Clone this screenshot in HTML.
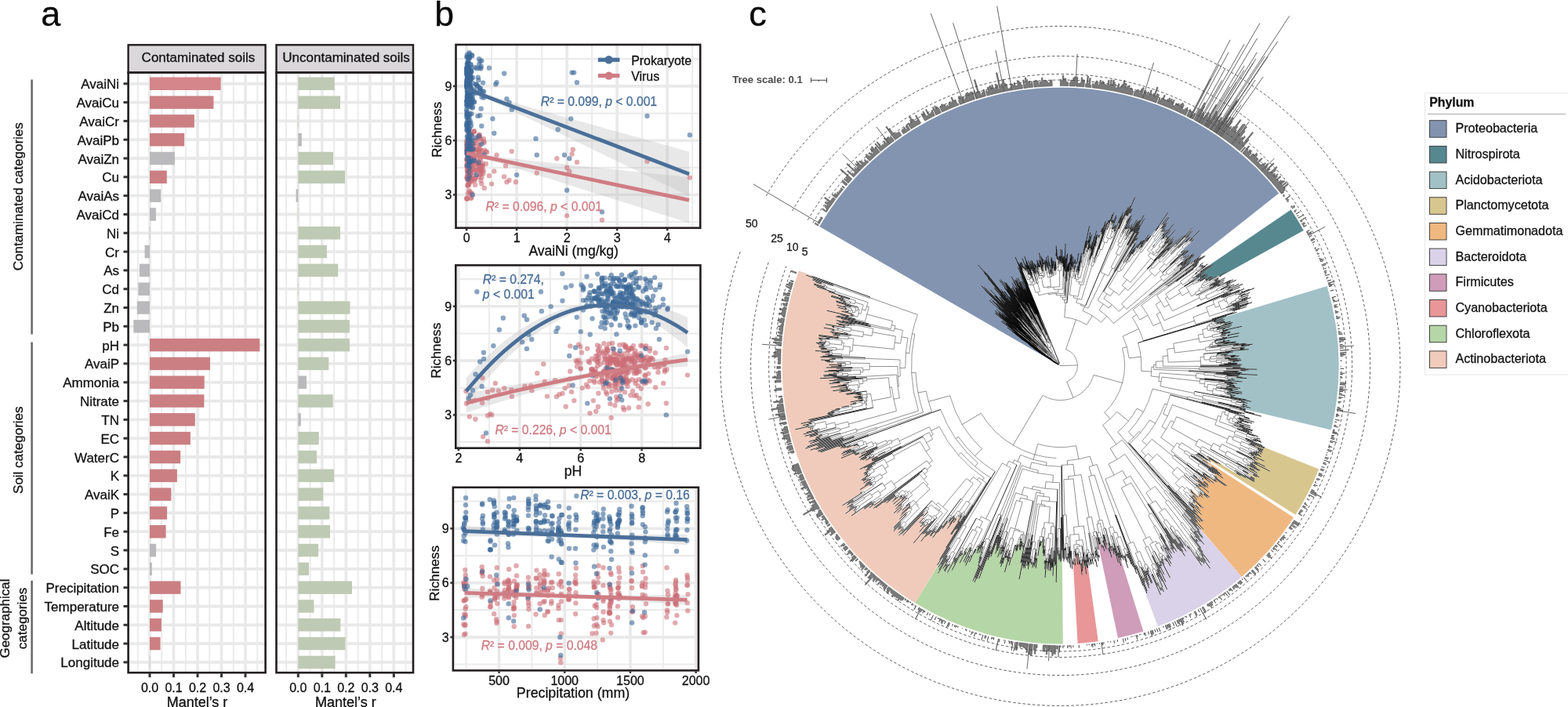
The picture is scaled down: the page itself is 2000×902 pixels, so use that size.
<!DOCTYPE html>
<html><head><meta charset="utf-8"><title>Figure</title>
<style>html,body{margin:0;padding:0;background:#fff;width:2000px;height:902px;overflow:hidden}
svg{display:block;font-family:"Liberation Sans",Arial,sans-serif} text{stroke-width:0.3px}</style></head>
<body><svg width="2000" height="902" viewBox="0 0 2000 902">
<rect width="2000" height="902" fill="#fff"/>
<rect x="163.6" y="92.6" width="175.00000000000003" height="765.6" fill="#fff"/>
<line x1="175.8" y1="92.6" x2="175.8" y2="858.2" stroke="#ebebeb" stroke-width="2.0"/>
<line x1="206.2" y1="92.6" x2="206.2" y2="858.2" stroke="#ebebeb" stroke-width="2.0"/>
<line x1="236.8" y1="92.6" x2="236.8" y2="858.2" stroke="#ebebeb" stroke-width="2.0"/>
<line x1="267.2" y1="92.6" x2="267.2" y2="858.2" stroke="#ebebeb" stroke-width="2.0"/>
<line x1="297.8" y1="92.6" x2="297.8" y2="858.2" stroke="#ebebeb" stroke-width="2.0"/>
<line x1="328.2" y1="92.6" x2="328.2" y2="858.2" stroke="#ebebeb" stroke-width="2.0"/>
<line x1="191.0" y1="92.6" x2="191.0" y2="858.2" stroke="#e9e9e9" stroke-width="3.6"/>
<line x1="221.5" y1="92.6" x2="221.5" y2="858.2" stroke="#e9e9e9" stroke-width="3.6"/>
<line x1="252.0" y1="92.6" x2="252.0" y2="858.2" stroke="#e9e9e9" stroke-width="3.6"/>
<line x1="282.5" y1="92.6" x2="282.5" y2="858.2" stroke="#e9e9e9" stroke-width="3.6"/>
<line x1="313.0" y1="92.6" x2="313.0" y2="858.2" stroke="#e9e9e9" stroke-width="3.6"/>
<line x1="163.6" y1="106.8" x2="338.6" y2="106.8" stroke="#e9e9e9" stroke-width="3.8"/>
<line x1="163.6" y1="130.6" x2="338.6" y2="130.6" stroke="#e9e9e9" stroke-width="3.8"/>
<line x1="163.6" y1="154.4" x2="338.6" y2="154.4" stroke="#e9e9e9" stroke-width="3.8"/>
<line x1="163.6" y1="178.2" x2="338.6" y2="178.2" stroke="#e9e9e9" stroke-width="3.8"/>
<line x1="163.6" y1="202.0" x2="338.6" y2="202.0" stroke="#e9e9e9" stroke-width="3.8"/>
<line x1="163.6" y1="225.8" x2="338.6" y2="225.8" stroke="#e9e9e9" stroke-width="3.8"/>
<line x1="163.6" y1="249.7" x2="338.6" y2="249.7" stroke="#e9e9e9" stroke-width="3.8"/>
<line x1="163.6" y1="273.5" x2="338.6" y2="273.5" stroke="#e9e9e9" stroke-width="3.8"/>
<line x1="163.6" y1="297.3" x2="338.6" y2="297.3" stroke="#e9e9e9" stroke-width="3.8"/>
<line x1="163.6" y1="321.1" x2="338.6" y2="321.1" stroke="#e9e9e9" stroke-width="3.8"/>
<line x1="163.6" y1="344.9" x2="338.6" y2="344.9" stroke="#e9e9e9" stroke-width="3.8"/>
<line x1="163.6" y1="368.7" x2="338.6" y2="368.7" stroke="#e9e9e9" stroke-width="3.8"/>
<line x1="163.6" y1="392.5" x2="338.6" y2="392.5" stroke="#e9e9e9" stroke-width="3.8"/>
<line x1="163.6" y1="416.3" x2="338.6" y2="416.3" stroke="#e9e9e9" stroke-width="3.8"/>
<line x1="163.6" y1="440.1" x2="338.6" y2="440.1" stroke="#e9e9e9" stroke-width="3.8"/>
<line x1="163.6" y1="463.9" x2="338.6" y2="463.9" stroke="#e9e9e9" stroke-width="3.8"/>
<line x1="163.6" y1="487.8" x2="338.6" y2="487.8" stroke="#e9e9e9" stroke-width="3.8"/>
<line x1="163.6" y1="511.6" x2="338.6" y2="511.6" stroke="#e9e9e9" stroke-width="3.8"/>
<line x1="163.6" y1="535.4" x2="338.6" y2="535.4" stroke="#e9e9e9" stroke-width="3.8"/>
<line x1="163.6" y1="559.2" x2="338.6" y2="559.2" stroke="#e9e9e9" stroke-width="3.8"/>
<line x1="163.6" y1="583.0" x2="338.6" y2="583.0" stroke="#e9e9e9" stroke-width="3.8"/>
<line x1="163.6" y1="606.8" x2="338.6" y2="606.8" stroke="#e9e9e9" stroke-width="3.8"/>
<line x1="163.6" y1="630.6" x2="338.6" y2="630.6" stroke="#e9e9e9" stroke-width="3.8"/>
<line x1="163.6" y1="654.4" x2="338.6" y2="654.4" stroke="#e9e9e9" stroke-width="3.8"/>
<line x1="163.6" y1="678.2" x2="338.6" y2="678.2" stroke="#e9e9e9" stroke-width="3.8"/>
<line x1="163.6" y1="702.0" x2="338.6" y2="702.0" stroke="#e9e9e9" stroke-width="3.8"/>
<line x1="163.6" y1="725.9" x2="338.6" y2="725.9" stroke="#e9e9e9" stroke-width="3.8"/>
<line x1="163.6" y1="749.7" x2="338.6" y2="749.7" stroke="#e9e9e9" stroke-width="3.8"/>
<line x1="163.6" y1="773.5" x2="338.6" y2="773.5" stroke="#e9e9e9" stroke-width="3.8"/>
<line x1="163.6" y1="797.3" x2="338.6" y2="797.3" stroke="#e9e9e9" stroke-width="3.8"/>
<line x1="163.6" y1="821.1" x2="338.6" y2="821.1" stroke="#e9e9e9" stroke-width="3.8"/>
<line x1="163.6" y1="844.9" x2="338.6" y2="844.9" stroke="#e9e9e9" stroke-width="3.8"/>
<rect x="191.0" y="98.5" width="90.6" height="16.5" fill="#d4868a"/>
<rect x="191.0" y="122.4" width="81.4" height="16.5" fill="#cb7f83"/>
<rect x="191.0" y="146.2" width="56.9" height="16.5" fill="#cb7f83"/>
<rect x="191.0" y="170.0" width="44.1" height="16.5" fill="#cb7f83"/>
<rect x="191.0" y="193.8" width="31.9" height="16.5" fill="#bab9bb"/>
<rect x="191.0" y="217.6" width="21.8" height="16.5" fill="#cb7f83"/>
<rect x="191.0" y="241.4" width="14.2" height="16.5" fill="#bab9bb"/>
<rect x="191.0" y="265.2" width="7.9" height="16.5" fill="#bab9bb"/>
<rect x="190.5" y="289.0" width="1.0" height="16.5" fill="#bab9bb" opacity="0.6"/>
<rect x="184.6" y="312.8" width="6.4" height="16.5" fill="#bab9bb"/>
<rect x="177.9" y="336.6" width="13.1" height="16.5" fill="#bab9bb"/>
<rect x="176.4" y="360.5" width="14.6" height="16.5" fill="#bab9bb"/>
<rect x="174.8" y="384.3" width="16.2" height="16.5" fill="#bab9bb"/>
<rect x="170.3" y="408.1" width="20.7" height="16.5" fill="#bab9bb"/>
<rect x="191.0" y="431.9" width="140.3" height="16.5" fill="#cb7f83"/>
<rect x="191.0" y="455.7" width="77.0" height="16.5" fill="#cb7f83"/>
<rect x="191.0" y="479.5" width="69.7" height="16.5" fill="#cb7f83"/>
<rect x="191.0" y="503.3" width="69.4" height="16.5" fill="#cb7f83"/>
<rect x="191.0" y="527.1" width="57.8" height="16.5" fill="#cb7f83"/>
<rect x="191.0" y="550.9" width="51.9" height="16.5" fill="#cb7f83"/>
<rect x="191.0" y="574.8" width="39.2" height="16.5" fill="#cb7f83"/>
<rect x="191.0" y="598.6" width="34.9" height="16.5" fill="#cb7f83"/>
<rect x="191.0" y="622.4" width="27.4" height="16.5" fill="#cb7f83"/>
<rect x="191.0" y="646.2" width="22.1" height="16.5" fill="#cb7f83"/>
<rect x="191.0" y="670.0" width="20.6" height="16.5" fill="#cb7f83"/>
<rect x="191.0" y="693.8" width="8.1" height="16.5" fill="#bab9bb"/>
<rect x="191.0" y="717.6" width="2.8" height="16.5" fill="#bab9bb"/>
<rect x="191.0" y="741.4" width="39.5" height="16.5" fill="#cb7f83"/>
<rect x="191.0" y="765.2" width="16.7" height="16.5" fill="#cb7f83"/>
<rect x="191.0" y="789.0" width="14.9" height="16.5" fill="#cb7f83"/>
<rect x="191.0" y="812.8" width="13.5" height="16.5" fill="#cb7f83"/>
<rect x="190.5" y="836.7" width="1.0" height="16.5" fill="#bab9bb" opacity="0.6"/>
<rect x="163.6" y="57.3" width="175.00000000000003" height="35.3" fill="#dad8db" stroke="#231f20" stroke-width="2.4"/>
<text x="252.9" y="79.4" text-anchor="middle" font-size="17" fill="#111" stroke="#111">Contaminated soils</text>
<rect x="163.6" y="92.6" width="175.00000000000003" height="765.6" fill="none" stroke="#231f20" stroke-width="2.6"/>
<line x1="191.0" y1="859.2" x2="191.0" y2="864.2" stroke="#333" stroke-width="3"/>
<text x="191.0" y="882.5" text-anchor="middle" font-size="16" fill="#111" stroke="#111">0.0</text>
<line x1="221.5" y1="859.2" x2="221.5" y2="864.2" stroke="#333" stroke-width="3"/>
<text x="221.5" y="882.5" text-anchor="middle" font-size="16" fill="#111" stroke="#111">0.1</text>
<line x1="252.0" y1="859.2" x2="252.0" y2="864.2" stroke="#333" stroke-width="3"/>
<text x="252.0" y="882.5" text-anchor="middle" font-size="16" fill="#111" stroke="#111">0.2</text>
<line x1="282.5" y1="859.2" x2="282.5" y2="864.2" stroke="#333" stroke-width="3"/>
<text x="282.5" y="882.5" text-anchor="middle" font-size="16" fill="#111" stroke="#111">0.3</text>
<line x1="313.0" y1="859.2" x2="313.0" y2="864.2" stroke="#333" stroke-width="3"/>
<text x="313.0" y="882.5" text-anchor="middle" font-size="16" fill="#111" stroke="#111">0.4</text>
<text x="251.5" y="901.6" text-anchor="middle" font-size="18" fill="#111" stroke="#111">Mantel’s r</text>
<rect x="352.5" y="92.6" width="174.5" height="765.6" fill="#fff"/>
<line x1="365.1" y1="92.6" x2="365.1" y2="858.2" stroke="#ebebeb" stroke-width="2.0"/>
<line x1="395.6" y1="92.6" x2="395.6" y2="858.2" stroke="#ebebeb" stroke-width="2.0"/>
<line x1="426.1" y1="92.6" x2="426.1" y2="858.2" stroke="#ebebeb" stroke-width="2.0"/>
<line x1="456.6" y1="92.6" x2="456.6" y2="858.2" stroke="#ebebeb" stroke-width="2.0"/>
<line x1="487.1" y1="92.6" x2="487.1" y2="858.2" stroke="#ebebeb" stroke-width="2.0"/>
<line x1="517.5" y1="92.6" x2="517.5" y2="858.2" stroke="#ebebeb" stroke-width="2.0"/>
<line x1="380.3" y1="92.6" x2="380.3" y2="858.2" stroke="#e9e9e9" stroke-width="3.6"/>
<line x1="410.8" y1="92.6" x2="410.8" y2="858.2" stroke="#e9e9e9" stroke-width="3.6"/>
<line x1="441.3" y1="92.6" x2="441.3" y2="858.2" stroke="#e9e9e9" stroke-width="3.6"/>
<line x1="471.8" y1="92.6" x2="471.8" y2="858.2" stroke="#e9e9e9" stroke-width="3.6"/>
<line x1="502.3" y1="92.6" x2="502.3" y2="858.2" stroke="#e9e9e9" stroke-width="3.6"/>
<line x1="352.5" y1="106.8" x2="527.0" y2="106.8" stroke="#e9e9e9" stroke-width="3.8"/>
<line x1="352.5" y1="130.6" x2="527.0" y2="130.6" stroke="#e9e9e9" stroke-width="3.8"/>
<line x1="352.5" y1="154.4" x2="527.0" y2="154.4" stroke="#e9e9e9" stroke-width="3.8"/>
<line x1="352.5" y1="178.2" x2="527.0" y2="178.2" stroke="#e9e9e9" stroke-width="3.8"/>
<line x1="352.5" y1="202.0" x2="527.0" y2="202.0" stroke="#e9e9e9" stroke-width="3.8"/>
<line x1="352.5" y1="225.8" x2="527.0" y2="225.8" stroke="#e9e9e9" stroke-width="3.8"/>
<line x1="352.5" y1="249.7" x2="527.0" y2="249.7" stroke="#e9e9e9" stroke-width="3.8"/>
<line x1="352.5" y1="273.5" x2="527.0" y2="273.5" stroke="#e9e9e9" stroke-width="3.8"/>
<line x1="352.5" y1="297.3" x2="527.0" y2="297.3" stroke="#e9e9e9" stroke-width="3.8"/>
<line x1="352.5" y1="321.1" x2="527.0" y2="321.1" stroke="#e9e9e9" stroke-width="3.8"/>
<line x1="352.5" y1="344.9" x2="527.0" y2="344.9" stroke="#e9e9e9" stroke-width="3.8"/>
<line x1="352.5" y1="368.7" x2="527.0" y2="368.7" stroke="#e9e9e9" stroke-width="3.8"/>
<line x1="352.5" y1="392.5" x2="527.0" y2="392.5" stroke="#e9e9e9" stroke-width="3.8"/>
<line x1="352.5" y1="416.3" x2="527.0" y2="416.3" stroke="#e9e9e9" stroke-width="3.8"/>
<line x1="352.5" y1="440.1" x2="527.0" y2="440.1" stroke="#e9e9e9" stroke-width="3.8"/>
<line x1="352.5" y1="463.9" x2="527.0" y2="463.9" stroke="#e9e9e9" stroke-width="3.8"/>
<line x1="352.5" y1="487.8" x2="527.0" y2="487.8" stroke="#e9e9e9" stroke-width="3.8"/>
<line x1="352.5" y1="511.6" x2="527.0" y2="511.6" stroke="#e9e9e9" stroke-width="3.8"/>
<line x1="352.5" y1="535.4" x2="527.0" y2="535.4" stroke="#e9e9e9" stroke-width="3.8"/>
<line x1="352.5" y1="559.2" x2="527.0" y2="559.2" stroke="#e9e9e9" stroke-width="3.8"/>
<line x1="352.5" y1="583.0" x2="527.0" y2="583.0" stroke="#e9e9e9" stroke-width="3.8"/>
<line x1="352.5" y1="606.8" x2="527.0" y2="606.8" stroke="#e9e9e9" stroke-width="3.8"/>
<line x1="352.5" y1="630.6" x2="527.0" y2="630.6" stroke="#e9e9e9" stroke-width="3.8"/>
<line x1="352.5" y1="654.4" x2="527.0" y2="654.4" stroke="#e9e9e9" stroke-width="3.8"/>
<line x1="352.5" y1="678.2" x2="527.0" y2="678.2" stroke="#e9e9e9" stroke-width="3.8"/>
<line x1="352.5" y1="702.0" x2="527.0" y2="702.0" stroke="#e9e9e9" stroke-width="3.8"/>
<line x1="352.5" y1="725.9" x2="527.0" y2="725.9" stroke="#e9e9e9" stroke-width="3.8"/>
<line x1="352.5" y1="749.7" x2="527.0" y2="749.7" stroke="#e9e9e9" stroke-width="3.8"/>
<line x1="352.5" y1="773.5" x2="527.0" y2="773.5" stroke="#e9e9e9" stroke-width="3.8"/>
<line x1="352.5" y1="797.3" x2="527.0" y2="797.3" stroke="#e9e9e9" stroke-width="3.8"/>
<line x1="352.5" y1="821.1" x2="527.0" y2="821.1" stroke="#e9e9e9" stroke-width="3.8"/>
<line x1="352.5" y1="844.9" x2="527.0" y2="844.9" stroke="#e9e9e9" stroke-width="3.8"/>
<rect x="380.3" y="98.5" width="46.5" height="16.5" fill="#bfcab5"/>
<rect x="380.3" y="122.4" width="53.7" height="16.5" fill="#bfcab5"/>
<rect x="379.8" y="146.2" width="1.0" height="16.5" fill="#bfcab5" opacity="0.6"/>
<rect x="380.3" y="170.0" width="4.5" height="16.5" fill="#bab9bb"/>
<rect x="380.3" y="193.8" width="44.7" height="16.5" fill="#bfcab5"/>
<rect x="380.3" y="217.6" width="59.7" height="16.5" fill="#bfcab5"/>
<rect x="377.6" y="241.4" width="2.7" height="16.5" fill="#bab9bb"/>
<rect x="379.8" y="265.2" width="1.0" height="16.5" fill="#bfcab5" opacity="0.6"/>
<rect x="380.3" y="289.0" width="53.7" height="16.5" fill="#bfcab5"/>
<rect x="380.3" y="312.8" width="36.6" height="16.5" fill="#bfcab5"/>
<rect x="380.3" y="336.6" width="50.9" height="16.5" fill="#bfcab5"/>
<rect x="379.8" y="360.5" width="1.0" height="16.5" fill="#bfcab5" opacity="0.6"/>
<rect x="380.3" y="384.3" width="66.2" height="16.5" fill="#bfcab5"/>
<rect x="380.3" y="408.1" width="65.6" height="16.5" fill="#bfcab5"/>
<rect x="380.3" y="431.9" width="65.6" height="16.5" fill="#bfcab5"/>
<rect x="380.3" y="455.7" width="39.0" height="16.5" fill="#bfcab5"/>
<rect x="380.3" y="479.5" width="10.7" height="16.5" fill="#bab9bb"/>
<rect x="380.3" y="503.3" width="44.4" height="16.5" fill="#bfcab5"/>
<rect x="380.3" y="527.1" width="3.5" height="16.5" fill="#bab9bb"/>
<rect x="380.3" y="550.9" width="26.4" height="16.5" fill="#bfcab5"/>
<rect x="380.3" y="574.8" width="23.7" height="16.5" fill="#bfcab5"/>
<rect x="380.3" y="598.6" width="45.8" height="16.5" fill="#bfcab5"/>
<rect x="380.3" y="622.4" width="31.9" height="16.5" fill="#bfcab5"/>
<rect x="380.3" y="646.2" width="40.1" height="16.5" fill="#bfcab5"/>
<rect x="380.3" y="670.0" width="40.8" height="16.5" fill="#bfcab5"/>
<rect x="380.3" y="693.8" width="25.8" height="16.5" fill="#bfcab5"/>
<rect x="380.3" y="717.6" width="13.7" height="16.5" fill="#bfcab5"/>
<rect x="380.3" y="741.4" width="68.7" height="16.5" fill="#bfcab5"/>
<rect x="380.3" y="765.2" width="20.1" height="16.5" fill="#bfcab5"/>
<rect x="380.3" y="789.0" width="54.0" height="16.5" fill="#bfcab5"/>
<rect x="380.3" y="812.8" width="60.1" height="16.5" fill="#bfcab5"/>
<rect x="380.3" y="836.7" width="47.3" height="16.5" fill="#bfcab5"/>
<rect x="352.5" y="57.3" width="174.5" height="35.3" fill="#dad8db" stroke="#231f20" stroke-width="2.4"/>
<text x="441.6" y="79.4" text-anchor="middle" font-size="17" fill="#111" stroke="#111">Uncontaminated soils</text>
<rect x="352.5" y="92.6" width="174.5" height="765.6" fill="none" stroke="#231f20" stroke-width="2.6"/>
<line x1="380.3" y1="859.2" x2="380.3" y2="864.2" stroke="#333" stroke-width="3"/>
<text x="380.3" y="882.5" text-anchor="middle" font-size="16" fill="#111" stroke="#111">0.0</text>
<line x1="410.8" y1="859.2" x2="410.8" y2="864.2" stroke="#333" stroke-width="3"/>
<text x="410.8" y="882.5" text-anchor="middle" font-size="16" fill="#111" stroke="#111">0.1</text>
<line x1="441.3" y1="859.2" x2="441.3" y2="864.2" stroke="#333" stroke-width="3"/>
<text x="441.3" y="882.5" text-anchor="middle" font-size="16" fill="#111" stroke="#111">0.2</text>
<line x1="471.8" y1="859.2" x2="471.8" y2="864.2" stroke="#333" stroke-width="3"/>
<text x="471.8" y="882.5" text-anchor="middle" font-size="16" fill="#111" stroke="#111">0.3</text>
<line x1="502.3" y1="859.2" x2="502.3" y2="864.2" stroke="#333" stroke-width="3"/>
<text x="502.3" y="882.5" text-anchor="middle" font-size="16" fill="#111" stroke="#111">0.4</text>
<text x="440.8" y="901.6" text-anchor="middle" font-size="18" fill="#111" stroke="#111">Mantel’s r</text>
<line x1="157.5" y1="106.8" x2="163" y2="106.8" stroke="#333" stroke-width="3"/>
<text x="152" y="113.3" text-anchor="end" font-size="17" fill="#111" stroke="#111">AvaiNi</text>
<line x1="157.5" y1="130.6" x2="163" y2="130.6" stroke="#333" stroke-width="3"/>
<text x="152" y="137.1" text-anchor="end" font-size="17" fill="#111" stroke="#111">AvaiCu</text>
<line x1="157.5" y1="154.4" x2="163" y2="154.4" stroke="#333" stroke-width="3"/>
<text x="152" y="160.9" text-anchor="end" font-size="17" fill="#111" stroke="#111">AvaiCr</text>
<line x1="157.5" y1="178.2" x2="163" y2="178.2" stroke="#333" stroke-width="3"/>
<text x="152" y="184.7" text-anchor="end" font-size="17" fill="#111" stroke="#111">AvaiPb</text>
<line x1="157.5" y1="202.0" x2="163" y2="202.0" stroke="#333" stroke-width="3"/>
<text x="152" y="208.5" text-anchor="end" font-size="17" fill="#111" stroke="#111">AvaiZn</text>
<line x1="157.5" y1="225.8" x2="163" y2="225.8" stroke="#333" stroke-width="3"/>
<text x="152" y="232.3" text-anchor="end" font-size="17" fill="#111" stroke="#111">Cu</text>
<line x1="157.5" y1="249.7" x2="163" y2="249.7" stroke="#333" stroke-width="3"/>
<text x="152" y="256.2" text-anchor="end" font-size="17" fill="#111" stroke="#111">AvaiAs</text>
<line x1="157.5" y1="273.5" x2="163" y2="273.5" stroke="#333" stroke-width="3"/>
<text x="152" y="280.0" text-anchor="end" font-size="17" fill="#111" stroke="#111">AvaiCd</text>
<line x1="157.5" y1="297.3" x2="163" y2="297.3" stroke="#333" stroke-width="3"/>
<text x="152" y="303.8" text-anchor="end" font-size="17" fill="#111" stroke="#111">Ni</text>
<line x1="157.5" y1="321.1" x2="163" y2="321.1" stroke="#333" stroke-width="3"/>
<text x="152" y="327.6" text-anchor="end" font-size="17" fill="#111" stroke="#111">Cr</text>
<line x1="157.5" y1="344.9" x2="163" y2="344.9" stroke="#333" stroke-width="3"/>
<text x="152" y="351.4" text-anchor="end" font-size="17" fill="#111" stroke="#111">As</text>
<line x1="157.5" y1="368.7" x2="163" y2="368.7" stroke="#333" stroke-width="3"/>
<text x="152" y="375.2" text-anchor="end" font-size="17" fill="#111" stroke="#111">Cd</text>
<line x1="157.5" y1="392.5" x2="163" y2="392.5" stroke="#333" stroke-width="3"/>
<text x="152" y="399.0" text-anchor="end" font-size="17" fill="#111" stroke="#111">Zn</text>
<line x1="157.5" y1="416.3" x2="163" y2="416.3" stroke="#333" stroke-width="3"/>
<text x="152" y="422.8" text-anchor="end" font-size="17" fill="#111" stroke="#111">Pb</text>
<line x1="157.5" y1="440.1" x2="163" y2="440.1" stroke="#333" stroke-width="3"/>
<text x="152" y="446.6" text-anchor="end" font-size="17" fill="#111" stroke="#111">pH</text>
<line x1="157.5" y1="463.9" x2="163" y2="463.9" stroke="#333" stroke-width="3"/>
<text x="152" y="470.4" text-anchor="end" font-size="17" fill="#111" stroke="#111">AvaiP</text>
<line x1="157.5" y1="487.8" x2="163" y2="487.8" stroke="#333" stroke-width="3"/>
<text x="152" y="494.3" text-anchor="end" font-size="17" fill="#111" stroke="#111">Ammonia</text>
<line x1="157.5" y1="511.6" x2="163" y2="511.6" stroke="#333" stroke-width="3"/>
<text x="152" y="518.1" text-anchor="end" font-size="17" fill="#111" stroke="#111">Nitrate</text>
<line x1="157.5" y1="535.4" x2="163" y2="535.4" stroke="#333" stroke-width="3"/>
<text x="152" y="541.9" text-anchor="end" font-size="17" fill="#111" stroke="#111">TN</text>
<line x1="157.5" y1="559.2" x2="163" y2="559.2" stroke="#333" stroke-width="3"/>
<text x="152" y="565.7" text-anchor="end" font-size="17" fill="#111" stroke="#111">EC</text>
<line x1="157.5" y1="583.0" x2="163" y2="583.0" stroke="#333" stroke-width="3"/>
<text x="152" y="589.5" text-anchor="end" font-size="17" fill="#111" stroke="#111">WaterC</text>
<line x1="157.5" y1="606.8" x2="163" y2="606.8" stroke="#333" stroke-width="3"/>
<text x="152" y="613.3" text-anchor="end" font-size="17" fill="#111" stroke="#111">K</text>
<line x1="157.5" y1="630.6" x2="163" y2="630.6" stroke="#333" stroke-width="3"/>
<text x="152" y="637.1" text-anchor="end" font-size="17" fill="#111" stroke="#111">AvaiK</text>
<line x1="157.5" y1="654.4" x2="163" y2="654.4" stroke="#333" stroke-width="3"/>
<text x="152" y="660.9" text-anchor="end" font-size="17" fill="#111" stroke="#111">P</text>
<line x1="157.5" y1="678.2" x2="163" y2="678.2" stroke="#333" stroke-width="3"/>
<text x="152" y="684.7" text-anchor="end" font-size="17" fill="#111" stroke="#111">Fe</text>
<line x1="157.5" y1="702.0" x2="163" y2="702.0" stroke="#333" stroke-width="3"/>
<text x="152" y="708.5" text-anchor="end" font-size="17" fill="#111" stroke="#111">S</text>
<line x1="157.5" y1="725.9" x2="163" y2="725.9" stroke="#333" stroke-width="3"/>
<text x="152" y="732.4" text-anchor="end" font-size="17" fill="#111" stroke="#111">SOC</text>
<line x1="157.5" y1="749.7" x2="163" y2="749.7" stroke="#333" stroke-width="3"/>
<text x="152" y="756.2" text-anchor="end" font-size="17" fill="#111" stroke="#111">Precipitation</text>
<line x1="157.5" y1="773.5" x2="163" y2="773.5" stroke="#333" stroke-width="3"/>
<text x="152" y="780.0" text-anchor="end" font-size="17" fill="#111" stroke="#111">Temperature</text>
<line x1="157.5" y1="797.3" x2="163" y2="797.3" stroke="#333" stroke-width="3"/>
<text x="152" y="803.8" text-anchor="end" font-size="17" fill="#111" stroke="#111">Altitude</text>
<line x1="157.5" y1="821.1" x2="163" y2="821.1" stroke="#333" stroke-width="3"/>
<text x="152" y="827.6" text-anchor="end" font-size="17" fill="#111" stroke="#111">Latitude</text>
<line x1="157.5" y1="844.9" x2="163" y2="844.9" stroke="#333" stroke-width="3"/>
<text x="152" y="851.4" text-anchor="end" font-size="17" fill="#111" stroke="#111">Longitude</text>
<line x1="40.6" y1="101.5" x2="40.6" y2="426.5" stroke="#666" stroke-width="2.5"/>
<line x1="40.6" y1="436.5" x2="40.6" y2="732.7" stroke="#666" stroke-width="2.5"/>
<line x1="40.6" y1="740.7" x2="40.6" y2="859.3" stroke="#666" stroke-width="2.5"/>
<text transform="translate(28.8,250.7) rotate(-90)" text-anchor="middle" font-size="17" fill="#111" stroke="#111">Contaminated categories</text>
<text transform="translate(28.8,574.2) rotate(-90)" text-anchor="middle" font-size="17" fill="#111" stroke="#111">Soil categories</text>
<text transform="translate(12.0,789) rotate(-90)" text-anchor="middle" font-size="17" fill="#111" stroke="#111">Geographical</text>
<text transform="translate(33.5,789) rotate(-90)" text-anchor="middle" font-size="17" fill="#111" stroke="#111">categories</text>
<text x="52.2" y="32.5" font-size="45" fill="#0a0a0a" stroke="#0a0a0a">a</text>
<rect x="581.5" y="57.0" width="311.70000000000005" height="233.8" fill="#fff"/>
<line x1="627.1" y1="57.0" x2="627.1" y2="290.8" stroke="#ebebeb" stroke-width="2.0"/>
<line x1="691.1" y1="57.0" x2="691.1" y2="290.8" stroke="#ebebeb" stroke-width="2.0"/>
<line x1="755.1" y1="57.0" x2="755.1" y2="290.8" stroke="#ebebeb" stroke-width="2.0"/>
<line x1="819.1" y1="57.0" x2="819.1" y2="290.8" stroke="#ebebeb" stroke-width="2.0"/>
<line x1="883.1" y1="57.0" x2="883.1" y2="290.8" stroke="#ebebeb" stroke-width="2.0"/>
<line x1="581.5" y1="283.1" x2="893.2" y2="283.1" stroke="#ebebeb" stroke-width="2.2"/>
<line x1="581.5" y1="213.9" x2="893.2" y2="213.9" stroke="#ebebeb" stroke-width="2.2"/>
<line x1="581.5" y1="144.6" x2="893.2" y2="144.6" stroke="#ebebeb" stroke-width="2.2"/>
<line x1="581.5" y1="75.2" x2="893.2" y2="75.2" stroke="#ebebeb" stroke-width="2.2"/>
<line x1="595.1" y1="57.0" x2="595.1" y2="290.8" stroke="#e9e9e9" stroke-width="3.6"/>
<line x1="659.1" y1="57.0" x2="659.1" y2="290.8" stroke="#e9e9e9" stroke-width="3.6"/>
<line x1="723.1" y1="57.0" x2="723.1" y2="290.8" stroke="#e9e9e9" stroke-width="3.6"/>
<line x1="787.1" y1="57.0" x2="787.1" y2="290.8" stroke="#e9e9e9" stroke-width="3.6"/>
<line x1="851.1" y1="57.0" x2="851.1" y2="290.8" stroke="#e9e9e9" stroke-width="3.6"/>
<line x1="581.5" y1="248.5" x2="893.2" y2="248.5" stroke="#e9e9e9" stroke-width="3.6"/>
<line x1="581.5" y1="179.2" x2="893.2" y2="179.2" stroke="#e9e9e9" stroke-width="3.6"/>
<line x1="581.5" y1="109.9" x2="893.2" y2="109.9" stroke="#e9e9e9" stroke-width="3.6"/>
<path d="M595.1,110.0 L604.6,114.0 L614.0,117.6 L623.5,120.9 L633.0,124.0 L642.4,126.9 L651.9,129.8 L661.3,132.5 L670.8,135.3 L680.3,138.0 L689.7,140.7 L699.2,143.3 L708.7,146.0 L718.1,148.7 L727.6,151.3 L737.0,154.0 L746.5,156.6 L756.0,159.3 L765.4,161.9 L774.9,164.5 L784.4,167.2 L793.8,169.8 L803.3,172.5 L812.8,175.1 L822.2,177.7 L831.7,180.3 L841.1,183.0 L850.6,185.6 L860.1,188.2 L869.5,190.9 L879.0,193.5 L879.0,250.3 L869.5,245.7 L860.1,241.1 L850.6,236.5 L841.1,231.9 L831.7,227.3 L822.2,222.7 L812.8,218.1 L803.3,213.5 L793.8,208.9 L784.4,204.3 L774.9,199.7 L765.4,195.1 L756.0,190.5 L746.5,185.9 L737.0,181.3 L727.6,176.7 L718.1,172.2 L708.7,167.6 L699.2,163.0 L689.7,158.5 L680.3,153.9 L670.8,149.4 L661.3,144.9 L651.9,140.4 L642.4,136.0 L633.0,131.7 L623.5,127.6 L614.0,123.7 L604.6,120.1 L595.1,116.8Z" fill="#bdbdbd" fill-opacity="0.35"/>
<path d="M595.1,192.0 L604.6,194.3 L614.0,196.4 L623.5,198.1 L633.0,199.5 L642.4,200.8 L651.9,202.0 L661.3,203.1 L670.8,204.2 L680.3,205.2 L689.7,206.3 L699.2,207.3 L708.7,208.3 L718.1,209.3 L727.6,210.4 L737.0,211.4 L746.5,212.4 L756.0,213.4 L765.4,214.3 L774.9,215.3 L784.4,216.3 L793.8,217.3 L803.3,218.3 L812.8,219.3 L822.2,220.3 L831.7,221.3 L841.1,222.3 L850.6,223.2 L860.1,224.2 L869.5,225.2 L879.0,226.2 L879.0,284.6 L869.5,281.6 L860.1,278.6 L850.6,275.6 L841.1,272.5 L831.7,269.5 L822.2,266.5 L812.8,263.5 L803.3,260.5 L793.8,257.5 L784.4,254.5 L774.9,251.5 L765.4,248.5 L756.0,245.4 L746.5,242.4 L737.0,239.4 L727.6,236.4 L718.1,233.5 L708.7,230.5 L699.2,227.5 L689.7,224.5 L680.3,221.6 L670.8,218.6 L661.3,215.7 L651.9,212.8 L642.4,210.0 L633.0,207.3 L623.5,204.7 L614.0,202.4 L604.6,200.5 L595.1,198.8Z" fill="#bdbdbd" fill-opacity="0.35"/>
<g stroke="#cc6d76" stroke-opacity="0.58" stroke-width="6.4" stroke-linecap="round">
<path d="M606.1 235.9h0"/>
<path d="M602.4 229.4h0"/>
<path d="M611.1 216.3h0"/>
<path d="M598.9 182.2h0"/>
<path d="M603.3 205.2h0"/>
<path d="M598.2 200.6h0"/>
<path d="M601.8 246.6h0"/>
<path d="M597.6 198.3h0"/>
<path d="M615.3 197.8h0"/>
<path d="M597.6 216.3h0"/>
<path d="M600.6 211.0h0"/>
<path d="M612.0 172.8h0"/>
<path d="M614.4 192.4h0"/>
<path d="M595.7 226.7h0"/>
<path d="M596.7 212.1h0"/>
<path d="M596.1 201.1h0"/>
<path d="M597.1 235.5h0"/>
<path d="M598.9 221.8h0"/>
<path d="M616.7 217.5h0"/>
<path d="M609.2 193.1h0"/>
<path d="M611.1 171.6h0"/>
<path d="M598.2 243.3h0"/>
<path d="M598.6 222.4h0"/>
<path d="M596.7 211.4h0"/>
<path d="M596.7 236.8h0"/>
<path d="M595.1 182.8h0"/>
<path d="M598.9 219.4h0"/>
<path d="M598.0 210.2h0"/>
<path d="M596.0 224.9h0"/>
<path d="M596.5 205.5h0"/>
<path d="M609.8 173.9h0"/>
<path d="M600.5 188.5h0"/>
<path d="M596.4 229.0h0"/>
<path d="M598.1 226.8h0"/>
<path d="M598.4 209.2h0"/>
<path d="M601.9 182.6h0"/>
<path d="M599.9 206.5h0"/>
<path d="M595.9 183.9h0"/>
<path d="M599.8 194.0h0"/>
<path d="M597.5 191.5h0"/>
<path d="M595.8 253.8h0"/>
<path d="M596.9 167.9h0"/>
<path d="M611.3 194.0h0"/>
<path d="M598.9 222.1h0"/>
<path d="M597.1 229.3h0"/>
<path d="M611.3 211.8h0"/>
<path d="M601.3 194.8h0"/>
<path d="M604.4 215.9h0"/>
<path d="M597.8 204.0h0"/>
<path d="M600.8 204.1h0"/>
<path d="M599.4 231.3h0"/>
<path d="M598.3 235.6h0"/>
<path d="M605.1 183.4h0"/>
<path d="M607.6 190.2h0"/>
<path d="M601.4 200.9h0"/>
<path d="M597.3 217.7h0"/>
<path d="M604.1 192.8h0"/>
<path d="M604.7 167.8h0"/>
<path d="M613.4 222.6h0"/>
<path d="M606.0 227.3h0"/>
<path d="M605.7 228.6h0"/>
<path d="M599.9 222.4h0"/>
<path d="M595.4 193.3h0"/>
<path d="M600.5 196.2h0"/>
<path d="M601.1 203.3h0"/>
<path d="M604.5 206.4h0"/>
<path d="M609.3 216.4h0"/>
<path d="M606.5 178.8h0"/>
<path d="M599.8 227.0h0"/>
<path d="M607.4 224.6h0"/>
<path d="M601.2 207.5h0"/>
<path d="M608.2 207.9h0"/>
<path d="M600.5 169.5h0"/>
<path d="M605.3 200.6h0"/>
<path d="M600.0 196.0h0"/>
<path d="M604.8 219.9h0"/>
<path d="M599.2 205.0h0"/>
<path d="M608.8 209.4h0"/>
<path d="M596.9 188.6h0"/>
<path d="M601.0 231.9h0"/>
<path d="M596.9 247.3h0"/>
<path d="M599.2 199.2h0"/>
<path d="M599.4 224.6h0"/>
<path d="M614.4 226.3h0"/>
<path d="M599.9 230.5h0"/>
<path d="M599.5 216.1h0"/>
<path d="M602.0 202.2h0"/>
<path d="M613.9 215.7h0"/>
<path d="M614.3 219.5h0"/>
<path d="M596.6 220.7h0"/>
<path d="M597.2 235.1h0"/>
<path d="M604.4 210.0h0"/>
<path d="M595.7 194.5h0"/>
<path d="M609.9 184.1h0"/>
<path d="M595.5 226.9h0"/>
<path d="M600.3 201.3h0"/>
<path d="M597.3 215.9h0"/>
<path d="M595.6 204.4h0"/>
<path d="M604.7 167.1h0"/>
<path d="M596.9 212.6h0"/>
<path d="M599.4 219.8h0"/>
<path d="M619.9 193.5h0"/>
<path d="M595.4 213.3h0"/>
<path d="M601.4 227.0h0"/>
<path d="M603.0 212.0h0"/>
<path d="M604.0 201.8h0"/>
<path d="M598.2 173.4h0"/>
<path d="M598.9 223.0h0"/>
<path d="M599.6 184.5h0"/>
<path d="M603.3 215.0h0"/>
<path d="M599.5 227.8h0"/>
<path d="M616.9 180.6h0"/>
<path d="M599.0 211.7h0"/>
<path d="M609.3 209.9h0"/>
<path d="M617.7 239.9h0"/>
<path d="M604.3 184.1h0"/>
<path d="M613.4 230.5h0"/>
<path d="M595.2 203.4h0"/>
<path d="M618.2 191.7h0"/>
<path d="M621.1 194.3h0"/>
<path d="M614.3 211.9h0"/>
<path d="M599.6 246.8h0"/>
<path d="M604.5 191.2h0"/>
<path d="M595.1 252.8h0"/>
<path d="M601.1 224.1h0"/>
<path d="M611.4 189.3h0"/>
<path d="M612.0 202.4h0"/>
<path d="M612.8 177.4h0"/>
<path d="M600.9 207.8h0"/>
<path d="M596.3 192.0h0"/>
<path d="M596.6 223.4h0"/>
<path d="M600.2 190.2h0"/>
<path d="M611.9 184.9h0"/>
<path d="M603.8 186.4h0"/>
<path d="M599.0 215.6h0"/>
<path d="M613.1 203.9h0"/>
<path d="M601.7 202.3h0"/>
<path d="M610.8 226.1h0"/>
<path d="M600.6 253.2h0"/>
<path d="M598.4 201.3h0"/>
<path d="M596.5 201.2h0"/>
<path d="M616.5 221.3h0"/>
<path d="M601.5 193.6h0"/>
<path d="M604.5 168.6h0"/>
<path d="M614.7 216.3h0"/>
<path d="M599.5 190.5h0"/>
<path d="M610.6 218.3h0"/>
<path d="M598.9 200.8h0"/>
<path d="M605.1 230.5h0"/>
<path d="M596.9 236.5h0"/>
<path d="M596.8 205.3h0"/>
<path d="M595.5 253.8h0"/>
<path d="M599.2 178.1h0"/>
<path d="M596.9 190.3h0"/>
<path d="M598.2 203.1h0"/>
<path d="M599.9 180.1h0"/>
<path d="M595.8 218.0h0"/>
<path d="M615.0 211.1h0"/>
<path d="M597.3 212.0h0"/>
<path d="M616.8 177.3h0"/>
<path d="M608.7 199.0h0"/>
<path d="M597.1 212.9h0"/>
<path d="M602.7 193.1h0"/>
<path d="M601.5 171.4h0"/>
<path d="M597.6 198.2h0"/>
<path d="M597.6 220.5h0"/>
<path d="M601.8 203.6h0"/>
<path d="M609.7 205.6h0"/>
<path d="M596.5 181.6h0"/>
<path d="M595.3 190.7h0"/>
<path d="M615.1 208.8h0"/>
<path d="M597.8 207.2h0"/>
<path d="M599.6 198.0h0"/>
<path d="M599.5 204.1h0"/>
<path d="M598.3 206.8h0"/>
<path d="M598.2 212.3h0"/>
<path d="M610.8 194.6h0"/>
<path d="M595.8 196.6h0"/>
<path d="M599.7 219.9h0"/>
<path d="M612.6 177.1h0"/>
<path d="M598.1 211.6h0"/>
<path d="M596.7 225.8h0"/>
<path d="M613.4 222.0h0"/>
<path d="M605.2 204.4h0"/>
<path d="M597.9 216.4h0"/>
<path d="M597.5 221.9h0"/>
<path d="M599.8 184.4h0"/>
<path d="M600.6 207.4h0"/>
<path d="M617.6 182.0h0"/>
<path d="M598.6 175.0h0"/>
<path d="M613.4 212.0h0"/>
<path d="M601.2 203.8h0"/>
<path d="M600.4 205.6h0"/>
<path d="M596.1 195.8h0"/>
<path d="M595.6 209.3h0"/>
<path d="M596.2 217.6h0"/>
<path d="M600.5 220.5h0"/>
<path d="M609.6 213.9h0"/>
<path d="M597.6 201.6h0"/>
<path d="M599.2 204.7h0"/>
<path d="M597.4 198.3h0"/>
<path d="M597.0 213.6h0"/>
<path d="M613.2 217.1h0"/>
<path d="M609.3 190.6h0"/>
<path d="M611.3 174.4h0"/>
<path d="M595.4 185.9h0"/>
<path d="M619.9 209.0h0"/>
<path d="M596.1 210.3h0"/>
<path d="M606.6 217.3h0"/>
<path d="M601.5 190.8h0"/>
<path d="M597.0 206.1h0"/>
<path d="M596.2 204.7h0"/>
<path d="M616.0 211.4h0"/>
<path d="M599.6 244.8h0"/>
<path d="M597.6 217.3h0"/>
<path d="M608.0 178.9h0"/>
<path d="M595.1 179.4h0"/>
<path d="M599.1 209.8h0"/>
<path d="M596.7 213.0h0"/>
<path d="M601.0 211.4h0"/>
<path d="M601.3 199.2h0"/>
<path d="M597.0 196.9h0"/>
<path d="M598.6 195.1h0"/>
<path d="M612.3 190.9h0"/>
<path d="M601.8 217.5h0"/>
<path d="M596.5 227.0h0"/>
<path d="M599.5 219.8h0"/>
<path d="M595.3 189.9h0"/>
<path d="M600.1 186.1h0"/>
<path d="M601.2 171.6h0"/>
<path d="M633.5 197.7h0"/>
<path d="M630.3 218.5h0"/>
<path d="M643.1 225.4h0"/>
<path d="M646.3 232.3h0"/>
<path d="M649.5 230.0h0"/>
<path d="M652.7 193.1h0"/>
<path d="M645.0 211.5h0"/>
<path d="M657.8 232.3h0"/>
<path d="M684.7 220.8h0"/>
<path d="M710.3 202.3h0"/>
<path d="M723.1 213.9h0"/>
<path d="M726.3 218.5h0"/>
<path d="M729.5 196.5h0"/>
<path d="M730.8 190.8h0"/>
<path d="M735.9 206.9h0"/>
<path d="M723.1 275.1h0"/>
<path d="M767.9 280.8h0"/>
<path d="M825.5 205.8h0"/>
<path d="M879.9 226.6h0"/>
<path d="M627.1 234.6h0"/>
<path d="M614.3 234.6h0"/>
<path d="M623.9 224.2h0"/>
<path d="M601.5 252.0h0"/>
</g>
<g stroke="#3a6798" stroke-opacity="0.6" stroke-width="6.4" stroke-linecap="round">
<path d="M595.9 99.2h0"/>
<path d="M598.1 117.6h0"/>
<path d="M598.4 105.9h0"/>
<path d="M600.4 90.5h0"/>
<path d="M600.5 156.5h0"/>
<path d="M601.6 113.4h0"/>
<path d="M600.6 97.5h0"/>
<path d="M597.1 131.0h0"/>
<path d="M597.1 105.9h0"/>
<path d="M596.8 81.2h0"/>
<path d="M596.5 150.1h0"/>
<path d="M601.5 120.4h0"/>
<path d="M596.7 113.8h0"/>
<path d="M597.2 88.2h0"/>
<path d="M601.5 145.2h0"/>
<path d="M598.6 207.8h0"/>
<path d="M598.5 122.0h0"/>
<path d="M612.3 147.2h0"/>
<path d="M598.7 87.4h0"/>
<path d="M595.9 101.2h0"/>
<path d="M596.8 178.1h0"/>
<path d="M598.2 178.5h0"/>
<path d="M597.8 158.2h0"/>
<path d="M602.2 71.3h0"/>
<path d="M595.4 93.8h0"/>
<path d="M595.1 109.9h0"/>
<path d="M602.3 137.7h0"/>
<path d="M598.7 214.1h0"/>
<path d="M596.3 163.1h0"/>
<path d="M596.3 105.2h0"/>
<path d="M597.1 105.1h0"/>
<path d="M595.2 112.0h0"/>
<path d="M607.4 107.8h0"/>
<path d="M595.1 88.7h0"/>
<path d="M601.0 177.4h0"/>
<path d="M596.4 106.1h0"/>
<path d="M596.0 202.8h0"/>
<path d="M596.9 114.7h0"/>
<path d="M617.2 124.6h0"/>
<path d="M596.4 100.8h0"/>
<path d="M595.6 211.1h0"/>
<path d="M617.0 116.9h0"/>
<path d="M595.7 81.9h0"/>
<path d="M597.7 108.6h0"/>
<path d="M617.4 197.5h0"/>
<path d="M596.6 98.7h0"/>
<path d="M612.5 78.1h0"/>
<path d="M598.4 149.6h0"/>
<path d="M599.8 136.0h0"/>
<path d="M597.6 167.9h0"/>
<path d="M595.7 193.0h0"/>
<path d="M597.0 74.1h0"/>
<path d="M598.4 157.2h0"/>
<path d="M595.7 109.3h0"/>
<path d="M608.0 87.4h0"/>
<path d="M612.3 112.5h0"/>
<path d="M597.8 113.8h0"/>
<path d="M598.4 206.3h0"/>
<path d="M597.9 166.1h0"/>
<path d="M599.0 112.5h0"/>
<path d="M597.0 106.3h0"/>
<path d="M596.8 86.8h0"/>
<path d="M596.9 84.9h0"/>
<path d="M598.3 92.1h0"/>
<path d="M595.6 142.2h0"/>
<path d="M598.1 126.6h0"/>
<path d="M600.0 115.2h0"/>
<path d="M602.7 183.2h0"/>
<path d="M597.4 197.1h0"/>
<path d="M596.0 123.9h0"/>
<path d="M597.2 103.9h0"/>
<path d="M596.5 165.2h0"/>
<path d="M614.6 124.1h0"/>
<path d="M598.2 197.6h0"/>
<path d="M596.0 125.3h0"/>
<path d="M596.2 98.0h0"/>
<path d="M599.1 108.3h0"/>
<path d="M597.3 81.2h0"/>
<path d="M602.7 116.4h0"/>
<path d="M600.5 101.3h0"/>
<path d="M606.3 86.0h0"/>
<path d="M598.7 128.3h0"/>
<path d="M599.7 98.5h0"/>
<path d="M600.9 203.1h0"/>
<path d="M600.9 91.6h0"/>
<path d="M602.0 131.2h0"/>
<path d="M597.4 115.4h0"/>
<path d="M597.1 106.9h0"/>
<path d="M595.3 133.2h0"/>
<path d="M595.5 108.2h0"/>
<path d="M595.5 144.2h0"/>
<path d="M604.8 117.0h0"/>
<path d="M596.7 134.1h0"/>
<path d="M611.6 114.8h0"/>
<path d="M597.5 99.0h0"/>
<path d="M599.8 94.3h0"/>
<path d="M613.3 87.5h0"/>
<path d="M595.2 91.1h0"/>
<path d="M616.1 105.6h0"/>
<path d="M595.4 87.3h0"/>
<path d="M595.1 103.1h0"/>
<path d="M598.7 90.5h0"/>
<path d="M596.8 118.4h0"/>
<path d="M597.3 112.1h0"/>
<path d="M599.8 206.5h0"/>
<path d="M599.8 116.9h0"/>
<path d="M613.0 116.9h0"/>
<path d="M600.9 160.4h0"/>
<path d="M611.1 82.1h0"/>
<path d="M598.1 98.9h0"/>
<path d="M595.4 95.5h0"/>
<path d="M598.6 124.6h0"/>
<path d="M598.5 112.5h0"/>
<path d="M598.9 74.2h0"/>
<path d="M597.2 116.2h0"/>
<path d="M600.2 82.9h0"/>
<path d="M595.7 129.8h0"/>
<path d="M600.1 99.5h0"/>
<path d="M595.9 123.2h0"/>
<path d="M599.0 116.7h0"/>
<path d="M599.8 120.0h0"/>
<path d="M598.8 72.6h0"/>
<path d="M599.7 186.8h0"/>
<path d="M595.3 166.0h0"/>
<path d="M595.8 95.7h0"/>
<path d="M595.8 174.3h0"/>
<path d="M596.3 193.4h0"/>
<path d="M605.1 129.9h0"/>
<path d="M598.8 111.5h0"/>
<path d="M597.0 174.3h0"/>
<path d="M602.7 190.3h0"/>
<path d="M596.7 165.5h0"/>
<path d="M604.3 130.5h0"/>
<path d="M596.2 101.6h0"/>
<path d="M602.1 128.7h0"/>
<path d="M595.2 159.2h0"/>
<path d="M599.0 163.6h0"/>
<path d="M596.6 115.3h0"/>
<path d="M598.6 114.0h0"/>
<path d="M598.5 124.1h0"/>
<path d="M597.3 192.9h0"/>
<path d="M599.8 124.3h0"/>
<path d="M596.3 87.5h0"/>
<path d="M597.2 165.5h0"/>
<path d="M595.2 92.6h0"/>
<path d="M596.7 113.9h0"/>
<path d="M613.6 138.8h0"/>
<path d="M597.1 93.3h0"/>
<path d="M598.5 147.0h0"/>
<path d="M599.7 112.0h0"/>
<path d="M598.3 163.5h0"/>
<path d="M600.4 125.8h0"/>
<path d="M601.7 86.9h0"/>
<path d="M611.0 173.6h0"/>
<path d="M595.5 150.3h0"/>
<path d="M609.6 109.6h0"/>
<path d="M598.6 108.5h0"/>
<path d="M609.8 98.8h0"/>
<path d="M596.9 104.8h0"/>
<path d="M595.9 126.0h0"/>
<path d="M596.6 121.2h0"/>
<path d="M610.8 207.4h0"/>
<path d="M595.5 196.3h0"/>
<path d="M597.7 124.3h0"/>
<path d="M598.1 96.0h0"/>
<path d="M596.1 146.0h0"/>
<path d="M597.4 114.3h0"/>
<path d="M598.9 206.9h0"/>
<path d="M600.6 110.8h0"/>
<path d="M607.3 107.8h0"/>
<path d="M598.4 176.8h0"/>
<path d="M597.6 186.0h0"/>
<path d="M595.9 69.9h0"/>
<path d="M599.1 172.0h0"/>
<path d="M596.3 190.9h0"/>
<path d="M595.9 128.2h0"/>
<path d="M597.1 116.6h0"/>
<path d="M600.4 185.0h0"/>
<path d="M613.8 84.8h0"/>
<path d="M596.2 183.0h0"/>
<path d="M598.5 95.8h0"/>
<path d="M600.2 90.3h0"/>
<path d="M601.8 70.1h0"/>
<path d="M599.4 121.5h0"/>
<path d="M596.1 93.6h0"/>
<path d="M599.5 130.3h0"/>
<path d="M610.4 102.3h0"/>
<path d="M602.0 179.3h0"/>
<path d="M595.5 159.4h0"/>
<path d="M596.4 92.5h0"/>
<path d="M597.0 104.2h0"/>
<path d="M595.9 109.6h0"/>
<path d="M606.8 118.7h0"/>
<path d="M598.2 95.2h0"/>
<path d="M595.4 86.0h0"/>
<path d="M595.2 161.4h0"/>
<path d="M596.5 130.0h0"/>
<path d="M595.3 129.1h0"/>
<path d="M598.9 68.9h0"/>
<path d="M603.0 98.9h0"/>
<path d="M601.4 91.7h0"/>
<path d="M601.4 100.1h0"/>
<path d="M607.7 222.9h0"/>
<path d="M599.7 101.6h0"/>
<path d="M602.7 125.2h0"/>
<path d="M596.6 106.7h0"/>
<path d="M597.5 111.1h0"/>
<path d="M595.6 103.5h0"/>
<path d="M597.6 121.0h0"/>
<path d="M595.4 146.7h0"/>
<path d="M596.5 121.0h0"/>
<path d="M598.2 91.2h0"/>
<path d="M595.9 156.2h0"/>
<path d="M605.3 114.6h0"/>
<path d="M597.2 228.7h0"/>
<path d="M597.8 204.1h0"/>
<path d="M595.6 147.6h0"/>
<path d="M600.5 132.9h0"/>
<path d="M597.9 169.6h0"/>
<path d="M596.1 89.8h0"/>
<path d="M603.0 136.4h0"/>
<path d="M603.6 189.9h0"/>
<path d="M599.4 144.7h0"/>
<path d="M611.6 86.7h0"/>
<path d="M595.7 87.0h0"/>
<path d="M596.8 178.6h0"/>
<path d="M599.1 103.9h0"/>
<path d="M595.9 123.0h0"/>
<path d="M597.0 127.8h0"/>
<path d="M599.3 95.4h0"/>
<path d="M599.5 107.0h0"/>
<path d="M595.6 156.3h0"/>
<path d="M596.6 110.2h0"/>
<path d="M598.0 97.3h0"/>
<path d="M596.0 120.2h0"/>
<path d="M596.2 112.8h0"/>
<path d="M615.9 116.4h0"/>
<path d="M605.4 204.7h0"/>
<path d="M596.8 197.7h0"/>
<path d="M597.8 102.8h0"/>
<path d="M599.9 124.5h0"/>
<path d="M597.0 120.6h0"/>
<path d="M595.5 105.9h0"/>
<path d="M602.8 127.1h0"/>
<path d="M598.1 91.5h0"/>
<path d="M597.9 211.8h0"/>
<path d="M603.1 106.3h0"/>
<path d="M608.6 109.7h0"/>
<path d="M598.5 67.3h0"/>
<path d="M596.9 78.6h0"/>
<path d="M595.5 105.5h0"/>
<path d="M595.1 140.0h0"/>
<path d="M599.2 115.3h0"/>
<path d="M595.7 93.5h0"/>
<path d="M597.0 126.8h0"/>
<path d="M596.2 72.7h0"/>
<path d="M600.7 82.3h0"/>
<path d="M612.7 112.6h0"/>
<path d="M595.6 133.8h0"/>
<path d="M598.8 192.6h0"/>
<path d="M598.4 127.8h0"/>
<path d="M596.4 80.2h0"/>
<path d="M598.1 135.7h0"/>
<path d="M597.5 181.7h0"/>
<path d="M597.6 78.1h0"/>
<path d="M598.7 88.7h0"/>
<path d="M599.5 129.6h0"/>
<path d="M595.8 89.9h0"/>
<path d="M595.8 89.6h0"/>
<path d="M599.3 153.4h0"/>
<path d="M597.3 153.5h0"/>
<path d="M601.6 172.9h0"/>
<path d="M595.3 72.6h0"/>
<path d="M596.9 198.8h0"/>
<path d="M609.3 148.1h0"/>
<path d="M602.8 205.5h0"/>
<path d="M601.1 131.9h0"/>
<path d="M596.3 86.0h0"/>
<path d="M595.6 186.5h0"/>
<path d="M596.1 100.6h0"/>
<path d="M596.7 145.9h0"/>
<path d="M599.0 178.4h0"/>
<path d="M598.0 219.2h0"/>
<path d="M596.8 101.5h0"/>
<path d="M598.5 225.3h0"/>
<path d="M596.9 127.6h0"/>
<path d="M595.2 129.4h0"/>
<path d="M597.5 109.6h0"/>
<path d="M606.7 175.8h0"/>
<path d="M595.7 116.5h0"/>
<path d="M595.5 135.4h0"/>
<path d="M596.4 190.2h0"/>
<path d="M595.2 109.9h0"/>
<path d="M595.1 107.5h0"/>
<path d="M597.1 102.5h0"/>
<path d="M602.7 121.5h0"/>
<path d="M598.7 73.1h0"/>
<path d="M597.8 128.7h0"/>
<path d="M597.3 103.9h0"/>
<path d="M596.4 116.7h0"/>
<path d="M643.1 93.7h0"/>
<path d="M633.5 105.3h0"/>
<path d="M632.2 107.6h0"/>
<path d="M628.4 151.5h0"/>
<path d="M646.3 126.1h0"/>
<path d="M649.5 130.7h0"/>
<path d="M652.7 139.9h0"/>
<path d="M614.3 160.7h0"/>
<path d="M630.3 170.0h0"/>
<path d="M683.4 176.9h0"/>
<path d="M684.7 197.7h0"/>
<path d="M659.1 223.1h0"/>
<path d="M711.6 165.3h0"/>
<path d="M728.2 151.5h0"/>
<path d="M719.9 197.7h0"/>
<path d="M726.3 202.3h0"/>
<path d="M723.1 242.7h0"/>
<path d="M729.5 92.6h0"/>
<path d="M732.1 92.6h0"/>
<path d="M735.9 105.3h0"/>
<path d="M767.9 270.4h0"/>
<path d="M825.5 148.0h0"/>
<path d="M879.9 172.3h0"/>
<path d="M602.8 248.5h0"/>
<path d="M614.3 183.8h0"/>
<path d="M623.9 86.8h0"/>
<path d="M614.3 77.6h0"/>
<path d="M611.1 75.2h0"/>
</g>
<path d="M595.1,113.4 L879.0,221.9" fill="none" stroke="#4a6f99" stroke-width="4.8" stroke-linecap="butt"/>
<path d="M595.1,195.4 L879.0,255.4" fill="none" stroke="#d07c83" stroke-width="4.8" stroke-linecap="butt"/>
<line x1="762.8" y1="76.3" x2="790.4" y2="76.3" stroke="#4a6f99" stroke-width="5.2"/>
<circle cx="776.6" cy="76.3" r="5.2" fill="#4a6f99"/>
<line x1="762.8" y1="96.6" x2="790.4" y2="96.6" stroke="#d07c83" stroke-width="5.2"/>
<circle cx="776.6" cy="96.6" r="5.2" fill="#d07c83"/>
<text x="805.2" y="83.1" font-size="15.9" fill="#111" stroke="#111">Prokaryote</text>
<text x="805.2" y="103.2" font-size="15.9" fill="#111" stroke="#111">Virus</text>
<text x="689.8" y="135.4" font-size="15.7" fill="#4a6f99" stroke="#4a6f99" text-anchor="start"><tspan font-style="italic">R</tspan>² = 0.099, <tspan font-style="italic">p</tspan> &lt; 0.001</text>
<text x="619.6" y="269.0" font-size="15.7" fill="#d07c83" stroke="#d07c83" text-anchor="start"><tspan font-style="italic">R</tspan>² = 0.096, <tspan font-style="italic">p</tspan> &lt; 0.001</text>
<rect x="581.5" y="57.0" width="311.70000000000005" height="233.8" fill="none" stroke="#231f20" stroke-width="2.6"/>
<line x1="595.1" y1="291.8" x2="595.1" y2="294.3" stroke="#333" stroke-width="2.6"/>
<text x="595.1" y="309.3" text-anchor="middle" font-size="16" fill="#111" stroke="#111">0</text>
<line x1="659.1" y1="291.8" x2="659.1" y2="294.3" stroke="#333" stroke-width="2.6"/>
<text x="659.1" y="309.3" text-anchor="middle" font-size="16" fill="#111" stroke="#111">1</text>
<line x1="723.1" y1="291.8" x2="723.1" y2="294.3" stroke="#333" stroke-width="2.6"/>
<text x="723.1" y="309.3" text-anchor="middle" font-size="16" fill="#111" stroke="#111">2</text>
<line x1="787.1" y1="291.8" x2="787.1" y2="294.3" stroke="#333" stroke-width="2.6"/>
<text x="787.1" y="309.3" text-anchor="middle" font-size="16" fill="#111" stroke="#111">3</text>
<line x1="851.1" y1="291.8" x2="851.1" y2="294.3" stroke="#333" stroke-width="2.6"/>
<text x="851.1" y="309.3" text-anchor="middle" font-size="16" fill="#111" stroke="#111">4</text>
<line x1="578.0" y1="109.9" x2="580.5" y2="109.9" stroke="#333" stroke-width="2.6"/>
<text x="576.3" y="115.6" text-anchor="end" font-size="16" fill="#111" stroke="#111">9</text>
<line x1="578.0" y1="179.2" x2="580.5" y2="179.2" stroke="#333" stroke-width="2.6"/>
<text x="576.3" y="184.9" text-anchor="end" font-size="16" fill="#111" stroke="#111">6</text>
<line x1="578.0" y1="248.5" x2="580.5" y2="248.5" stroke="#333" stroke-width="2.6"/>
<text x="576.3" y="254.2" text-anchor="end" font-size="16" fill="#111" stroke="#111">3</text>
<text x="731.6" y="326" text-anchor="middle" font-size="17.5" fill="#111" stroke="#111">AvaiNi (mg/kg)</text>
<text transform="translate(562.9,165.5) rotate(-90)" text-anchor="middle" font-size="17.3" fill="#111" stroke="#111">Richness</text>
<rect x="581.3" y="338.4" width="312.1" height="233.30000000000007" fill="#fff"/>
<line x1="623.9" y1="338.4" x2="623.9" y2="571.7" stroke="#ebebeb" stroke-width="2.0"/>
<line x1="701.8" y1="338.4" x2="701.8" y2="571.7" stroke="#ebebeb" stroke-width="2.0"/>
<line x1="779.6" y1="338.4" x2="779.6" y2="571.7" stroke="#ebebeb" stroke-width="2.0"/>
<line x1="857.5" y1="338.4" x2="857.5" y2="571.7" stroke="#ebebeb" stroke-width="2.0"/>
<line x1="581.3" y1="564.0" x2="893.4" y2="564.0" stroke="#ebebeb" stroke-width="2.2"/>
<line x1="581.3" y1="494.8" x2="893.4" y2="494.8" stroke="#ebebeb" stroke-width="2.2"/>
<line x1="581.3" y1="425.5" x2="893.4" y2="425.5" stroke="#ebebeb" stroke-width="2.2"/>
<line x1="581.3" y1="356.1" x2="893.4" y2="356.1" stroke="#ebebeb" stroke-width="2.2"/>
<line x1="584.9" y1="338.4" x2="584.9" y2="571.7" stroke="#e9e9e9" stroke-width="3.6"/>
<line x1="662.8" y1="338.4" x2="662.8" y2="571.7" stroke="#e9e9e9" stroke-width="3.6"/>
<line x1="740.7" y1="338.4" x2="740.7" y2="571.7" stroke="#e9e9e9" stroke-width="3.6"/>
<line x1="818.6" y1="338.4" x2="818.6" y2="571.7" stroke="#e9e9e9" stroke-width="3.6"/>
<line x1="581.3" y1="529.4" x2="893.4" y2="529.4" stroke="#e9e9e9" stroke-width="3.6"/>
<line x1="581.3" y1="460.1" x2="893.4" y2="460.1" stroke="#e9e9e9" stroke-width="3.6"/>
<line x1="581.3" y1="390.8" x2="893.4" y2="390.8" stroke="#e9e9e9" stroke-width="3.6"/>
<path d="M594.6,481.9 L601.7,474.2 L608.8,466.8 L615.8,459.7 L622.9,452.9 L629.9,446.5 L637.0,440.5 L644.1,434.8 L651.1,429.4 L658.2,424.3 L665.2,419.6 L672.3,415.2 L679.4,411.1 L686.4,407.4 L693.5,404.0 L700.5,400.9 L707.6,398.2 L714.7,395.7 L721.7,393.6 L728.8,391.8 L735.8,390.3 L742.9,389.0 L750.0,388.0 L757.0,387.2 L764.1,386.6 L771.1,386.2 L778.2,385.9 L785.2,386.4 L792.3,386.3 L799.4,386.3 L806.4,386.5 L813.5,387.0 L820.5,387.7 L827.6,388.8 L834.7,390.1 L841.7,391.8 L848.8,393.8 L855.8,396.2 L862.9,398.8 L870.0,401.8 L877.0,405.2 L877.0,443.7 L870.0,437.6 L862.9,431.9 L855.8,426.5 L848.8,421.5 L841.7,416.8 L834.7,412.4 L827.6,408.4 L820.5,404.8 L813.5,401.5 L806.4,398.6 L799.4,396.1 L792.3,394.1 L785.2,392.8 L778.2,392.6 L771.1,392.3 L764.1,392.6 L757.0,393.4 L750.0,394.6 L742.9,396.4 L735.8,398.5 L728.8,401.1 L721.7,404.0 L714.7,407.3 L707.6,411.0 L700.5,415.0 L693.5,419.3 L686.4,424.1 L679.4,429.1 L672.3,434.5 L665.2,440.3 L658.2,446.3 L651.1,452.8 L644.1,459.5 L637.0,466.6 L629.9,474.1 L622.9,481.9 L615.8,490.0 L608.8,498.4 L601.7,507.2 L594.6,516.4Z" fill="#bdbdbd" fill-opacity="0.35"/>
<path d="M594.6,502.2 L601.7,500.8 L608.8,499.5 L615.8,498.1 L622.9,496.8 L629.9,495.5 L637.0,494.2 L644.1,492.9 L651.1,491.7 L658.2,490.5 L665.2,489.3 L672.3,488.1 L679.4,486.9 L686.4,485.8 L693.5,484.7 L700.5,483.5 L707.6,482.5 L714.7,481.4 L721.7,480.3 L728.8,479.2 L735.8,478.1 L742.9,477.1 L750.0,476.0 L757.0,474.8 L764.1,473.6 L771.1,472.4 L778.2,471.1 L785.2,469.7 L792.3,468.3 L799.4,466.8 L806.4,465.3 L813.5,463.8 L820.5,462.3 L827.6,460.7 L834.7,459.2 L841.7,457.7 L848.8,456.2 L855.8,454.7 L862.9,453.2 L870.0,451.8 L877.0,450.4 L877.0,467.5 L870.0,467.9 L862.9,468.4 L855.8,468.8 L848.8,469.3 L841.7,469.8 L834.7,470.4 L827.6,471.0 L820.5,471.6 L813.5,472.3 L806.4,473.1 L799.4,473.9 L792.3,474.7 L785.2,475.7 L778.2,476.8 L771.1,478.0 L764.1,479.3 L757.0,480.8 L750.0,482.3 L742.9,483.9 L735.8,485.5 L728.8,487.3 L721.7,489.0 L714.7,490.8 L707.6,492.7 L700.5,494.6 L693.5,496.5 L686.4,498.5 L679.4,500.5 L672.3,502.5 L665.2,504.6 L658.2,506.6 L651.1,508.7 L644.1,510.9 L637.0,513.0 L629.9,515.2 L622.9,517.4 L615.8,519.7 L608.8,521.9 L601.7,524.2 L594.6,526.5Z" fill="#bdbdbd" fill-opacity="0.35"/>
<g stroke="#cc6d76" stroke-opacity="0.58" stroke-width="6.4" stroke-linecap="round">
<path d="M781.9 480.5h0"/>
<path d="M801.7 447.0h0"/>
<path d="M810.3 489.1h0"/>
<path d="M795.6 464.4h0"/>
<path d="M829.0 444.5h0"/>
<path d="M805.0 444.1h0"/>
<path d="M781.0 438.0h0"/>
<path d="M780.2 459.6h0"/>
<path d="M815.4 484.3h0"/>
<path d="M773.0 500.2h0"/>
<path d="M795.6 468.1h0"/>
<path d="M782.8 457.6h0"/>
<path d="M735.9 467.5h0"/>
<path d="M793.6 472.0h0"/>
<path d="M812.1 475.4h0"/>
<path d="M766.7 478.4h0"/>
<path d="M793.8 456.0h0"/>
<path d="M768.8 448.2h0"/>
<path d="M764.5 451.4h0"/>
<path d="M802.5 458.3h0"/>
<path d="M847.8 472.0h0"/>
<path d="M787.0 458.1h0"/>
<path d="M813.9 492.3h0"/>
<path d="M798.5 481.0h0"/>
<path d="M807.8 441.2h0"/>
<path d="M792.7 469.0h0"/>
<path d="M796.1 522.7h0"/>
<path d="M811.5 456.5h0"/>
<path d="M795.6 474.5h0"/>
<path d="M772.2 470.4h0"/>
<path d="M823.1 469.0h0"/>
<path d="M826.6 515.5h0"/>
<path d="M779.3 461.9h0"/>
<path d="M791.0 498.3h0"/>
<path d="M773.9 443.5h0"/>
<path d="M757.5 485.7h0"/>
<path d="M762.6 477.4h0"/>
<path d="M808.2 455.8h0"/>
<path d="M738.2 439.5h0"/>
<path d="M775.8 478.1h0"/>
<path d="M835.0 468.6h0"/>
<path d="M758.9 479.1h0"/>
<path d="M772.3 486.1h0"/>
<path d="M782.6 450.5h0"/>
<path d="M800.5 493.1h0"/>
<path d="M765.4 464.8h0"/>
<path d="M792.2 452.7h0"/>
<path d="M782.7 458.4h0"/>
<path d="M846.5 465.2h0"/>
<path d="M763.0 460.8h0"/>
<path d="M770.3 474.0h0"/>
<path d="M796.3 460.7h0"/>
<path d="M783.9 451.0h0"/>
<path d="M786.3 491.6h0"/>
<path d="M814.3 473.9h0"/>
<path d="M823.1 479.4h0"/>
<path d="M806.3 461.1h0"/>
<path d="M720.7 495.2h0"/>
<path d="M762.0 440.5h0"/>
<path d="M741.9 449.8h0"/>
<path d="M819.9 457.7h0"/>
<path d="M809.0 476.4h0"/>
<path d="M791.1 462.8h0"/>
<path d="M802.3 453.7h0"/>
<path d="M785.9 480.2h0"/>
<path d="M776.6 459.3h0"/>
<path d="M747.9 490.7h0"/>
<path d="M780.6 477.5h0"/>
<path d="M784.3 517.2h0"/>
<path d="M782.4 471.8h0"/>
<path d="M811.7 504.3h0"/>
<path d="M783.3 458.1h0"/>
<path d="M804.1 444.5h0"/>
<path d="M819.0 486.8h0"/>
<path d="M808.0 473.3h0"/>
<path d="M770.3 438.1h0"/>
<path d="M774.8 483.1h0"/>
<path d="M780.6 483.1h0"/>
<path d="M817.7 459.9h0"/>
<path d="M828.0 459.3h0"/>
<path d="M775.2 447.3h0"/>
<path d="M774.2 475.8h0"/>
<path d="M786.9 466.3h0"/>
<path d="M822.7 478.5h0"/>
<path d="M800.6 467.6h0"/>
<path d="M758.3 487.7h0"/>
<path d="M785.6 459.4h0"/>
<path d="M799.7 458.0h0"/>
<path d="M792.6 475.5h0"/>
<path d="M802.5 486.0h0"/>
<path d="M756.1 473.3h0"/>
<path d="M753.8 476.8h0"/>
<path d="M771.7 477.5h0"/>
<path d="M790.2 482.2h0"/>
<path d="M780.2 499.4h0"/>
<path d="M795.1 483.7h0"/>
<path d="M802.0 520.5h0"/>
<path d="M770.3 462.4h0"/>
<path d="M727.2 473.8h0"/>
<path d="M793.8 465.1h0"/>
<path d="M752.0 462.7h0"/>
<path d="M795.2 485.4h0"/>
<path d="M810.9 468.0h0"/>
<path d="M791.8 475.5h0"/>
<path d="M805.7 465.2h0"/>
<path d="M821.3 458.5h0"/>
<path d="M775.1 471.3h0"/>
<path d="M815.5 474.0h0"/>
<path d="M801.4 457.1h0"/>
<path d="M786.6 511.2h0"/>
<path d="M794.8 463.0h0"/>
<path d="M794.9 481.4h0"/>
<path d="M823.2 469.6h0"/>
<path d="M774.9 480.6h0"/>
<path d="M800.8 487.7h0"/>
<path d="M765.0 442.2h0"/>
<path d="M819.1 441.1h0"/>
<path d="M807.0 499.0h0"/>
<path d="M822.8 443.5h0"/>
<path d="M804.3 504.2h0"/>
<path d="M824.1 441.1h0"/>
<path d="M778.4 464.6h0"/>
<path d="M811.8 468.6h0"/>
<path d="M820.3 465.5h0"/>
<path d="M809.6 465.4h0"/>
<path d="M752.3 486.0h0"/>
<path d="M798.7 442.1h0"/>
<path d="M821.4 456.5h0"/>
<path d="M775.6 466.7h0"/>
<path d="M740.6 470.6h0"/>
<path d="M815.3 508.2h0"/>
<path d="M796.5 451.3h0"/>
<path d="M826.4 484.7h0"/>
<path d="M774.1 502.8h0"/>
<path d="M764.4 456.9h0"/>
<path d="M846.1 488.9h0"/>
<path d="M827.8 458.9h0"/>
<path d="M778.2 515.1h0"/>
<path d="M789.5 462.9h0"/>
<path d="M847.7 464.5h0"/>
<path d="M817.3 441.0h0"/>
<path d="M804.9 460.2h0"/>
<path d="M786.5 474.8h0"/>
<path d="M758.8 475.5h0"/>
<path d="M736.2 462.0h0"/>
<path d="M790.4 463.7h0"/>
<path d="M839.4 469.1h0"/>
<path d="M784.3 481.3h0"/>
<path d="M790.7 475.4h0"/>
<path d="M796.8 459.5h0"/>
<path d="M768.6 450.5h0"/>
<path d="M813.0 453.4h0"/>
<path d="M813.1 454.1h0"/>
<path d="M828.7 447.8h0"/>
<path d="M827.1 476.6h0"/>
<path d="M791.3 481.0h0"/>
<path d="M816.7 451.1h0"/>
<path d="M779.0 455.9h0"/>
<path d="M824.2 488.4h0"/>
<path d="M788.9 454.9h0"/>
<path d="M790.4 459.6h0"/>
<path d="M822.7 460.8h0"/>
<path d="M762.2 453.4h0"/>
<path d="M788.7 464.9h0"/>
<path d="M776.3 493.5h0"/>
<path d="M758.2 473.8h0"/>
<path d="M762.9 518.9h0"/>
<path d="M821.8 489.2h0"/>
<path d="M772.1 456.9h0"/>
<path d="M727.3 441.4h0"/>
<path d="M770.9 454.4h0"/>
<path d="M778.5 461.2h0"/>
<path d="M794.1 467.1h0"/>
<path d="M742.8 495.1h0"/>
<path d="M790.2 440.1h0"/>
<path d="M776.8 456.9h0"/>
<path d="M795.6 457.8h0"/>
<path d="M817.7 495.7h0"/>
<path d="M798.6 470.4h0"/>
<path d="M783.0 483.4h0"/>
<path d="M770.5 486.7h0"/>
<path d="M762.2 466.8h0"/>
<path d="M811.1 485.7h0"/>
<path d="M717.4 501.9h0"/>
<path d="M795.1 439.5h0"/>
<path d="M790.2 486.2h0"/>
<path d="M784.9 486.1h0"/>
<path d="M754.3 471.5h0"/>
<path d="M780.7 482.6h0"/>
<path d="M767.8 484.8h0"/>
<path d="M797.6 440.4h0"/>
<path d="M785.7 498.0h0"/>
<path d="M798.6 489.2h0"/>
<path d="M787.1 465.1h0"/>
<path d="M806.2 445.4h0"/>
<path d="M776.6 490.8h0"/>
<path d="M786.3 461.4h0"/>
<path d="M772.8 449.9h0"/>
<path d="M836.1 494.2h0"/>
<path d="M801.0 447.6h0"/>
<path d="M740.3 463.1h0"/>
<path d="M785.3 494.3h0"/>
<path d="M826.3 462.9h0"/>
<path d="M778.6 458.5h0"/>
<path d="M808.4 452.3h0"/>
<path d="M806.7 459.2h0"/>
<path d="M760.1 475.1h0"/>
<path d="M794.8 520.0h0"/>
<path d="M848.0 474.3h0"/>
<path d="M763.3 501.8h0"/>
<path d="M798.0 466.4h0"/>
<path d="M775.8 475.0h0"/>
<path d="M767.7 481.4h0"/>
<path d="M788.7 479.3h0"/>
<path d="M809.4 469.8h0"/>
<path d="M794.8 459.3h0"/>
<path d="M825.1 455.5h0"/>
<path d="M797.4 470.2h0"/>
<path d="M769.9 473.6h0"/>
<path d="M809.5 462.7h0"/>
<path d="M781.0 492.5h0"/>
<path d="M750.6 460.9h0"/>
<path d="M818.6 459.9h0"/>
<path d="M754.8 471.1h0"/>
<path d="M797.2 484.6h0"/>
<path d="M800.5 470.9h0"/>
<path d="M769.2 490.8h0"/>
<path d="M812.9 460.2h0"/>
<path d="M767.8 486.4h0"/>
<path d="M815.0 455.6h0"/>
<path d="M783.2 472.6h0"/>
<path d="M763.3 446.1h0"/>
<path d="M786.3 460.4h0"/>
<path d="M792.3 486.2h0"/>
<path d="M759.8 470.7h0"/>
<path d="M828.7 486.2h0"/>
<path d="M827.4 462.8h0"/>
<path d="M761.8 461.9h0"/>
<path d="M806.4 484.2h0"/>
<path d="M734.8 460.2h0"/>
<path d="M761.9 458.6h0"/>
<path d="M740.6 469.7h0"/>
<path d="M769.9 495.3h0"/>
<path d="M784.9 463.8h0"/>
<path d="M776.6 489.6h0"/>
<path d="M797.0 500.4h0"/>
<path d="M805.5 457.7h0"/>
<path d="M835.8 450.2h0"/>
<path d="M800.7 462.0h0"/>
<path d="M792.1 492.3h0"/>
<path d="M830.1 457.0h0"/>
<path d="M783.8 488.9h0"/>
<path d="M830.7 456.9h0"/>
<path d="M759.9 454.2h0"/>
<path d="M841.6 467.5h0"/>
<path d="M801.9 475.0h0"/>
<path d="M774.7 446.6h0"/>
<path d="M794.4 469.4h0"/>
<path d="M812.3 472.8h0"/>
<path d="M810.6 451.2h0"/>
<path d="M764.4 487.5h0"/>
<path d="M789.4 451.2h0"/>
<path d="M798.7 443.4h0"/>
<path d="M754.9 457.6h0"/>
<path d="M774.9 465.1h0"/>
<path d="M799.9 485.5h0"/>
<path d="M785.3 489.2h0"/>
<path d="M798.4 483.2h0"/>
<path d="M778.3 462.9h0"/>
<path d="M774.1 445.1h0"/>
<path d="M774.5 450.8h0"/>
<path d="M798.8 486.7h0"/>
<path d="M785.6 483.0h0"/>
<path d="M781.8 472.2h0"/>
<path d="M839.4 475.0h0"/>
<path d="M832.8 458.5h0"/>
<path d="M756.8 511.1h0"/>
<path d="M809.3 504.9h0"/>
<path d="M810.3 447.5h0"/>
<path d="M801.6 471.0h0"/>
<path d="M784.7 462.1h0"/>
<path d="M783.3 477.2h0"/>
<path d="M781.6 444.8h0"/>
<path d="M774.9 459.8h0"/>
<path d="M760.9 480.6h0"/>
<path d="M755.0 470.8h0"/>
<path d="M809.4 461.2h0"/>
<path d="M778.3 455.4h0"/>
<path d="M782.2 460.0h0"/>
<path d="M798.6 456.7h0"/>
<path d="M725.9 491.8h0"/>
<path d="M811.8 469.1h0"/>
<path d="M850.5 471.5h0"/>
<path d="M776.8 438.6h0"/>
<path d="M806.0 457.3h0"/>
<path d="M786.0 453.3h0"/>
<path d="M770.6 475.5h0"/>
<path d="M776.7 471.2h0"/>
<path d="M811.9 476.2h0"/>
<path d="M799.8 476.5h0"/>
<path d="M814.6 519.4h0"/>
<path d="M785.9 463.8h0"/>
<path d="M762.9 447.8h0"/>
<path d="M797.0 442.7h0"/>
<path d="M816.7 454.9h0"/>
<path d="M787.4 487.7h0"/>
<path d="M785.5 475.8h0"/>
<path d="M797.9 475.9h0"/>
<path d="M749.2 444.7h0"/>
<path d="M779.0 471.6h0"/>
<path d="M815.7 467.0h0"/>
<path d="M759.4 459.2h0"/>
<path d="M786.2 506.1h0"/>
<path d="M796.5 487.0h0"/>
<path d="M771.7 457.9h0"/>
<path d="M799.2 472.5h0"/>
<path d="M848.5 459.1h0"/>
<path d="M775.2 462.5h0"/>
<path d="M788.1 508.8h0"/>
<path d="M749.8 493.4h0"/>
<path d="M622.0 508.0h0"/>
<path d="M652.4 497.5h0"/>
<path d="M628.2 497.7h0"/>
<path d="M721.7 518.7h0"/>
<path d="M594.9 514.7h0"/>
<path d="M732.3 511.1h0"/>
<path d="M677.1 492.1h0"/>
<path d="M694.7 486.8h0"/>
<path d="M615.4 482.3h0"/>
<path d="M631.8 489.0h0"/>
<path d="M669.4 492.8h0"/>
<path d="M635.9 498.6h0"/>
<path d="M678.3 498.2h0"/>
<path d="M627.3 529.4h0"/>
<path d="M697.9 505.6h0"/>
<path d="M601.9 511.9h0"/>
<path d="M738.2 459.5h0"/>
<path d="M598.8 531.6h0"/>
<path d="M713.3 503.2h0"/>
<path d="M643.3 495.4h0"/>
<path d="M729.0 499.9h0"/>
<path d="M594.3 499.0h0"/>
<path d="M652.9 505.9h0"/>
<path d="M605.7 510.6h0"/>
<path d="M693.2 464.4h0"/>
<path d="M615.1 514.0h0"/>
<path d="M622.0 499.9h0"/>
<path d="M625.2 528.1h0"/>
<path d="M740.3 442.4h0"/>
<path d="M709.9 505.9h0"/>
<path d="M708.0 485.1h0"/>
<path d="M727.1 483.4h0"/>
<path d="M622.1 530.3h0"/>
<path d="M685.2 476.3h0"/>
<path d="M606.4 534.7h0"/>
<path d="M616.1 557.1h0"/>
<path d="M621.9 562.9h0"/>
<path d="M849.8 514.4h0"/>
<path d="M877.0 478.6h0"/>
<path d="M849.8 443.9h0"/>
<path d="M779.6 532.9h0"/>
<path d="M760.2 524.8h0"/>
<path d="M752.4 527.1h0"/>
</g>
<g stroke="#3a6798" stroke-opacity="0.6" stroke-width="6.4" stroke-linecap="round">
<path d="M763.7 389.0h0"/>
<path d="M775.1 390.5h0"/>
<path d="M833.1 377.8h0"/>
<path d="M799.2 367.8h0"/>
<path d="M771.6 364.6h0"/>
<path d="M800.9 409.6h0"/>
<path d="M806.6 371.3h0"/>
<path d="M802.8 352.3h0"/>
<path d="M780.8 372.1h0"/>
<path d="M810.3 398.2h0"/>
<path d="M821.7 408.4h0"/>
<path d="M758.4 371.9h0"/>
<path d="M763.8 383.7h0"/>
<path d="M749.7 380.3h0"/>
<path d="M762.6 375.2h0"/>
<path d="M752.5 373.3h0"/>
<path d="M784.6 380.4h0"/>
<path d="M789.6 379.1h0"/>
<path d="M757.9 380.9h0"/>
<path d="M767.6 390.0h0"/>
<path d="M802.1 418.2h0"/>
<path d="M772.0 392.8h0"/>
<path d="M764.6 375.5h0"/>
<path d="M787.8 396.7h0"/>
<path d="M766.4 366.6h0"/>
<path d="M774.6 370.7h0"/>
<path d="M802.7 416.6h0"/>
<path d="M763.9 381.5h0"/>
<path d="M800.0 367.2h0"/>
<path d="M811.6 362.4h0"/>
<path d="M781.9 385.4h0"/>
<path d="M811.0 389.4h0"/>
<path d="M818.1 410.9h0"/>
<path d="M807.9 384.8h0"/>
<path d="M741.5 363.5h0"/>
<path d="M799.2 381.2h0"/>
<path d="M764.1 390.2h0"/>
<path d="M829.6 396.8h0"/>
<path d="M769.6 403.7h0"/>
<path d="M788.0 388.8h0"/>
<path d="M768.2 397.1h0"/>
<path d="M817.9 408.2h0"/>
<path d="M840.9 391.6h0"/>
<path d="M763.7 367.0h0"/>
<path d="M805.6 400.8h0"/>
<path d="M810.3 415.6h0"/>
<path d="M768.0 360.7h0"/>
<path d="M784.9 405.6h0"/>
<path d="M804.3 364.6h0"/>
<path d="M790.8 414.9h0"/>
<path d="M782.6 373.8h0"/>
<path d="M810.8 347.3h0"/>
<path d="M784.9 390.5h0"/>
<path d="M790.4 359.3h0"/>
<path d="M767.5 357.4h0"/>
<path d="M721.7 366.8h0"/>
<path d="M774.2 373.1h0"/>
<path d="M808.8 403.4h0"/>
<path d="M789.1 377.1h0"/>
<path d="M806.2 398.7h0"/>
<path d="M766.2 417.1h0"/>
<path d="M786.5 385.7h0"/>
<path d="M753.5 364.4h0"/>
<path d="M777.8 355.0h0"/>
<path d="M812.9 381.2h0"/>
<path d="M809.7 402.1h0"/>
<path d="M783.1 392.2h0"/>
<path d="M759.2 381.2h0"/>
<path d="M787.7 355.0h0"/>
<path d="M774.3 398.5h0"/>
<path d="M779.6 373.8h0"/>
<path d="M801.6 381.0h0"/>
<path d="M779.3 372.4h0"/>
<path d="M800.4 415.6h0"/>
<path d="M784.7 407.0h0"/>
<path d="M761.4 378.9h0"/>
<path d="M792.9 379.5h0"/>
<path d="M769.2 385.3h0"/>
<path d="M768.2 374.5h0"/>
<path d="M808.8 349.1h0"/>
<path d="M823.4 396.4h0"/>
<path d="M779.7 398.9h0"/>
<path d="M799.1 368.5h0"/>
<path d="M735.7 404.8h0"/>
<path d="M758.6 372.0h0"/>
<path d="M791.4 376.0h0"/>
<path d="M836.4 396.8h0"/>
<path d="M769.9 375.2h0"/>
<path d="M771.6 419.1h0"/>
<path d="M752.7 426.7h0"/>
<path d="M793.1 380.7h0"/>
<path d="M816.5 384.1h0"/>
<path d="M773.8 395.3h0"/>
<path d="M839.5 414.2h0"/>
<path d="M795.7 381.1h0"/>
<path d="M806.9 389.0h0"/>
<path d="M804.0 366.5h0"/>
<path d="M787.6 390.0h0"/>
<path d="M786.6 399.4h0"/>
<path d="M786.1 387.1h0"/>
<path d="M796.7 356.9h0"/>
<path d="M824.4 389.8h0"/>
<path d="M806.6 376.1h0"/>
<path d="M810.6 381.2h0"/>
<path d="M798.1 390.2h0"/>
<path d="M771.5 365.4h0"/>
<path d="M824.2 369.3h0"/>
<path d="M802.4 376.6h0"/>
<path d="M779.9 414.5h0"/>
<path d="M808.1 377.9h0"/>
<path d="M777.3 399.4h0"/>
<path d="M823.7 414.9h0"/>
<path d="M835.9 369.7h0"/>
<path d="M851.4 394.8h0"/>
<path d="M790.8 390.9h0"/>
<path d="M795.3 385.4h0"/>
<path d="M772.4 361.7h0"/>
<path d="M771.5 390.9h0"/>
<path d="M805.4 391.5h0"/>
<path d="M780.3 375.0h0"/>
<path d="M782.0 404.6h0"/>
<path d="M788.7 385.6h0"/>
<path d="M834.5 401.8h0"/>
<path d="M815.9 396.1h0"/>
<path d="M782.3 387.6h0"/>
<path d="M798.2 365.6h0"/>
<path d="M835.6 393.3h0"/>
<path d="M825.0 363.2h0"/>
<path d="M811.9 395.6h0"/>
<path d="M814.1 383.5h0"/>
<path d="M800.3 386.5h0"/>
<path d="M808.1 361.0h0"/>
<path d="M820.0 385.4h0"/>
<path d="M816.5 354.7h0"/>
<path d="M767.7 354.4h0"/>
<path d="M757.5 371.5h0"/>
<path d="M806.4 354.2h0"/>
<path d="M798.4 390.4h0"/>
<path d="M771.2 404.7h0"/>
<path d="M810.7 385.9h0"/>
<path d="M773.2 371.7h0"/>
<path d="M772.0 389.6h0"/>
<path d="M779.7 351.0h0"/>
<path d="M828.4 384.5h0"/>
<path d="M751.6 376.4h0"/>
<path d="M793.2 375.1h0"/>
<path d="M805.7 387.5h0"/>
<path d="M814.8 366.1h0"/>
<path d="M796.7 389.1h0"/>
<path d="M779.2 368.8h0"/>
<path d="M763.5 384.5h0"/>
<path d="M772.3 407.3h0"/>
<path d="M806.6 382.0h0"/>
<path d="M792.2 365.4h0"/>
<path d="M753.5 382.8h0"/>
<path d="M798.6 366.2h0"/>
<path d="M763.9 368.3h0"/>
<path d="M796.9 356.5h0"/>
<path d="M820.2 371.4h0"/>
<path d="M845.7 381.6h0"/>
<path d="M780.6 387.9h0"/>
<path d="M767.5 382.1h0"/>
<path d="M743.8 383.1h0"/>
<path d="M802.1 363.2h0"/>
<path d="M782.5 355.9h0"/>
<path d="M774.8 384.0h0"/>
<path d="M743.8 395.6h0"/>
<path d="M771.3 354.6h0"/>
<path d="M804.4 401.5h0"/>
<path d="M804.5 372.9h0"/>
<path d="M785.6 381.1h0"/>
<path d="M783.8 391.3h0"/>
<path d="M747.5 383.2h0"/>
<path d="M823.1 355.7h0"/>
<path d="M784.4 395.0h0"/>
<path d="M786.1 365.4h0"/>
<path d="M800.0 392.1h0"/>
<path d="M800.3 385.3h0"/>
<path d="M804.1 388.9h0"/>
<path d="M755.0 380.5h0"/>
<path d="M810.1 401.5h0"/>
<path d="M788.7 365.7h0"/>
<path d="M782.1 393.3h0"/>
<path d="M841.4 366.6h0"/>
<path d="M816.7 398.6h0"/>
<path d="M831.6 411.4h0"/>
<path d="M778.6 368.2h0"/>
<path d="M824.1 398.3h0"/>
<path d="M775.0 378.0h0"/>
<path d="M743.8 370.1h0"/>
<path d="M805.1 389.6h0"/>
<path d="M804.6 367.6h0"/>
<path d="M798.9 372.2h0"/>
<path d="M828.6 390.1h0"/>
<path d="M795.3 390.9h0"/>
<path d="M816.7 388.9h0"/>
<path d="M803.0 379.1h0"/>
<path d="M793.0 350.8h0"/>
<path d="M789.2 356.2h0"/>
<path d="M811.6 357.9h0"/>
<path d="M787.3 365.0h0"/>
<path d="M809.9 392.5h0"/>
<path d="M797.9 383.9h0"/>
<path d="M790.5 358.3h0"/>
<path d="M773.7 411.6h0"/>
<path d="M748.7 389.6h0"/>
<path d="M775.6 381.3h0"/>
<path d="M805.2 350.1h0"/>
<path d="M798.9 373.3h0"/>
<path d="M773.4 371.2h0"/>
<path d="M824.5 357.7h0"/>
<path d="M743.6 365.7h0"/>
<path d="M830.0 366.8h0"/>
<path d="M754.8 387.0h0"/>
<path d="M805.7 374.2h0"/>
<path d="M771.5 397.4h0"/>
<path d="M814.9 405.3h0"/>
<path d="M826.3 381.2h0"/>
<path d="M798.7 405.3h0"/>
<path d="M776.8 369.3h0"/>
<path d="M755.5 406.5h0"/>
<path d="M761.6 380.8h0"/>
<path d="M803.1 368.5h0"/>
<path d="M782.3 385.2h0"/>
<path d="M785.6 391.8h0"/>
<path d="M728.6 364.5h0"/>
<path d="M797.4 378.7h0"/>
<path d="M776.0 377.1h0"/>
<path d="M791.0 382.9h0"/>
<path d="M818.2 412.1h0"/>
<path d="M797.5 400.5h0"/>
<path d="M783.6 354.9h0"/>
<path d="M765.0 383.3h0"/>
<path d="M776.9 364.7h0"/>
<path d="M767.5 411.4h0"/>
<path d="M803.8 387.8h0"/>
<path d="M783.6 362.4h0"/>
<path d="M769.7 388.2h0"/>
<path d="M794.9 374.2h0"/>
<path d="M778.8 363.2h0"/>
<path d="M845.8 388.8h0"/>
<path d="M836.8 419.0h0"/>
<path d="M825.5 387.7h0"/>
<path d="M794.7 387.6h0"/>
<path d="M775.9 404.2h0"/>
<path d="M781.7 358.6h0"/>
<path d="M819.1 387.7h0"/>
<path d="M778.5 394.0h0"/>
<path d="M762.2 349.6h0"/>
<path d="M807.5 379.5h0"/>
<path d="M779.4 399.7h0"/>
<path d="M823.3 367.7h0"/>
<path d="M768.2 364.0h0"/>
<path d="M764.4 370.2h0"/>
<path d="M768.0 388.9h0"/>
<path d="M803.4 373.9h0"/>
<path d="M815.9 396.4h0"/>
<path d="M829.7 357.7h0"/>
<path d="M791.1 373.3h0"/>
<path d="M772.4 384.3h0"/>
<path d="M759.2 380.0h0"/>
<path d="M796.2 357.7h0"/>
<path d="M814.4 367.1h0"/>
<path d="M782.5 385.5h0"/>
<path d="M783.1 377.6h0"/>
<path d="M744.4 367.9h0"/>
<path d="M753.2 390.7h0"/>
<path d="M791.9 390.7h0"/>
<path d="M831.8 383.3h0"/>
<path d="M829.5 360.7h0"/>
<path d="M779.3 374.4h0"/>
<path d="M822.9 387.5h0"/>
<path d="M793.5 391.5h0"/>
<path d="M792.8 387.8h0"/>
<path d="M793.3 363.8h0"/>
<path d="M825.2 379.2h0"/>
<path d="M796.2 366.4h0"/>
<path d="M784.3 400.3h0"/>
<path d="M818.3 398.1h0"/>
<path d="M813.9 398.7h0"/>
<path d="M835.8 400.1h0"/>
<path d="M812.0 355.0h0"/>
<path d="M768.0 355.2h0"/>
<path d="M771.3 412.9h0"/>
<path d="M808.9 369.1h0"/>
<path d="M786.4 426.4h0"/>
<path d="M790.0 387.0h0"/>
<path d="M782.1 386.7h0"/>
<path d="M747.8 391.6h0"/>
<path d="M835.1 354.1h0"/>
<path d="M689.9 372.2h0"/>
<path d="M600.1 503.9h0"/>
<path d="M629.3 441.2h0"/>
<path d="M702.6 391.1h0"/>
<path d="M636.8 420.7h0"/>
<path d="M603.0 497.9h0"/>
<path d="M674.3 426.8h0"/>
<path d="M709.3 422.9h0"/>
<path d="M597.7 508.5h0"/>
<path d="M668.7 402.8h0"/>
<path d="M612.2 461.5h0"/>
<path d="M678.2 433.0h0"/>
<path d="M690.8 397.0h0"/>
<path d="M616.9 449.7h0"/>
<path d="M641.8 405.8h0"/>
<path d="M717.4 383.8h0"/>
<path d="M614.7 493.0h0"/>
<path d="M606.6 477.5h0"/>
<path d="M666.1 436.4h0"/>
<path d="M672.0 407.8h0"/>
<path d="M617.0 457.9h0"/>
<path d="M671.9 444.9h0"/>
<path d="M773.8 488.2h0"/>
<path d="M822.1 485.4h0"/>
<path d="M734.1 443.5h0"/>
<path d="M823.5 486.7h0"/>
<path d="M777.8 508.6h0"/>
<path d="M793.1 495.6h0"/>
<path d="M726.2 454.0h0"/>
<path d="M793.2 510.4h0"/>
<path d="M755.6 479.3h0"/>
<path d="M840.8 433.0h0"/>
<path d="M785.2 484.7h0"/>
<path d="M791.6 482.2h0"/>
<path d="M790.7 447.5h0"/>
<path d="M782.7 445.2h0"/>
<path d="M819.4 486.6h0"/>
<path d="M772.0 489.4h0"/>
<path d="M791.3 505.4h0"/>
<path d="M749.2 514.6h0"/>
<path d="M794.2 488.2h0"/>
<path d="M818.3 453.6h0"/>
<path d="M794.3 485.6h0"/>
<path d="M730.6 491.5h0"/>
<path d="M780.4 471.2h0"/>
<path d="M774.0 469.1h0"/>
<path d="M823.4 445.0h0"/>
<path d="M608.3 372.3h0"/>
<path d="M620.0 552.5h0"/>
<path d="M849.8 529.4h0"/>
<path d="M877.0 448.6h0"/>
<path d="M842.0 363.1h0"/>
<path d="M851.7 393.1h0"/>
<path d="M717.3 349.2h0"/>
<path d="M748.5 352.7h0"/>
<path d="M740.7 423.1h0"/>
<path d="M711.5 418.5h0"/>
</g>
<path d="M594.6,499.1 L601.7,490.7 L608.8,482.6 L615.8,474.8 L622.9,467.4 L629.9,460.3 L637.0,453.6 L644.1,447.1 L651.1,441.1 L658.2,435.3 L665.2,429.9 L672.3,424.8 L679.4,420.1 L686.4,415.7 L693.5,411.7 L700.5,407.9 L707.6,404.6 L714.7,401.5 L721.7,398.8 L728.8,396.4 L735.8,394.4 L742.9,392.7 L750.0,391.3 L757.0,390.3 L764.1,389.6 L771.1,389.3 L778.2,389.2 L785.2,389.6 L792.3,390.2 L799.4,391.2 L806.4,392.6 L813.5,394.2 L820.5,396.2 L827.6,398.6 L834.7,401.3 L841.7,404.3 L848.8,407.6 L855.8,411.3 L862.9,415.4 L870.0,419.7 L877.0,424.4" fill="none" stroke="#4a6f99" stroke-width="4.8" stroke-linecap="butt"/>
<path d="M594.6,514.4 L601.7,512.5 L608.8,510.7 L615.8,508.9 L622.9,507.1 L629.9,505.3 L637.0,503.6 L644.1,501.9 L651.1,500.2 L658.2,498.5 L665.2,496.9 L672.3,495.3 L679.4,493.7 L686.4,492.1 L693.5,490.6 L700.5,489.1 L707.6,487.6 L714.7,486.1 L721.7,484.7 L728.8,483.2 L735.8,481.8 L742.9,480.5 L750.0,479.1 L757.0,477.8 L764.1,476.5 L771.1,475.2 L778.2,474.0 L785.2,472.7 L792.3,471.5 L799.4,470.3 L806.4,469.2 L813.5,468.1 L820.5,466.9 L827.6,465.9 L834.7,464.8 L841.7,463.8 L848.8,462.8 L855.8,461.8 L862.9,460.8 L870.0,459.9 L877.0,458.9" fill="none" stroke="#d07c83" stroke-width="4.8" stroke-linecap="butt"/>
<text x="615.8" y="362.4" font-size="15.7" fill="#4a6f99" stroke="#4a6f99" text-anchor="start"><tspan font-style="italic">R</tspan>² = 0.274,</text>
<text x="615.8" y="381.2" font-size="15.7" fill="#4a6f99" stroke="#4a6f99" text-anchor="start"><tspan font-style="italic">p</tspan> &lt; 0.001</text>
<text x="631.4" y="554.4" font-size="15.7" fill="#d07c83" stroke="#d07c83" text-anchor="start"><tspan font-style="italic">R</tspan>² = 0.226, <tspan font-style="italic">p</tspan> &lt; 0.001</text>
<rect x="581.3" y="338.4" width="312.1" height="233.30000000000007" fill="none" stroke="#231f20" stroke-width="2.6"/>
<line x1="584.9" y1="572.7" x2="584.9" y2="575.2" stroke="#333" stroke-width="2.6"/>
<text x="584.9" y="590.2" text-anchor="middle" font-size="16" fill="#111" stroke="#111">2</text>
<line x1="662.8" y1="572.7" x2="662.8" y2="575.2" stroke="#333" stroke-width="2.6"/>
<text x="662.8" y="590.2" text-anchor="middle" font-size="16" fill="#111" stroke="#111">4</text>
<line x1="740.7" y1="572.7" x2="740.7" y2="575.2" stroke="#333" stroke-width="2.6"/>
<text x="740.7" y="590.2" text-anchor="middle" font-size="16" fill="#111" stroke="#111">6</text>
<line x1="818.6" y1="572.7" x2="818.6" y2="575.2" stroke="#333" stroke-width="2.6"/>
<text x="818.6" y="590.2" text-anchor="middle" font-size="16" fill="#111" stroke="#111">8</text>
<line x1="577.8" y1="390.8" x2="580.3" y2="390.8" stroke="#333" stroke-width="2.6"/>
<text x="576.1" y="396.5" text-anchor="end" font-size="16" fill="#111" stroke="#111">9</text>
<line x1="577.8" y1="460.1" x2="580.3" y2="460.1" stroke="#333" stroke-width="2.6"/>
<text x="576.1" y="465.8" text-anchor="end" font-size="16" fill="#111" stroke="#111">6</text>
<line x1="577.8" y1="529.4" x2="580.3" y2="529.4" stroke="#333" stroke-width="2.6"/>
<text x="576.1" y="535.1" text-anchor="end" font-size="16" fill="#111" stroke="#111">3</text>
<text x="731" y="606.6" text-anchor="middle" font-size="17.5" fill="#111" stroke="#111">pH</text>
<text transform="translate(562.2,447.2) rotate(-90)" text-anchor="middle" font-size="17.3" fill="#111" stroke="#111">Richness</text>
<rect x="577.9" y="621.8" width="313.0" height="233.60000000000002" fill="#fff"/>
<line x1="594.6" y1="621.8" x2="594.6" y2="855.4" stroke="#ebebeb" stroke-width="2.0"/>
<line x1="678.4" y1="621.8" x2="678.4" y2="855.4" stroke="#ebebeb" stroke-width="2.0"/>
<line x1="762.0" y1="621.8" x2="762.0" y2="855.4" stroke="#ebebeb" stroke-width="2.0"/>
<line x1="845.8" y1="621.8" x2="845.8" y2="855.4" stroke="#ebebeb" stroke-width="2.0"/>
<line x1="577.9" y1="847.5" x2="890.9" y2="847.5" stroke="#ebebeb" stroke-width="2.2"/>
<line x1="577.9" y1="778.2" x2="890.9" y2="778.2" stroke="#ebebeb" stroke-width="2.2"/>
<line x1="577.9" y1="708.9" x2="890.9" y2="708.9" stroke="#ebebeb" stroke-width="2.2"/>
<line x1="577.9" y1="639.6" x2="890.9" y2="639.6" stroke="#ebebeb" stroke-width="2.2"/>
<line x1="636.5" y1="621.8" x2="636.5" y2="855.4" stroke="#e9e9e9" stroke-width="3.6"/>
<line x1="720.2" y1="621.8" x2="720.2" y2="855.4" stroke="#e9e9e9" stroke-width="3.6"/>
<line x1="803.9" y1="621.8" x2="803.9" y2="855.4" stroke="#e9e9e9" stroke-width="3.6"/>
<line x1="887.6" y1="621.8" x2="887.6" y2="855.4" stroke="#e9e9e9" stroke-width="3.6"/>
<line x1="577.9" y1="812.9" x2="890.9" y2="812.9" stroke="#e9e9e9" stroke-width="3.6"/>
<line x1="577.9" y1="743.6" x2="890.9" y2="743.6" stroke="#e9e9e9" stroke-width="3.6"/>
<line x1="577.9" y1="674.3" x2="890.9" y2="674.3" stroke="#e9e9e9" stroke-width="3.6"/>
<path d="M592.6,670.8 L602.1,671.6 L611.5,672.3 L621.0,673.1 L630.5,673.8 L639.9,674.6 L649.4,675.3 L658.8,676.0 L668.3,676.7 L677.8,677.4 L687.2,678.1 L696.7,678.7 L706.2,679.3 L715.6,679.8 L725.1,680.3 L734.5,680.7 L744.0,681.0 L753.5,681.3 L762.9,681.5 L772.4,681.7 L781.9,681.8 L791.3,681.8 L800.8,681.9 L810.3,681.9 L819.7,681.9 L829.2,681.9 L838.6,681.9 L848.1,681.9 L857.6,681.9 L867.0,681.9 L876.5,681.9 L876.5,695.5 L867.0,694.8 L857.6,694.0 L848.1,693.3 L838.6,692.5 L829.2,691.8 L819.7,691.1 L810.3,690.3 L800.8,689.6 L791.3,689.0 L781.9,688.3 L772.4,687.7 L762.9,687.1 L753.5,686.6 L744.0,686.1 L734.5,685.7 L725.1,685.4 L715.6,685.1 L706.2,684.9 L696.7,684.8 L687.2,684.7 L677.8,684.6 L668.3,684.5 L658.8,684.5 L649.4,684.5 L639.9,684.5 L630.5,684.5 L621.0,684.5 L611.5,684.5 L602.1,684.6 L592.6,684.6Z" fill="#bdbdbd" fill-opacity="0.35"/>
<path d="M592.6,750.1 L602.1,750.7 L611.5,751.4 L621.0,752.0 L630.5,752.6 L639.9,753.3 L649.4,753.9 L658.8,754.5 L668.3,755.1 L677.8,755.6 L687.2,756.2 L696.7,756.7 L706.2,757.2 L715.6,757.6 L725.1,758.0 L734.5,758.3 L744.0,758.6 L753.5,758.8 L762.9,759.0 L772.4,759.1 L781.9,759.2 L791.3,759.3 L800.8,759.3 L810.3,759.4 L819.7,759.4 L829.2,759.4 L838.6,759.3 L848.1,759.3 L857.6,759.3 L867.0,759.3 L876.5,759.2 L876.5,771.6 L867.0,770.9 L857.6,770.3 L848.1,769.7 L838.6,769.0 L829.2,768.4 L819.7,767.8 L810.3,767.2 L800.8,766.6 L791.3,766.0 L781.9,765.5 L772.4,765.0 L762.9,764.5 L753.5,764.1 L744.0,763.7 L734.5,763.4 L725.1,763.1 L715.6,762.9 L706.2,762.7 L696.7,762.6 L687.2,762.5 L677.8,762.4 L668.3,762.4 L658.8,762.4 L649.4,762.4 L639.9,762.4 L630.5,762.4 L621.0,762.4 L611.5,762.4 L602.1,762.5 L592.6,762.5Z" fill="#bdbdbd" fill-opacity="0.35"/>
<g stroke="#cc6d76" stroke-opacity="0.58" stroke-width="6.4" stroke-linecap="round">
<path d="M591.6 766.5h0"/>
<path d="M591.8 745.9h0"/>
<path d="M592.7 798.3h0"/>
<path d="M592.0 766.1h0"/>
<path d="M592.2 747.1h0"/>
<path d="M592.1 751.6h0"/>
<path d="M591.4 796.4h0"/>
<path d="M592.5 744.5h0"/>
<path d="M591.4 743.1h0"/>
<path d="M592.1 809.7h0"/>
<path d="M592.2 783.6h0"/>
<path d="M593.7 765.1h0"/>
<path d="M593.7 733.5h0"/>
<path d="M593.5 808.6h0"/>
<path d="M593.7 784.1h0"/>
<path d="M594.3 774.3h0"/>
<path d="M594.4 764.4h0"/>
<path d="M593.6 796.9h0"/>
<path d="M593.5 748.4h0"/>
<path d="M594.4 743.9h0"/>
<path d="M593.8 786.3h0"/>
<path d="M593.6 738.0h0"/>
<path d="M593.3 727.1h0"/>
<path d="M593.5 776.7h0"/>
<path d="M614.8 731.1h0"/>
<path d="M615.5 759.2h0"/>
<path d="M615.3 750.8h0"/>
<path d="M614.8 757.4h0"/>
<path d="M615.2 728.1h0"/>
<path d="M614.7 723.2h0"/>
<path d="M614.8 731.0h0"/>
<path d="M615.7 735.1h0"/>
<path d="M614.7 761.8h0"/>
<path d="M625.0 735.6h0"/>
<path d="M625.8 768.9h0"/>
<path d="M625.1 755.8h0"/>
<path d="M625.2 753.6h0"/>
<path d="M625.9 773.9h0"/>
<path d="M625.6 755.9h0"/>
<path d="M625.1 774.2h0"/>
<path d="M630.2 783.2h0"/>
<path d="M630.9 765.0h0"/>
<path d="M631.2 762.6h0"/>
<path d="M631.2 763.3h0"/>
<path d="M630.0 740.1h0"/>
<path d="M630.6 750.0h0"/>
<path d="M633.8 724.2h0"/>
<path d="M633.5 795.1h0"/>
<path d="M633.8 792.7h0"/>
<path d="M634.4 762.0h0"/>
<path d="M633.8 754.3h0"/>
<path d="M633.8 744.9h0"/>
<path d="M634.3 770.1h0"/>
<path d="M633.6 758.3h0"/>
<path d="M633.7 739.0h0"/>
<path d="M633.0 789.9h0"/>
<path d="M643.5 744.8h0"/>
<path d="M643.1 756.2h0"/>
<path d="M643.9 752.7h0"/>
<path d="M644.4 760.0h0"/>
<path d="M643.9 742.5h0"/>
<path d="M643.2 763.5h0"/>
<path d="M648.6 746.0h0"/>
<path d="M648.3 742.2h0"/>
<path d="M649.8 743.9h0"/>
<path d="M648.9 762.4h0"/>
<path d="M649.0 761.0h0"/>
<path d="M648.9 749.6h0"/>
<path d="M648.4 752.5h0"/>
<path d="M648.8 741.3h0"/>
<path d="M648.4 739.9h0"/>
<path d="M649.6 752.5h0"/>
<path d="M649.0 749.7h0"/>
<path d="M649.2 726.3h0"/>
<path d="M648.6 755.0h0"/>
<path d="M655.6 759.8h0"/>
<path d="M655.9 741.5h0"/>
<path d="M655.0 773.1h0"/>
<path d="M655.0 754.9h0"/>
<path d="M655.0 777.2h0"/>
<path d="M656.0 775.1h0"/>
<path d="M655.7 799.2h0"/>
<path d="M655.8 785.1h0"/>
<path d="M656.0 754.7h0"/>
<path d="M655.7 776.0h0"/>
<path d="M655.6 768.1h0"/>
<path d="M659.1 749.6h0"/>
<path d="M659.7 746.9h0"/>
<path d="M658.6 747.2h0"/>
<path d="M659.1 751.1h0"/>
<path d="M658.7 751.5h0"/>
<path d="M659.5 745.8h0"/>
<path d="M659.0 734.5h0"/>
<path d="M658.7 750.5h0"/>
<path d="M658.3 762.6h0"/>
<path d="M658.7 753.6h0"/>
<path d="M658.1 759.2h0"/>
<path d="M658.5 721.8h0"/>
<path d="M673.8 759.6h0"/>
<path d="M674.4 777.2h0"/>
<path d="M674.5 759.9h0"/>
<path d="M673.9 736.7h0"/>
<path d="M674.4 772.4h0"/>
<path d="M673.7 764.4h0"/>
<path d="M674.1 798.9h0"/>
<path d="M674.1 750.7h0"/>
<path d="M674.1 743.2h0"/>
<path d="M674.3 749.7h0"/>
<path d="M674.1 768.9h0"/>
<path d="M675.0 748.0h0"/>
<path d="M684.4 727.6h0"/>
<path d="M683.8 737.5h0"/>
<path d="M684.2 750.1h0"/>
<path d="M683.5 783.7h0"/>
<path d="M684.2 756.2h0"/>
<path d="M684.5 757.1h0"/>
<path d="M684.1 738.0h0"/>
<path d="M688.6 770.2h0"/>
<path d="M688.5 733.1h0"/>
<path d="M689.1 756.8h0"/>
<path d="M688.6 744.6h0"/>
<path d="M688.8 758.9h0"/>
<path d="M688.9 738.4h0"/>
<path d="M689.1 747.0h0"/>
<path d="M689.3 751.8h0"/>
<path d="M694.1 740.0h0"/>
<path d="M694.3 751.9h0"/>
<path d="M694.4 732.3h0"/>
<path d="M693.3 768.2h0"/>
<path d="M694.4 744.6h0"/>
<path d="M694.4 728.0h0"/>
<path d="M693.7 743.7h0"/>
<path d="M694.6 766.9h0"/>
<path d="M694.8 785.0h0"/>
<path d="M694.0 754.3h0"/>
<path d="M694.2 741.9h0"/>
<path d="M694.0 734.1h0"/>
<path d="M698.8 754.6h0"/>
<path d="M698.4 780.3h0"/>
<path d="M699.1 752.4h0"/>
<path d="M698.9 780.6h0"/>
<path d="M699.0 759.9h0"/>
<path d="M698.4 733.4h0"/>
<path d="M699.9 750.2h0"/>
<path d="M704.7 750.0h0"/>
<path d="M703.2 770.1h0"/>
<path d="M703.5 767.2h0"/>
<path d="M702.9 743.3h0"/>
<path d="M704.6 758.2h0"/>
<path d="M704.3 742.8h0"/>
<path d="M712.4 776.3h0"/>
<path d="M712.4 772.3h0"/>
<path d="M712.7 791.1h0"/>
<path d="M713.0 745.6h0"/>
<path d="M712.7 732.2h0"/>
<path d="M715.6 741.8h0"/>
<path d="M715.7 757.7h0"/>
<path d="M715.7 759.7h0"/>
<path d="M716.1 748.5h0"/>
<path d="M715.9 767.2h0"/>
<path d="M715.5 742.5h0"/>
<path d="M715.7 808.4h0"/>
<path d="M715.7 791.1h0"/>
<path d="M725.9 757.5h0"/>
<path d="M725.0 764.8h0"/>
<path d="M725.8 764.0h0"/>
<path d="M725.8 751.8h0"/>
<path d="M725.7 765.1h0"/>
<path d="M726.4 751.8h0"/>
<path d="M734.8 760.7h0"/>
<path d="M734.1 733.8h0"/>
<path d="M734.1 783.3h0"/>
<path d="M734.5 745.1h0"/>
<path d="M734.5 756.2h0"/>
<path d="M734.4 769.4h0"/>
<path d="M734.3 739.7h0"/>
<path d="M733.0 743.1h0"/>
<path d="M734.8 724.8h0"/>
<path d="M734.2 743.7h0"/>
<path d="M757.5 741.9h0"/>
<path d="M757.5 744.8h0"/>
<path d="M757.6 749.6h0"/>
<path d="M757.6 789.2h0"/>
<path d="M758.5 749.1h0"/>
<path d="M757.9 748.1h0"/>
<path d="M757.8 798.5h0"/>
<path d="M758.5 773.0h0"/>
<path d="M761.1 775.1h0"/>
<path d="M761.3 788.1h0"/>
<path d="M760.6 807.8h0"/>
<path d="M760.7 796.7h0"/>
<path d="M760.5 771.1h0"/>
<path d="M762.5 799.3h0"/>
<path d="M762.8 743.1h0"/>
<path d="M762.4 731.6h0"/>
<path d="M762.9 736.6h0"/>
<path d="M762.1 758.1h0"/>
<path d="M763.4 721.8h0"/>
<path d="M763.3 758.0h0"/>
<path d="M769.5 791.2h0"/>
<path d="M769.6 764.6h0"/>
<path d="M769.5 780.8h0"/>
<path d="M769.5 724.2h0"/>
<path d="M769.4 746.9h0"/>
<path d="M770.2 794.6h0"/>
<path d="M769.4 767.1h0"/>
<path d="M777.8 775.6h0"/>
<path d="M777.7 763.4h0"/>
<path d="M777.9 781.4h0"/>
<path d="M776.7 781.1h0"/>
<path d="M778.0 782.3h0"/>
<path d="M778.0 773.6h0"/>
<path d="M777.4 745.6h0"/>
<path d="M778.5 768.8h0"/>
<path d="M777.8 749.5h0"/>
<path d="M777.2 782.8h0"/>
<path d="M778.3 750.5h0"/>
<path d="M777.6 781.1h0"/>
<path d="M777.9 792.6h0"/>
<path d="M777.6 771.1h0"/>
<path d="M779.5 759.6h0"/>
<path d="M779.1 755.4h0"/>
<path d="M779.4 764.6h0"/>
<path d="M780.0 797.3h0"/>
<path d="M779.1 730.9h0"/>
<path d="M779.5 733.1h0"/>
<path d="M779.8 765.8h0"/>
<path d="M779.4 752.0h0"/>
<path d="M779.2 807.6h0"/>
<path d="M779.5 769.1h0"/>
<path d="M788.0 757.4h0"/>
<path d="M787.9 773.6h0"/>
<path d="M788.4 750.1h0"/>
<path d="M788.2 750.6h0"/>
<path d="M788.0 787.8h0"/>
<path d="M790.2 736.9h0"/>
<path d="M789.0 748.8h0"/>
<path d="M789.4 756.5h0"/>
<path d="M789.2 763.9h0"/>
<path d="M790.1 760.0h0"/>
<path d="M790.3 759.9h0"/>
<path d="M789.1 724.5h0"/>
<path d="M789.7 729.8h0"/>
<path d="M789.3 760.8h0"/>
<path d="M789.0 743.4h0"/>
<path d="M806.0 780.1h0"/>
<path d="M806.9 774.3h0"/>
<path d="M805.8 740.9h0"/>
<path d="M806.5 780.6h0"/>
<path d="M805.4 741.5h0"/>
<path d="M805.4 725.3h0"/>
<path d="M806.0 750.0h0"/>
<path d="M819.6 743.4h0"/>
<path d="M820.5 788.0h0"/>
<path d="M818.9 747.2h0"/>
<path d="M819.1 786.2h0"/>
<path d="M819.5 758.6h0"/>
<path d="M819.7 722.0h0"/>
<path d="M819.2 763.3h0"/>
<path d="M819.0 748.4h0"/>
<path d="M820.1 729.8h0"/>
<path d="M823.4 744.8h0"/>
<path d="M822.9 786.3h0"/>
<path d="M823.5 738.0h0"/>
<path d="M822.7 806.7h0"/>
<path d="M823.1 749.4h0"/>
<path d="M824.0 770.2h0"/>
<path d="M822.8 759.9h0"/>
<path d="M850.3 787.3h0"/>
<path d="M851.7 770.2h0"/>
<path d="M851.5 753.8h0"/>
<path d="M850.9 778.4h0"/>
<path d="M852.0 770.4h0"/>
<path d="M850.5 724.3h0"/>
<path d="M852.0 758.7h0"/>
<path d="M851.3 781.3h0"/>
<path d="M862.2 751.0h0"/>
<path d="M862.3 752.3h0"/>
<path d="M861.7 770.8h0"/>
<path d="M861.5 768.8h0"/>
<path d="M862.1 748.0h0"/>
<path d="M862.1 742.4h0"/>
<path d="M861.1 794.6h0"/>
<path d="M861.5 762.0h0"/>
<path d="M861.3 745.8h0"/>
<path d="M861.6 756.6h0"/>
<path d="M861.6 764.2h0"/>
<path d="M861.1 760.7h0"/>
<path d="M862.0 740.0h0"/>
<path d="M863.1 772.1h0"/>
<path d="M862.8 766.8h0"/>
<path d="M863.0 761.3h0"/>
<path d="M863.1 759.4h0"/>
<path d="M863.6 760.0h0"/>
<path d="M863.3 785.1h0"/>
<path d="M861.9 770.0h0"/>
<path d="M876.8 736.6h0"/>
<path d="M876.4 733.8h0"/>
<path d="M877.2 779.3h0"/>
<path d="M877.0 740.0h0"/>
<path d="M876.9 746.2h0"/>
<path d="M876.8 769.3h0"/>
<path d="M876.4 746.7h0"/>
<path d="M877.5 758.2h0"/>
<path d="M715.2 845.2h0"/>
<path d="M714.8 839.5h0"/>
<path d="M768.7 816.4h0"/>
<path d="M755.4 808.3h0"/>
<path d="M820.6 807.1h0"/>
</g>
<g stroke="#3a6798" stroke-opacity="0.6" stroke-width="6.4" stroke-linecap="round">
<path d="M592.2 669.5h0"/>
<path d="M591.6 683.7h0"/>
<path d="M592.4 676.7h0"/>
<path d="M591.2 689.8h0"/>
<path d="M591.7 675.2h0"/>
<path d="M592.1 667.6h0"/>
<path d="M592.0 748.1h0"/>
<path d="M591.2 788.5h0"/>
<path d="M590.6 673.1h0"/>
<path d="M591.9 675.3h0"/>
<path d="M593.0 660.4h0"/>
<path d="M594.3 653.6h0"/>
<path d="M593.4 680.3h0"/>
<path d="M594.0 644.3h0"/>
<path d="M594.1 635.3h0"/>
<path d="M594.0 661.0h0"/>
<path d="M594.1 660.0h0"/>
<path d="M593.9 752.4h0"/>
<path d="M593.4 691.0h0"/>
<path d="M594.2 663.9h0"/>
<path d="M615.8 666.5h0"/>
<path d="M615.2 661.8h0"/>
<path d="M615.2 642.5h0"/>
<path d="M615.1 729.1h0"/>
<path d="M615.9 668.4h0"/>
<path d="M615.9 658.0h0"/>
<path d="M615.1 643.8h0"/>
<path d="M615.8 675.5h0"/>
<path d="M625.5 690.8h0"/>
<path d="M625.4 766.3h0"/>
<path d="M625.6 701.6h0"/>
<path d="M625.8 700.9h0"/>
<path d="M625.0 701.2h0"/>
<path d="M625.6 689.1h0"/>
<path d="M629.9 638.4h0"/>
<path d="M631.0 695.4h0"/>
<path d="M630.3 659.8h0"/>
<path d="M630.0 674.9h0"/>
<path d="M630.8 646.3h0"/>
<path d="M629.5 670.3h0"/>
<path d="M631.0 666.3h0"/>
<path d="M630.2 641.1h0"/>
<path d="M630.3 655.7h0"/>
<path d="M629.8 642.4h0"/>
<path d="M630.6 659.8h0"/>
<path d="M630.2 656.6h0"/>
<path d="M633.5 653.7h0"/>
<path d="M633.6 672.0h0"/>
<path d="M634.6 745.2h0"/>
<path d="M633.2 733.7h0"/>
<path d="M633.9 672.3h0"/>
<path d="M633.2 674.3h0"/>
<path d="M634.0 669.2h0"/>
<path d="M634.1 665.4h0"/>
<path d="M633.8 681.6h0"/>
<path d="M633.6 666.4h0"/>
<path d="M643.7 678.1h0"/>
<path d="M644.3 657.3h0"/>
<path d="M644.0 661.8h0"/>
<path d="M644.0 678.5h0"/>
<path d="M643.6 653.5h0"/>
<path d="M644.8 660.1h0"/>
<path d="M645.0 654.5h0"/>
<path d="M643.8 675.9h0"/>
<path d="M648.5 682.1h0"/>
<path d="M648.9 671.5h0"/>
<path d="M648.4 665.6h0"/>
<path d="M649.6 636.2h0"/>
<path d="M648.0 693.4h0"/>
<path d="M649.5 681.5h0"/>
<path d="M648.7 679.5h0"/>
<path d="M648.4 698.3h0"/>
<path d="M648.8 788.3h0"/>
<path d="M648.7 770.2h0"/>
<path d="M648.4 669.8h0"/>
<path d="M648.9 646.3h0"/>
<path d="M648.9 665.5h0"/>
<path d="M655.1 792.4h0"/>
<path d="M655.0 681.5h0"/>
<path d="M655.5 659.4h0"/>
<path d="M655.8 669.0h0"/>
<path d="M655.3 664.6h0"/>
<path d="M655.0 657.3h0"/>
<path d="M655.2 671.5h0"/>
<path d="M655.3 680.0h0"/>
<path d="M654.6 668.7h0"/>
<path d="M655.7 651.2h0"/>
<path d="M655.2 663.8h0"/>
<path d="M655.3 635.1h0"/>
<path d="M658.8 662.9h0"/>
<path d="M659.1 659.8h0"/>
<path d="M658.5 753.9h0"/>
<path d="M658.2 664.6h0"/>
<path d="M658.9 664.3h0"/>
<path d="M659.4 676.9h0"/>
<path d="M658.9 664.8h0"/>
<path d="M659.3 664.1h0"/>
<path d="M673.9 745.8h0"/>
<path d="M674.0 642.5h0"/>
<path d="M673.5 762.4h0"/>
<path d="M673.8 650.4h0"/>
<path d="M674.6 642.7h0"/>
<path d="M674.1 636.7h0"/>
<path d="M673.9 646.8h0"/>
<path d="M674.7 674.5h0"/>
<path d="M674.3 677.0h0"/>
<path d="M673.9 657.7h0"/>
<path d="M674.6 752.2h0"/>
<path d="M673.9 673.7h0"/>
<path d="M674.0 639.3h0"/>
<path d="M683.7 645.1h0"/>
<path d="M684.0 652.7h0"/>
<path d="M683.5 637.6h0"/>
<path d="M684.1 648.4h0"/>
<path d="M683.6 657.0h0"/>
<path d="M684.1 649.9h0"/>
<path d="M684.2 672.5h0"/>
<path d="M683.8 679.3h0"/>
<path d="M684.0 665.2h0"/>
<path d="M683.8 675.9h0"/>
<path d="M683.8 667.1h0"/>
<path d="M683.7 665.3h0"/>
<path d="M689.6 666.7h0"/>
<path d="M689.3 645.1h0"/>
<path d="M688.7 645.4h0"/>
<path d="M688.5 654.5h0"/>
<path d="M688.7 777.5h0"/>
<path d="M688.6 677.3h0"/>
<path d="M689.3 680.6h0"/>
<path d="M689.3 643.9h0"/>
<path d="M689.4 666.6h0"/>
<path d="M693.9 644.8h0"/>
<path d="M693.9 749.6h0"/>
<path d="M695.7 643.6h0"/>
<path d="M695.1 657.4h0"/>
<path d="M694.3 677.2h0"/>
<path d="M694.1 647.4h0"/>
<path d="M694.1 663.8h0"/>
<path d="M694.5 664.9h0"/>
<path d="M693.9 666.2h0"/>
<path d="M699.4 677.4h0"/>
<path d="M698.7 689.8h0"/>
<path d="M698.6 664.9h0"/>
<path d="M699.8 683.5h0"/>
<path d="M699.7 690.6h0"/>
<path d="M699.2 647.2h0"/>
<path d="M699.0 640.1h0"/>
<path d="M698.9 647.7h0"/>
<path d="M704.8 674.7h0"/>
<path d="M703.9 680.5h0"/>
<path d="M704.0 687.9h0"/>
<path d="M704.0 680.6h0"/>
<path d="M704.2 658.3h0"/>
<path d="M704.5 658.3h0"/>
<path d="M703.6 710.5h0"/>
<path d="M703.7 679.2h0"/>
<path d="M704.6 667.5h0"/>
<path d="M703.2 668.7h0"/>
<path d="M712.4 673.5h0"/>
<path d="M712.8 690.0h0"/>
<path d="M712.8 676.0h0"/>
<path d="M712.2 676.0h0"/>
<path d="M713.1 645.9h0"/>
<path d="M712.8 713.4h0"/>
<path d="M712.9 684.0h0"/>
<path d="M712.6 676.7h0"/>
<path d="M712.7 672.4h0"/>
<path d="M712.2 680.8h0"/>
<path d="M712.1 678.4h0"/>
<path d="M713.4 661.3h0"/>
<path d="M712.6 666.8h0"/>
<path d="M715.9 680.0h0"/>
<path d="M716.6 717.9h0"/>
<path d="M715.4 677.3h0"/>
<path d="M716.0 680.4h0"/>
<path d="M715.9 656.9h0"/>
<path d="M715.4 681.3h0"/>
<path d="M717.0 657.0h0"/>
<path d="M715.7 717.3h0"/>
<path d="M715.9 692.8h0"/>
<path d="M715.3 688.7h0"/>
<path d="M716.2 694.2h0"/>
<path d="M725.8 675.4h0"/>
<path d="M726.1 659.6h0"/>
<path d="M725.0 669.3h0"/>
<path d="M726.0 699.8h0"/>
<path d="M725.6 744.0h0"/>
<path d="M725.5 671.4h0"/>
<path d="M726.0 666.8h0"/>
<path d="M725.7 648.2h0"/>
<path d="M734.5 656.6h0"/>
<path d="M734.4 675.8h0"/>
<path d="M735.4 659.7h0"/>
<path d="M734.9 663.5h0"/>
<path d="M734.0 699.7h0"/>
<path d="M758.1 664.9h0"/>
<path d="M757.8 666.9h0"/>
<path d="M757.7 654.3h0"/>
<path d="M757.5 695.5h0"/>
<path d="M758.7 675.5h0"/>
<path d="M757.1 679.8h0"/>
<path d="M757.3 701.6h0"/>
<path d="M757.6 670.3h0"/>
<path d="M757.9 722.7h0"/>
<path d="M760.9 695.2h0"/>
<path d="M760.2 660.5h0"/>
<path d="M761.2 664.3h0"/>
<path d="M761.4 684.7h0"/>
<path d="M760.9 657.6h0"/>
<path d="M760.8 731.9h0"/>
<path d="M760.6 671.8h0"/>
<path d="M760.7 697.8h0"/>
<path d="M761.4 667.3h0"/>
<path d="M761.5 684.3h0"/>
<path d="M761.2 756.0h0"/>
<path d="M762.1 664.2h0"/>
<path d="M762.1 655.7h0"/>
<path d="M763.4 663.8h0"/>
<path d="M763.6 661.8h0"/>
<path d="M762.9 763.0h0"/>
<path d="M769.8 697.9h0"/>
<path d="M769.3 671.4h0"/>
<path d="M769.2 678.4h0"/>
<path d="M769.7 649.4h0"/>
<path d="M769.2 661.8h0"/>
<path d="M769.3 655.8h0"/>
<path d="M777.7 661.8h0"/>
<path d="M777.8 745.8h0"/>
<path d="M777.2 659.3h0"/>
<path d="M777.9 690.8h0"/>
<path d="M778.4 762.5h0"/>
<path d="M778.0 663.6h0"/>
<path d="M777.5 677.7h0"/>
<path d="M778.0 665.4h0"/>
<path d="M778.2 675.1h0"/>
<path d="M777.8 685.4h0"/>
<path d="M777.5 724.9h0"/>
<path d="M779.2 703.2h0"/>
<path d="M779.8 692.8h0"/>
<path d="M779.4 669.3h0"/>
<path d="M780.0 713.8h0"/>
<path d="M779.1 691.2h0"/>
<path d="M780.0 682.5h0"/>
<path d="M787.9 672.0h0"/>
<path d="M788.0 669.3h0"/>
<path d="M788.5 656.5h0"/>
<path d="M787.9 667.4h0"/>
<path d="M787.8 666.7h0"/>
<path d="M787.8 680.5h0"/>
<path d="M787.8 673.0h0"/>
<path d="M789.7 663.8h0"/>
<path d="M790.1 654.0h0"/>
<path d="M789.2 667.1h0"/>
<path d="M790.1 663.5h0"/>
<path d="M789.6 664.9h0"/>
<path d="M790.1 649.8h0"/>
<path d="M789.5 657.7h0"/>
<path d="M806.4 686.2h0"/>
<path d="M806.1 794.5h0"/>
<path d="M806.2 682.7h0"/>
<path d="M805.9 656.1h0"/>
<path d="M806.2 662.3h0"/>
<path d="M806.0 731.2h0"/>
<path d="M805.8 702.5h0"/>
<path d="M806.7 704.9h0"/>
<path d="M806.1 667.3h0"/>
<path d="M805.6 645.7h0"/>
<path d="M806.2 658.7h0"/>
<path d="M805.6 693.6h0"/>
<path d="M806.1 667.6h0"/>
<path d="M819.4 648.2h0"/>
<path d="M819.7 651.8h0"/>
<path d="M819.7 658.1h0"/>
<path d="M819.9 654.8h0"/>
<path d="M819.8 647.1h0"/>
<path d="M819.8 669.1h0"/>
<path d="M823.7 687.4h0"/>
<path d="M822.0 781.3h0"/>
<path d="M823.4 678.6h0"/>
<path d="M822.8 708.4h0"/>
<path d="M822.8 672.3h0"/>
<path d="M822.6 720.5h0"/>
<path d="M822.8 686.1h0"/>
<path d="M822.8 691.3h0"/>
<path d="M851.5 681.8h0"/>
<path d="M851.1 653.1h0"/>
<path d="M851.7 684.2h0"/>
<path d="M851.6 650.4h0"/>
<path d="M852.6 664.4h0"/>
<path d="M852.3 666.5h0"/>
<path d="M851.4 675.5h0"/>
<path d="M851.4 670.2h0"/>
<path d="M862.1 675.7h0"/>
<path d="M861.8 660.8h0"/>
<path d="M862.2 683.3h0"/>
<path d="M861.7 653.4h0"/>
<path d="M861.1 686.2h0"/>
<path d="M861.5 682.4h0"/>
<path d="M861.8 678.3h0"/>
<path d="M861.5 653.3h0"/>
<path d="M863.0 703.2h0"/>
<path d="M863.4 685.4h0"/>
<path d="M863.0 665.2h0"/>
<path d="M863.6 675.8h0"/>
<path d="M863.7 660.4h0"/>
<path d="M862.9 650.6h0"/>
<path d="M876.7 654.6h0"/>
<path d="M876.7 655.7h0"/>
<path d="M876.1 646.2h0"/>
<path d="M876.4 676.2h0"/>
<path d="M876.1 689.7h0"/>
<path d="M876.5 651.2h0"/>
<path d="M877.2 662.1h0"/>
<path d="M876.6 661.4h0"/>
<path d="M876.6 665.4h0"/>
<path d="M715.2 836.0h0"/>
<path d="M714.3 812.9h0"/>
<path d="M594.6 739.0h0"/>
<path d="M596.3 748.2h0"/>
<path d="M807.2 779.4h0"/>
<path d="M734.4 718.2h0"/>
<path d="M735.3 632.7h0"/>
<path d="M683.4 632.7h0"/>
<path d="M624.8 637.3h0"/>
<path d="M862.5 642.0h0"/>
</g>
<path d="M592.6,677.7 L876.5,688.7" fill="none" stroke="#4a6f99" stroke-width="4.8" stroke-linecap="butt"/>
<path d="M592.6,756.3 L876.5,765.4" fill="none" stroke="#d07c83" stroke-width="4.8" stroke-linecap="butt"/>
<text x="740.2" y="636.7" font-size="15.7" fill="#4a6f99" stroke="#4a6f99" text-anchor="start"><tspan font-style="italic">R</tspan>² = 0.003, <tspan font-style="italic">p</tspan> = 0.16</text>
<text x="613.7" y="829.3" font-size="15.7" fill="#d07c83" stroke="#d07c83" text-anchor="start"><tspan font-style="italic">R</tspan>² = 0.009, <tspan font-style="italic">p</tspan> = 0.048</text>
<rect x="577.9" y="621.8" width="313.0" height="233.60000000000002" fill="none" stroke="#231f20" stroke-width="2.6"/>
<line x1="636.5" y1="856.4" x2="636.5" y2="858.9" stroke="#333" stroke-width="2.6"/>
<text x="636.5" y="873.9" text-anchor="middle" font-size="16" fill="#111" stroke="#111">500</text>
<line x1="720.2" y1="856.4" x2="720.2" y2="858.9" stroke="#333" stroke-width="2.6"/>
<text x="720.2" y="873.9" text-anchor="middle" font-size="16" fill="#111" stroke="#111">1000</text>
<line x1="803.9" y1="856.4" x2="803.9" y2="858.9" stroke="#333" stroke-width="2.6"/>
<text x="803.9" y="873.9" text-anchor="middle" font-size="16" fill="#111" stroke="#111">1500</text>
<line x1="887.6" y1="856.4" x2="887.6" y2="858.9" stroke="#333" stroke-width="2.6"/>
<text x="887.6" y="873.9" text-anchor="middle" font-size="16" fill="#111" stroke="#111">2000</text>
<line x1="574.4" y1="674.3" x2="576.9" y2="674.3" stroke="#333" stroke-width="2.6"/>
<text x="572.7" y="680.0" text-anchor="end" font-size="16" fill="#111" stroke="#111">9</text>
<line x1="574.4" y1="743.6" x2="576.9" y2="743.6" stroke="#333" stroke-width="2.6"/>
<text x="572.7" y="749.3" text-anchor="end" font-size="16" fill="#111" stroke="#111">6</text>
<line x1="574.4" y1="812.9" x2="576.9" y2="812.9" stroke="#333" stroke-width="2.6"/>
<text x="572.7" y="818.6" text-anchor="end" font-size="16" fill="#111" stroke="#111">3</text>
<text x="731" y="890.3" text-anchor="middle" font-size="17.8" fill="#111" stroke="#111">Precipitation (mm)</text>
<text transform="translate(559.5,731.4) rotate(-90)" text-anchor="middle" font-size="17.3" fill="#111" stroke="#111">Richness</text>
<text x="554.2" y="32.5" font-size="44.6" fill="#0a0a0a" stroke="#0a0a0a">b</text>
<path d="M1045.2,289.1A355.0,355.0 0 0 1 1631.2,246.6L1517.8,336.1L1517.4,335.6L1518.7,334.6L1518.1,333.9L1509.4,340.9L1508.9,340.2L1519.2,331.9L1518.7,331.2L1515.1,334.2L1514.5,333.5L1523.7,326L1523.1,325.3L1523.5,325L1522.9,324.3L1522.7,324.4L1522.2,323.7L1521.5,324.3L1520.9,323.6L1508.9,333.8L1508.3,333.2L1516.8,325.9L1516.2,325.3L1512.1,328.9L1511.5,328.2L1513.6,326.4L1513,325.8L1510.5,327.9L1510,327.3L1508.3,328.8L1507.7,328.2L1516.9,320L1516.3,319.3L1515.4,320.1L1514.8,319.4L1515.2,319.1L1514.6,318.5L1513.1,319.8L1512.5,319.1L1506.3,324.9L1505.7,324.2L1511.8,318.6L1511.2,318L1509.2,319.8L1508.6,319.1L1523.1,305.5L1522.4,304.8L1521.8,305.4L1521.1,304.7L1521.6,304.3L1520.9,303.6L1530.3,294.5L1529.6,293.7L1515.8,307.3L1515.1,306.6L1519.1,302.7L1518.5,302L1517.5,302.9L1516.9,302.3L1507.9,311.2L1507.2,310.6L1517.8,300L1517.1,299.3L1521.4,294.9L1520.7,294.2L1520,294.9L1519.3,294.3L1512.9,300.9L1512.2,300.3L1521.6,290.5L1520.9,289.8L1501,310.7L1500.3,310.1L1509.3,300.6L1508.6,300L1491.9,317.8L1491.3,317.2L1502,305.7L1501.4,305.1L1491.6,315.7L1491,315.2L1495.8,309.8L1495.2,309.2L1496.2,308.2L1495.5,307.6L1497.7,305.2L1497,304.6L1495.3,306.6L1494.6,306L1498,302.2L1497.3,301.6L1491,308.8L1490.3,308.2L1493.5,304.6L1492.8,304.1L1492.7,304.2L1492,303.7L1490.5,305.4L1489.8,304.9L1499.4,293.6L1498.7,293L1491.7,301.3L1491,300.8L1490,302L1489.3,301.4L1488.3,302.7L1487.6,302.1L1493.2,295.4L1492.5,294.8L1485.6,303.3L1484.9,302.7L1492.7,293L1492,292.5L1497.6,285.6L1496.8,285L1485.8,298.9L1485.1,298.4L1488.9,293.5L1488.2,293L1473.2,312.2L1472.5,311.7L1486.5,293.6L1485.8,293.1L1486.6,292.1L1485.9,291.6L1484.2,293.8L1483.5,293.3L1487.3,288.1L1486.6,287.6L1488.5,285L1487.8,284.5L1487,285.6L1486.3,285L1491.8,277.4L1491.1,276.9L1484.5,285.9L1483.8,285.3L1489.5,277.4L1488.7,276.8L1482.5,285.6L1481.7,285L1478.8,289.2L1478,288.7L1490.3,271.2L1489.5,270.7L1468.8,300.3L1468.1,299.9L1466.9,301.6L1466.2,301.2L1465.1,302.9L1464.4,302.4L1457.1,313.2L1456.4,312.8L1465.2,299.8L1464.5,299.3L1459.7,306.6L1459,306.2L1458.5,306.9L1457.9,306.4L1456.8,308.2L1456.1,307.7L1456.4,307.3L1455.7,306.9L1448,318.8L1447.4,318.5L1451.5,312.1L1450.9,311.7L1448.3,315.7L1447.7,315.3L1445.7,318.5L1445.1,318.1L1442.4,322.5L1441.8,322.1L1448.4,311.4L1447.7,311.1L1448.4,310L1447.8,309.6L1451.9,302.8L1451.2,302.4L1449.9,304.5L1449.3,304.1L1449.2,304.2L1448.5,303.9L1453.2,295.9L1452.5,295.5L1451.9,296.5L1451.2,296.1L1454.2,291L1453.5,290.6L1460.2,278.9L1459.4,278.5L1454.6,286.9L1453.9,286.5L1453.3,287.6L1452.5,287.2L1459.4,274.8L1458.7,274.4L1455.3,280.5L1454.5,280.1L1453.8,281.5L1453,281.1L1451.5,283.9L1450.7,283.5L1451.8,281.5L1451,281.1L1446,290.7L1445.3,290.3L1450.3,280.7L1449.5,280.3L1444,291L1443.3,290.6L1443.9,289.3L1443.2,288.9L1444.8,285.7L1444.1,285.3L1440.5,292.5L1439.8,292.2L1441,289.8L1440.2,289.4L1441.3,287.3L1440.6,287L1438.6,290.9L1437.9,290.5L1443.4,279.2L1442.6,278.8L1437.2,290.2L1436.5,289.8L1443.6,274.8L1442.9,274.4L1441.9,276.4L1441.1,276L1439.6,279.3L1438.9,278.9L1444.6,266.5L1443.8,266.1L1443.6,266.4L1442.8,266L1442.4,266.9L1441.6,266.5L1448.1,251.9L1447.3,251.5L1442.3,262.7L1441.5,262.3L1439.9,266L1439.1,265.7L1439.8,264L1439,263.6L1436.9,268.5L1436.1,268.1L1431.9,278.2L1431.1,277.9L1432.4,274.9L1431.6,274.6L1433.1,270.9L1432.3,270.6L1429.9,276.5L1429.1,276.2L1422.4,292.8L1421.7,292.5L1423.6,287.7L1422.9,287.4L1423,287.2L1422.2,286.9L1421.1,289.9L1420.4,289.6L1420.2,290.2L1419.4,289.9L1424.3,277.1L1423.5,276.8L1424.1,275.2L1423.3,274.9L1420.7,282L1420,281.7L1420.5,280.3L1419.7,280.1L1419.6,280.5L1418.8,280.2L1418.4,281.4L1417.6,281.1L1421.1,271.3L1420.3,271L1419.4,273.6L1418.6,273.4L1415.9,281.2L1415.2,280.9L1415.1,281L1414.4,280.7L1414.2,281.3L1413.4,281.1L1412.5,284.1L1411.7,283.8L1408.7,293.1L1408,292.9L1410.4,285.5L1409.6,285.2L1410.7,281.9L1409.9,281.6L1407.2,290.5L1406.5,290.3L1406.2,291.3L1405.4,291.1L1402.8,299.9L1402.1,299.7L1402,300.1L1401.3,299.9L1398.9,308.1L1398.3,307.9L1399.9,302.4L1399.2,302.2L1400,299.3L1399.3,299.1L1399,300.2L1398.4,300L1394,315.9L1393.4,315.7L1399.1,294.7L1398.4,294.5L1396.6,301.1L1395.9,300.9L1393.9,308.7L1393.2,308.6L1391.8,314.2L1391.2,314.1L1390.9,315.1L1390.3,314.9L1391.1,311.6L1390.5,311.4L1390.1,313.1L1389.5,313L1392.7,299.3L1392.1,299.1L1391.6,301.2L1390.9,301.1L1389.8,305.6L1389.2,305.4L1391.3,296.3L1390.6,296.1L1388.2,306.8L1387.5,306.7L1386.6,310.8L1386,310.7L1386.8,307.1L1386.1,306.9L1390,288.4L1389.3,288.3L1385.4,307.3L1384.7,307.2L1379.7,332.1L1379.1,332L1376.8,343.8L1376.3,343.7L1379.5,327L1379,326.9L1379.7,322.8L1379.2,322.7L1377.2,333.2L1376.7,333.1L1374.8,343.6L1374.3,343.5L1373.9,345.9L1373.4,345.8L1374.5,339.1L1374,339L1372.2,349.6L1371.7,349.5L1376.1,323L1375.5,322.9L1373.7,334.1L1373.2,334L1373,335.2L1372.5,335.2L1371.9,338.7L1371.4,338.6L1371.4,338.4L1370.9,338.3L1371.8,331.8L1371.3,331.8L1371.5,330.4L1370.9,330.3L1369.4,341.8L1368.9,341.7L1369.8,334.5L1369.3,334.5L1368.5,340.3L1368,340.2L1369.5,328L1369,327.9L1368.3,333.6L1367.7,333.5L1366.7,342.3L1366.2,342.3L1368,326.4L1367.4,326.4L1367.2,328.6L1366.6,328.6L1367.1,324L1366.5,323.9L1366,328.6L1365.5,328.6L1365.8,325L1365.2,324.9L1364.2,335.9L1363.7,335.9L1363.8,334.7L1363.3,334.7L1363.1,337.1L1362.5,337.1L1362.6,336.5L1362.1,336.4L1361.9,339.3L1361.3,339.3L1361.1,342.2L1360.6,342.2L1361.8,323.3L1361.3,323.3L1361.1,325.2L1360.6,325.1L1359.5,344.7L1359,344.6L1359.7,329.9L1359.2,329.9L1359.2,328.8L1358.7,328.8L1359.5,310.9L1358.8,310.9L1358.2,327L1357.6,327L1357.4,332.1L1356.9,332.1L1357,327.8L1356.5,327.8L1356.5,326.4L1355.9,326.4L1355.9,328.4L1355.3,328.4L1355.2,332.5L1354.7,332.5L1354.9,318.7L1354.3,318.7L1354.1,335L1353.6,335L1353.6,327L1353.1,327L1353.1,317.8L1352.5,317.8L1352.5,326.4L1351.9,326.4L1351.9,326.7L1351.4,326.7L1351.4,327.2L1350.8,327.2L1350.9,333L1350.3,333L1350.2,327.4L1349.7,327.4L1349.7,329.4L1349.1,329.4L1349.1,327.1L1348.5,327.1L1348.2,317.8L1347.6,317.8L1347.5,313.3L1346.9,313.3L1347.2,322.3L1346.6,322.3L1347.4,340.8L1346.9,340.8L1346.5,333.6L1346,333.7L1346.2,336.8L1345.6,336.8L1345.4,333.4L1344.9,333.4L1345.5,344L1345,344.1L1344.8,340.9L1344.3,340.9L1343.8,333L1343.2,333L1343.2,332.7L1342.7,332.7L1343,337.1L1342.5,337.1L1341.9,329.5L1341.3,329.5L1341.2,328L1340.6,328L1340.9,331.2L1340.3,331.2L1341.8,347.8L1341.4,347.8L1341.2,346.5L1340.7,346.6L1339.9,337.9L1339.4,337.9L1340,344.4L1339.5,344.4L1338.4,334.3L1337.9,334.3L1337,326.1L1336.4,326.2L1339,348.3L1338.5,348.3L1337.6,340.7L1337.1,340.8L1336.2,333.5L1335.6,333.6L1334.9,327.6L1334.3,327.7L1336,340.5L1335.5,340.6L1334.2,331L1333.6,331.1L1334.6,337.9L1334,338L1333.2,331.9L1332.6,332L1332.9,333.5L1332.3,333.6L1333.4,340.6L1332.9,340.7L1332,334.9L1331.4,335L1330.7,330.7L1330.2,330.7L1331,335.7L1330.5,335.8L1329.3,329.1L1328.8,329.2L1328.3,326.6L1327.7,326.7L1329.7,337.7L1329.2,337.8L1329.4,339.2L1328.9,339.3L1325.8,322.5L1325.2,322.6L1327.5,334.5L1326.9,334.6L1326.6,332.8L1326,332.9L1325.7,331.3L1325.2,331.4L1326.4,337.5L1325.9,337.6L1326.2,339.4L1325.7,339.5L1325,336L1324.5,336.2L1323.8,333L1323.2,333.1L1322.8,331.3L1322.3,331.5L1324.1,339.3L1323.5,339.4L1322.9,336.6L1322.4,336.7L1325,348.3L1324.6,348.4L1322.5,339.6L1322,339.7L1323.4,345.6L1322.9,345.7L1320.9,337.5L1320.4,337.7L1320.1,336.7L1319.6,336.8L1319.4,336.1L1318.9,336.3L1320.2,341.6L1319.7,341.7L1319.7,341.7L1319.2,341.8L1316.9,333.1L1316.4,333.2L1316,331.8L1315.4,331.9L1316.9,337.3L1316.4,337.4L1318.9,346.4L1318.4,346.6L1314.5,333.1L1314,333.2L1315.7,338.9L1315.1,339.1L1314,335.3L1313.5,335.5L1315.3,341.6L1314.8,341.7L1312,332.4L1311.4,332.6L1315.9,347.1L1315.4,347.2L1312.6,338.3L1312.1,338.4L1312.2,338.8L1311.7,339L1309.9,333.3L1309.3,333.5L1307.2,327L1306.7,327.2L1308.8,333.5L1308.2,333.7L1309.7,338.1L1309.2,338.3L1309.1,338.3L1308.6,338.4L1307.9,336.3L1307.4,336.5L1311.8,349.4L1311.4,349.5L1304.3,329.6L1303.8,329.8L1308,341.8L1307.5,341.9L1307.4,341.5L1306.9,341.7L1306.4,340.5L1305.9,340.6L1305.8,340.4L1305.3,340.6L1303,334.6L1302.5,334.8L1302.6,335L1302.1,335.2L1304,340.4L1303.5,340.6L1301.2,334.5L1300.6,334.7L1301.3,336.5L1300.8,336.7L1301.5,338.4L1300.9,338.6L1300.3,336.9L1299.7,337.1L1298.6,334.2L1298,334.5L1295.3,327.8L1294.7,328L1300.5,341.8L1299.9,342L1301.5,345.7L1301,345.9L1298.7,340.4L1298.1,340.6L1308.2,363.9L1307.8,364.1L1302.8,352.6L1302.3,352.8L1308.9,367.6L1308.5,367.8L1309.4,370L1309.1,370.2L1303.9,358.7L1303.4,358.9L1309.3,371.7L1308.9,371.9L1307.1,368L1306.7,368.2L1302.4,359L1302,359.2L1306.7,369.3L1306.3,369.5L1306.2,369.2L1305.8,369.4L1298.7,354.5L1298.2,354.8L1300.9,360.3L1300.5,360.6L1300.2,360L1299.8,360.2L1303,366.7L1302.6,366.9L1296.6,355L1296.1,355.2L1301.4,365.5L1301,365.7L1300.2,364.3L1299.8,364.5L1295.8,356.8L1295.4,357L1296,358.2L1295.6,358.4L1297.8,362.7L1297.4,362.9L1294.1,356.7L1293.6,357L1299.5,367.8L1299.1,368L1299.3,368.5L1298.9,368.8L1290.2,352.8L1289.7,353L1293,358.9L1292.5,359.1L1300.2,372.9L1299.9,373.1L1296.5,367.2L1296.1,367.5L1295.4,366.2L1295,366.5L1295.8,367.9L1295.4,368.1L1291.4,361.2L1291,361.5L1296.3,370.6L1295.9,370.8L1296.1,371.1L1295.7,371.3L1296.3,372.2L1295.9,372.5L1291.5,365.2L1291.1,365.4L1293.8,369.9L1293.4,370.2L1291.6,367.2L1291.2,367.5L1299.2,380.3L1298.8,380.5L1296.6,376.9L1296.2,377.2L1290.3,367.9L1289.9,368.1L1291.4,370.5L1291,370.7L1289,367.5L1288.6,367.8L1286.2,364L1285.7,364.3L1283.4,360.8L1283,361L1282.2,359.8L1281.8,360.1L1283.1,362.2L1282.7,362.5L1280.7,359.5L1280.3,359.8L1283.1,363.9L1282.7,364.2L1284.3,366.6L1283.9,366.8L1276.6,356.3L1276.2,356.6L1284.8,369L1284.4,369.3L1283.9,368.7L1283.5,369L1275.1,357L1274.6,357.3L1281.5,366.9L1281.1,367.2L1288.5,377.5L1288.1,377.8L1290.2,380.6L1289.8,380.8L1288,378.4L1287.6,378.6L1287.7,378.7L1287.4,379L1288.6,380.7L1288.3,380.9L1281.2,371.5L1280.8,371.8L1280.8,371.8L1280.4,372.1L1290,384.6L1289.7,384.9L1288.4,383.2L1288,383.5L1276.9,369.1L1276.5,369.4L1278.3,371.8L1277.9,372.1L1286.7,383.2L1286.4,383.4L1258.1,347.9L1257.6,348.3L1255,345L1254.5,345.4L1248.1,337.5L1247.6,338L1255.9,348.2L1255.4,348.6L1260.5,354.8L1260.1,355.1L1276.3,374.8L1276,375.1L1268.7,366.4L1268.3,366.7L1276,375.8L1275.6,376.2L1268.2,367.5L1267.8,367.8L1276.9,378.4L1276.6,378.8L1281.9,385L1281.6,385.2L1281.7,385.4L1281.4,385.7L1275,378.4L1274.7,378.7L1275.6,379.7L1275.2,380.1L1278.9,384.2L1278.6,384.5L1276.9,382.6L1276.5,382.9L1280.8,387.6L1280.5,387.9L1263.3,369.2L1262.9,369.6L1269.6,376.8L1269.3,377.1L1269.7,377.6L1269.4,378L1268.2,376.7L1267.8,377L1276.2,385.9L1275.9,386.2L1271.1,381.2L1270.7,381.5L1256.8,367.1L1256.4,367.5L1254.4,365.3L1253.9,365.8L1262.2,374.2L1261.9,374.6L1251.7,364.3L1251.3,364.7L1256.6,370.1L1256.2,370.4L1271.9,386.1L1271.6,386.4L1279.8,394.6L1279.5,394.9L1270.6,386.2L1270.3,386.5L1277.8,393.8L1277.5,394.1L1264.4,381.5L1264.1,381.8L1266.3,383.9L1265.9,384.3L1271.8,389.9L1271.5,390.2L1274.3,392.8L1274,393.1L1281.1,399.7L1280.8,400L1262.3,382.9L1261.9,383.2L1290,409L1289.7,409.3L1283.5,403.6L1283.2,403.8L1277.9,399.1L1277.7,399.4L1282.8,404L1282.6,404.3L1275.1,397.6L1274.8,397.9L1271.3,394.8L1271,395.2L1282.7,405.4L1282.5,405.7L1277.9,401.8L1277.7,402.1L1273.7,398.7L1273.4,399L1274.7,400.1L1274.5,400.4L1269.5,396.2L1269.2,396.5L1274,400.6L1273.8,400.9L1279.8,406L1279.6,406.3L1270.1,398.4L1269.8,398.8L1274.7,402.8L1274.5,403.1L1297.2,421.6L1297,421.8L1269.2,399.4L1268.9,399.7L1284.1,411.9L1283.9,412.2L1286.4,414.1L1286.2,414.4L1283.1,412L1282.9,412.3L1278.6,408.9L1278.4,409.2L1283.1,412.9L1282.9,413.2L1285.7,415.4L1285.5,415.6L1293.3,421.5L1293.1,421.8L1277.2,409.8L1277,410.1L1290.3,420L1290.1,420.3L1302.5,429.5L1302.4,429.7L1294.4,423.8L1294.2,424.1L1294,423.9L1293.8,424.2L1285.1,417.9L1284.9,418.1L1300.6,429.3L1300.4,429.6L1291.1,423L1291,423.2L1296,426.8L1295.8,427L1300.7,430.4L1300.5,430.6L1302.2,431.7L1302,431.9L1315.2,441L1315.1,441.1L1312.2,439.1L1312.1,439.3L1317.8,443.1L1317.7,443.3L1313.3,440.4L1313.2,440.5L1317.7,443.5L1317.6,443.7L1324.2,448L1324.1,448.1L1321.6,446.5L1321.6,446.6L1318.3,444.5L1318.2,444.6L1325.4,449.2L1325.4,449.4L1338.5,457.7L1338.4,457.7L1332.2,453.8L1332.2,453.9L1339.3,458.3L1339.3,458.4L1341.3,459.6L1341.3,459.7L1349.2,464.5L1349.2,464.5L1342.5,460.5L1342.5,460.5L1344.1,461.5L1344.1,461.6L1340.1,459.2L1340,459.2L1341.8,460.3L1341.8,460.3L1345,462.2L1345,462.2Z" fill="#8294b0"/>
<path d="M1646.6,267.6A355.0,355.0 0 0 1 1662.8,294L1558.4,351.8L1558,351L1565,347L1564.6,346.1L1552.4,353L1551.9,352.2L1547.3,354.8L1546.9,354L1540.5,357.7L1540.1,357L1546.4,353.3L1545.9,352.5L1545.3,352.9L1544.8,352.1L1538.3,356L1537.9,355.2L1537.2,355.6L1536.8,354.8L1540.4,352.7L1539.9,351.9L1531.6,357L1531.1,356.3L1540.5,350.5L1540,349.7L1537.8,351.1L1537.3,350.4L1537.9,350L1537.4,349.2L1523.8,357.9L1523.4,357.2L1532.8,351.1L1532.3,350.4L1536.9,347.5L1536.4,346.7L1532.1,349.5L1531.7,348.8L1548.4,337.7L1547.9,336.9L1544.4,339.2L1543.9,338.5L1542,339.7L1541.5,339Z" fill="#578890"/>
<path d="M1692.7,364.9A355.0,355.0 0 0 1 1698,548.4L1588.8,522.5L1589,521.5L1582.6,520L1582.8,519.1L1587.2,520.1L1587.4,519.1L1595.1,520.9L1595.4,519.9L1586,517.8L1586.2,516.9L1590.8,517.8L1591,516.9L1587.4,516.1L1587.6,515.2L1583.6,514.3L1583.8,513.4L1591,514.9L1591.2,513.9L1587.7,513.2L1587.9,512.2L1584.6,511.6L1584.7,510.6L1595.9,512.8L1596.1,511.8L1590.2,510.7L1590.4,509.7L1573.9,506.7L1574,505.8L1571.2,505.3L1571.3,504.4L1575.7,505.2L1575.8,504.3L1570.4,503.3L1570.5,502.5L1565.9,501.7L1566.1,500.8L1579.4,503L1579.6,502L1584.2,502.8L1584.4,501.8L1569.5,499.6L1569.6,498.7L1584.2,500.8L1584.4,499.9L1572.3,498.2L1572.4,497.3L1572.4,497.3L1572.5,496.4L1578.8,497.2L1578.9,496.3L1565.8,494.6L1565.9,493.7L1581.9,495.7L1582,494.8L1575.6,494L1575.7,493.1L1575.4,493.1L1575.5,492.2L1574,492L1574.1,491.1L1570.6,490.7L1570.7,489.8L1573.4,490.1L1573.5,489.2L1578.1,489.7L1578.2,488.8L1571.5,488.1L1571.5,487.2L1562.6,486.4L1562.7,485.5L1584.2,487.5L1584.3,486.5L1569.8,485.3L1569.9,484.4L1574.7,484.8L1574.8,483.9L1572.5,483.7L1572.5,482.8L1566.4,482.3L1566.4,481.5L1590.1,483.1L1590.2,482.2L1584.6,481.8L1584.6,480.8L1579.8,480.5L1579.9,479.6L1579,479.6L1579.1,478.6L1581,478.7L1581.1,477.8L1603.7,478.9L1603.8,477.9L1581.8,476.9L1581.8,476L1584,476.1L1584.1,475.1L1578.3,474.9L1578.3,474L1580.5,474.1L1580.5,473.1L1589.2,473.4L1589.2,472.4L1592.5,472.5L1592.6,471.5L1603.3,471.8L1603.3,470.7L1588.5,470.5L1588.5,469.5L1582.8,469.5L1582.8,468.5L1582,468.5L1582,467.6L1570.6,467.5L1570.6,466.6L1582.5,466.6L1582.5,465.7L1583.9,465.7L1583.9,464.8L1577.6,464.8L1577.6,463.9L1578.4,463.9L1578.4,463L1570,463.1L1570,462.2L1575.2,462.1L1575.1,461.2L1580.4,461.1L1580.4,460.2L1583.4,460.1L1583.4,459.1L1578.1,459.3L1578.1,458.4L1582.3,458.2L1582.3,457.3L1578.3,457.5L1578.2,456.5L1568.4,457L1568.4,456.1L1574.5,455.8L1574.5,454.9L1580.3,454.6L1580.3,453.7L1576,453.9L1575.9,453L1563.4,453.7L1563.4,452.9L1565.8,452.7L1565.8,451.9L1553.6,452.7L1553.5,451.9L1567.7,450.8L1567.7,450L1572.8,449.6L1572.7,448.7L1569.7,448.9L1569.6,448L1592.9,446.1L1592.8,445.1L1587.7,445.5L1587.6,444.6L1586.7,444.7L1586.6,443.7L1587.9,443.6L1587.8,442.6L1573,444.1L1572.9,443.2L1593.8,441L1593.7,440L1597.9,439.6L1597.8,438.6L1590.5,439.4L1590.4,438.4L1588.6,438.7L1588.5,437.7L1580.3,438.7L1580.2,437.8L1560.6,440.3L1560.4,439.4L1576.5,437.3L1576.3,436.4L1576.5,436.4L1576.4,435.5L1568.8,436.5L1568.7,435.6L1562.9,436.5L1562.8,435.6L1568.7,434.7L1568.5,433.9L1562.2,434.8L1562.1,434L1551,435.7L1550.8,434.9L1563.1,432.9L1563,432.1L1580,429.3L1579.8,428.4L1565.1,430.8L1565,430L1562,430.5L1561.8,429.6L1568.6,428.4L1568.4,427.6L1580.7,425.3L1580.5,424.4L1563.6,427.5L1563.5,426.7L1559.5,427.4L1559.4,426.6L1569,424.7L1568.8,423.8L1569.7,423.7L1569.6,422.8L1561.6,424.4L1561.5,423.5L1564.4,422.9L1564.2,422.1L1566.9,421.5L1566.8,420.6L1584.1,416.9L1583.9,416L1560.5,421.1L1560.3,420.2L1562.4,419.8L1562.2,418.9L1569.8,417.2L1569.6,416.3L1554,419.9L1553.9,419.1L1571.3,414.9L1571.1,414.1L1556.7,417.5L1556.5,416.7L1570.9,413.2L1570.7,412.3L1572.6,411.8L1572.3,410.9L1563.4,413.2L1563.1,412.3L1569.7,410.6L1569.5,409.8L1562.8,411.5L1562.6,410.6L1562.6,410.7L1562.3,409.8L1561.4,410.1L1561.2,409.2L1553.3,411.4L1553.1,410.5L1562.1,408L1561.8,407.2L1550.8,410.3L1550.6,409.5L1560,406.8L1559.7,406L1552.1,408.2L1551.8,407.4Z" fill="#a1c1c6"/>
<path d="M1682.2,598.4A355.0,355.0 0 0 1 1652.3,656.8L1536.2,583.1L1536.6,582.5L1543.5,586.8L1543.9,586L1552.5,591.4L1553,590.6L1556.4,592.6L1556.9,591.8L1582.3,607.4L1582.9,606.5L1588.6,610L1589.2,609L1599.2,615L1599.8,614L1600.1,614.2L1600.7,613.2L1599.6,612.5L1600.1,611.5L1600,611.4L1600.6,610.4L1591.5,605.1L1592,604.1L1592.1,604.2L1592.7,603.2L1602.8,609L1603.3,607.9L1605.8,609.3L1606.3,608.3L1603.7,606.8L1604.2,605.7L1592.1,599.1L1592.7,598.1L1603.4,603.9L1603.9,602.9L1599.9,600.8L1600.5,599.7L1591.2,594.7L1591.7,593.8L1605.4,601.1L1606,600L1607,600.6L1607.6,599.6L1602.5,596.9L1603,595.9L1600.5,594.6L1601,593.6L1597.6,591.8L1598.1,590.8L1619.6,601.7L1620.1,600.6L1603.9,592.5L1604.4,591.5L1613.4,595.9L1614,594.9L1600.5,588.3L1601,587.3L1596.9,585.3L1597.4,584.3L1603.8,587.4L1604.3,586.3L1601.2,584.8L1601.6,583.8L1612.3,588.9L1612.8,587.8L1598.9,581.3L1599.3,580.3L1602.8,581.9L1603.2,580.9L1608.5,583.3L1609,582.2L1606.2,581L1606.7,580L1603.9,578.7L1604.4,577.7L1609,579.7L1609.4,578.7L1605.8,577.1L1606.2,576.1L1610.3,577.8L1610.8,576.8L1609.5,576.2L1609.9,575.2L1610.1,575.2L1610.5,574.2L1611.4,574.6L1611.9,573.5L1600.9,569L1601.3,568L1612,572.3L1612.4,571.3L1613.1,571.6L1613.4,570.9Z" fill="#d8c68f"/>
<path d="M1650.2,660.2A355.0,355.0 0 0 1 1583.8,736L1531.8,675.4L1532.3,675L1525.3,666.9L1526.1,666.2L1534.4,675.8L1535.3,675.1L1527.2,665.9L1528,665.2L1525.1,661.8L1525.9,661.1L1530.6,666.4L1531.4,665.7L1523.6,657L1524.3,656.3L1533,665.8L1533.8,665.1L1534.1,665.4L1534.9,664.7L1524.4,653.3L1525.2,652.6L1527.5,655L1528.2,654.3L1522.7,648.4L1523.4,647.7L1532.2,657L1533,656.3L1523.4,646.2L1524.1,645.5L1530.5,652.1L1531.2,651.4L1528.7,648.8L1529.4,648L1523.6,642.1L1524.3,641.4L1523.6,640.7L1524.3,640L1531.7,647.4L1532.5,646.7L1534.7,649L1535.5,648.2L1521.1,634L1521.8,633.3L1526.6,638.1L1527.3,637.4L1524.4,634.5L1525.1,633.8L1521.9,630.7L1522.6,630.1L1528.2,635.4L1528.9,634.7L1520.2,626.5L1520.9,625.8L1529.7,634.1L1530.4,633.4L1530,633L1530.7,632.3L1533.9,635.3L1534.6,634.6L1531.2,631.4L1531.9,630.7L1534.2,632.8L1534.8,632.1L1533.2,630.6L1533.9,629.9L1540.2,635.5L1540.9,634.8L1539.9,633.9L1540.6,633.2L1542.6,634.9L1543.3,634.2L1528.2,620.9L1528.8,620.2L1529.8,621L1530.4,620.3L1531.8,621.5L1532.4,620.7L1541.7,628.7L1542.3,627.9L1526.9,614.8L1527.5,614.1L1537.3,622.3L1537.9,621.6L1537.4,621.1L1538,620.4L1540.6,622.5L1541.2,621.7L1526.9,610L1527.5,609.3L1541.1,620.4L1541.7,619.6L1540.6,618.7L1541.2,617.9L1534.6,612.6L1535.2,611.9L1534.7,611.4L1535.2,610.7L1532.8,608.8L1533.4,608L1543.1,615.7L1543.7,614.9L1539.1,611.3L1539.7,610.5L1548,616.9L1548.6,616.1L1536,606.5L1536.6,605.8L1542.2,610L1542.8,609.2L1550.2,614.8L1550.8,614L1552.2,615L1552.8,614.2L1550.3,612.4L1550.9,611.6L1562.4,620L1563,619.2L1564.5,620.2L1565.2,619.4L1552.3,610.1L1552.9,609.3L1551.1,608L1551.7,607.2L1547.6,604.3L1548.1,603.6L1550.4,605.1L1550.9,604.3L1559.9,610.6L1560.5,609.7L1554.2,605.4L1554.8,604.6L1557.8,606.6L1558.4,605.8L1555.8,604.1L1556.4,603.2L1552.7,600.8L1553.3,600L1540.2,591.3L1540.7,590.5L1533.6,585.8L1534.1,585.1Z" fill="#f0b881"/>
<path d="M1583.8,736A355.0,355.0 0 0 1 1476.9,799.1L1457.6,747.5L1458.6,747.1L1462.4,757.2L1463.6,756.7L1462.6,754.3L1463.8,753.8L1459.7,743.2L1460.8,742.8L1459.6,739.7L1460.7,739.3L1465.3,750.7L1466.4,750.2L1465,746.7L1466.1,746.2L1464.1,741.3L1465.2,740.8L1462.5,734.2L1463.6,733.8L1468.1,744.5L1469.2,744.1L1469.1,743.8L1470.3,743.4L1464.7,730.3L1465.8,729.9L1464.3,726.3L1465.3,725.9L1479.8,759.2L1481,758.7L1476.1,747.6L1477.3,747.1L1480.3,753.8L1481.4,753.3L1481.2,752.8L1482.4,752.3L1483.7,755.2L1484.9,754.7L1482.4,749.3L1483.6,748.8L1477.8,736.3L1478.9,735.8L1481.8,742.1L1483,741.6L1488.1,752.4L1489.2,751.8L1479.2,730.9L1480.3,730.4L1486.3,742.8L1487.4,742.3L1479.1,725.2L1480.1,724.7L1484.4,733.3L1485.5,732.7L1480.3,722.3L1481.3,721.8L1481.5,722.1L1482.5,721.6L1481.1,718.8L1482.1,718.2L1492,737.4L1493.1,736.8L1484.4,720.2L1485.4,719.7L1483.3,715.6L1484.3,715.1L1482.4,711.5L1483.4,711L1485.5,714.8L1486.5,714.2L1487.8,716.6L1488.8,716.1L1492.3,722.6L1493.4,722L1483.3,703.7L1484.3,703.2L1493.4,719.6L1494.4,719L1490.7,712.3L1491.7,711.8L1492.8,713.8L1493.8,713.2L1486.9,701.2L1487.9,700.6L1494.5,712L1495.5,711.5L1490.3,702.6L1491.3,702.1L1494,706.7L1495,706.1L1486.4,691.7L1487.3,691.1L1493,700.5L1493.9,700L1497.5,705.9L1498.5,705.3L1495.9,701.1L1496.9,700.5L1497,700.7L1497.9,700.1L1500.3,703.9L1501.3,703.3L1495.3,693.8L1496.2,693.2L1496.4,693.5L1497.3,692.9L1502.4,700.9L1503.4,700.3L1505.4,703.4L1506.3,702.7L1510.9,709.8L1511.9,709.1L1508.4,703.8L1509.4,703.2L1505.9,697.9L1506.8,697.3L1508.3,699.6L1509.3,698.9L1512.5,703.7L1513.5,703.1L1509.2,696.7L1510.1,696.1L1504,687.1L1504.9,686.5L1512.4,697.4L1513.3,696.7L1516.2,700.9L1517.2,700.2L1532.6,722.2L1533.7,721.4L1530,716.2L1531,715.5L1532.4,717.5L1533.4,716.7L1535.4,719.5L1536.5,718.8L1535.8,717.9L1536.8,717.1L1543,725.6L1544.1,724.8L1537.8,716.3L1538.8,715.5L1534.8,710.2L1535.8,709.5L1542.6,718.5L1543.6,717.7L1533.8,704.7L1534.7,704L1531.4,699.7L1532.4,698.9L1526.7,691.6L1527.6,690.9L1527.9,691.3L1528.8,690.6L1525.8,686.7L1526.7,686L1531.1,691.5L1532,690.8L1535.3,695L1536.2,694.2L1529.6,686L1530.5,685.3L1525.9,679.6L1526.7,678.9L1533.5,687.1L1534.4,686.3L1533.8,685.7L1534.7,684.9L1530,679.3L1530.8,678.6L1529.1,676.5L1530,675.8L1526.2,671.3L1527,670.6Z" fill="#d9d2e8"/>
<path d="M1458.4,805.5A355.0,355.0 0 0 1 1426,813.9L1399.3,687.3L1399.8,687.2L1401.4,694.9L1402.3,694.7L1402.3,694.3L1403.2,694.1L1403.2,694.4L1404.2,694.2L1405.3,699L1406.2,698.8L1405.9,697.6L1406.9,697.4L1408.2,703.2L1409.2,703L1406.9,693.2L1407.8,693L1409,697.9L1409.9,697.7L1410.8,701.3L1411.8,701L1409,690.2L1410,690L1411.4,695.7L1412.4,695.5L1414.9,705.4L1415.9,705.1L1417.6,711.7L1418.6,711.4L1415.4,699.4L1416.4,699.1L1417.4,702.8L1418.3,702.6L1417.1,698.2L1418,697.9L1420.7,707.3L1421.7,707L1420.8,704L1421.8,703.8L1426,718.2L1427,717.9L1424.6,709.6L1425.6,709.3L1429.5,722.4L1430.5,722.1L1427.5,712.1L1428.5,711.7L1429.6,715.3L1430.2,715.1Z" fill="#cf9cb9"/>
<path d="M1400.8,818.3A355.0,355.0 0 0 1 1374.6,820.9L1368.9,720.6L1369.9,720.5L1369.6,715.9L1370.6,715.8L1371,721.3L1372,721.2L1371.2,710.8L1372.2,710.7L1372.1,708.3L1373,708.2L1374,720.3L1375.1,720.2L1374,707.5L1374.9,707.4L1376.2,720.6L1377.2,720.5L1377.1,719.6L1378.1,719.5L1379.5,733.2L1380.6,733.1L1380.2,729L1381.2,728.8L1380.8,724.8L1381.9,724.7L1380.9,716L1381.9,715.9L1382.6,721.6L1383.6,721.5L1384.9,732.4L1386,732.3L1384.7,722.2L1385.8,722.1L1386.1,724.5L1387.1,724.4L1387.2,724.7L1387.9,724.6Z" fill="#e89698"/>
<path d="M1355.8,821.6A355.0,355.0 0 0 1 1167.1,769.3L1202.2,712L1203,712.4L1196.3,723.3L1197.4,724L1199.8,719.9L1200.9,720.5L1197.2,726.7L1198.2,727.3L1196,731.1L1197.1,731.8L1205.5,717.3L1206.6,717.9L1202.3,725.2L1203.4,725.9L1205.4,722.3L1206.4,722.9L1203.7,727.6L1204.8,728.2L1204.3,729L1205.4,729.6L1210,721.5L1211,722.1L1215.4,714.2L1216.4,714.7L1207.9,730.2L1209,730.7L1216.7,716.5L1217.8,717.1L1216.6,719.2L1217.7,719.7L1213.6,727.3L1214.7,727.8L1224.4,709.4L1225.4,709.9L1226.6,707.7L1227.6,708.2L1229.2,705L1230.2,705.5L1223.8,718L1224.8,718.5L1230.2,707.8L1231.2,708.3L1235.7,699.4L1236.6,699.9L1228.5,716.2L1229.6,716.7L1236.2,703.2L1237.2,703.7L1230.2,718L1231.2,718.5L1234.7,711.3L1235.7,711.8L1231.1,721.3L1232.2,721.8L1237.6,710.4L1238.5,710.9L1235.8,716.8L1236.8,717.3L1242.1,705.7L1243.1,706.1L1246.7,698.4L1247.6,698.8L1246.1,702.2L1247.1,702.6L1245.7,705.7L1246.6,706.2L1249.3,700.1L1250.3,700.5L1248.1,705.3L1249.1,705.8L1252.3,698.5L1253.2,698.9L1250.7,704.8L1251.6,705.3L1248.3,713.2L1249.3,713.6L1247.7,717.5L1248.7,718L1247.1,721.9L1248.1,722.3L1240.3,741.3L1241.5,741.7L1243.3,737.2L1244.4,737.6L1242.3,742.9L1243.4,743.3L1245.4,738.4L1246.5,738.9L1250.8,727.7L1251.9,728.1L1248,738.2L1249.1,738.6L1259.7,710.7L1260.7,711.1L1259.4,714.5L1260.4,714.9L1263.5,706.7L1264.5,707.1L1263.3,710.4L1264.2,710.7L1270.8,692.7L1271.7,693.1L1270.7,695.8L1271.6,696.1L1270.2,700.2L1271.1,700.6L1269.2,706.3L1270.1,706.6L1271.5,702.7L1272.4,703L1274.1,698.1L1275,698.4L1274.8,699.2L1275.7,699.5L1272.1,710.6L1273.1,711L1276.7,699.9L1277.6,700.2L1275.2,707.6L1276.2,707.9L1276.7,706.5L1277.7,706.8L1278.7,703.4L1279.7,703.7L1275,718.9L1276,719.2L1276.1,719L1277.1,719.3L1276,723.1L1277,723.4L1278.3,719.2L1279.3,719.5L1281.5,711.9L1282.5,712.2L1282.8,711L1283.8,711.3L1283.6,712.1L1284.6,712.4L1284.1,714.3L1285.1,714.6L1280.9,729.9L1282,730.2L1285.6,716.6L1286.6,716.9L1287.8,712.4L1288.8,712.6L1286.6,721.1L1287.7,721.4L1290.2,711.6L1291.1,711.9L1294.9,696.8L1295.9,697L1294.8,701.2L1295.8,701.5L1295.4,703.2L1296.3,703.4L1296.5,702.8L1297.5,703L1300.7,688.9L1301.6,689.1L1299.5,698.3L1300.5,698.6L1299.9,701.2L1300.8,701.4L1300.8,701.7L1301.7,701.9L1302.9,696.4L1303.9,696.6L1303.7,697.4L1304.6,697.6L1304.2,699.5L1305.2,699.7L1301.4,718.2L1302.4,718.4L1302.5,718L1303.6,718.2L1299.5,739L1300.6,739.2L1304,721.3L1305.1,721.5L1304.4,725L1305.5,725.2L1306,722.4L1307,722.6L1306.6,725L1307.6,725.2L1309.1,716.5L1310.2,716.7L1309.3,721.7L1310.3,721.9L1310.3,721.9L1311.4,722.1L1310.7,726.2L1311.8,726.3L1313.1,717.7L1314.2,717.8L1314.1,718.2L1315.1,718.4L1314.8,720.4L1315.9,720.6L1316.1,719.1L1317.1,719.2L1316.4,724.4L1317.4,724.5L1318,720.3L1319,720.5L1318.7,723L1319.8,723.1L1320.3,718.5L1321.4,718.7L1320.6,725L1321.6,725.1L1323.5,709.2L1324.5,709.3L1325.9,697.1L1326.9,697.2L1327,696.2L1327.9,696.3L1328.4,692.2L1329.3,692.3L1329.4,691.4L1330.3,691.5L1329.5,699.2L1330.5,699.3L1329.9,705.8L1330.8,705.9L1330.5,709.3L1331.5,709.4L1331.5,709.4L1332.5,709.5L1331.7,719.4L1332.7,719.5L1332.2,725.9L1333.3,726L1332.4,736.9L1333.5,737L1334.9,717.1L1336,717.1L1335.4,725.5L1336.5,725.6L1336.3,727.5L1337.4,727.6L1337.9,718.6L1339,718.6L1338.4,728.4L1339.5,728.5L1339.5,727.8L1340.6,727.9L1340.8,724.1L1341.8,724.2L1341.8,724.1L1342.9,724.1L1342.5,734.6L1343.6,734.7L1344.2,716.8L1345.2,716.9L1345,722.1L1346.1,722.1L1346.1,720L1347.1,720.1L1346.7,743.2L1347.8,743.2L1348.4,706.7L1349.4,706.7L1349.4,709.1L1350.3,709.1L1350.3,714.5L1351.3,714.5L1351.3,713.2L1352.3,713.2L1352.3,717L1353.3,717L1353.3,715.4L1354.3,715.4L1354.2,702.2L1354.7,702.2Z" fill="#b5d6a6"/>
<path d="M1167.1,769.3A355.0,355.0 0 0 1 1018.9,345.5L1035.9,351.6L1035.4,352.9L1028.4,350.4L1027.9,351.7L1037.1,355L1036.7,356.3L1036.5,356.2L1036.1,357.5L1040.3,359L1039.9,360.2L1050.9,364L1050.5,365.2L1038.3,361.1L1037.9,362.4L1038.4,362.6L1038,363.9L1042.1,365.2L1041.7,366.5L1056.7,371.3L1056.3,372.5L1069.4,376.7L1069,377.8L1072.5,378.9L1072.2,380.1L1060.5,376.5L1060.2,377.7L1060.2,377.7L1059.9,378.9L1071.2,382.3L1070.9,383.4L1075.7,384.8L1075.4,386L1066.3,383.3L1065.9,384.5L1067.2,384.8L1066.8,386L1078.2,389.2L1077.9,390.3L1076.5,389.9L1076.2,391.1L1067.4,388.7L1067.1,389.8L1078,392.8L1077.7,393.9L1069.1,391.6L1068.8,392.7L1081.4,396L1081.1,397.1L1078,396.3L1077.7,397.5L1073.6,396.4L1073.3,397.6L1085.8,400.7L1085.6,401.7L1084,401.4L1083.7,402.5L1054.9,395.6L1054.6,396.8L1072.8,401.1L1072.6,402.2L1077.9,403.4L1077.6,404.5L1068.4,402.5L1068.1,403.6L1066.1,403.2L1065.9,404.3L1073.1,405.9L1072.9,407L1082.6,409.1L1082.4,410.2L1074.3,408.5L1074.1,409.7L1066.9,408.2L1066.6,409.4L1070.4,410.1L1070.2,411.3L1081,413.4L1080.8,414.5L1066.8,411.8L1066.6,413L1069.5,413.5L1069.3,414.7L1075.9,415.9L1075.7,417L1053.2,413L1053,414.2L1060.9,415.6L1060.7,416.8L1062.2,417L1062,418.2L1067.5,419.1L1067.3,420.3L1050.9,417.6L1050.7,418.9L1060.8,420.5L1060.6,421.6L1076.3,424.1L1076.1,425.2L1059,422.6L1058.8,423.8L1061.2,424.2L1061,425.3L1064.8,425.9L1064.6,427.1L1062.4,426.8L1062.3,427.9L1067.9,428.7L1067.7,429.8L1044.5,426.9L1044.4,428.1L1044.4,428.1L1044.3,429.4L1053,430.4L1052.9,431.6L1043.9,430.6L1043.7,431.9L1044.8,432L1044.6,433.2L1046.1,433.4L1046,434.6L1051.8,435.2L1051.7,436.5L1044.9,435.8L1044.7,437L1040.9,436.7L1040.8,437.9L1043,438.1L1042.9,439.4L1047.8,439.8L1047.7,441.1L1045,440.8L1044.9,442.1L1044.5,442.1L1044.4,443.3L1046.3,443.5L1046.3,444.7L1047.3,444.8L1047.2,446L1055,446.6L1054.9,447.8L1040,446.8L1039.9,448.1L1048,448.6L1047.9,449.8L1056.8,450.3L1056.8,451.5L1052.6,451.3L1052.5,452.5L1055.7,452.7L1055.7,453.9L1049.2,453.6L1049.2,454.8L1046.5,454.7L1046.4,456L1060.9,456.5L1060.8,457.7L1057.7,457.6L1057.7,458.8L1047.1,458.5L1047.1,459.7L1052.3,459.9L1052.3,461.1L1054.6,461.1L1054.5,462.3L1067.7,462.5L1067.7,463.7L1072.3,463.7L1072.3,464.9L1057.5,464.8L1057.5,466L1069.1,466L1069.1,467.2L1059.9,467.2L1059.9,468.4L1053.7,468.4L1053.7,469.6L1067,469.5L1067,470.7L1071.4,470.6L1071.5,471.7L1056.6,472L1056.6,473.2L1051.4,473.3L1051.5,474.6L1067,474.1L1067,475.3L1062.7,475.4L1062.8,476.6L1057,476.8L1057,478L1050.3,478.3L1050.3,479.5L1050.9,479.5L1050.9,480.7L1062.3,480.2L1062.4,481.4L1045.9,482.2L1046,483.5L1068,482.2L1068.1,483.4L1063.8,483.7L1063.9,484.8L1057.4,485.2L1057.5,486.4L1068.1,485.7L1068.2,486.9L1062.1,487.3L1062.2,488.5L1057.7,488.8L1057.7,490L1079.2,488.3L1079.3,489.5L1075.5,489.8L1075.6,490.9L1068.4,491.5L1068.5,492.7L1059.6,493.5L1059.7,494.7L1078.8,492.9L1078.9,494L1070.7,494.8L1070.8,496L1079.4,495.1L1079.5,496.2L1062.3,498L1062.4,499.2L1072.3,498.1L1072.5,499.2L1070.3,499.5L1070.4,500.6L1084.8,498.9L1084.9,500L1087.6,499.7L1087.7,500.7L1078.8,501.9L1078.9,503L1080.2,502.8L1080.4,503.9L1091,502.5L1091.2,503.6L1093.4,503.2L1093.5,504.3L1097.1,503.8L1097.3,504.8L1088.9,506.1L1089,507.1L1090.9,506.9L1091.1,507.9L1094.4,507.4L1094.6,508.5L1094,508.5L1094.2,509.6L1098.9,508.8L1099.1,509.8L1084.6,512.3L1084.8,513.4L1095.6,511.5L1095.8,512.6L1088.2,513.9L1088.4,515L1084.5,515.7L1084.7,516.8L1073.5,518.9L1073.7,520L1065,521.7L1065.3,522.9L1060.5,523.8L1060.8,525L1056.4,525.8L1056.7,527.1L1055,527.4L1055.3,528.6L1056,528.4L1056.3,529.7L1031.2,535L1031.5,536.3L1033.4,535.9L1033.7,537.2L1021.5,539.9L1021.8,541.2L1031.2,539.1L1031.5,540.4L1023.9,542.2L1024.2,543.5L1028.3,542.5L1028.6,543.9L1014.2,547.3L1014.5,548.7L1030.8,544.7L1031.1,546L1033.4,545.5L1033.7,546.8L1033.3,546.9L1033.6,548.2L1035.7,547.7L1036,548.9L1028.5,550.9L1028.8,552.2L1024.6,553.3L1025,554.7L1038.2,551.1L1038.6,552.4L1026.4,555.7L1026.8,557L1032.4,555.5L1032.7,556.8L1032.7,556.8L1033,558.1L1044.4,554.9L1044.7,556.1L1040.3,557.4L1040.7,558.7L1040.2,558.8L1040.5,560.1L1031.4,562.8L1031.8,564.1L1036.9,562.6L1037.3,563.9L1033,565.2L1033.4,566.5L1044.5,563L1044.9,564.3L1029.4,569.2L1029.8,570.5L1027,571.4L1027.5,572.7L1041.9,568L1042.3,569.3L1043.5,568.9L1043.9,570.2L1033.4,573.7L1033.8,575L1040.2,572.8L1040.6,574.1L1051.5,570.3L1051.9,571.6L1042.9,574.7L1043.4,576L1044,575.7L1044.5,577L1046.9,576.1L1047.3,577.4L1069.6,569.3L1070.1,570.4L1073.1,569.3L1073.6,570.4L1071.9,571L1072.4,572.2L1075.6,570.9L1076.1,572.1L1079.9,570.6L1080.3,571.7L1088.7,568.5L1089.1,569.6L1093.4,567.9L1093.8,568.9L1075.2,576.3L1075.6,577.4L1073,578.5L1073.5,579.6L1079.8,577.1L1080.2,578.2L1074.5,580.5L1074.9,581.7L1086.9,576.7L1087.4,577.8L1072.7,583.9L1073.2,585.1L1088.7,578.5L1089.1,579.6L1090.2,579.1L1090.6,580.2L1090.9,580.1L1091.4,581.2L1097.9,578.3L1098.3,579.3L1104.9,576.4L1105.4,577.4L1098.2,580.6L1098.6,581.7L1095.3,583.2L1095.8,584.2L1102.5,581.2L1102.9,582.2L1097.5,584.7L1098,585.7L1097,586.2L1097.5,587.2L1099.8,586.1L1100.3,587.2L1107.7,583.6L1108.2,584.6L1104,586.6L1104.5,587.7L1119.4,580.4L1119.9,581.3L1111.6,585.4L1112.1,586.4L1111.7,586.6L1112.2,587.5L1111.8,587.8L1112.3,588.8L1114.4,587.7L1114.9,588.7L1096.4,598.1L1096.9,599.2L1101.9,596.6L1102.5,597.6L1106,595.7L1106.6,596.7L1105.9,597.1L1106.5,598.1L1103.9,599.5L1104.4,600.5L1105.4,599.9L1106,600.9L1101.4,603.4L1102,604.4L1102.9,603.9L1103.4,605L1102.1,605.7L1102.7,606.7L1105.1,605.3L1105.7,606.3L1104,607.3L1104.6,608.3L1098.3,611.9L1098.9,612.9L1099.8,612.4L1100.4,613.4L1100.9,613.1L1101.5,614.1L1105.1,612L1105.7,613L1101.2,615.8L1101.8,616.8L1108.7,612.6L1109.3,613.6L1104.6,616.5L1105.2,617.5L1102.8,618.9L1103.4,619.9L1096.7,624.1L1097.4,625.1L1108.6,618.2L1109.2,619.2L1109.2,619.2L1109.8,620.1L1096.9,628.3L1097.6,629.3L1074.1,644.3L1074.8,645.4L1080.9,641.5L1081.6,642.6L1080.1,643.7L1080.8,644.8L1085.8,641.5L1086.5,642.6L1080,646.8L1080.8,647.9L1083.1,646.4L1083.9,647.5L1084,647.4L1084.7,648.5L1082.5,650L1083.3,651.1L1078.2,654.6L1078.9,655.7L1090,648.1L1090.7,649.1L1088.3,650.8L1089.1,651.9L1089.6,651.5L1090.4,652.6L1089.6,653.1L1090.4,654.2L1085.5,657.6L1086.3,658.7L1101.3,647.9L1102.1,648.9L1102.2,648.8L1103,649.8L1111.4,643.6L1112.2,644.6L1108.6,647.2L1109.3,648.2L1114.5,644.4L1115.2,645.3L1126.9,636.5L1127.6,637.5L1113.7,648L1114.4,649L1116.6,647.3L1117.4,648.2L1127.2,640.7L1127.9,641.6L1132,638.4L1132.7,639.3L1130,641.4L1130.7,642.3L1141.6,633.7L1142.3,634.5L1140,636.4L1140.7,637.3L1138,639.4L1138.7,640.3L1146.7,633.8L1147.4,634.6L1148.2,634L1148.8,634.8L1138.9,643L1139.6,643.9L1150.2,635L1150.9,635.9L1149.6,637L1150.3,637.8L1141.5,645.3L1142.2,646.1L1154.6,635.6L1155.3,636.4L1145.2,645.1L1145.9,645.9L1142.4,649L1143.1,649.8L1148.9,644.7L1149.7,645.6L1139.8,654.3L1140.5,655.2L1148.2,648.3L1148.9,649.2L1143.9,653.7L1144.7,654.5L1155.3,644.9L1156,645.7L1150.4,650.9L1151.1,651.7L1159.1,644.4L1159.8,645.2L1150,654.3L1150.8,655.1L1148.4,657.3L1149.2,658.1L1159.6,648.3L1160.3,649.1L1146.8,662L1147.6,662.8L1153.4,657.2L1154.2,658L1139.6,672.1L1140.5,672.9L1139.8,673.6L1140.6,674.5L1140,675.1L1140.9,675.9L1139.3,677.5L1140.2,678.3L1145.1,673.4L1146,674.3L1144.7,675.5L1145.6,676.3L1147.1,674.8L1148,675.6L1149.8,673.7L1150.7,674.5L1145.5,679.9L1146.4,680.7L1149.9,677L1150.8,677.9L1145.8,683L1146.7,683.9L1149.5,680.9L1150.4,681.7L1155.9,675.9L1156.7,676.7L1151,682.8L1151.9,683.6L1175.2,658.4L1176,659.2L1181.9,652.8L1182.6,653.5L1177.9,658.6L1178.7,659.3L1172.2,666.5L1173,667.3L1174,666.2L1174.8,666.9L1174.2,667.5L1175.1,668.3L1175.6,667.7L1176.4,668.4L1173.5,671.7L1174.4,672.4L1177.1,669.2L1177.9,669.9L1177.9,670L1178.7,670.8L1172.2,678.3L1173.1,679.1L1179.6,671.4L1180.4,672.1L1183.4,668.5L1184.2,669.2L1164.9,692.5L1165.8,693.3L1175.7,681.2L1176.6,682L1177.5,680.9L1178.3,681.6L1179.7,680L1180.5,680.7L1180.2,681L1181.1,681.7L1174.3,690.3L1175.2,691L1180.4,684.4L1181.3,685.1L1183.5,682.3L1184.4,682.9L1188,678.3L1188.9,679L1185.7,683.1L1186.6,683.7L1186.6,683.8L1187.5,684.5L1191.7,678.9L1192.6,679.6L1192.1,680.1L1193,680.7L1189.1,686L1190,686.7L1195.7,678.9L1196.6,679.6L1201.7,672.6L1202.5,673.2L1201.6,674.5L1202.5,675.1L1209.9,664.8L1210.7,665.4L1209.8,666.5L1210.7,667.1L1214.7,661.4L1215.5,662L1210.9,668.5L1211.7,669.1L1208.1,674.3L1208.9,674.9L1217.5,662.4L1218.3,663L1215.8,666.7L1216.6,667.3L1222.4,658.7L1223.2,659.2L1224.2,657.7L1225,658.2L1223.7,660.1L1224.5,660.6L1221.2,665.6L1222,666.2L1212.2,681.3L1213,681.8L1213.2,681.6L1214.1,682.1L1218.6,675.1L1219.5,675.6L1220.3,674.4L1221.1,674.9L1206.2,698.5L1207.1,699.1L1198.2,713.4L1199.2,714L1195,720.8L1196.1,721.4Z" fill="#f0cbbb"/>
<path d="M1294.5,420.9A73.9,73.9 0 0 1 1294.8,420.6M1297.3,423.7A70,70 0 0 1 1297.7,423.2M1298.7,425.1A68,68 0 0 1 1299.1,424.7M1307.6,432.3A56.6,56.6 0 0 1 1307.9,431.9M1328.3,447.9A30.7,30.7 0 0 1 1328.7,447.4M1330.2,448.9A28.6,28.6 0 0 1 1330.5,448.5M1296.6,419.3A73.3,73.3 0 0 1 1296.9,419M1301.4,423.8A66.7,66.7 0 0 1 1301.8,423.4M1313.6,433.8A51,51 0 0 1 1314,433.3M1332.5,450.4A25.8,25.8 0 0 1 1333,449.8M1332.6,451.6A25.1,25.1 0 0 1 1333.3,450.6M1333.2,451.3A24.8,24.8 0 0 1 1334,450.2M1335.7,454.3A20.9,20.9 0 0 1 1336.6,453.2M1340.1,456.8A15.9,15.9 0 0 1 1340.8,456M1340.4,457.8A15,15 0 0 1 1341.1,457M1303.4,418.1A69,69 0 0 1 1303.7,417.8M1324.7,439.6A38.9,38.9 0 0 1 1325,439.2M1341.8,456.2A15,15 0 0 1 1342.2,455.8M1343.6,458.3A12.3,12.3 0 0 1 1343.9,457.9M1345.6,461.2A8.8,8.8 0 0 1 1346.3,460.5M1314.9,426.8A54.9,54.9 0 0 1 1315.2,426.5M1297.1,406.1A82.1,82.1 0 0 1 1297.5,405.8M1302.9,412A73.8,73.8 0 0 1 1303.4,411.6M1317.3,427.4A52.7,52.7 0 0 1 1317.7,427.1M1308.3,414.8A68.1,68.1 0 0 1 1308.6,414.5M1313.8,420.9A59.9,59.9 0 0 1 1314.3,420.5M1321.6,430.6A47.6,47.6 0 0 1 1322,430.2M1307.6,411.4A71.2,71.2 0 0 1 1307.9,411.2M1322.7,429.7A47.5,47.5 0 0 1 1323,429.4M1332.5,441.6A32.1,32.1 0 0 1 1332.9,441.3M1334.5,443.8A29.1,29.1 0 0 1 1334.9,443.5M1337,448.5A23.9,23.9 0 0 1 1337.9,447.8M1341.6,454.3A16.5,16.5 0 0 1 1342.2,453.8M1350.2,464.5A3.2,3.2 0 0 1 1350.4,464.2M1349.9,464.9A3.2,3.2 0 0 1 1350.3,464.4M1304.8,403A79.6,79.6 0 0 1 1305.2,402.7M1319,421.6A56.1,56.1 0 0 1 1319.3,421.4M1320.7,421.6A55.1,55.1 0 0 1 1321.1,421.3M1326.4,430.3A44.8,44.8 0 0 1 1326.9,429.9M1295.3,379.4A104.3,104.3 0 0 1 1295.7,379.1M1300.5,386.9A95.2,95.2 0 0 1 1301,386.6M1308.5,398.6A81,81 0 0 1 1309,398.3M1316.5,412.3A65.2,65.2 0 0 1 1317.3,411.8M1310.7,400.2A78.5,78.5 0 0 1 1311.3,399.8M1318.4,411.9A64.6,64.6 0 0 1 1319.1,411.4M1310.6,395.5A82.6,82.6 0 0 1 1311,395.3M1316.5,406.4A70.2,70.2 0 0 1 1317.1,406.1M1326.8,424.7A49.2,49.2 0 0 1 1327.5,424.3M1327.2,427.8A46.3,46.3 0 0 1 1328.6,426.9M1327,428.6A45.8,45.8 0 0 1 1328.2,427.8M1327.9,430.4A43.8,43.8 0 0 1 1328.7,429.9M1309.9,391.6A86.4,86.4 0 0 1 1310.5,391.2M1320,408.8A66.3,66.3 0 0 1 1320.6,408.5M1322.1,413.8A61,61 0 0 1 1322.9,413.3M1332.6,436.6A36.1,36.1 0 0 1 1334.8,435.2M1335.2,442.2A29.9,29.9 0 0 1 1336.9,441.1M1313.1,391.3A85.1,85.1 0 0 1 1313.5,391M1314.7,393.7A82.1,82.1 0 0 1 1315.3,393.4M1321.9,407A67.1,67.1 0 0 1 1322.5,406.7M1328.9,421.9A50.6,50.6 0 0 1 1329.7,421.5M1320.9,402A71.9,71.9 0 0 1 1321.3,401.9M1320.7,399.7A74.1,74.1 0 0 1 1321.1,399.5M1330.2,420.7A51.1,51.1 0 0 1 1330.8,420.4M1332.5,427.9A43.6,43.6 0 0 1 1333.7,427.3M1332.5,429.3A42.4,42.4 0 0 1 1333.7,428.7M1335.3,433.2A37.7,37.7 0 0 1 1337,432.3M1336.5,437.2A33.5,33.5 0 0 1 1338,436.4M1326.2,404A68,68 0 0 1 1326.7,403.8M1330.7,415.9A55.2,55.2 0 0 1 1331.3,415.6M1338.5,434.8A34.8,34.8 0 0 1 1339,434.6M1337.6,437.6A32.6,32.6 0 0 1 1339.6,436.6M1337.7,444.1A27,27 0 0 1 1341.1,442.2M1340.7,450.3A20.1,20.1 0 0 1 1342.7,449.1M1344.9,456.2A12.9,12.9 0 0 1 1345.6,455.7M1350.1,464.6A3.2,3.2 0 0 1 1350.8,464M1349.9,465A3.2,3.2 0 0 1 1350.4,464.3M1350.2,464.6A3.1,3.1 0 0 1 1351.4,463.7M1349.9,465A3.1,3.1 0 0 1 1350.8,464.1M1350,465.1A3,3 0 0 1 1350.4,464.6M1303.6,341.4A134.5,134.5 0 0 1 1304.1,341.2M1303.8,341.4A134.4,134.4 0 0 1 1304.6,341.1M1304,344A131.9,131.9 0 0 1 1305.1,343.5M1305.7,342.3A132.9,132.9 0 0 1 1306.2,342.1M1306.3,343.2A131.8,131.8 0 0 1 1307.1,342.9M1305.1,345.2A130.3,130.3 0 0 1 1307.2,344.4M1308.6,344.2A130,130 0 0 1 1309.1,344M1308.7,346A128.3,128.3 0 0 1 1309.5,345.8M1311.9,350.2A123.3,123.3 0 0 1 1312.3,350M1312.1,350.1A123.3,123.3 0 0 1 1312.8,349.9M1311.3,343.8A129.6,129.6 0 0 1 1311.8,343.6M1312.6,350.4A122.9,122.9 0 0 1 1313.7,350M1313.6,351.6A121.4,121.4 0 0 1 1314.8,351.2M1312.2,354.5A119.2,119.2 0 0 1 1314.9,353.5M1313.9,355.1A118.1,118.1 0 0 1 1316.3,354.2M1310.8,357A117.3,117.3 0 0 1 1315.4,355.4M1314.5,360.3A112.9,112.9 0 0 1 1318.3,359M1311.3,363.6A111,111 0 0 1 1317.1,361.4M1315.4,342.8A129.3,129.3 0 0 1 1315.9,342.7M1315.4,344.8A127.4,127.4 0 0 1 1316.2,344.5M1316.2,346A126,126 0 0 1 1317.3,345.6M1316,348.3A123.9,123.9 0 0 1 1317.4,347.8M1316.2,350.7A121.4,121.4 0 0 1 1317.4,350.4M1314.8,364.1A109.3,109.3 0 0 1 1320.4,362.2M1318.9,347.4A123.8,123.8 0 0 1 1319.4,347.3M1319.4,348.3A122.8,122.8 0 0 1 1320.1,348.1M1320.3,350A121,121 0 0 1 1321.1,349.7M1319.9,343.3A127.5,127.5 0 0 1 1320.4,343.2M1321.5,348.5A122.1,122.1 0 0 1 1322.2,348.3M1322.5,356.5A114.2,114.2 0 0 1 1323.9,356.1M1322.5,361.7A109.2,109.2 0 0 1 1324.5,361.1M1321.1,373.4A98.4,98.4 0 0 1 1326.4,371.8M1320.9,341.1A129.5,129.5 0 0 1 1321.4,340.9M1322.7,347A123.3,123.3 0 0 1 1323.4,346.8M1323.6,349.2A120.9,120.9 0 0 1 1324.5,349M1324,340.4A129.4,129.4 0 0 1 1324.5,340.2M1325.6,340.4A129.1,129.1 0 0 1 1326.2,340.3M1325.1,340.5A129.1,129.1 0 0 1 1325.9,340.3M1324.4,340.8A128.9,128.9 0 0 1 1325.5,340.5M1324.3,343.7A126.1,126.1 0 0 1 1325.6,343.4M1326.7,337.6A131.6,131.6 0 0 1 1327.2,337.5M1326.9,341.1A128.1,128.1 0 0 1 1327.6,341M1327.8,344A125.1,125.1 0 0 1 1329,343.8M1326.1,348.9A120.7,120.7 0 0 1 1329.3,348.2M1325.6,351.8A117.9,117.9 0 0 1 1328.3,351.2M1329.9,346A122.7,122.7 0 0 1 1330.4,345.9M1327,352A117.4,117.4 0 0 1 1331.1,351.2M1329.8,339.9A128.7,128.7 0 0 1 1330.3,339.8M1330.4,337.3A131.2,131.2 0 0 1 1331,337.2M1331.5,337.2A131.1,131.1 0 0 1 1332,337.1M1331.1,339.6A128.8,128.8 0 0 1 1332.1,339.4M1330.4,341.5A127.1,127.1 0 0 1 1331.9,341.2M1329.3,352.8A116.1,116.1 0 0 1 1333,352.1M1325.5,355.2A114.6,114.6 0 0 1 1331.4,354M1333.8,345.3A122.7,122.7 0 0 1 1334.3,345.3M1334.4,338.8A129.1,129.1 0 0 1 1335,338.8M1334.3,341.3A126.6,126.6 0 0 1 1335,341.2M1335.8,341.4A126.4,126.4 0 0 1 1336.3,341.3M1336.1,341.3A126.4,126.4 0 0 1 1336.9,341.2M1334.9,343.1A124.7,124.7 0 0 1 1336.7,342.9M1334.6,348.3A119.7,119.7 0 0 1 1336.5,348M1338.4,349.4A118.1,118.1 0 0 1 1338.8,349.3M1338.2,339.8A127.6,127.6 0 0 1 1338.8,339.8M1340.6,347.4A119.8,119.8 0 0 1 1341.1,347.4M1340.2,348.1A119.2,119.2 0 0 1 1340.9,348M1341.7,348.6A118.5,118.5 0 0 1 1342.2,348.5M1342.1,342.3A124.7,124.7 0 0 1 1342.6,342.3M1341.9,348.6A118.5,118.5 0 0 1 1342.9,348.5M1342.9,339.4A127.6,127.6 0 0 1 1343.4,339.3M1343.3,341.4A125.5,125.5 0 0 1 1344.1,341.4M1345.3,344.8A122,122 0 0 1 1345.8,344.8M1344.8,344.9A122,122 0 0 1 1345.6,344.8M1344,346A120.9,120.9 0 0 1 1345.3,345.9M1342.4,348.6A118.5,118.5 0 0 1 1344.8,348.4M1340.6,349.3A117.9,117.9 0 0 1 1343.6,349M1339.6,349.7A117.6,117.6 0 0 1 1342.2,349.4M1346.7,342.8A123.9,123.9 0 0 1 1347.2,342.8M1346.3,345A121.7,121.7 0 0 1 1347.1,345M1341,350.3A116.9,116.9 0 0 1 1346.9,349.9M1338.9,352.1A115.3,115.3 0 0 1 1344.1,351.6M1336.3,353.7A114,114 0 0 1 1341.6,353.1M1331.1,366.8A102.1,102.1 0 0 1 1340.4,365.3M1347.1,327.1A139.6,139.6 0 0 1 1347.7,327.1M1347.5,330.2A136.5,136.5 0 0 1 1348.3,330.2M1348.9,330.9A135.7,135.7 0 0 1 1349.5,330.9M1349.2,332.1A134.6,134.6 0 0 1 1350,332.1M1351.1,333.2A133.4,133.4 0 0 1 1351.7,333.2M1350.6,336.5A130.2,130.2 0 0 1 1351.4,336.4M1349.8,338.1A128.5,128.5 0 0 1 1351.1,338.1M1348.3,340.6A126,126 0 0 1 1350.5,340.6M1352.2,333.6A133,133 0 0 1 1352.8,333.6M1354.4,334.7A131.9,131.9 0 0 1 1354.9,334.7M1353.8,335.8A130.8,130.8 0 0 1 1354.6,335.8M1353.3,335.8A130.8,130.8 0 0 1 1354.2,335.8M1353.8,335.8A130.8,130.8 0 0 1 1355.4,335.8M1352.5,337.3A129.3,129.3 0 0 1 1354.6,337.3M1349.5,345.3A121.4,121.4 0 0 1 1353.5,345.3M1336,367.2A100.8,100.8 0 0 1 1351.7,365.8M1355.8,340.4A126.2,126.2 0 0 1 1356.4,340.4M1355.8,352.6A114,114 0 0 1 1356.5,352.6M1344.1,369.4A97.5,97.5 0 0 1 1355.6,369.1M1325,376.9A93.9,93.9 0 0 1 1349.9,372.8M1357.3,343.1A123.6,123.6 0 0 1 1357.8,343.1M1358.7,345.4A121.3,121.3 0 0 1 1359.2,345.4M1358.2,345.4A121.3,121.3 0 0 1 1358.9,345.4M1358.5,346.7A120,120 0 0 1 1359.6,346.8M1357.1,354.8A111.9,111.9 0 0 1 1358.6,354.9M1337.6,375.6A92.3,92.3 0 0 1 1356.9,374.4M1347.4,376.8A89.9,89.9 0 0 1 1358.2,376.8M1361.2,345.3A121.6,121.6 0 0 1 1361.7,345.4M1359.8,359.1A107.7,107.7 0 0 1 1360.4,359.2M1352.8,379.1A87.5,87.5 0 0 1 1358.7,379.4M1362,346.8A120.2,120.2 0 0 1 1362.5,346.8M1363.1,345.5A121.5,121.5 0 0 1 1363.6,345.6M1364.9,337.1A130,130 0 0 1 1365.5,337.2M1362.9,350.6A116.4,116.4 0 0 1 1363.9,350.7M1361.4,357.2A109.7,109.7 0 0 1 1362.8,357.3M1355.6,382.2A84.4,84.4 0 0 1 1359.9,382.5M1357.5,386.2A80.6,80.6 0 0 1 1360.9,386.5M1365.8,344.1A123.2,123.2 0 0 1 1366.3,344.2M1367.3,340A127.4,127.4 0 0 1 1367.8,340.1M1365.8,346.1A121.2,121.2 0 0 1 1366.8,346.2M1368.2,341.2A126.4,126.4 0 0 1 1368.7,341.2M1370.4,336.3A131.5,131.5 0 0 1 1370.9,336.4M1369,342.5A125.2,125.2 0 0 1 1369.8,342.6M1368.2,343A124.6,124.6 0 0 1 1369.3,343.1M1368.3,346.4A121.2,121.2 0 0 1 1370,346.7M1373.3,335.3A132.9,132.9 0 0 1 1373.8,335.4M1372.4,337.1A131.1,131.1 0 0 1 1373.2,337.2M1371.3,341.4A126.6,126.6 0 0 1 1372.1,341.5M1368.5,351.6A116.1,116.1 0 0 1 1370.1,351.8M1365.5,353.5A113.8,113.8 0 0 1 1369,354M1373,346.6A121.7,121.7 0 0 1 1373.5,346.7M1374.4,344.4A124.2,124.2 0 0 1 1374.9,344.5M1374.5,345A123.5,123.5 0 0 1 1375.3,345.2M1373.2,346.7A121.6,121.6 0 0 1 1374.6,347M1373.5,349.1A119.3,119.3 0 0 1 1375,349.4M1381.6,324.3A145.2,145.2 0 0 1 1382.1,324.4M1378.8,335.3A133.8,133.8 0 0 1 1379.6,335.5M1376.2,345.4A123.5,123.5 0 0 1 1377.1,345.6M1374,350.6A117.9,117.9 0 0 1 1375.6,350.9M1384.5,316.4A153.6,153.6 0 0 1 1385.1,316.5M1387.8,310.1A160.4,160.4 0 0 1 1388.4,310.2M1386.7,312.1A158.2,158.2 0 0 1 1387.6,312.3M1382.5,327.1A142.7,142.7 0 0 1 1383.8,327.4M1387.9,317.9A152.8,152.8 0 0 1 1388.5,318.1M1386.5,321.3A149.2,149.2 0 0 1 1387.4,321.5M1380.2,340.4A129.2,129.2 0 0 1 1382.3,340.9M1374.2,353.6A115.1,115.1 0 0 1 1378.2,354.4M1371,355.7A112.4,112.4 0 0 1 1375.7,356.6M1390.4,315.9A155.4,155.4 0 0 1 1391,316M1389.6,316.5A154.6,154.6 0 0 1 1390.5,316.7M1389.3,319.5A151.6,151.6 0 0 1 1390.7,319.8M1391.7,318.3A153.4,153.4 0 0 1 1392.3,318.5M1386.7,332.7A138.1,138.1 0 0 1 1388.1,333.1M1372.8,358.7A109.8,109.8 0 0 1 1380.2,360.4M1389.6,330.7A140.9,140.9 0 0 1 1390.2,330.8M1392.1,326.2A145.9,145.9 0 0 1 1392.7,326.3M1388,337.9A133.5,133.5 0 0 1 1389,338.1M1375.9,362.3A106.8,106.8 0 0 1 1381.3,363.7M1364.3,376.4A91,91 0 0 1 1374.8,378.4M1401,302.3A171.3,171.3 0 0 1 1401.7,302.4M1404.4,295.7A178.6,178.6 0 0 1 1405.1,295.9M1401,303.4A170.2,170.2 0 0 1 1402.3,303.8M1397,313.5A159.4,159.4 0 0 1 1398.6,314M1405,298.8A175.7,175.7 0 0 1 1405.7,299.1M1393.4,328.7A143.8,143.8 0 0 1 1395.7,329.4M1413.6,284.3A192.2,192.2 0 0 1 1414.4,284.6M1411.3,292.5A183.8,183.8 0 0 1 1412.3,292.8M1416.9,282A195.4,195.4 0 0 1 1417.6,282.3M1417,283A194.5,194.5 0 0 1 1418.1,283.4M1419.5,284.2A194.3,194.3 0 0 1 1420.2,284.4M1417.8,286.5A191.5,191.5 0 0 1 1418.9,286.9M1414.8,290.9A186.4,186.4 0 0 1 1416.6,291.6M1418.2,292.2A186.3,186.3 0 0 1 1418.9,292.5M1420.2,291.2A187.9,187.9 0 0 1 1420.9,291.5M1420.1,292.3A186.9,186.9 0 0 1 1421.2,292.8M1417.4,295.3A183.1,183.1 0 0 1 1419.3,296M1421.1,295A184.8,184.8 0 0 1 1421.8,295.3M1427,284.6A196.6,196.6 0 0 1 1427.7,284.9M1420.7,297.1A182.7,182.7 0 0 1 1422.1,297.7M1416,301.8A176.6,176.6 0 0 1 1419.1,303M1411.4,303.1A173.8,173.8 0 0 1 1416.5,305M1406.6,308A167.6,167.6 0 0 1 1411.8,309.8M1401.8,317.7A156.8,156.8 0 0 1 1405.6,319M1398.4,326A147.9,147.9 0 0 1 1400.8,326.7M1395.1,334.4A138.8,138.8 0 0 1 1396.7,335M1391.6,338.8A133.7,133.7 0 0 1 1394.3,339.6M1369.1,379.8A88.4,88.4 0 0 1 1379.3,382.4M1372.9,386.2A82.9,82.9 0 0 1 1384.6,390.2M1426.6,291.8A189.8,189.8 0 0 1 1427.3,292.1M1435.7,274.7A209.1,209.1 0 0 1 1436.4,275M1437.3,275.2A209.3,209.3 0 0 1 1438.1,275.6M1434.2,279.2A204.4,204.4 0 0 1 1435.7,279.8M1416,317.7A161.8,161.8 0 0 1 1417.8,318.5M1440.7,271.9A213.7,213.7 0 0 1 1441.5,272.3M1436,283.2A201.4,201.4 0 0 1 1437.1,283.7M1435,292.1A193,193 0 0 1 1435.7,292.4M1431.6,297.4A186.8,186.8 0 0 1 1432.7,297.9M1428.6,300.8A182.4,182.4 0 0 1 1430.3,301.6M1436.9,291.7A194.2,194.2 0 0 1 1437.6,292M1438.9,291.3A195.4,195.4 0 0 1 1439.6,291.6M1434.8,297A188.5,188.5 0 0 1 1436.2,297.6M1425.9,308.8A174,174 0 0 1 1429.1,310.4M1441.1,292.2A195.5,195.5 0 0 1 1441.8,292.6M1436,300.6A185.7,185.7 0 0 1 1437,301.1M1434.5,304.8A181.3,181.3 0 0 1 1436,305.6M1425.7,313.4A169.7,169.7 0 0 1 1429.9,315.5M1443,295.4A193.6,193.6 0 0 1 1443.7,295.7M1440.6,298.3A189.9,189.9 0 0 1 1441.6,298.8M1445.1,294.9A195.1,195.1 0 0 1 1445.8,295.2M1439.1,302.4A185.6,185.6 0 0 1 1441,303.3M1423.3,323.5A159.6,159.6 0 0 1 1427.8,325.8M1437.4,312.2A176.2,176.2 0 0 1 1438,312.5M1417.1,341.1A141.1,141.1 0 0 1 1420.8,343.1M1404.2,347.4A129.8,129.8 0 0 1 1413.6,352M1378.3,389.4A81.4,81.4 0 0 1 1387.9,393.3M1448.4,297.1A194.7,194.7 0 0 1 1449.1,297.5M1438.8,312.6A176.5,176.5 0 0 1 1439.8,313.1M1420.8,345.6A138.9,138.9 0 0 1 1421.9,346.2M1448.4,306.4A186.7,186.7 0 0 1 1449,306.8M1445.1,310.4A181.5,181.5 0 0 1 1446,311M1441.8,314.6A176.3,176.3 0 0 1 1442.9,315.2M1440.7,323.3A168.2,168.2 0 0 1 1441.2,323.6M1438.8,327A164,164 0 0 1 1439.6,327.6M1432.9,334.7A154.4,154.4 0 0 1 1434.1,335.5M1443.8,323.5A169.7,169.7 0 0 1 1444.4,323.9M1450.2,316.1A179.4,179.4 0 0 1 1450.8,316.5M1454.6,312.1A185.2,185.2 0 0 1 1455.3,312.5M1455.2,315.3A182.8,182.8 0 0 1 1455.8,315.7M1453,317.2A180,180 0 0 1 1453.9,317.8M1449.4,320.6A175.1,175.1 0 0 1 1450.7,321.5M1445.2,324.5A169.5,169.5 0 0 1 1447,325.7M1438.6,332.2A159.5,159.5 0 0 1 1440.5,333.5M1436.2,334.2A156.5,156.5 0 0 1 1437.9,335.4M1428.5,343.2A144.9,144.9 0 0 1 1430.8,344.6M1424.7,344.7A141.7,141.7 0 0 1 1427.9,346.6M1462.3,307.6A193.2,193.2 0 0 1 1463,308M1473.6,294.2A210.6,210.6 0 0 1 1474.3,294.7M1482.8,285.9A222.7,222.7 0 0 1 1483.5,286.4M1481.2,286.6A221.2,221.2 0 0 1 1482.3,287.4M1479.1,290.6A216.7,216.7 0 0 1 1480.7,291.8M1470,300.1A203.7,203.7 0 0 1 1472.2,301.8M1453.8,320.5A177.7,177.7 0 0 1 1456,322.1M1482.1,291.4A217.8,217.8 0 0 1 1482.8,292M1481.2,295.5A214,214 0 0 1 1481.9,296.1M1483.7,295.1A215.9,215.9 0 0 1 1484.4,295.6M1479.7,298.3A210.9,210.9 0 0 1 1481,299.3M1472.3,305.4A200.8,200.8 0 0 1 1474.2,306.8M1482.5,300.9A210.5,210.5 0 0 1 1483.2,301.5M1480.3,304.5A206.3,206.3 0 0 1 1481.2,305.3M1470.6,314.9A192.2,192.2 0 0 1 1472,316M1483.2,304.1A208.5,208.5 0 0 1 1483.9,304.7M1487.5,303A212,212 0 0 1 1488.1,303.6M1486.4,302.9A211.4,211.4 0 0 1 1487.4,303.7M1485.5,305.1A209.2,209.2 0 0 1 1487,306.3M1481,307.6A204.3,204.3 0 0 1 1483.1,309.4M1485,309.9A205.1,205.1 0 0 1 1485.6,310.5M1477.9,313.5A197.8,197.8 0 0 1 1480.6,315.8M1474.1,320.9A189.7,189.7 0 0 1 1476.2,322.7M1468.2,319.4A187.2,187.2 0 0 1 1473.5,323.7M1489.2,310.2A207.6,207.6 0 0 1 1489.8,310.8M1483.2,315.8A199.5,199.5 0 0 1 1484.1,316.6M1469.8,322.8A185.5,185.5 0 0 1 1474.5,326.7M1463.3,319.3A184.3,184.3 0 0 1 1471.4,325.7M1464.4,326.3A179.4,179.4 0 0 1 1471.7,332.5M1432.5,353.2A138.7,138.7 0 0 1 1441.9,360.4M1463.2,343A165.9,165.9 0 0 1 1463.7,343.5M1431.4,364.3A129.1,129.1 0 0 1 1438.9,370.6M1413.6,366.6A117.1,117.1 0 0 1 1427.5,376.6M1407.5,372.1A109.3,109.3 0 0 1 1416.2,377.7M1477.2,329.7A185.2,185.2 0 0 1 1477.8,330.2M1488.9,319.3A200.7,200.7 0 0 1 1489.5,319.8M1482.3,327A190.6,190.6 0 0 1 1483.2,327.7M1499.9,311.2A214.1,214.1 0 0 1 1500.6,311.8M1497.6,314.3A210.3,210.3 0 0 1 1498.5,315.1M1511.7,302.8A228.4,228.4 0 0 1 1512.4,303.4M1493.2,319.8A203.3,203.3 0 0 1 1494.6,321.1M1477.9,332.5A183.5,183.5 0 0 1 1480.1,334.6M1468,340.3A171,171 0 0 1 1470.4,342.6M1502.7,315.8A212.8,212.8 0 0 1 1503.3,316.4M1493.4,324A200.4,200.4 0 0 1 1494.3,324.8M1512.3,308.7A224.6,224.6 0 0 1 1513,309.4M1516.9,306.8A229.2,229.2 0 0 1 1517.6,307.5M1511.2,310.4A222.6,222.6 0 0 1 1512.5,311.7M1518.8,307.6A230,230 0 0 1 1519.4,308.3M1508,314.9A217.2,217.2 0 0 1 1509.8,316.8M1506.3,322A211,211 0 0 1 1506.9,322.6M1500.8,323.7A205.9,205.9 0 0 1 1502.8,325.8M1483.5,334.8A185.7,185.7 0 0 1 1487.2,338.6M1491.9,337.6A189.9,189.9 0 0 1 1492.5,338.1M1478.6,343.3A176.3,176.3 0 0 1 1482.2,347.1M1465.7,345.2A166,166 0 0 1 1472.9,352.3M1508.4,325.8A210,210 0 0 1 1509,326.5M1510.6,328.4A209.9,209.9 0 0 1 1511.2,329.1M1508.9,328.8A208.4,208.4 0 0 1 1509.8,329.7M1508.2,330.3A206.9,206.9 0 0 1 1509.4,331.7M1506,330.3A205.2,205.2 0 0 1 1507.5,332.1M1498.5,335.4A196.2,196.2 0 0 1 1500,337.1M1501.6,339.5A195.9,195.9 0 0 1 1502.2,340.1M1506.2,337.7A200.5,200.5 0 0 1 1506.7,338.4M1497.2,343.8A189.7,189.7 0 0 1 1498.1,345M1487,347.1A179.9,179.9 0 0 1 1490.1,350.7M1482.5,348.2A175.8,175.8 0 0 1 1485.5,351.6M1507.4,338.9A200.7,200.7 0 0 1 1507.9,339.5M1479.7,353.7A170,170 0 0 1 1483.9,358.6M1430.7,387.7A111,111 0 0 1 1437,394.5M1407.9,381.1A101.8,101.8 0 0 1 1427.2,397.3M1400.1,383.3A95.9,95.9 0 0 1 1414.2,393.1M1505,342.9A196.3,196.3 0 0 1 1505.5,343.5M1495.8,350.9A184.1,184.1 0 0 1 1496.5,351.7M1465.8,375.7A145.2,145.2 0 0 1 1466.4,376.5M1402.1,395.5A86.6,86.6 0 0 1 1420.3,412.6M1381,396.5A75.6,75.6 0 0 1 1404.3,411.4M1522.8,334.1A215.7,215.7 0 0 1 1523.4,334.8M1518.8,336.1A211.3,211.3 0 0 1 1519.6,337.2M1485.8,362.7A168.9,168.9 0 0 1 1486.7,363.9M1521.3,339.6A211.1,211.1 0 0 1 1521.8,340.3M1512,345.6A200.2,200.2 0 0 1 1512.8,346.6M1488.7,364A170.4,170.4 0 0 1 1489.6,365.2M1499.8,358.6A182.6,182.6 0 0 1 1500.3,359.2M1530.4,338.4A219.2,219.2 0 0 1 1530.9,339.1M1529.2,339.8A217.4,217.4 0 0 1 1530,340.8M1532.8,339.9A220.3,220.3 0 0 1 1533.3,340.7M1531.9,341.1A218.8,218.8 0 0 1 1532.7,342.2M1525.3,343.4A212.1,212.1 0 0 1 1526.8,345.5M1531,346.6A215,215 0 0 1 1531.4,347.3M1525.7,349.1A209.2,209.2 0 0 1 1526.4,350.2M1524.2,349.1A208,208 0 0 1 1525.1,350.3M1520.2,352.7A202.6,202.6 0 0 1 1521.6,354.9M1525.8,353.1A207.1,207.1 0 0 1 1526.3,353.8M1515.6,357.3A196.3,196.3 0 0 1 1517,359.4M1505.4,359A186.9,186.9 0 0 1 1508.5,363.5M1510.5,365A187.8,187.8 0 0 1 1510.9,365.6M1531,353.8A211.1,211.1 0 0 1 1531.5,354.5M1527.8,357.8A206.2,206.2 0 0 1 1528.3,358.5M1530.8,358A208.7,208.7 0 0 1 1531.2,358.7M1525.4,359.8A203.2,203.2 0 0 1 1526.3,361.2M1520.9,360.7A198.9,198.9 0 0 1 1522.2,362.7M1537.4,356A215.4,215.4 0 0 1 1537.9,356.7M1537.6,356.4A215.4,215.4 0 0 1 1538.3,357.5M1537.9,357A215.3,215.3 0 0 1 1538.7,358.3M1541.8,357.5A218.3,218.3 0 0 1 1542.2,358.3M1536.3,358.8A212.9,212.9 0 0 1 1537.3,360.6M1555.3,351.9A232.9,232.9 0 0 1 1555.8,352.7M1548.1,356.5A224.3,224.3 0 0 1 1548.7,357.7M1533.7,361.5A209.4,209.4 0 0 1 1535.4,364.4M1549.6,358.3A224.8,224.8 0 0 1 1550,359.1M1543,362.4A217,217 0 0 1 1543.6,363.6M1532.2,364.3A206.7,206.7 0 0 1 1534.2,367.9M1547.2,363.7A220.1,220.1 0 0 1 1547.6,364.5M1542.4,365.3A215.2,215.2 0 0 1 1543,366.4M1528.9,368.5A201.8,201.8 0 0 1 1530.9,372.1M1524.4,373.3A195.5,195.5 0 0 1 1526.2,376.6M1513.3,366.8A189.2,189.2 0 0 1 1519.7,377.9M1503.4,370A179.1,179.1 0 0 1 1507.9,377.3M1486.8,375A162.5,162.5 0 0 1 1491.5,382.3M1553.3,364.6A225.1,225.1 0 0 1 1553.7,365.4M1543.7,368.5A214.8,214.8 0 0 1 1544.3,369.7M1563.8,361.4A235.9,235.9 0 0 1 1564.2,362.3M1564.8,363.1A236.1,236.1 0 0 1 1565.2,364M1559.2,364.3A230.6,230.6 0 0 1 1560,365.9M1556.8,369.1A226.3,226.3 0 0 1 1557.2,369.9M1551.7,369A221.8,221.8 0 0 1 1552.9,371.4M1566.5,366.5A236.2,236.2 0 0 1 1566.9,367.4M1565.4,369.2A234.1,234.1 0 0 1 1565.8,370M1563.7,368.4A232.9,232.9 0 0 1 1564.5,370.1M1567.7,370.2A235.8,235.8 0 0 1 1568.1,371.1M1559.8,371.2A228.1,228.1 0 0 1 1560.9,373.8M1537.9,377.1A205.8,205.8 0 0 1 1540,381.7M1528.8,376.9A197.7,197.7 0 0 1 1531.7,382.8M1486.2,380.5A158.9,158.9 0 0 1 1495.4,396.8M1475.5,376.8A152.2,152.2 0 0 1 1485.2,391.9M1526.5,390.4A189.8,189.8 0 0 1 1526.8,391.1M1474.1,388.4A144.5,144.5 0 0 1 1485,408.9M1557.6,378.7A223.1,223.1 0 0 1 1558,379.6M1583.2,372.2A249.1,249.1 0 0 1 1583.5,373.1M1579.3,374.3A244.8,244.8 0 0 1 1579.9,375.7M1575.2,374.4A240.9,240.9 0 0 1 1576,376.4M1582.3,375.8A247,247 0 0 1 1582.7,376.7M1583.6,378.6A247.2,247.2 0 0 1 1583.9,379.5M1582.5,377.9A246.4,246.4 0 0 1 1583,379.3M1580.6,377A245,245 0 0 1 1581.4,379.1M1579.3,378.7A243.1,243.1 0 0 1 1580.4,381.9M1583.5,381.8A246,246 0 0 1 1583.8,382.7M1575.4,382A238.3,238.3 0 0 1 1576.5,384.9M1570.2,385.6A232.2,232.2 0 0 1 1571.2,388.3M1563.3,380.4A227.6,227.6 0 0 1 1566.4,388.5M1560.6,379.5A225.5,225.5 0 0 1 1562.9,385.2M1572.8,389.8A233.2,233.2 0 0 1 1573.1,390.7M1564.6,391.6A224.9,224.9 0 0 1 1565.1,392.9M1554,385.5A217.2,217.2 0 0 1 1557.6,394.9M1547,383.8A211.3,211.3 0 0 1 1550.4,392.2M1575.6,390.8A235.6,235.6 0 0 1 1575.9,391.7M1573.8,396.4A232.1,232.1 0 0 1 1574.1,397.3M1572.8,395.7A231.3,231.3 0 0 1 1573.2,397.1M1571.2,395.3A229.9,229.9 0 0 1 1571.7,396.8M1568.7,395.1A227.7,227.7 0 0 1 1569.3,396.8M1564.8,395A224,224 0 0 1 1565.5,397.1M1538.5,392.1A200.3,200.3 0 0 1 1542.7,403.5M1546,407A202.3,202.3 0 0 1 1546.2,407.8M1522,404.6A180.4,180.4 0 0 1 1525.1,413.8M1475.1,401A139,139 0 0 1 1484.4,422.4M1455.8,389.5A128.8,128.8 0 0 1 1470.8,415.5M1445.2,395.1A117,117 0 0 1 1453.8,408M1444.2,405.1A110.4,110.4 0 0 1 1458.4,434.9M1549.2,410.4A204.5,204.5 0 0 1 1549.4,411.2M1548.1,409.8A203.6,203.6 0 0 1 1548.4,411M1552.5,411.2A207.4,207.4 0 0 1 1552.7,412M1551.1,412A205.9,205.9 0 0 1 1551.4,413.2M1545,411.3A200.2,200.2 0 0 1 1545.8,414.1M1562,412.2A216.4,216.4 0 0 1 1562.2,413M1560.2,413.1A214.4,214.4 0 0 1 1560.5,414.4M1556.5,412.7A210.9,210.9 0 0 1 1557,414.6M1542.1,413.6A196.8,196.8 0 0 1 1543.1,417.2M1552.1,418.2A205.3,205.3 0 0 1 1552.3,419M1552.9,419.7A205.7,205.7 0 0 1 1553.1,420.5M1559.7,420.8A212.1,212.1 0 0 1 1559.8,421.7M1559.7,421.2A212.1,212.1 0 0 1 1560,422.5M1559,420.1A211.5,211.5 0 0 1 1559.4,422M1555.2,421.9A207.5,207.5 0 0 1 1555.8,424.3M1551.7,420.4A204.4,204.4 0 0 1 1552.5,423.7M1547.3,419.8A200.3,200.3 0 0 1 1548.1,423M1543.4,419.5A196.6,196.6 0 0 1 1544.1,422.2M1539.4,416.3A193.4,193.4 0 0 1 1540.7,421.6M1557.9,424.7A209.5,209.5 0 0 1 1558.1,425.5M1558.2,426.4A209.5,209.5 0 0 1 1558.4,427.2M1557.5,427A208.7,208.7 0 0 1 1557.7,428.2M1565.9,427.6A216.8,216.8 0 0 1 1566,428.4M1556.6,427.8A207.6,207.6 0 0 1 1556.9,429.6M1546.1,427.5A197.4,197.4 0 0 1 1546.7,430.6M1533.5,420.6A186.7,186.7 0 0 1 1535.9,431.1M1559.2,430.5A209.8,209.8 0 0 1 1559.4,431.4M1551.1,432.4A201.4,201.4 0 0 1 1551.3,433.6M1528.3,427.3A180.1,180.1 0 0 1 1530.1,436.5M1560,434.7A209.8,209.8 0 0 1 1560.1,435.6M1554.2,436A203.9,203.9 0 0 1 1554.3,437.3M1550.1,435.4A200,200 0 0 1 1550.4,437.2M1550.3,436.3A200,200 0 0 1 1550.6,438.6M1549.3,434.7A199.3,199.3 0 0 1 1549.8,437.6M1560.7,438.1A210,210 0 0 1 1560.8,438.9M1552.9,439.6A202.1,202.1 0 0 1 1553,440.8M1546,436.7A195.7,195.7 0 0 1 1546.6,441M1543.3,439.3A192.6,192.6 0 0 1 1543.8,442.8M1572.9,440.1A221.9,221.9 0 0 1 1573,441M1542,441.2A191.1,191.1 0 0 1 1542.3,444.1M1582.9,440.8A231.7,231.7 0 0 1 1583,441.7M1571.8,443.8A220.3,220.3 0 0 1 1571.8,444.7M1581.8,444.7A230.2,230.2 0 0 1 1581.9,445.6M1570.1,444.4A218.6,218.6 0 0 1 1570.3,446.2M1562.9,446A211.3,211.3 0 0 1 1563.1,448.2M1556.4,444.1A205.1,205.1 0 0 1 1556.8,447.7M1537.6,443.3A186.4,186.4 0 0 1 1538.1,447.8M1496.7,438.3A146.8,146.8 0 0 1 1498.5,450M1552.7,451.5A200.7,200.7 0 0 1 1552.8,452.4M1552.6,450.7A200.7,200.7 0 0 1 1552.7,451.9M1561.8,453.4A209.7,209.7 0 0 1 1561.9,454.3M1557.6,452.9A205.4,205.4 0 0 1 1557.7,454.1M1552.5,451.4A200.5,200.5 0 0 1 1552.7,453.8M1569.8,454.7A217.5,217.5 0 0 1 1569.8,455.6M1551.5,452.7A199.4,199.4 0 0 1 1551.7,456.1M1562.3,456.8A210,210 0 0 1 1562.4,457.7M1544.2,454.8A191.9,191.9 0 0 1 1544.3,458M1566.9,458.3A214.5,214.5 0 0 1 1567,459.2M1572.6,460.8A220,220 0 0 1 1572.6,461.7M1569.3,460A216.8,216.8 0 0 1 1569.4,461.3M1566.5,462.7A213.9,213.9 0 0 1 1566.5,463.6M1561.6,463.2A209,209 0 0 1 1561.6,464.5M1557.5,461A205,205 0 0 1 1557.6,463.9M1551.3,459.4A198.8,198.8 0 0 1 1551.4,462.6M1543,456.5A190.7,190.7 0 0 1 1543.2,461.2M1535.5,451.3A183.6,183.6 0 0 1 1536,459.1M1555.1,465.4A202.5,202.5 0 0 1 1555.1,466.2M1531.2,455.5A178.9,178.9 0 0 1 1531.5,465.9M1488.6,445.5A137.6,137.6 0 0 1 1490.1,462.1M1531.1,467A178.5,178.5 0 0 1 1531,467.7M1483,454.4A130.9,130.9 0 0 1 1483.5,467.2M1572.4,468.9A219.8,219.8 0 0 1 1572.4,469.8M1564.1,469.2A211.5,211.5 0 0 1 1564.1,470.5M1582.6,471.8A230.1,230.1 0 0 1 1582.6,472.7M1564.4,471.8A211.9,211.9 0 0 1 1564.4,473.1M1529.5,469.3A176.9,176.9 0 0 1 1529.4,471.5M1474.3,461.2A121.9,121.9 0 0 1 1474.4,469.2M1560.7,473.8A208.2,208.2 0 0 1 1560.6,474.7M1516.4,472.6A163.9,163.9 0 0 1 1516.3,473.6M1471.7,465.2A119.2,119.2 0 0 1 1471.7,471.4M1551.2,475.9A198.8,198.8 0 0 1 1551.1,476.8M1564.5,478.3A212.3,212.3 0 0 1 1564.5,479.2M1577.5,480.9A225.3,225.3 0 0 1 1577.4,481.8M1570.6,483.1A218.6,218.6 0 0 1 1570.5,484M1566.9,483.3A215,215 0 0 1 1566.8,484.6M1565.5,481.8A213.4,213.4 0 0 1 1565.3,483.8M1562.8,480.4A210.6,210.6 0 0 1 1562.6,482.6M1549.2,477.9A196.9,196.9 0 0 1 1549,480.5M1536.1,475.6A183.7,183.7 0 0 1 1535.9,478.3M1536.5,482.8A184.6,184.6 0 0 1 1536.5,483.5M1525.7,476.4A173.3,173.3 0 0 1 1525.2,482.1M1562.2,487.6A210.7,210.7 0 0 1 1562.1,488.5M1565.3,489.7A213.9,213.9 0 0 1 1565.2,490.5M1555,487.3A203.5,203.5 0 0 1 1554.8,489M1568.1,491.8A217,217 0 0 1 1568,492.6M1564.8,494A213.9,213.9 0 0 1 1564.7,494.9M1564.2,493.1A213.3,213.3 0 0 1 1564,494.4M1557.4,492.8A206.4,206.4 0 0 1 1557.1,494.7M1552,490.3A200.8,200.8 0 0 1 1551.7,493M1568.4,499A218.3,218.3 0 0 1 1568.3,499.8M1565.9,497.7A215.5,215.5 0 0 1 1565.7,499M1564.9,500.2A215,215 0 0 1 1564.8,501.1M1569.5,503.6A220,220 0 0 1 1569.3,504.5M1565.8,502.1A216.1,216.1 0 0 1 1565.5,503.4M1563.3,500.4A213.4,213.4 0 0 1 1563,502.3M1562.2,497.8A211.9,211.9 0 0 1 1561.7,501.1M1551.3,494.7A200.7,200.7 0 0 1 1550.8,497.7M1569.9,505.5A220.8,220.8 0 0 1 1569.7,506.4M1556.8,503.6A207.6,207.6 0 0 1 1556.6,504.9M1547.5,495.7A197,197 0 0 1 1546.4,502.3M1540.6,490.3A189.5,189.5 0 0 1 1539.5,497.8M1536.9,486.2A185.4,185.4 0 0 1 1536,493.4M1530.6,483.7A178.8,178.8 0 0 1 1530,489M1583.2,511.8A235,235 0 0 1 1583,512.8M1585.5,516.2A238.1,238.1 0 0 1 1585.3,517.2M1585.4,516.7A238.1,238.1 0 0 1 1585.1,518.1M1585.3,515.2A237.7,237.7 0 0 1 1584.8,517.3M1583.4,515.9A236,236 0 0 1 1582.8,518.6M1576.9,512.5A228.9,228.9 0 0 1 1576.2,515.7M1570.9,509.9A222.5,222.5 0 0 1 1570.3,512.8M1553.9,512.9A206.6,206.6 0 0 1 1553.7,513.8M1534.7,504A185.9,185.9 0 0 1 1533.7,508.7M1523.8,499.4A174.3,174.3 0 0 1 1522.9,503.8M1481.9,481A130.1,130.1 0 0 1 1480,492.8M1479,475.9A126.7,126.7 0 0 1 1477.8,486.4M1468.9,468.3A116.3,116.3 0 0 1 1468.1,479.9M1451.6,437.4A103.2,103.2 0 0 1 1455.6,473.3M1587,524.6A241.5,241.5 0 0 1 1586.8,525.5M1581.7,522.3A235.8,235.8 0 0 1 1581.4,523.7M1569.3,518.3A222.8,222.8 0 0 1 1568.9,519.9M1533.1,512.8A186.3,186.3 0 0 1 1532.9,513.5M1514.6,505.9A166.7,166.7 0 0 1 1514,508.3M1587.1,531.7A243.4,243.4 0 0 1 1586.8,532.7M1581,532.1A237.6,237.6 0 0 1 1580.7,533M1580.8,532.5A237.6,237.6 0 0 1 1580.4,533.9M1580,533A236.9,236.9 0 0 1 1579.5,534.6M1582.3,536.5A240.2,240.2 0 0 1 1582.1,537.5M1579.9,536.3A237.8,237.8 0 0 1 1579.5,537.7M1578.4,533.4A235.4,235.4 0 0 1 1577.5,536.3M1575.8,529.1A231.8,231.8 0 0 1 1574.5,533.8M1578.3,538.3A236.9,236.9 0 0 1 1578,539.2M1576,538.1A234.5,234.5 0 0 1 1575.5,539.4M1573.8,531.1A230.4,230.4 0 0 1 1571.8,537.5M1581.7,542.5A241.3,241.3 0 0 1 1581.4,543.4M1574.3,540.5A233.7,233.7 0 0 1 1573.9,541.9M1569.1,533.1A226.5,226.5 0 0 1 1567.3,538.9M1567.7,525.4A223,223 0 0 1 1564.9,535M1563.4,523.3A218.3,218.3 0 0 1 1561.8,528.9M1585,546.7A245.9,245.9 0 0 1 1584.7,547.7M1578.5,546.6A239.6,239.6 0 0 1 1578.2,547.5M1571.9,542.7A232.1,232.1 0 0 1 1571.3,544.5M1559.4,525.2A214.9,214.9 0 0 1 1555.3,537.9M1603.3,558.8A267.1,267.1 0 0 1 1602.9,559.8M1600.7,558.4A264.5,264.5 0 0 1 1600.1,559.9M1598.6,560.5A263.4,263.4 0 0 1 1598.3,561.5M1596.5,557.7A260.3,260.3 0 0 1 1595.6,559.9M1590.7,553.1A253.3,253.3 0 0 1 1589.5,556.3M1588.8,559A253.6,253.6 0 0 1 1588.4,559.9M1575.9,549.4A238.2,238.2 0 0 1 1574.2,553.8M1553.8,530.4A211.1,211.1 0 0 1 1549.8,542M1595.2,564.9A261.7,261.7 0 0 1 1594.8,565.9M1590.3,561.8A256,256 0 0 1 1589.7,563.2M1604.5,572.3A273.2,273.2 0 0 1 1604.1,573.3M1593.2,566.4A260.5,260.5 0 0 1 1592.6,567.9M1605.6,575.2A275.3,275.3 0 0 1 1605.2,576.2M1602.6,574.5A272.3,272.3 0 0 1 1602,576M1599.3,576.1A269.9,269.9 0 0 1 1598.9,577.1M1593.2,571.3A262.3,262.3 0 0 1 1592.2,573.5M1583.6,563.2A250.4,250.4 0 0 1 1581.8,567.6M1574,556A238.8,238.8 0 0 1 1572,560.8M1595.3,576.7A266.5,266.5 0 0 1 1594.9,577.7M1598.8,583.1A272.3,272.3 0 0 1 1598.3,584.1M1595.9,580.5A268.6,268.6 0 0 1 1595.2,582M1593,578A264.9,264.9 0 0 1 1592.2,579.7M1581.8,571.1A251.9,251.9 0 0 1 1580.8,573.3M1567.6,556.2A232.9,232.9 0 0 1 1564.1,564.3M1577.8,575.4A250.1,250.1 0 0 1 1577.3,576.3M1600.1,588.7A276,276 0 0 1 1599.6,589.7M1597.1,589.7A273.7,273.7 0 0 1 1596.6,590.7M1595.3,589.4A272,272 0 0 1 1594.5,590.9M1591.1,584.9A266.2,266.2 0 0 1 1589.8,587.5M1595,592.4A273.1,273.1 0 0 1 1594.5,593.4M1587,584.5A262.4,262.4 0 0 1 1585.2,587.9M1591.1,592.8A269.9,269.9 0 0 1 1590.6,593.8M1594.1,596.9A274.4,274.4 0 0 1 1593.6,597.9M1589.1,592.4A267.8,267.8 0 0 1 1588,594.3M1578.9,588.1A256.8,256.8 0 0 1 1577.6,590.4M1565.2,575.5A238.9,238.9 0 0 1 1562.5,580.7M1558.3,566.5A228.7,228.7 0 0 1 1554.9,573.4M1547.6,565.4A218.6,218.6 0 0 1 1543.7,572.8M1598.9,604.8A282.4,282.4 0 0 1 1598.3,605.8M1585.6,599.8A268.4,268.4 0 0 1 1585.1,600.8M1579.9,594.7A260.9,260.9 0 0 1 1578.9,596.6M1595.4,608A281,281 0 0 1 1594.8,609M1588.5,604.7A273.3,273.3 0 0 1 1587.6,606.1M1577.5,602.6A262.8,262.8 0 0 1 1577,603.5M1575.3,600A259.6,259.6 0 0 1 1574.5,601.4M1564.6,591.6A246.1,246.1 0 0 1 1563.3,593.7M1542.4,584.6A223.5,223.5 0 0 1 1542,585.3M1540.2,582.1A220.3,220.3 0 0 1 1539.5,583.2M1532.8,574.1A209.8,209.8 0 0 1 1530.9,577.2M1533.4,569.5A208,208 0 0 1 1530.3,574.7M1529,560.2A199.7,199.7 0 0 1 1524.7,567.9M1500.8,531.7A161.9,161.9 0 0 1 1493.9,545.6M1528.5,577.9A208.1,208.1 0 0 1 1528,578.6M1527.1,579A207.6,207.6 0 0 1 1526.7,579.7M1526.9,579.4A207.6,207.6 0 0 1 1526.2,580.4M1545.7,595.5A232.2,232.2 0 0 1 1545.2,596.3M1534,586.6A217.5,217.5 0 0 1 1533.3,587.7M1526.1,579.6A207.1,207.1 0 0 1 1525,581.4M1524.1,579.6A205.4,205.4 0 0 1 1522.5,582M1520.9,579.2A202.5,202.5 0 0 1 1519.6,581.1M1541.6,598.4A230.4,230.4 0 0 1 1541.1,599.2M1550.7,607.2A242.9,242.9 0 0 1 1550.2,608M1548.9,606.5A241.1,241.1 0 0 1 1548.1,607.7M1550.5,610.7A244.8,244.8 0 0 1 1549.9,611.5M1549.5,610.6A243.9,243.9 0 0 1 1548.6,611.8M1545.6,605A237.5,237.5 0 0 1 1543.9,607.4M1530.3,591A216.9,216.9 0 0 1 1528.1,594.1M1518.3,581.1A201.4,201.4 0 0 1 1516.6,583.6M1512.3,574.7A192.9,192.9 0 0 1 1510.4,577.5M1506.9,564.7A182.8,182.8 0 0 1 1503.1,570.4M1534.9,605.1A229,229 0 0 1 1534.4,605.8M1534.9,603.9A228.2,228.2 0 0 1 1534,605M1534.5,602.4A227,227 0 0 1 1533.5,603.7M1527.9,598.5A219.4,219.4 0 0 1 1526.2,600.8M1515.1,590.5A204.3,204.3 0 0 1 1513.8,592.2M1501.2,565A178.3,178.3 0 0 1 1493.8,575.4M1493.5,536.7A157.4,157.4 0 0 1 1480.6,558.1M1495.2,516.4A151.1,151.1 0 0 1 1482.1,544.4M1492.6,503.7A144.9,144.9 0 0 1 1483.7,528.1M1533.7,610.1A231,231 0 0 1 1533.1,610.8M1535.6,614A235,235 0 0 1 1535,614.8M1530.9,608.4A227.8,227.8 0 0 1 1529.7,609.9M1523.7,603.9A219.3,219.3 0 0 1 1522.3,605.6M1528.1,612.8A228.4,228.4 0 0 1 1527.5,613.5M1521.9,606.5A219.6,219.6 0 0 1 1521.1,607.5M1513.1,596.7A206.6,206.6 0 0 1 1511.5,598.7M1497.7,580.6A184.5,184.5 0 0 1 1495.2,583.6M1529.3,618.7A233.2,233.2 0 0 1 1528.7,619.5M1528.7,617A231.6,231.6 0 0 1 1527.8,618.1M1526.6,616.1A229.4,229.4 0 0 1 1525.2,617.6M1518.7,607.2A217.6,217.6 0 0 1 1517,609.1M1512.4,603.6A210.5,210.5 0 0 1 1510.4,605.9M1535.8,629.5A245.2,245.2 0 0 1 1535.1,630.3M1531.1,629.4A241.6,241.6 0 0 1 1530.5,630.1M1530.4,631.4A242.4,242.4 0 0 1 1529.8,632.1M1530.1,631.8A242.4,242.4 0 0 1 1529.1,632.8M1530.3,629.3A241,241 0 0 1 1528.5,631.3M1530.2,627.2A239.5,239.5 0 0 1 1528.4,629.3M1525.3,620.9A231.6,231.6 0 0 1 1523.5,623M1519.2,624.8A229.7,229.7 0 0 1 1518.5,625.5M1522.2,631.7A236.7,236.7 0 0 1 1521.5,632.4M1519.2,627.4A231.5,231.5 0 0 1 1518.2,628.4M1517.6,623.9A228,228 0 0 1 1516.2,625.4M1520.6,632.8A236.3,236.3 0 0 1 1519.9,633.5M1518.6,631.5A234,234 0 0 1 1517.6,632.5M1522.1,638.5A241.4,241.4 0 0 1 1521.4,639.2M1525.2,644.5A247.9,247.9 0 0 1 1524.5,645.2M1521.1,640.9A242.5,242.5 0 0 1 1520,642M1519.1,636A237.5,237.5 0 0 1 1517.2,637.9M1513.7,627.5A227.7,227.7 0 0 1 1511.3,629.9M1513.5,621.5A223.3,223.3 0 0 1 1509.4,625.6M1516.9,640.1A239,239 0 0 1 1516.2,640.8M1507.9,620A218.3,218.3 0 0 1 1502.4,625.4M1508.1,607.2A209.6,209.6 0 0 1 1499.1,616.5M1501.4,596A197.2,197.2 0 0 1 1494.7,603.3M1522.3,650.2A250,250 0 0 1 1521.5,650.9M1517.6,643.6A242,242 0 0 1 1516.5,644.6M1501.1,626.9A218.5,218.5 0 0 1 1499.6,628.2M1475.6,579.1A166.7,166.7 0 0 1 1465.3,589.4M1490.1,619A205.3,205.3 0 0 1 1489.5,619.6M1464.6,578.4A158.3,158.3 0 0 1 1458.4,584.4M1469.2,560.3A149.6,149.6 0 0 1 1455.6,575.1M1485.7,515A141.7,141.7 0 0 1 1456.8,562.6M1466.3,535.8A133.1,133.1 0 0 1 1440.9,566.2M1452.9,550.3A130.6,130.6 0 0 1 1438.9,564.7M1470.1,496A121.1,121.1 0 0 1 1439.4,551.1M1512.7,650.1A243.5,243.5 0 0 1 1512,650.7M1492.9,628.1A213.9,213.9 0 0 1 1491.9,628.9M1450.3,521.1A111.9,111.9 0 0 1 1425.7,551.2M1519.2,662.3A257,257 0 0 1 1518.4,663M1511.3,653.7A245.3,245.3 0 0 1 1510.1,654.7M1527.2,676.8A273.2,273.2 0 0 1 1526.3,677.5M1509.2,655.9A245.6,245.6 0 0 1 1508,656.8M1486.6,625.6A207.9,207.9 0 0 1 1484.6,627.2M1523.9,678A272.1,272.1 0 0 1 1523,678.7M1519.8,673.9A266.3,266.3 0 0 1 1518.6,674.9M1525.9,687.8A281,281 0 0 1 1525,688.5M1524.4,684.1A277.2,277.2 0 0 1 1523.1,685.1M1520.2,680A271.4,271.4 0 0 1 1518.2,681.6M1528.7,699A291.6,291.6 0 0 1 1527.7,699.7M1519,684.4A274.1,274.1 0 0 1 1517.7,685.4M1507.9,666.3A253,253 0 0 1 1505.6,668.1M1489.9,637.8A219.4,219.4 0 0 1 1486.3,640.6M1533.4,711.4A304.3,304.3 0 0 1 1532.4,712.2M1531.2,706.4A299,299 0 0 1 1529.7,707.4M1527.3,702.6A293.6,293.6 0 0 1 1525.1,704.2M1527.7,709.9A299.8,299.8 0 0 1 1526.7,710.6M1515.4,696.7A281.8,281.8 0 0 1 1514.4,697.3M1512.9,690.3A275.2,275.2 0 0 1 1511.1,691.6M1504.6,685.2A266.2,266.2 0 0 1 1503.7,685.8M1502.1,682.5A262.6,262.6 0 0 1 1500.8,683.4M1501.4,676.1A256.9,256.9 0 0 1 1498.2,678.3M1495.6,671.1A249.5,249.5 0 0 1 1492.5,673.2M1504.6,693A272.7,272.7 0 0 1 1503.7,693.6M1498.4,687.6A264.8,264.8 0 0 1 1497.5,688.2M1494.7,679.2A255.7,255.7 0 0 1 1493,680.3M1487.6,662.7A238.1,238.1 0 0 1 1484.1,665.1M1485.8,648.4A225.4,225.4 0 0 1 1478.7,653.4M1486.7,673.5A246.6,246.6 0 0 1 1485.9,674.1M1473.7,638.7A210.5,210.5 0 0 1 1466.7,643.5M1473.2,620.3A195.4,195.4 0 0 1 1461.8,628.6M1464.6,642.6A208.6,208.6 0 0 1 1463.9,643M1493.8,698.8A271.7,271.7 0 0 1 1492.9,699.3M1492.8,695A268,268 0 0 1 1491.4,695.8M1491.4,690.7A263.6,263.6 0 0 1 1489.8,691.7M1487.7,682.7A254.8,254.8 0 0 1 1486,683.7M1480.4,680.6A249.3,249.3 0 0 1 1479.5,681.1M1487.2,698.4A268.1,268.1 0 0 1 1486.3,699M1484.6,695A263.8,263.8 0 0 1 1483.2,695.8M1480.4,684.5A252.6,252.6 0 0 1 1478.4,685.7M1473.7,670.4A237.1,237.1 0 0 1 1471.6,671.7M1469.2,654.7A221.3,221.3 0 0 1 1464.6,657.4M1489.3,708.7A278.1,278.1 0 0 1 1488.3,709.3M1482.1,697A264.3,264.3 0 0 1 1480.6,697.8M1486.5,713A280.4,280.4 0 0 1 1485.4,713.5M1486.9,711.4A279.2,279.2 0 0 1 1485.4,712.2M1484.1,708.1A275,275 0 0 1 1481.9,709.3M1482.4,712.6A278.2,278.2 0 0 1 1481.4,713.2M1481.4,715.7A280.4,280.4 0 0 1 1480.4,716.2M1480.8,710.9A275.9,275.9 0 0 1 1478.8,711.9M1481.3,705.6A271.4,271.4 0 0 1 1477.8,707.4M1478.4,692.1A258.2,258.2 0 0 1 1473.4,694.8M1479.7,720A283.5,283.5 0 0 1 1478.7,720.5M1477.6,717A279.9,279.9 0 0 1 1476.1,717.7M1472.5,703.2A265.2,265.2 0 0 1 1470.3,704.2M1474.2,690.3A254.6,254.6 0 0 1 1466.7,694.2M1470.4,708.6A269.1,269.1 0 0 1 1469.4,709.1M1476.5,726.5A287.9,287.9 0 0 1 1475.4,727M1475.9,730.8A291.6,291.6 0 0 1 1474.8,731.3M1481.8,749.4A310.9,310.9 0 0 1 1480.6,749.9M1478.2,743.1A303.7,303.7 0 0 1 1476.5,743.9M1472.7,725.4A285.4,285.4 0 0 1 1469.8,726.8M1472.2,718.9A279.2,279.2 0 0 1 1468.7,720.5M1464.1,696.9A255.9,255.9 0 0 1 1460.6,698.6M1466.4,684.5A245.8,245.8 0 0 1 1458,688.6M1442.7,615.9A174.3,174.3 0 0 1 1430.3,622.6M1441.6,607A166.3,166.3 0 0 1 1432.7,612.3M1470.1,732.4A290.6,290.6 0 0 1 1469,732.9M1464.4,725.1A281.6,281.6 0 0 1 1463.3,725.5M1465.4,723.3A280.4,280.4 0 0 1 1463.4,724.2M1463.1,728A283.8,283.8 0 0 1 1462,728.4M1462.5,719.5A275.8,275.8 0 0 1 1459.4,720.8M1460.7,728.2A283,283 0 0 1 1459.6,728.6M1458.2,723.7A277.9,277.9 0 0 1 1456.6,724.3M1459.5,737.7A291.4,291.4 0 0 1 1458.4,738.1M1457.7,734.8A288,288 0 0 1 1456,735.4M1454.9,723.2A276.2,276.2 0 0 1 1452.6,724.1M1454,715.6A268.9,268.9 0 0 1 1451.1,716.8M1453.8,703.4A257.5,257.5 0 0 1 1448.3,705.7M1449.5,721.4A272.6,272.6 0 0 1 1448.4,721.8M1445.6,691.3A243.2,243.2 0 0 1 1438.6,694.1M1431.7,600.4A155.4,155.4 0 0 1 1409.8,611.1M1434.8,579.5A139.7,139.7 0 0 1 1414,592M1431.3,561.2A123.1,123.1 0 0 1 1416.1,572M1423.2,657A203.1,203.1 0 0 1 1422.5,657.3M1438.4,707A255.2,255.2 0 0 1 1437.4,707.3M1438.5,704A252.5,252.5 0 0 1 1437,704.6M1435.8,709A256.3,256.3 0 0 1 1434.8,709.3M1436.3,707.1A254.6,254.6 0 0 1 1434.8,707.6M1436.1,699.7A247.6,247.6 0 0 1 1433.2,700.7M1433.7,709.2A255.8,255.8 0 0 1 1432.7,709.6M1432.6,707.7A254.1,254.1 0 0 1 1431.2,708.2M1428,696A241.4,241.4 0 0 1 1426.3,696.5M1429.2,684.6A231.1,231.1 0 0 1 1424,686.4M1426.9,704.8A249.5,249.5 0 0 1 1425.9,705.1M1425.4,696.9A241.5,241.5 0 0 1 1424,697.3M1424.3,678.8A224,224 0 0 1 1419.5,680.4M1420.9,699A242.3,242.3 0 0 1 1420,699.3M1418.3,697A239.6,239.6 0 0 1 1417.4,697.3M1419.7,696.6A239.6,239.6 0 0 1 1417.8,697.1M1420.4,693.6A236.9,236.9 0 0 1 1418,694.3M1418.3,683.4A226.5,226.5 0 0 1 1416.3,684M1419.4,671.9A215.9,215.9 0 0 1 1414.2,673.5M1414.7,698.7A240.3,240.3 0 0 1 1413.8,699M1414.1,692.6A234.2,234.2 0 0 1 1412.7,693M1410.6,682.4A223.4,223.4 0 0 1 1408.6,682.9M1409.9,673.8A215,215 0 0 1 1407.4,674.5M1407.4,682.1A222.3,222.3 0 0 1 1406.6,682.3M1407.4,689.6A229.6,229.6 0 0 1 1406.5,689.8M1407.1,696.4A236.2,236.2 0 0 1 1406.2,696.6M1406.3,694.8A234.4,234.4 0 0 1 1404.9,695.1M1406,685.8A225.6,225.6 0 0 1 1403.6,686.3M1401.7,685.6A224.4,224.4 0 0 1 1400.8,685.8M1403.1,679A218.3,218.3 0 0 1 1400,679.7M1403.3,667.6A207.3,207.3 0 0 1 1399.1,668.6M1405.7,663.3A203.7,203.7 0 0 1 1400.4,664.6M1396,605.8A145.8,145.8 0 0 1 1388.7,607.8M1398.9,592.4A134,134 0 0 1 1389.1,595.5M1399.1,686.5A224.8,224.8 0 0 1 1398.2,686.7M1401.6,707.9A246.2,246.2 0 0 1 1400.6,708.1M1399.1,697.9A235.9,235.9 0 0 1 1397.7,698.2M1398.5,685.7A223.8,223.8 0 0 1 1396,686.2M1397.6,703.1A240.7,240.7 0 0 1 1396.7,703.2M1396.7,683.4A221.2,221.2 0 0 1 1393.5,684M1398.3,678.1A216.4,216.4 0 0 1 1394.2,679M1397.6,713.8A251.3,251.3 0 0 1 1396.6,714M1395.6,705.7A242.9,242.9 0 0 1 1394.2,706M1390.3,679.8A216.5,216.5 0 0 1 1388.8,680.1M1392.3,659.4A196.9,196.9 0 0 1 1386.2,660.6M1392.5,714.1A250.7,250.7 0 0 1 1391.4,714.2M1390.1,712.3A248.5,248.5 0 0 1 1389.1,712.4M1391.4,711A247.4,247.4 0 0 1 1389.5,711.3M1392.4,707.2A243.8,243.8 0 0 1 1389.9,707.6M1390.7,704.9A241.3,241.3 0 0 1 1387.1,705.4M1386.4,707.5A243.2,243.2 0 0 1 1385.4,707.6M1388.3,701.4A237.5,237.5 0 0 1 1385.1,701.9M1385.3,714.3A249.9,249.9 0 0 1 1384.3,714.5M1383.6,704.9A240.3,240.3 0 0 1 1382.1,705.1M1381.1,713.4A248.4,248.4 0 0 1 1380.1,713.5M1379.6,718.9A253.8,253.8 0 0 1 1378.6,719M1378.7,714.6A249.4,249.4 0 0 1 1377.2,714.8M1380.3,710.9A245.9,245.9 0 0 1 1377.6,711.2M1374.4,706.7A241.1,241.1 0 0 1 1373.4,706.8M1375.3,706A240.5,240.5 0 0 1 1373.8,706.2M1378.2,704.4A239.2,239.2 0 0 1 1374.5,704.8M1375.9,699.9A234.5,234.5 0 0 1 1371.9,700.3M1380.1,696.5A231.5,231.5 0 0 1 1373.6,697.1M1369.1,716.7A250.6,250.6 0 0 1 1368.1,716.7M1370,714.7A248.7,248.7 0 0 1 1368.5,714.8M1370.9,712.8A246.9,246.9 0 0 1 1369.1,712.9M1371.2,703.4A237.6,237.6 0 0 1 1369.4,703.6M1376.6,694.4A229.1,229.1 0 0 1 1369.6,695M1380.8,688.7A223.9,223.9 0 0 1 1372.6,689.6M1366.3,702.8A236.6,236.6 0 0 1 1365.3,702.9M1375.9,681.4A216.1,216.1 0 0 1 1364.7,682.3M1382.3,670.9A206.5,206.5 0 0 1 1369.5,672.4M1364.1,697.4A231.1,231.1 0 0 1 1363.2,697.5M1361.8,710.7A244.3,244.3 0 0 1 1360.8,710.8M1362.6,706.3A239.9,239.9 0 0 1 1361.1,706.4M1358.5,699.8A233.3,233.3 0 0 1 1357.6,699.8M1359.4,698.5A232,232 0 0 1 1358,698.5M1361.4,693.5A227.1,227.1 0 0 1 1358.6,693.6M1363,684.6A218.2,218.2 0 0 1 1359.7,684.7M1360.2,657A190.5,190.5 0 0 1 1355.9,657.1M1369,610.9A145.2,145.2 0 0 1 1356.8,611.7M1378.9,605.5A141.4,141.4 0 0 1 1362.6,607.6M1368.9,592.3A126.7,126.7 0 0 1 1354.3,593.3M1390.2,582.1A121.4,121.4 0 0 1 1361.2,587.7M1354.3,660.1A193.5,193.5 0 0 1 1353.6,660.1M1351.8,706.6A240,240 0 0 1 1350.9,706.6M1351.4,702.5A235.9,235.9 0 0 1 1349.9,702.5M1350.7,699.1A232.5,232.5 0 0 1 1349,699.1M1350,686.5A219.9,219.9 0 0 1 1348.3,686.5M1352.8,674.5A207.9,207.9 0 0 1 1349.3,674.5M1345.1,702.7A236.2,236.2 0 0 1 1344.2,702.6M1342.8,712.8A246.4,246.4 0 0 1 1341.8,712.8M1342.9,699A232.6,232.6 0 0 1 1341.4,698.9M1340,708.1A241.8,241.8 0 0 1 1339,708.1M1336.5,716A249.9,249.9 0 0 1 1335.5,716M1336.3,712.5A246.5,246.5 0 0 1 1334.8,712.4M1338.1,707A240.8,240.8 0 0 1 1335.9,706.9M1339.9,701.4A235.2,235.2 0 0 1 1337.4,701.3M1333.6,715.2A249.3,249.3 0 0 1 1332.5,715.1M1334.1,701.5A235.6,235.6 0 0 1 1332.7,701.3M1339.5,686.9A220.7,220.7 0 0 1 1334.6,686.6M1343,681.1A214.8,214.8 0 0 1 1337.5,680.8M1345.7,671.9A205.4,205.4 0 0 1 1340.8,671.7M1332.2,696.5A230.8,230.8 0 0 1 1331.2,696.4M1332.4,688.4A222.8,222.8 0 0 1 1331.1,688.3M1328.9,691.4A226.1,226.1 0 0 1 1328,691.3M1328.5,691.2A225.9,225.9 0 0 1 1327.1,691.1M1327.8,690.7A225.4,225.4 0 0 1 1326.2,690.5M1322.6,712.4A247.7,247.7 0 0 1 1321.6,712.3M1323,705.6A240.9,240.9 0 0 1 1321.5,705.5M1327.1,689.8A224.6,224.6 0 0 1 1324.3,689.4M1330.5,684.8A219.3,219.3 0 0 1 1326.3,684.4M1333.1,674.2A208.5,208.5 0 0 1 1329.6,673.8M1343.4,667.4A201.1,201.1 0 0 1 1332.1,666.6M1317.7,718.5A254.3,254.3 0 0 1 1316.7,718.4M1317.4,717.2A253,253 0 0 1 1315.9,717M1315.4,713.2A249.4,249.4 0 0 1 1314.4,713.1M1317.5,711A246.9,246.9 0 0 1 1315.3,710.7M1321.2,700.7A236.2,236.2 0 0 1 1317.9,700.3M1320.8,691.5A227.2,227.2 0 0 1 1316.9,691M1339.3,646.6A180.5,180.5 0 0 1 1325.8,645.1M1317.3,682.6A218.8,218.8 0 0 1 1316.4,682.4M1332.7,644.1A178.6,178.6 0 0 1 1323.4,642.8M1347.8,640.2A173.7,173.7 0 0 1 1328.7,638.6M1312.7,698.9A235.7,235.7 0 0 1 1311.7,698.8M1314.1,688.2A224.9,224.9 0 0 1 1312.7,687.9M1338.7,634.2A168.1,168.1 0 0 1 1323.3,632.2M1309.8,698.8A236.1,236.1 0 0 1 1308.8,698.6M1306.4,706.3A244.2,244.2 0 0 1 1305.4,706.2M1312.6,681A218.1,218.1 0 0 1 1310.9,680.6M1331.4,629.8A164.6,164.6 0 0 1 1321.8,628.3M1305.4,696.1A234.3,234.3 0 0 1 1304.5,695.9M1305.5,693.3A231.6,231.6 0 0 1 1304.1,693M1303.6,690.9A229.6,229.6 0 0 1 1302.7,690.7M1302.4,687.7A226.8,226.8 0 0 1 1301.5,687.5M1296.5,696.3A236.5,236.5 0 0 1 1295.6,696.1M1296.1,695.9A236.2,236.2 0 0 1 1294.7,695.6M1297.7,695.7A235.6,235.6 0 0 1 1295.6,695.2M1298.9,694.6A234.2,234.2 0 0 1 1297,694.1M1302.3,686.4A225.4,225.4 0 0 1 1300,685.8M1304.9,683.1A221.7,221.7 0 0 1 1302,682.4M1307.1,682.4A220.6,220.6 0 0 1 1303.7,681.7M1289.6,711.8A253.2,253.2 0 0 1 1288.6,711.6M1289.2,711.3A252.8,252.8 0 0 1 1287.7,710.9M1289.7,706.4A247.9,247.9 0 0 1 1288,705.9M1289.8,702.6A244.2,244.2 0 0 1 1288,702.1M1284.9,709.4A252,252 0 0 1 1283.9,709.1M1286.6,701.3A243.8,243.8 0 0 1 1285.2,700.9M1280,711.6A255.6,255.6 0 0 1 1279,711.3M1283.5,703.3A246.6,246.6 0 0 1 1282,702.9M1287.5,695.6A238.1,238.1 0 0 1 1285.2,694.9M1292.9,687.6A228.9,228.9 0 0 1 1288.9,686.5M1306,679.1A217.6,217.6 0 0 1 1293.9,676.1M1281,697.6A241.8,241.8 0 0 1 1280.1,697.3M1283.6,692.4A236.1,236.1 0 0 1 1282.3,692M1300.3,676.2A216,216 0 0 1 1288.9,673M1276.5,698.9A244.4,244.4 0 0 1 1275.5,698.6M1276.3,697.8A243.5,243.5 0 0 1 1274.9,697.4M1278.4,696A241.1,241.1 0 0 1 1276.3,695.3M1279.9,688A233,233 0 0 1 1277.3,687.1M1285,678.7A222.6,222.6 0 0 1 1281.9,677.7M1304.1,640.6A180.6,180.6 0 0 1 1296.5,638.3M1317.9,639A175.9,175.9 0 0 1 1301.7,635M1276.2,684.6A231,231 0 0 1 1275.3,684.3M1278.4,677A223.1,223.1 0 0 1 1277.1,676.5M1285.2,661.6A206.3,206.3 0 0 1 1283.4,660.9M1310.7,633.2A171.8,171.8 0 0 1 1295.7,628.7M1327.1,626.1A161.6,161.6 0 0 1 1306.1,621.3M1348.9,624.4A157.8,157.8 0 0 1 1317.3,620.4M1351.5,615.7A149.1,149.1 0 0 1 1334.1,614.6M1272.7,683.1A230.8,230.8 0 0 1 1271.9,682.8M1279.2,668A214.3,214.3 0 0 1 1278,667.5M1343.4,606.3A140,140 0 0 1 1304.3,598M1263.3,702.8A252.5,252.5 0 0 1 1262.3,702.4M1264.8,697.4A246.9,246.9 0 0 1 1263.4,696.9M1277.9,661.3A208.5,208.5 0 0 1 1276.5,660.7M1324.3,600.1A136.5,136.5 0 0 1 1303.2,593.8M1353.5,595.3A128.7,128.7 0 0 1 1315.9,589.9M1250.2,721.6A274.8,274.8 0 0 1 1249.2,721.2M1252.2,710.8A264.1,264.1 0 0 1 1251.2,710.4M1254.1,704.9A257.9,257.9 0 0 1 1252.6,704.3M1254,698.3A251.8,251.8 0 0 1 1253.1,697.9M1256,698.1A250.9,250.9 0 0 1 1253.9,697.2M1257.6,691.6A244.3,244.3 0 0 1 1255.2,690.6M1262.9,688.7A239.5,239.5 0 0 1 1258.2,686.7M1277,657.2A205.1,205.1 0 0 1 1273.8,655.9M1244.9,700.9A257.8,257.8 0 0 1 1244,700.4M1248,696.8A252.8,252.8 0 0 1 1246.6,696.1M1249.7,695.4A250.9,250.9 0 0 1 1248.1,694.7M1252.6,691.5A246.1,246.1 0 0 1 1250.9,690.7M1237,710.4A269.8,269.8 0 0 1 1236,709.9M1238.9,708.7A267.5,267.5 0 0 1 1237.5,708M1240.8,702.8A261.3,261.3 0 0 1 1238.7,701.8M1237.5,699.4A259.7,259.7 0 0 1 1236.5,698.9M1238.9,698.9A258.6,258.6 0 0 1 1237.5,698.2M1232.5,704.6A266.6,266.6 0 0 1 1231.5,704.1M1234.1,700.2A261.9,261.9 0 0 1 1232.7,699.5M1240.1,694.6A254.3,254.3 0 0 1 1236.9,693M1227.8,706.5A270.4,270.4 0 0 1 1226.9,706M1227.9,705.2A269.3,269.3 0 0 1 1226.4,704.5M1227.8,703.6A267.9,267.9 0 0 1 1226.1,702.7M1219.7,712.2A279.3,279.3 0 0 1 1218.7,711.7M1228.8,699.7A263.9,263.9 0 0 1 1226.6,698.5M1246.3,678.3A236.9,236.9 0 0 1 1240.5,675.3M1252.9,674.9A231,231 0 0 1 1246.1,671.6M1253.4,665.4A222.2,222.2 0 0 1 1245.3,661.2M1263.5,664.8A217.3,217.3 0 0 1 1251.6,659M1211.3,720.3A290.3,290.3 0 0 1 1210.3,719.7M1208.5,720.5A292,292 0 0 1 1207.5,719.9M1212.2,717.5A287.5,287.5 0 0 1 1210.2,716.3M1208.5,713.4A285.8,285.8 0 0 1 1207.5,712.8M1212,709.8A280.9,280.9 0 0 1 1210.5,708.9M1217.7,705.4A274.2,274.2 0 0 1 1214.6,703.6M1208.3,709.1A282.2,282.2 0 0 1 1207.4,708.5M1225.4,688.3A255.6,255.6 0 0 1 1221.5,686M1211.9,698.9A271.6,271.6 0 0 1 1210.9,698.3M1232.5,671.7A237.7,237.7 0 0 1 1229,669.6M1289.3,596.7A144.7,144.7 0 0 1 1278.4,590.9M1297,593A138.1,138.1 0 0 1 1286.9,588.1M1302.2,590.6A133.8,133.8 0 0 1 1293.8,586.8M1335,590A124.6,124.6 0 0 1 1301.7,580.4M1231,658.3A227,227 0 0 1 1230.3,657.8M1240.8,644.5A210.1,210.1 0 0 1 1239.7,643.8M1224,665.8A237.1,237.1 0 0 1 1223.2,665.2M1226.5,658.5A229.6,229.6 0 0 1 1225.7,658M1227.7,655.9A226.8,226.8 0 0 1 1226.5,655.1M1231,654.1A223.4,223.4 0 0 1 1228.9,652.7M1218.5,661.9A237,237 0 0 1 1217.7,661.4M1219.7,661.8A236.2,236.2 0 0 1 1218.5,661M1223.4,658A230.9,230.9 0 0 1 1222.1,657.1M1217.4,660.1A236.1,236.1 0 0 1 1216.6,659.6M1217.8,658.7A234.7,234.7 0 0 1 1216.6,657.9M1225.2,654A226.6,226.6 0 0 1 1221.8,651.7M1237.4,642.1A210,210 0 0 1 1233,639.2M1208.9,665.3A245.2,245.2 0 0 1 1208.1,664.7M1213.3,660.8A239,239 0 0 1 1212.1,660M1202.2,671A253.8,253.8 0 0 1 1201.4,670.4M1214,658.6A236.8,236.8 0 0 1 1211.9,657M1227.7,637.6A211.8,211.8 0 0 1 1225.7,636.2M1193,678.1A264.9,264.9 0 0 1 1192.1,677.4M1194.2,675.6A262.3,262.3 0 0 1 1192.9,674.6M1195.5,672.6A259.1,259.1 0 0 1 1194,671.4M1188.4,677A266.9,266.9 0 0 1 1187.5,676.3M1196.8,669.3A255.7,255.7 0 0 1 1194.9,667.8M1183.1,678.3A271.2,271.2 0 0 1 1182.3,677.6M1186.2,676.2A267.6,267.6 0 0 1 1184.9,675.2M1184.3,668.3A262.7,262.7 0 0 1 1183.5,667.6M1179.6,670.5A267.4,267.4 0 0 1 1178.8,669.8M1179.7,669.6A266.7,266.7 0 0 1 1178.4,668.6M1184,667.9A262.6,262.6 0 0 1 1181.7,666M1184.7,664.7A259.7,259.7 0 0 1 1182.2,662.6M1188.4,665A257.5,257.5 0 0 1 1184.9,662M1175.8,666.6A266.9,266.9 0 0 1 1175,665.8M1177.9,665.9A265,265 0 0 1 1176.7,664.8M1179.9,662.4A261.1,261.1 0 0 1 1178.1,660.8M1188.9,660.8A254,254 0 0 1 1183.7,656.3M1192.2,662.1A252.9,252.9 0 0 1 1187,657.7M1195.1,660.1A249.5,249.5 0 0 1 1191.8,657.3M1183.5,653.2A251.8,251.8 0 0 1 1182.8,652.5M1178.1,656A257.5,257.5 0 0 1 1177.4,655.3M1179.5,653.8A254.9,254.9 0 0 1 1178.4,652.7M1183.3,652.6A251.5,251.5 0 0 1 1181.3,650.7M1184.9,648.9A247.7,247.7 0 0 1 1182.6,646.8M1198.2,653A242,242 0 0 1 1187.6,643.7M1202.4,654.7A240.7,240.7 0 0 1 1193.7,647.4M1199.9,648.8A237.7,237.7 0 0 1 1188.7,638.8M1208.9,651.8A234.4,234.4 0 0 1 1196.4,641.4M1241.3,617.1A187.1,187.1 0 0 1 1232.8,610.4M1251.8,616.1A180.3,180.3 0 0 1 1241.3,608.4M1258.2,615.9A176.6,176.6 0 0 1 1248.6,609.4M1152.4,675.3A289.3,289.3 0 0 1 1151.5,674.5M1150.8,673.6A289.1,289.1 0 0 1 1150,672.7M1150.8,672.8A288.5,288.5 0 0 1 1149.5,671.5M1152.9,673.9A287.9,287.9 0 0 1 1150.6,671.7M1149.5,669.9A287.3,287.3 0 0 1 1148.7,669M1156.1,668.3A281.5,281.5 0 0 1 1153.2,665.4M1149.2,666.9A285.4,285.4 0 0 1 1148.4,666M1156.3,656.8A273.3,273.3 0 0 1 1155.5,656M1157.7,654.7A270.9,270.9 0 0 1 1156.5,653.5M1161.6,653.9A267.5,267.5 0 0 1 1159.5,651.8M1163.2,650.3A263.8,263.8 0 0 1 1160.9,647.9M1163.1,648.1A262.4,262.4 0 0 1 1161.2,646.1M1172.9,648.3A255.6,255.6 0 0 1 1167.1,642.4M1160.8,645A262,262 0 0 1 1160.1,644.2M1161,644.1A261.2,261.2 0 0 1 1159.9,642.9M1161.7,642.3A259.5,259.5 0 0 1 1160.5,641M1171.1,644.3A254,254 0 0 1 1165.1,638M1149.9,649.1A272.7,272.7 0 0 1 1149.2,648.2M1151.3,647A270.3,270.3 0 0 1 1150.2,645.8M1150.2,644.3A269.3,269.3 0 0 1 1149.5,643.5M1153,644.4A267.3,267.3 0 0 1 1151.4,642.6M1159.2,637.3A258,258 0 0 1 1157.4,635.3M1155.6,635.4A259.4,259.4 0 0 1 1155,634.6M1156.8,633.6A257.3,257.3 0 0 1 1155.8,632.4M1150.7,634A262.2,262.2 0 0 1 1150,633.1M1151.2,632.9A261.2,261.2 0 0 1 1150.2,631.6M1153.6,632.9A259.3,259.3 0 0 1 1152.1,631.1M1143.3,634.5A268.3,268.3 0 0 1 1142.6,633.6M1143.1,633.9A268.2,268.2 0 0 1 1142,632.6M1146.3,633.4A265.3,265.3 0 0 1 1144.8,631.5M1141.5,631.6A267.9,267.9 0 0 1 1140.9,630.8M1147.4,631A262.9,262.9 0 0 1 1145.1,628.2M1155.4,629.9A256.1,256.1 0 0 1 1151.6,625.3M1159.3,630.5A253.4,253.4 0 0 1 1155.5,626M1163.8,631.5A250.7,250.7 0 0 1 1159.6,626.5M1186,624.2A229.3,229.3 0 0 1 1177.9,615.2M1183.9,617.9A226.6,226.6 0 0 1 1172.9,604.8M1182.1,608.3A221.7,221.7 0 0 1 1176.3,601M1183.6,601.2A216.1,216.1 0 0 1 1180.2,596.9M1114.6,643.5A296.5,296.5 0 0 1 1113.9,642.5M1116.6,641.3A293.6,293.6 0 0 1 1115.5,639.9M1124.5,637.6A285.1,285.1 0 0 1 1122.9,635.5M1112.3,640.7A296.8,296.8 0 0 1 1111.6,639.7M1091.4,652.6A320.7,320.7 0 0 1 1090.6,651.6M1093,650.7A318.2,318.2 0 0 1 1091.9,649.1M1092.8,646.9A316.2,316.2 0 0 1 1092.1,645.8M1096.7,646.9A313,313 0 0 1 1095.1,644.5M1089.3,646.2A318.7,318.7 0 0 1 1088.5,645.1M1087.9,643.9A318.6,318.6 0 0 1 1087.2,642.9M1102.8,636.2A302,302 0 0 1 1101.4,634.2M1113.1,633.7A292.1,292.1 0 0 1 1110.3,629.7M1124,631.5A281.9,281.9 0 0 1 1120.1,625.9M1130.2,623A271.8,271.8 0 0 1 1125.6,616.1M1143.2,622.1A260.9,260.9 0 0 1 1136.9,613.4M1187.5,594.7A209,209 0 0 1 1182.3,587.7M1088.6,638.8A315.2,315.2 0 0 1 1087.9,637.8M1099.7,628.7A300.4,300.4 0 0 1 1099,627.7M1103,628.8A297.7,297.7 0 0 1 1101.7,626.7M1114.1,620.1A283.6,283.6 0 0 1 1112.6,617.7M1112.3,616.5A283.3,283.3 0 0 1 1111.7,615.6M1117.2,616.5A279.1,279.1 0 0 1 1115.5,613.8M1110.5,614.9A283.9,283.9 0 0 1 1109.9,613.9M1110.6,612.2A282.5,282.5 0 0 1 1110,611.2M1105.1,611.4A286.8,286.8 0 0 1 1104.5,610.4M1107.5,611.3A284.6,284.6 0 0 1 1106.6,609.8M1111.8,610.8A280.7,280.7 0 0 1 1110.5,608.6M1115.8,611A277.3,277.3 0 0 1 1114,608M1125.8,609.2A267.9,267.9 0 0 1 1123,604.6M1106.7,606.4A282.9,282.9 0 0 1 1106.1,605.4M1106.8,605.7A282.4,282.4 0 0 1 1106,604.2M1110.2,605.7A279.5,279.5 0 0 1 1109,603.5M1107.1,602.3A280.5,280.5 0 0 1 1106.6,601.3M1110.1,600A276.8,276.8 0 0 1 1109.3,598.5M1115.3,601.4A272.9,272.9 0 0 1 1113.1,597.4M1131.3,602.7A259.8,259.8 0 0 1 1125.7,593M1112.7,595.4A272.3,272.3 0 0 1 1112.2,594.4M1116.8,592.6A267.4,267.4 0 0 1 1116,591.1M1133.1,595.1A254.4,254.4 0 0 1 1127.9,585.8M1141.2,584.5A242,242 0 0 1 1138,578.4M1189.3,587.9A203.4,203.4 0 0 1 1173.5,563.2M1186.2,572.5A197.2,197.2 0 0 1 1177.4,557M1149.8,570.2A227.7,227.7 0 0 1 1149.4,569.4M1189.6,560.3A188,188 0 0 1 1185,551.8M1119.4,583.4A260.8,260.8 0 0 1 1118.9,582.4M1129.2,577.9A249.5,249.5 0 0 1 1128.6,576.5M1105.6,584A273.5,273.5 0 0 1 1105.1,583M1110.1,583.1A269.1,269.1 0 0 1 1109.4,581.6M1111.9,581.3A266.6,266.6 0 0 1 1110.9,579.1M1114.9,582A264.3,264.3 0 0 1 1113.5,579.2M1136.8,573.3A240.7,240.7 0 0 1 1135.4,570.4M1114.5,576.2A262.1,262.1 0 0 1 1114.1,575.3M1119.6,571.6A255.6,255.6 0 0 1 1119.1,570.7M1096,578.5A280,280 0 0 1 1095.5,577.5M1092,577.7A283.3,283.3 0 0 1 1091.5,576.7M1104,574.4A271,271 0 0 1 1103.1,572.4M1089.9,574.9A284.1,284.1 0 0 1 1089.4,573.8M1085.7,574A287.7,287.7 0 0 1 1085.3,573M1094.4,568.1A277.5,277.5 0 0 1 1094,567.1M1094.2,567.6A277.5,277.5 0 0 1 1093.6,566M1095.1,569.6A277.3,277.3 0 0 1 1094,566.8M1096.9,571.3A276.3,276.3 0 0 1 1095.5,567.8M1078.7,569.2A292.5,292.5 0 0 1 1078.3,568M1084.5,568.2A286.7,286.7 0 0 1 1083.9,566.6M1102.2,567.2A269.8,269.8 0 0 1 1100,561.5M1106.3,569.3A266.8,266.8 0 0 1 1103.9,563.2M1114.4,568.7A259.2,259.2 0 0 1 1112.2,563.4M1118.9,569.7A255.4,255.4 0 0 1 1116.7,564.6M1132,565.5A241.7,241.7 0 0 1 1130.4,561.8M1137.9,564.9A236.1,236.1 0 0 1 1136.3,561.4M1148.6,565.8A226.8,226.8 0 0 1 1145.6,559.3M1190.2,554.4A184.6,184.6 0 0 1 1185.3,544.7M1255.3,609.7A173.1,173.1 0 0 1 1198,544.4M1263.5,609.6A168.5,168.5 0 0 1 1225.9,577.7M1247.3,590.7A162.7,162.7 0 0 1 1199.8,522.4M1269.3,601.6A158.7,158.7 0 0 1 1222.4,557.3M1074.8,565.5A294.8,294.8 0 0 1 1074.4,564.3M1107.3,555.1A260.8,260.8 0 0 1 1106.7,553.6M1089.7,557.8A278.3,278.3 0 0 1 1089.3,556.7M1076.2,560A291.8,291.8 0 0 1 1075.8,558.8M1118.5,547.2A247.6,247.6 0 0 1 1117.9,545.3M1060.7,561.2A306.9,306.9 0 0 1 1060.3,560M1074.7,557.9A292.5,292.5 0 0 1 1074.1,556.2M1059.2,559.1A307.6,307.6 0 0 1 1058.8,557.9M1072.3,554.3A293.8,293.8 0 0 1 1071.7,552.6M1093.3,551A272.7,272.7 0 0 1 1092.1,547.2M1045.9,559.2A320.4,320.4 0 0 1 1045.5,557.9M1048.7,555.6A316.6,316.6 0 0 1 1048.4,554.4M1056.8,555.2A308.8,308.8 0 0 1 1056.1,552.8M1043.4,554.4A321.4,321.4 0 0 1 1043.1,553.2M1071.8,549.5A292.8,292.8 0 0 1 1070.8,546.1M1043.1,550.5A320.6,320.6 0 0 1 1042.8,549.2M1045.6,549.1A317.9,317.9 0 0 1 1045.1,547.2M1034.6,547.2A328,328 0 0 1 1034.3,545.9M1036.6,548.1A326.3,326.3 0 0 1 1036.1,546.2M1037,547A325.6,325.6 0 0 1 1036.3,544.1M1031.6,543.8A330.1,330.1 0 0 1 1031.3,542.5M1037.4,545.3A324.9,324.9 0 0 1 1036.5,542M1035.4,540.2A325.7,325.7 0 0 1 1035.1,538.9M1039.8,542.9A321.9,321.9 0 0 1 1038.8,538.7M1054.8,545.7A308.2,308.2 0 0 1 1052.8,537.7M1066.4,545.4A296.9,296.9 0 0 1 1064.7,538.9M1083.3,544.3A280.3,280.3 0 0 1 1081.5,538M1062.6,528.9A296.6,296.6 0 0 1 1062.4,527.7M1064.3,526.1A294.3,294.3 0 0 1 1064.1,524.9M1070.4,526.6A288.5,288.5 0 0 1 1069.9,524.3M1071.2,522.3A286.9,286.9 0 0 1 1071,521.1M1082.8,519.4A274.9,274.9 0 0 1 1082.5,517.8M1087.4,521.9A270.9,270.9 0 0 1 1086.6,517.8M1092,514.9A265,265 0 0 1 1091.8,513.8M1100,517.3A257.6,257.6 0 0 1 1099.2,513M1100,510.2A256.3,256.3 0 0 1 1099.8,509.2M1101,511.1A255.5,255.5 0 0 1 1100.7,509.6M1103,514.5A254.1,254.1 0 0 1 1102.2,510.1M1105.5,520.8A253,253 0 0 1 1103.7,512.1M1100.5,508A255.5,255.5 0 0 1 1100.3,507M1105.6,516.2A251.9,251.9 0 0 1 1103.9,506.9M1098,504.2A257.4,257.4 0 0 1 1097.8,503.1M1098.1,505.2A257.4,257.4 0 0 1 1097.9,503.7M1098,504.4A257.4,257.4 0 0 1 1097.7,502.1M1098.1,503.2A257.1,257.1 0 0 1 1097.8,501M1100,506A255.6,255.6 0 0 1 1099.4,501.9M1106.1,511.3A250.6,250.6 0 0 1 1104.7,503.2M1106.5,507.1A249.4,249.4 0 0 1 1105.3,499M1113.8,520A244.7,244.7 0 0 1 1110.6,502.4M1085.6,499.4A269,269 0 0 1 1085.5,498.3M1081.2,496.5A273,273 0 0 1 1081.1,495.4M1083.8,497.4A270.5,270.5 0 0 1 1083.7,495.7M1086.4,498.7A268.2,268.2 0 0 1 1086.1,496.3M1090.6,499.8A264.1,264.1 0 0 1 1090.2,497M1079.9,493.3A274,274 0 0 1 1079.8,492.2M1081.2,494.3A272.8,272.8 0 0 1 1081,492.7M1079.7,491.1A274,274 0 0 1 1079.6,490M1082.3,493.4A271.6,271.6 0 0 1 1082.1,490.3M1094.9,497.9A259.6,259.6 0 0 1 1094.2,490.7M1071.1,488.4A282.3,282.3 0 0 1 1071.1,487.3M1082.5,488.6A271,271 0 0 1 1082.4,487M1085.8,487.5A267.7,267.7 0 0 1 1085.6,485.1M1096.4,494.1A257.7,257.7 0 0 1 1095.6,485.6M1100.9,489.4A252.7,252.7 0 0 1 1100.4,483M1105.8,485.8A247.5,247.5 0 0 1 1105.5,481.7M1136.6,506.6A219.7,219.7 0 0 1 1133.4,481.8M1143.5,524.3A216.9,216.9 0 0 1 1137.4,493.9M1091.8,481.5A261.2,261.2 0 0 1 1091.8,480.4M1147.4,507.7A209.3,209.3 0 0 1 1143.6,478.1M1067.4,479.4A285.5,285.5 0 0 1 1067.4,478.2M1066.8,477.1A286,286 0 0 1 1066.8,475.9M1069.8,476.4A283,283 0 0 1 1069.8,474.6M1074.8,478.5A278.1,278.1 0 0 1 1074.7,475.4M1081.6,479.8A271.3,271.3 0 0 1 1081.5,476.7M1076,472.2A276.6,276.6 0 0 1 1076,471.1M1085.2,473.1A267.5,267.5 0 0 1 1085.1,471.5M1097.5,477.6A255.3,255.3 0 0 1 1097.3,472M1087.2,469.8A265.5,265.5 0 0 1 1087.1,468.7M1100.8,474.7A251.9,251.9 0 0 1 1100.7,469.2M1073.1,465.4A279.5,279.5 0 0 1 1073.1,464.3M1073.1,466.6A279.5,279.5 0 0 1 1073.1,464.9M1073.5,467.7A279.1,279.1 0 0 1 1073.5,465.7M1078.4,466.7A274.2,274.2 0 0 1 1078.4,463.2M1058.5,460.6A294.2,294.2 0 0 1 1058.5,459.4M1062.6,461.9A290,290 0 0 1 1062.7,460.1M1084.7,465A267.9,267.9 0 0 1 1084.7,461.4M1109.1,471.7A243.5,243.5 0 0 1 1109.1,463.5M1146.5,492.8A207.7,207.7 0 0 1 1144.9,467.5M1065.4,458.4A287.4,287.4 0 0 1 1065.4,457.2M1074.5,458.1A278.2,278.2 0 0 1 1074.6,456.4M1103.3,458.2A249.4,249.4 0 0 1 1103.4,456.4M1148.3,480A204.7,204.7 0 0 1 1148,459M1057.6,451A295.4,295.4 0 0 1 1057.7,449.8M1058,450.4A295.1,295.1 0 0 1 1058.1,448.6M1061.4,452.3A291.5,291.5 0 0 1 1061.6,449.7M1073.4,454.1A279.5,279.5 0 0 1 1073.5,451.7M1054.5,445.9A298.8,298.8 0 0 1 1054.6,444.7M1061.4,447.6A291.8,291.8 0 0 1 1061.5,445.8M1051.5,443.2A302,302 0 0 1 1051.6,442M1066.6,447A286.7,286.7 0 0 1 1066.8,443.8M1050.6,440.7A303.1,303.1 0 0 1 1050.7,439.5M1052.4,437.2A301.6,301.6 0 0 1 1052.6,435.9M1052.3,438.4A301.6,301.6 0 0 1 1052.5,436.5M1048.5,434.3A305.8,305.8 0 0 1 1048.6,433M1053.2,437.5A300.8,300.8 0 0 1 1053.6,434.2M1057.5,440.7A296.2,296.2 0 0 1 1058,436.3M1058.1,432.9A296.4,296.4 0 0 1 1058.3,431.7M1073.5,440A280.3,280.3 0 0 1 1074.1,434.1M1075.5,446.1A277.8,277.8 0 0 1 1076.3,437.3M1083.6,453.4A269.4,269.4 0 0 1 1084.3,442.5M1069.5,431.8A285.2,285.2 0 0 1 1069.7,430.7M1068.6,429.4A286.5,286.5 0 0 1 1068.7,428.2M1070.9,429.1A284.2,284.2 0 0 1 1071.1,427.4M1082,432.8A272.7,272.7 0 0 1 1082.4,429.8M1087.2,448.1A266.1,266.1 0 0 1 1088.7,432.1M1081.2,426.5A274.4,274.4 0 0 1 1081.4,425.4M1084.9,428.2A270.5,270.5 0 0 1 1085.1,426.5M1063.9,421.6A292.2,292.2 0 0 1 1064.1,420.4M1063.8,417.9A292.8,292.8 0 0 1 1064,416.8M1069.7,420.1A286.7,286.7 0 0 1 1070,418.4M1075,422.7A281.1,281.1 0 0 1 1075.4,420.2M1076.8,416.6A280.3,280.3 0 0 1 1077,415.5M1077.9,418A279,279 0 0 1 1078.2,416.3M1085,423A271.1,271.1 0 0 1 1085.8,418.5M1100.6,429.6A254.6,254.6 0 0 1 1101.6,423.6M1082.4,415.4A275.1,275.1 0 0 1 1082.6,414.3M1086.1,415.5A271.4,271.4 0 0 1 1086.4,413.9M1089.7,415.4A267.9,267.9 0 0 1 1090,413.5M1112.1,428.4A243.5,243.5 0 0 1 1113.8,419.2M1140.2,445.4A213.4,213.4 0 0 1 1142.5,429.1M1110.4,416.6A247.3,247.3 0 0 1 1110.6,415.6M1107.6,413.9A250.6,250.6 0 0 1 1107.8,412.9M1090.9,408.1A268.2,268.2 0 0 1 1091.1,407M1082.3,403.9A277.5,277.5 0 0 1 1082.5,402.8M1087,404.4A272.8,272.8 0 0 1 1087.4,402.8M1088.7,403.9A271.2,271.2 0 0 1 1089.2,402.1M1081.8,397.9A279.4,279.4 0 0 1 1082,396.8M1079.6,395A282.2,282.2 0 0 1 1079.9,393.9M1082.2,397.4A279.1,279.1 0 0 1 1082.8,395.2M1078.7,392.3A283.8,283.8 0 0 1 1079,391.2M1085.3,397.1A276.2,276.2 0 0 1 1086.2,393.8M1086.8,400.3A273.9,273.9 0 0 1 1087.9,396M1085,391.7A277.9,277.9 0 0 1 1085.3,390.6M1090.3,398.9A270.8,270.8 0 0 1 1091.9,393.1M1093.5,396.7A268.3,268.3 0 0 1 1094.8,392.2M1093.8,404.2A266.2,266.2 0 0 1 1096.2,395M1078.8,386.4A285.3,285.3 0 0 1 1079.1,385.2M1075.4,381.7A289.9,289.9 0 0 1 1075.8,380.5M1077.2,383.4A287.7,287.7 0 0 1 1077.7,381.8M1084.2,387.3A279.9,279.9 0 0 1 1084.9,384.9M1083.6,381.8A282,282 0 0 1 1084,380.7M1090.1,387.8A274.1,274.1 0 0 1 1091.4,383.6M1097.9,400.3A263.1,263.1 0 0 1 1101.2,388.9M1051.1,366.1A317.8,317.8 0 0 1 1051.5,364.9M1047.6,362.2A322.4,322.4 0 0 1 1048,360.9M1052,365.7A317.1,317.1 0 0 1 1052.8,363.3M1053.5,368.3A314.8,314.8 0 0 1 1054.5,365.2M1064.5,373.2A302.9,302.9 0 0 1 1065.4,370.5M1104,395.9A258.4,258.4 0 0 1 1107.2,385.8M1103.4,410.4A255.5,255.5 0 0 1 1108.4,391.7M1136.2,419.6A221.4,221.4 0 0 1 1138.6,409.7M1140.3,422.3A216.9,216.9 0 0 1 1141.8,415.7M1148.6,438.2A206,206 0 0 1 1151.6,421.4M1154.8,469.4A197.9,197.9 0 0 1 1157.9,431.2M1062.5,364.6A307.5,307.5 0 0 1 1062.9,363.4M1109.2,380.5A258.2,258.2 0 0 1 1109.8,379M1159.8,450.6A193.5,193.5 0 0 1 1170.4,401.5M1171.5,524.1A190,190 0 0 1 1166.8,426.4M1177.6,526.1A184.8,184.8 0 0 1 1168,475.3M1188.4,525.2A174.3,174.3 0 0 1 1181.3,499.1M1357.7,404.8A62,62 0 0 1 1386,414.4M1432.2,429A88,88 0 0 1 1440.1,456.8M1424.7,525.3A93,93 0 0 1 1406.5,542.4M1431.5,444.2A82,82 0 0 1 1408.7,526.4M1372.5,568.7A104,104 0 0 1 1323.8,566.5M1252.3,572.7A146,146 0 0 1 1211.7,504.9M1347.4,584.5A118,118 0 0 1 1251.3,527.2M1395,478.4A44,44 0 0 1 1330.1,504.4M1359.6,445.8A22,22 0 0 1 1360.8,487" fill="none" stroke="#333" stroke-width="0.5"/>
<path d="M1349.3,464.7l-0.6,-0.4M1349.9,465l-0.6,-0.3M1344.3,461.4l-0.3,-0.2M1344.3,461.4l-2.1,-1.4M1348.4,464l-4.1,-2.6M1339.7,458.2l-7.6,-4.9M1343.5,460.6l-3.7,-2.4M1346.1,462.4l-2.7,-1.7M1332,452.9l-4.2,-2.9M1346.2,462.3l-14.1,-9.5M1348.5,463.9l-2.4,-1.6M1349.4,464.5l-0.9,-0.6M1334,453.9l-5.9,-4.1M1334.1,453.7l-14.1,-9.9M1346.9,462.6l-12.8,-8.8M1346.9,462.6l-4.3,-3.1M1349.5,464.4l-2.6,-1.8M1349.9,464.8l-0.5,-0.3M1335.7,454.3l-12.5,-9.1M1317.3,440.4l-1.9,-1.4M1324.1,445.4l-6.7,-5.1M1332.6,451.6l-8.4,-6.3M1294.5,420.9l-3.3,-2.6M1297.7,423.2l-3.1,-2.5M1299.1,424.7l-1.6,-1.3M1307.9,431.9l-9,-7M1328.3,447.9l-20.5,-15.8M1328.7,447.4l-7.1,-5.8M1330.2,448.9l-1.7,-1.3M1323.1,442.2l-8.6,-7.1M1330.5,448.5l-7.5,-6.2M1332.5,450.4l-2.2,-1.7M1296.9,419l-4.8,-4.1M1301.8,423.4l-5.1,-4.2M1313.6,433.8l-12,-10.2M1333,449.8l-19.2,-16.3M1333.3,450.6l-0.6,-0.5M1333.2,451.3l-0.3,-0.2M1320.4,438.4l-3.8,-3.4M1334,450.2l-13.5,-11.9M1336.6,453.2l-3,-2.5M1340.1,456.8l-4,-3M1340.8,456l-16.8,-15M1341.1,457l-0.7,-0.6M1345.6,461.2l-4.9,-3.8M1338.4,453.7l-23.3,-21.3M1322,438.2l-13.1,-12.1M1322.2,437.9l-17.2,-16.2M1338.6,453.5l-16.5,-15.4M1343.6,458.3l-5.1,-4.7M1315.1,430.1l-11.7,-11.4M1324.7,439.6l-9.7,-9.4M1303.7,417.8l-2.8,-2.8M1325,439.2l-21.4,-21.2M1335.6,450l-10.8,-10.6M1341.8,456.2l-6.3,-6.1M1310.3,423.7l-11.1,-11.2M1320.9,434.2l-10.5,-10.6M1335.4,449l-14.4,-14.9M1342.2,455.8l-6.7,-6.9M1343.9,457.9l-1.9,-1.9M1346.3,460.5l-2.6,-2.4M1350.2,464.5l-4.3,-3.7M1314.9,426.8l-2,-2.2M1315.2,426.5l-10.8,-11.7M1349.3,463l-34.2,-36.4M1297.1,406.1l-7.1,-7.8M1302.9,412l-5.6,-6.1M1303.4,411.6l-5.2,-5.8M1317.3,427.4l-14.2,-15.6M1341.6,454.3l-24.1,-27M1332.3,443.4l-22.3,-25.6M1308.6,414.5l-8,-9.5M1313.8,420.9l-5.3,-6.2M1314.3,420.5l-10.6,-12.8M1322,430.2l-7.9,-9.5M1332.6,443.1l-10.8,-12.7M1337,448.5l-4.5,-5.3M1307.6,411.4l-11,-13.3M1322.7,429.7l-15,-18.4M1313.5,417l-9.8,-12.3M1323,429.4l-9.7,-12.2M1332.5,441.6l-9.6,-12M1334.5,443.8l-1.8,-2.4M1327.3,433.7l-6.3,-8.1M1334.9,443.5l-7.5,-9.9M1337.9,447.8l-3.2,-4.2M1342.2,453.8l-4.7,-5.7M1349.4,462.9l-7.5,-8.8M1350.4,464.2l-1.1,-1.2M1304.8,403l-2.2,-3M1319,421.6l-14,-18.8M1344.9,456.2l-25.7,-34.7M1316,415.2l-16.1,-22.5M1320.7,421.6l-4.6,-6.5M1321.1,421.3l-7.7,-11.2M1326.9,429.9l-6,-8.4M1335.2,442.2l-8.6,-12.1M1327.9,430.4l-12.7,-18.6M1316.5,412.3l-14.6,-21.9M1300.5,386.9l-5,-7.6M1308.5,398.6l-7.8,-11.9M1317.3,411.8l-8.6,-13.3M1327.2,427.8l-10.3,-15.8M1310.7,400.2l-4.4,-7M1311.3,399.8l-1.9,-3M1318.4,411.9l-7.4,-11.9M1319.1,411.4l-2.6,-4.1M1326.8,424.7l-8.1,-13.1M1310.6,395.5l-6.4,-10.8M1317.1,406.1l-6.3,-10.7M1327.5,424.3l-10.7,-18M1328.6,426.9l-1.5,-2.4M1328.2,427.8l-0.3,-0.4M1328.7,429.9l-1.1,-1.7M1332.6,436.6l-4.3,-6.4M1309.9,391.6l-3.4,-6M1310.5,391.2l-0.9,-1.6M1320,408.8l-9.8,-17.4M1322.9,413.3l-2.6,-4.6M1334.8,435.2l-12.3,-21.7M1336.9,441.1l-3.2,-5.2M1337.7,444.1l-1.6,-2.5M1332.5,429.3l-4.9,-9.2M1313.5,391l-2.5,-4.8M1314.7,393.7l-1.4,-2.5M1321.9,407l-6.9,-13.4M1322.5,406.7l-9.8,-19.7M1329.7,421.5l-7.5,-14.7M1332.5,427.9l-3.2,-6.2M1320.9,402l-1.1,-2M1330.2,420.7l-9.1,-18.8M1320.7,399.7l-3.3,-7M1330.8,420.4l-9.9,-20.8M1333.7,427.3l-3.2,-6.7M1333.7,428.7l-0.6,-1.1M1335.3,433.2l-2.2,-4.2M1329.5,416.5l-7.3,-15.8M1331.2,419.9l-1.6,-3.5M1337,432.3l-5.6,-12.5M1338,436.4l-1.8,-3.7M1337.6,437.6l-0.4,-0.8M1338.5,434.8l-3.4,-7.9M1330.7,415.9l-3.5,-8.2M1326.2,404l-1.5,-3.5M1326.7,403.8l-2.3,-5.5M1331.3,415.6l-4.9,-11.7M1339,434.6l-8,-18.8M1339.6,436.6l-0.8,-1.9M1341.1,442.2l-2.5,-5.1M1342.7,449.1l-3.4,-6M1345.6,455.7l-3.9,-6M1350.8,464l-5.5,-8M1305.1,343.5l-0.9,-2.3M1305.1,345.2l-0.5,-1.5M1306.3,343.2l-0.4,-1M1307.2,344.4l-0.5,-1.3M1310.8,357l-4.6,-12.2M1309.5,345.8l-0.6,-1.7M1312.2,354.5l-3.1,-8.6M1312.6,350.4l-0.1,-0.4M1313.7,350l-2.2,-6.3M1313.6,351.6l-0.5,-1.4M1314.9,353.5l-0.7,-2.1M1313.9,355.1l-0.3,-1.1M1315.4,355.4l-0.3,-0.8M1314.5,360.3l-1.4,-4.1M1317.1,361.4l-0.7,-1.8M1314.8,364.1l-0.6,-1.6M1316.2,344.5l-0.5,-1.8M1316.2,346l-0.4,-1.4M1317.4,347.8l-0.6,-2M1317.4,350.4l-0.7,-2.4M1320.4,362.2l-3.6,-11.6M1321.1,373.4l-3.5,-10.3M1319.4,348.3l-0.3,-0.9M1320.3,350l-0.5,-1.8M1322.5,356.5l-1.8,-6.6M1321.5,348.5l-1.3,-5.2M1323.9,356.1l-2,-7.7M1324.5,361.1l-1.3,-4.8M1326.4,371.8l-2.9,-10.4M1325,376.9l-1.3,-4.3M1322.7,347l-1.5,-6M1323.6,349.2l-0.5,-2.3M1325.5,355.2l-1.5,-6.1M1324.4,340.8l-0.1,-0.5M1325.6,343.4l-0.6,-2.7M1326.1,348.9l-1.2,-5.3M1327.6,341l-0.6,-3.4M1327.8,344l-0.6,-3M1329.3,348.2l-0.9,-4.3M1328.3,351.2l-0.6,-2.7M1327,352l-0.1,-0.5M1331.1,351.2l-0.9,-5.2M1329.3,352.8l-0.2,-1.2M1330.4,341.5l-0.3,-1.6M1331.1,339.6l-0.4,-2.3M1332.1,339.4l-0.3,-2.2M1331.9,341.2l-0.3,-1.7M1333,352.1l-1.9,-10.8M1331.4,354l-0.2,-1.5M1331.1,366.8l-2.6,-12.3M1334.6,348.3l-0.5,-3M1335,341.2l-0.3,-2.4M1334.9,343.1l-0.3,-1.9M1336.7,342.9l-0.2,-1.6M1336.5,348l-0.7,-5M1336.3,353.7l-0.8,-5.5M1338.9,352.1l-0.3,-2.8M1339.6,349.7l-1.1,-9.9M1340.9,348l-0.1,-0.6M1340.6,349.3l-0.1,-1.3M1342.9,348.5l-0.5,-6.2M1343.3,341.4l-0.1,-2M1344,346l-0.3,-4.6M1345.3,345.9l-0.1,-1M1344.8,348.4l-0.2,-2.4M1343.6,349l-0,-0.5M1342.2,349.4l-0.1,-0.3M1341,350.3l-0.1,-0.7M1347.1,345l-0.1,-2.2M1346.9,349.9l-0.2,-4.9M1344.1,351.6l-0.2,-1.6M1341.6,353.1l-0.1,-1.2M1340.4,365.3l-1.4,-11.9M1336,367.2l-0.3,-1.2M1347.5,330.2l-0.1,-3.1M1348.3,340.6l-0.4,-10.4M1349.2,332.1l-0,-1.2M1349.8,338.1l-0.2,-6M1351.4,336.4l0,-3.2M1351.1,338.1l-0.1,-1.7M1350.5,340.6l-0.1,-2.5M1349.5,345.3l-0.1,-4.7M1352.5,337.3l0,-3.7M1354.6,335.8l0.1,-1.1M1354.6,337.3l0,-1.5M1353.5,345.3l0,-8M1351.7,365.8l-0.2,-20.5M1344.1,369.4l-0.3,-3.2M1355.8,352.6l0.3,-12.2M1355.6,369.1l0.5,-16.5M1349.9,372.8l-0.1,-3.7M1337.6,375.6l-0.3,-1.6M1357.1,354.8l0.4,-11.7M1358.5,346.7l0.1,-1.3M1358.6,354.9l0.4,-8.1M1356.9,374.4l0.9,-19.5M1347.4,376.8l-0.2,-2.3M1352.8,379.1l-0,-2.4M1360.4,359.2l1,-13.9M1358.7,379.4l1.4,-20.2M1355.6,382.2l0.1,-3M1361.4,357.2l0.9,-10.4M1362.9,350.6l0.5,-5M1363.9,350.7l1.3,-13.5M1362.8,357.3l0.6,-6.6M1359.9,382.5l2.2,-25.2M1357.5,386.2l0.3,-3.9M1358.8,391.9l0.4,-5.6M1365.8,346.1l0.2,-1.9M1366.8,346.2l0.7,-6.2M1365.5,353.5l0.8,-7.3M1368.2,343l0.2,-1.8M1369.8,342.6l0.9,-6.3M1369.3,343.1l0.1,-0.5M1368.3,346.4l0.5,-3.4M1368.5,351.6l0.6,-5.1M1373.2,337.2l0.3,-1.8M1372.1,341.5l0.7,-4.4M1370.1,351.8l1.6,-10.4M1369,354l0.3,-2.3M1364.3,376.4l2.9,-22.7M1374.5,345l0.1,-0.6M1374.6,347l0.3,-1.9M1373.5,349.1l0.4,-2.3M1374,350.6l0.2,-1.4M1379.6,335.5l2.3,-11.1M1377.1,345.6l2.1,-10.2M1375.6,350.9l1.1,-5.4M1374.2,353.6l0.6,-2.8M1382.5,327.1l2.3,-10.7M1387.6,312.3l0.5,-2.1M1383.8,327.4l3.3,-15.2M1380.2,340.4l2.9,-13.2M1387.4,321.5l0.8,-3.5M1382.3,340.9l4.7,-19.5M1378.2,354.4l3.1,-13.7M1375.7,356.6l0.5,-2.6M1372.8,358.7l0.5,-2.6M1390.5,316.7l0.2,-0.8M1389.3,319.5l0.7,-2.9M1386.7,332.7l3.3,-13M1388.1,333.1l3.9,-14.7M1380.2,360.4l7.2,-27.5M1375.9,362.3l0.6,-2.8M1388,337.9l1.9,-7.2M1389,338.1l3.4,-11.9M1381.3,363.7l7.2,-25.7M1374.8,378.4l3.8,-15.4M1369.1,379.8l0.4,-2.6M1401,303.4l0.3,-1M1402.3,303.8l2.5,-8M1398.6,314l3.1,-10.4M1393.4,328.7l4.4,-15M1395.7,329.4l9.6,-30.4M1391.6,338.8l2.9,-9.7M1411.3,292.5l2.7,-8.1M1406.6,308l5.2,-15.4M1417,283l0.3,-0.8M1414.8,290.9l2.7,-7.7M1418.9,286.9l1,-2.6M1416.6,291.6l1.8,-4.9M1411.4,303.1l4.3,-11.9M1417.4,295.3l1.1,-3M1420.1,292.3l0.4,-0.9M1419.3,296l1.4,-3.5M1416,301.8l2.4,-6.1M1420.7,297.1l0.8,-1.9M1422.1,297.7l5.3,-12.9M1419.1,303l2.3,-5.6M1416.5,305l1.1,-2.6M1411.8,309.8l2.2,-5.8M1405.6,319l3.6,-10.1M1400.8,326.7l2.9,-8.3M1396.7,335l2.9,-8.7M1394.3,339.6l1.6,-4.9M1379.3,382.4l13.6,-43.2M1372.9,386.2l1.3,-5.3M1378.3,389.4l0.5,-1.4M1416,317.7l10.9,-25.8M1434.2,279.2l1.9,-4.3M1435.7,279.8l2,-4.4M1417.8,318.5l17.1,-39M1404.2,347.4l12.7,-29.3M1436,283.2l5.1,-11.1M1428.6,300.8l8,-17.3M1432.7,297.9l2.6,-5.6M1430.3,301.6l1.9,-4M1425.9,308.8l3.6,-7.6M1434.8,297l2.5,-5.2M1436.2,297.6l3,-6.1M1429.1,310.4l6.4,-13.1M1425.7,313.4l1.8,-3.8M1437,301.1l4.4,-8.7M1434.5,304.8l2,-3.9M1429.9,315.5l5.3,-10.3M1423.3,323.5l4.5,-9M1441.6,298.8l1.8,-3.2M1439.1,302.4l2,-3.8M1441,303.3l4.4,-8.3M1427.8,325.8l12.2,-23M1417.1,341.1l8.5,-16.5M1420.8,343.1l16.9,-30.7M1413.6,352l5.3,-9.9M1387.9,393.3l21.1,-43.7M1381,396.5l2.2,-5.3M1439.8,313.1l8.9,-15.8M1420.8,345.6l18.5,-32.8M1400.1,383.3l21.3,-37.4M1446,311l2.7,-4.4M1442.9,315.2l2.7,-4.5M1424.7,344.7l17.7,-29.8M1438.8,327l2.2,-3.5M1434.1,335.5l5.1,-8.2M1428.5,343.2l5,-8.1M1438.6,332.2l5.5,-8.5M1445.2,324.5l5.3,-8.2M1449.4,320.6l5.5,-8.3M1453.9,317.8l1.6,-2.3M1450.7,321.5l2.8,-4M1447,325.7l3.1,-4.6M1440.5,333.5l5.6,-8.4M1437.9,335.4l1.7,-2.5M1430.8,344.6l6.3,-9.8M1427.9,346.6l1.8,-2.7M1413.6,366.6l12.7,-21M1453.8,320.5l8.9,-12.7M1470,300.1l4,-5.7M1482.3,287.4l0.8,-1.2M1479.1,290.6l2.6,-3.6M1472.2,301.8l7.7,-10.6M1456,322.1l15.1,-21.2M1432.5,353.2l22.4,-31.9M1472.3,305.4l10.1,-13.7M1479.7,298.3l1.9,-2.5M1481,299.3l3.1,-3.9M1474.2,306.8l6.2,-8M1463.3,319.3l10,-13.2M1480.3,304.5l2.5,-3.3M1472,316l8.7,-11.1M1468.2,319.4l3.1,-4M1481,307.6l2.6,-3.2M1487.4,303.7l0.4,-0.4M1485.5,305.1l1.4,-1.8M1483.1,309.4l3.1,-3.7M1477.9,313.5l4.2,-5M1480.6,315.8l4.7,-5.6M1474.1,320.9l5.2,-6.3M1473.5,323.7l1.7,-1.9M1469.8,322.8l1.1,-1.3M1484.1,316.6l5.4,-6.1M1474.5,326.7l9.2,-10.5M1471.4,325.7l0.8,-1M1464.4,326.3l3,-3.9M1441.9,360.4l26.2,-31.1M1431.4,364.3l5.9,-7.6M1438.9,370.6l24.6,-27.4M1427.5,376.6l7.7,-9.2M1416.2,377.7l4.5,-6.3M1407.9,381.1l4,-6.3M1468,340.3l9.5,-10.4M1482.3,327l6.9,-7.4M1477.9,332.5l4.8,-5.1M1497.6,314.3l2.6,-2.8M1493.2,319.8l4.9,-5.1M1494.6,321.1l17.5,-18M1480.1,334.6l13.8,-14.2M1470.4,342.6l8.6,-9M1465.7,345.2l3.5,-3.7M1494.3,324.8l8.7,-8.7M1483.5,334.8l10.3,-10.4M1511.2,310.4l1.4,-1.3M1512.5,311.7l4.8,-4.6M1508,314.9l3.9,-3.8M1509.8,316.8l9.3,-8.8M1500.8,323.7l8.1,-7.9M1502.8,325.8l3.8,-3.5M1487.2,338.6l14.6,-13.9M1478.6,343.3l6.7,-6.6M1482.2,347.1l10,-9.2M1472.9,352.3l7.5,-7.1M1430.7,387.7l38.7,-39M1498.5,335.4l10.2,-9.2M1509.8,329.7l1.1,-1M1508.2,330.3l1.2,-1M1507.5,332.1l1.3,-1.1M1500,337.1l6.8,-5.9M1487,347.1l12.2,-10.9M1497.2,343.8l4.7,-4M1498.1,345l8.3,-6.9M1490.1,350.7l7.5,-6.3M1485.5,351.6l3.1,-2.7M1479.7,353.7l4.3,-3.8M1483.9,358.6l23.7,-19.4M1437,394.5l44.9,-38.3M1427.2,397.3l6.7,-6.2M1414.2,393.1l3.9,-4.5M1402.1,395.5l5.3,-7.6M1495.8,350.9l9.5,-7.7M1465.8,375.7l30.3,-24.4M1420.3,412.6l45.8,-36.5M1404.3,411.4l7.5,-8M1390.3,407.6l3,-4.7M1519.6,337.2l3.5,-2.8M1485.8,362.7l33.4,-26.1M1445.2,395.1l41,-31.8M1512.8,346.6l8.7,-6.6M1488.7,364l23.7,-17.9M1455.8,389.5l33.3,-24.9M1475.5,376.8l24.6,-17.9M1529.2,339.8l1.4,-1.1M1525.3,343.4l4.3,-3.1M1531.9,341.1l1.2,-0.8M1526.8,345.5l5.5,-3.8M1505.4,359l20.6,-14.6M1526.4,350.2l4.8,-3.2M1525.1,350.3l0.9,-0.7M1520.2,352.7l4.5,-3M1515.6,357.3l5.3,-3.5M1517,359.4l9.1,-6M1508.5,363.5l7.8,-5.2M1486.8,375l20.2,-13.8M1503.4,370l7.3,-4.7M1520.9,360.7l10.3,-6.5M1525.4,359.8l2.6,-1.6M1526.3,361.2l4.7,-2.8M1522.2,362.7l3.7,-2.2M1513.3,366.8l8.3,-5.1M1536.3,358.8l2,-1.2M1537.3,360.6l4.7,-2.7M1533.7,361.5l3.1,-1.8M1548.1,356.5l7.4,-4.2M1535.4,364.4l13,-7.3M1532.2,364.3l2.3,-1.3M1543,362.4l6.8,-3.7M1534.2,367.9l9.1,-4.9M1528.9,368.5l4.3,-2.4M1543,366.4l4.4,-2.3M1530.9,372.1l11.8,-6.3M1524.4,373.3l5.5,-3M1519.7,377.9l5.6,-3M1507.9,377.3l8.7,-5M1491.5,382.3l14.2,-8.7M1486.2,380.5l3,-1.9M1544.3,369.7l9.2,-4.7M1528.8,376.9l15.2,-7.8M1559.2,364.3l4.8,-2.4M1560,365.9l5,-2.4M1551.7,369l7.9,-3.9M1552.9,371.4l4.1,-1.9M1537.9,377.1l14.4,-6.9M1563.7,368.4l3,-1.4M1564.5,370.1l1.1,-0.5M1559.8,371.2l4.3,-2M1560.9,373.8l7,-3.2M1540,381.7l20.4,-9.2M1531.7,382.8l7.3,-3.4M1495.4,396.8l34.9,-17M1485.2,391.9l5.9,-3.4M1474.1,388.4l6.4,-4.2M1485,408.9l41.6,-18.1M1475.1,401l4.9,-2.6M1547,383.8l10.8,-4.7M1579.3,374.3l4,-1.6M1576,376.4l3.6,-1.4M1563.3,380.4l12.3,-5M1580.6,377l1.9,-0.7M1583,379.3l0.7,-0.3M1581.4,379.1l1.3,-0.5M1579.3,378.7l1.7,-0.6M1575.4,382l4.5,-1.7M1576.5,384.9l7.2,-2.6M1570.2,385.6l5.7,-2.2M1566.4,388.5l4.4,-1.6M1562.9,385.2l2,-0.7M1554,385.5l7.7,-3.2M1565.1,392.9l7.9,-2.7M1557.6,394.9l7.3,-2.6M1550.4,392.2l5.4,-2.1M1538.5,392.1l10.2,-4.1M1564.8,395l11,-3.7M1573.2,397.1l0.7,-0.2M1571.7,396.8l1.3,-0.4M1569.3,396.8l2.1,-0.7M1565.5,397.1l3.5,-1.2M1542.7,403.5l22.5,-7.5M1522,404.6l18.6,-6.9M1525.1,413.8l21,-6.4M1484.4,422.4l39.2,-13.2M1470.8,415.5l9.4,-4M1453.8,408l10.2,-5.9M1444.2,405.1l5.5,-3.7M1443,423.9l9.4,-4.4M1548.4,411l0.9,-0.2M1545,411.3l3.3,-0.9M1551.1,412l1.5,-0.4M1545.8,414.1l5.5,-1.5M1542.1,413.6l3.3,-0.9M1560.2,413.1l1.9,-0.5M1557,414.6l3.4,-0.9M1543.1,417.2l13.7,-3.6M1539.4,416.3l3.2,-0.9M1547.3,419.8l4.9,-1.2M1551.7,420.4l1.3,-0.3M1559.4,422l0.5,-0.1M1555.2,421.9l4,-0.9M1552.5,423.7l3,-0.6M1548.1,423l4,-0.9M1544.1,422.2l3.6,-0.8M1540.7,421.6l3.1,-0.7M1533.5,420.6l6.6,-1.7M1546.1,427.5l11.9,-2.4M1557.5,427l0.8,-0.2M1556.6,427.8l1,-0.2M1556.9,429.6l9,-1.6M1546.7,430.6l10,-1.9M1535.9,431.1l10.5,-2.1M1528.3,427.3l6.5,-1.5M1551.1,432.4l8.2,-1.5M1530.1,436.5l21.1,-3.5M1496.7,438.3l32.6,-6.4M1554.2,436l5.8,-0.8M1550.4,437.2l3.9,-0.5M1549.8,437.6l0.6,-0.1M1546,436.7l3.6,-0.5M1552.9,439.6l7.8,-1.1M1546.6,441l6.4,-0.8M1543.3,439.3l3,-0.4M1542,441.2l1.5,-0.2M1542.3,444.1l30.6,-3.6M1537.6,443.3l4.6,-0.6M1556.4,444.1l26.6,-2.9M1570.1,444.4l1.7,-0.1M1570.3,446.2l11.5,-1.1M1562.9,446l7.3,-0.7M1556.8,447.7l6.2,-0.6M1538.1,447.8l18.5,-1.9M1498.5,450l39.3,-4.5M1488.6,445.5l9.1,-1.4M1557.7,454.1l4.2,-0.3M1552.7,453.8l4.9,-0.3M1551.5,452.7l1.1,-0.1M1551.7,456.1l18.1,-1M1544.2,454.8l7.4,-0.4M1544.3,458l18.1,-0.8M1543,456.5l1.2,-0.1M1551.3,459.4l15.7,-0.6M1569.4,461.3l3.2,-0M1557.5,461l11.9,-0.3M1561.6,463.2l4.9,-0M1557.6,463.9l4,-0M1551.4,462.6l6.2,-0.1M1543.2,461.2l8.2,-0.2M1536,459.1l7.1,-0.2M1531.2,455.5l4.6,-0.3M1531.5,465.9l23.6,-0.1M1490.1,462.1l41.3,-1.4M1483,454.4l6.6,-0.6M1483.5,467.2l47.5,0.2M1474.3,461.2l9.1,-0.4M1564.1,469.2l8.3,0.1M1529.5,469.3l34.6,0.6M1564.4,471.8l18.2,0.5M1529.4,471.5l35,1M1474.4,469.2l55.1,1.2M1471.7,465.2l2.7,0M1516.4,472.6l44.2,1.7M1471.7,471.4l44.7,1.7M1468.9,468.3l2.8,-0M1536.1,475.6l15.1,0.8M1549.2,477.9l15.3,0.8M1562.8,480.4l14.6,0.9M1566.9,483.3l3.7,0.2M1565.3,483.8l1.6,0.1M1562.6,482.6l2.8,0.2M1549,480.5l13.7,1M1535.9,478.3l13.2,0.9M1525.7,476.4l10.3,0.6M1525.2,482.1l11.3,1.1M1479,475.9l46.5,3.4M1555,487.3l7.2,0.8M1554.8,489l10.4,1.1M1536.9,486.2l18,1.9M1552,490.3l16,1.9M1564,494.4l0.7,0M1557.4,492.8l6.7,0.9M1551.7,493l5.6,0.8M1540.6,490.3l11.3,1.4M1565.7,499l2.7,0.4M1562.2,497.8l3.6,0.5M1563.3,500.4l1.5,0.2M1565.5,503.4l3.9,0.7M1563,502.3l2.7,0.5M1561.7,501.1l1.5,0.3M1550.8,497.7l11.1,1.8M1547.5,495.7l3.6,0.5M1556.8,503.6l13,2.4M1546.4,502.3l10.3,2M1539.5,497.8l7.5,1.2M1536,493.4l4.1,0.6M1530,489l6.5,0.8M1481.9,481l48.4,5.4M1570.9,509.9l12.2,2.4M1584.8,517.3l0.5,0.1M1583.4,515.9l1.7,0.4M1576.2,515.7l6.9,1.5M1570.3,512.8l6.2,1.3M1534.7,504l35.9,7.3M1533.7,508.7l20.1,4.6M1522.9,503.8l11.3,2.5M1480,492.8l43.3,8.8M1477.8,486.4l3.3,0.5M1468.1,479.9l10.4,1.2M1455.6,473.3l13.1,0.8M1448,456l7.1,-0.8M1581.4,523.7l5.5,1.4M1568.9,519.9l12.7,3.1M1514.6,505.9l54.5,13.2M1514,508.3l19,4.9M1470.1,496l44.2,11.1M1575.8,529.1l11.2,3.1M1580,533l0.6,0.2M1578.4,533.4l1.3,0.4M1579.9,536.3l2.3,0.7M1577.5,536.3l2.2,0.7M1574.5,533.8l3.4,1.1M1573.8,531.1l1.3,0.4M1576,538.1l2.2,0.7M1571.8,537.5l3.9,1.3M1569.1,533.1l3.7,1.2M1574.3,540.5l7.2,2.4M1567.3,538.9l6.8,2.3M1564.9,535l3.3,1M1561.8,528.9l4.6,1.3M1559.4,525.2l3.2,0.9M1571.9,542.7l13,4.5M1571.3,544.5l7,2.5M1555.3,537.9l16.3,5.7M1553.8,530.4l3.6,1.2M1600.7,558.4l2.4,0.9M1596.5,557.7l3.9,1.5M1595.6,559.9l2.9,1.1M1589.5,556.3l6.6,2.5M1575.9,549.4l14.2,5.3M1574.2,553.8l14.4,5.6M1549.8,542l25.3,9.6M1495.2,516.4l56.7,19.8M1589.7,563.2l5.3,2.2M1574,556l16,6.5M1592.6,567.9l11.7,4.9M1583.6,563.2l9.3,3.9M1602.6,574.5l2.8,1.2M1593.2,571.3l9.1,4M1592.2,573.5l6.9,3.1M1581.8,567.6l10.9,4.8M1572,560.8l10.7,4.6M1567.6,556.2l5.4,2.2M1581.8,571.1l13.3,6.1M1595.2,582l3.3,1.6M1592.2,579.7l3.3,1.6M1580.8,573.3l11.8,5.5M1564.1,564.3l17.2,7.9M1500.8,531.7l65.1,28.5M1558.3,566.5l19.3,9.4M1591.1,584.9l8.8,4.3M1595.3,589.4l1.5,0.8M1589.8,587.5l5.1,2.6M1587,584.5l3.5,1.7M1585.2,587.9l9.6,5M1565.2,575.5l20.9,10.7M1589.1,592.4l1.8,0.9M1588,594.3l5.8,3.1M1578.9,588.1l9.6,5.2M1562.5,580.7l15.7,8.6M1554.9,573.4l8.9,4.7M1547.6,565.4l9,4.6M1529,560.2l16.7,8.9M1579.9,594.7l18.7,10.6M1578.9,596.6l6.5,3.7M1533.4,569.5l46,26.2M1588.5,604.7l6.6,3.8M1564.6,591.6l23.5,13.8M1574.5,601.4l2.7,1.6M1563.3,593.7l11.6,7M1532.8,574.1l31.2,18.5M1539.5,583.2l2.7,1.8M1530.9,577.2l8.9,5.5M1530.3,574.7l1.6,0.9M1524.7,567.9l7.2,4.2M1493.9,545.6l33,18.5M1493.5,536.7l4,2M1506.9,564.7l21.3,13.5M1526.1,579.6l0.4,0.3M1533.3,587.7l12.1,8.2M1525,581.4l8.6,5.8M1524.1,579.6l1.4,0.9M1520.9,579.2l2.4,1.6M1512.3,574.7l8,5.4M1530.3,591l11,7.8M1548.9,606.5l1.5,1.1M1545.6,605l2.9,2.1M1549.5,610.6l0.7,0.5M1543.9,607.4l5.2,3.8M1528.1,594.1l16.6,12.1M1516.6,583.6l12.6,9M1510.4,577.5l7,4.9M1503.1,570.4l8.3,5.7M1501.2,565l3.8,2.5M1534,605l0.6,0.5M1533.5,603.7l0.9,0.7M1527.9,598.5l6.1,4.6M1515.1,590.5l12,9.2M1493.8,575.4l20.6,15.9M1480.6,558.1l17,12.2M1482.1,544.4l5.4,3.3M1483.7,528.1l5.7,2.7M1485.7,515l3,1.1M1530.9,608.4l2.5,2M1529.7,609.9l5.6,4.5M1523.7,603.9l6.6,5.3M1513.1,596.7l9.9,8M1521.1,607.5l6.7,5.7M1511.5,598.7l10,8.3M1495.2,583.6l17.1,14.1M1469.2,560.3l27.2,21.8M1527.8,618.1l1.2,1M1526.6,616.1l1.7,1.4M1517,609.1l8.9,7.8M1512.4,603.6l5.4,4.6M1501.4,596l10,8.7M1525.3,620.9l10.1,9M1530.3,629.3l0.5,0.4M1528.5,631.3l1.1,1M1528.4,629.3l1,1M1523.5,623l5.8,5.3M1508.1,607.2l16.3,14.7M1517.6,623.9l1.3,1.2M1518.2,628.4l3.7,3.6M1516.2,625.4l2.5,2.5M1513.5,621.5l3.4,3.2M1518.6,631.5l1.6,1.6M1513.7,627.5l4.4,4.5M1519.1,636l2.7,2.8M1521.1,640.9l3.8,3.9M1517.2,637.9l3.4,3.5M1511.3,629.9l6.8,7.1M1509.4,625.6l3.1,3.1M1507.9,620l3.6,3.5M1502.4,625.4l14.2,15.1M1499.1,616.5l6.1,6.2M1494.7,603.3l8.9,8.6M1475.6,579.1l22.5,20.6M1516.5,644.6l5.4,5.9M1501.1,626.9l15.9,17.2M1465.3,589.4l35,38.2M1464.6,578.4l6,6M1458.4,584.4l31.4,34.9M1455.6,575.1l5.9,6.3M1456.8,562.6l5.9,5.3M1466.3,535.8l7.3,4.4M1452.9,550.3l1.9,1.6M1439.4,551.1l6.8,6.7M1450.3,521.1l8.1,4.5M1492.9,628.1l19.4,22.3M1425.7,551.2l66.7,77.3M1431.7,531l7.6,6.2M1511.3,653.7l7.5,8.9M1486.6,625.6l24.1,28.6M1509.2,655.9l17.5,21.2M1484.6,627.2l24,29.1M1431.3,561.2l54.3,65.2M1519.8,673.9l3.6,4.5M1489.9,637.8l29.3,36.6M1523.1,685.1l2.3,3M1520.2,680l3.6,4.6M1507.9,666.3l11.3,14.5M1517.7,685.4l10.5,14M1505.6,668.1l12.7,16.8M1486.3,640.6l20.5,26.6M1473.2,620.3l14.9,18.9M1529.7,707.4l3.2,4.4M1527.3,702.6l3.1,4.3M1485.8,648.4l40.4,55M1512.9,690.3l14.3,20M1511.1,691.6l3.8,5.4M1501.4,676.1l10.6,14.8M1502.1,682.5l2,3M1498.2,678.3l3.2,4.7M1495.6,671.1l4.2,6.1M1487.6,662.7l6.5,9.5M1494.7,679.2l9.4,14.1M1493,680.3l5,7.6M1484.1,665.1l9.7,14.6M1478.7,653.4l7.2,10.5M1473.7,638.7l8.6,12.2M1466.7,643.5l19.6,30.3M1461.8,628.6l8.4,12.5M1434.8,579.5l32.8,45.1M1441.6,607l22.7,35.8M1491.4,695.8l2,3.2M1489.8,691.7l2.3,3.7M1486,683.7l4.6,7.5M1469.2,654.7l17.7,28.5M1473.7,670.4l6.3,10.5M1484.6,695l2.2,3.7M1478.4,685.7l5.5,9.7M1471.6,671.7l7.8,13.4M1464.6,657.4l8,13.6M1442.7,615.9l24.2,40.1M1482.1,697l6.7,12M1478.4,692.1l3,5.3M1485.4,712.2l0.6,1.1M1484.1,708.1l2,3.7M1481.3,705.6l1.7,3.1M1480.8,710.9l1.1,2M1478.8,711.9l2.1,4M1477.8,707.4l2,4M1473.4,694.8l6.2,11.7M1474.2,690.3l1.7,3.2M1477.6,717l1.6,3.2M1470.3,704.2l6.5,13.2M1466.7,694.2l4.7,9.5M1466.4,684.5l4,7.8M1464.1,696.9l5.8,12M1472.2,718.9l3.7,7.9M1472.7,725.4l2.6,5.7M1478.2,743.1l3,6.6M1469.8,726.8l7.6,16.7M1468.7,720.5l2.6,5.6M1460.6,698.6l9.9,21.1M1458,688.6l4.4,9.1M1430.3,622.6l31.9,64M1432.7,612.3l3.9,7.1M1431.7,600.4l5.5,9.3M1465.4,723.3l4.2,9.4M1463.4,724.2l0.4,1.1M1462.5,719.5l1.9,4.3M1459.4,720.8l3.2,7.4M1453.8,703.4l7.2,16.8M1458.2,723.7l1.9,4.7M1454,715.6l3.4,8.4M1457.7,734.8l1.2,3.1M1452.6,724.1l4.3,11M1451.1,716.8l2.7,6.8M1448.3,705.7l4.2,10.5M1445.6,691.3l5.5,13.2M1438.6,694.1l10.3,27.5M1409.8,611.1l32.3,81.6M1414,592l7,14.2M1416.1,572l8.6,14.2M1415.2,554.6l8.7,12.3M1398.9,592.4l23.9,64.8M1437,704.6l0.9,2.5M1436.1,699.7l1.6,4.6M1434.8,707.6l0.5,1.5M1433.2,700.7l2.3,6.6M1429.2,684.6l5.5,15.6M1432.6,707.7l0.6,1.7M1428,696l3.9,12M1424,686.4l3.1,9.8M1424.3,678.8l2.3,6.7M1424,697.3l2.4,7.7M1419.5,680.4l5.2,16.7M1419.4,671.9l2.5,7.7M1419.7,696.6l0.8,2.6M1418,694.3l0.8,2.6M1416.3,684l2.9,10M1414.2,673.5l3.1,10.2M1396,605.8l20.8,66.9M1412.7,693l1.5,5.9M1410.6,682.4l2.8,10.4M1407.4,674.5l2.2,8.1M1405.7,663.3l2.9,10.8M1403.3,667.6l3.7,14.6M1406,685.8l1,3.9M1406.3,694.8l0.4,1.7M1403.6,686.3l2,8.6M1403.1,679l1.7,7M1400,679.7l1.3,6M1399.1,668.6l2.4,10.8M1400.4,664.6l0.8,3.5M1388.7,607.8l14.3,56.2M1389.1,595.5l3.2,11.3M1390.2,582.1l3.9,11.9M1398.5,685.7l0.2,0.9M1399.1,697.9l2,10.1M1396,686.2l2.4,11.8M1396.7,683.4l0.6,2.5M1393.5,684l3.7,19.1M1394.2,679l0.9,4.7M1392.3,659.4l3.9,19.1M1395.6,705.7l1.5,8.2M1390.3,679.8l4.6,26M1386.2,660.6l3.3,19.3M1378.9,605.5l10.3,54.5M1391.4,711l0.6,3.1M1389.5,711.3l0.1,1.1M1389.9,707.6l0.6,3.5M1390.7,704.9l0.4,2.5M1388.3,701.4l0.6,3.7M1385.1,701.9l0.8,5.6M1382.3,670.9l4.4,30.8M1383.6,704.9l1.2,9.5M1380.8,688.7l2,16.3M1380.3,710.9l0.3,2.5M1378.7,714.6l0.4,4.4M1377.6,711.2l0.3,3.5M1378.2,704.4l0.7,6.7M1373.8,706.2l0.1,0.5M1374.5,704.8l0.1,1.3M1375.9,699.9l0.4,4.7M1373.6,697.1l0.3,3M1376.6,694.4l0.2,2.4M1368.5,714.8l0.1,1.9M1369.1,712.9l0.2,1.8M1369.4,703.6l0.6,9.3M1369.6,695l0.7,8.5M1372.6,689.6l0.5,5.1M1375.9,681.4l0.8,7.8M1364.7,682.3l1.1,20.5M1369.5,672.4l0.8,9.5M1369,610.9l6.9,60.8M1363,684.6l0.6,12.8M1361.1,706.4l0.2,4.4M1361.4,693.5l0.4,12.9M1358,698.5l0,1.3M1358.6,693.6l0.1,4.9M1359.7,684.7l0.3,8.9M1360.2,657l1.1,27.7M1356.8,611.7l1.3,45.3M1362.6,607.6l0.3,3.8M1368.9,592.3l1.9,14.5M1361.2,587.7l0.4,5.3M1374.1,576.5l1.8,9.3M1353.5,595.3l0.5,64.8M1351.4,702.5l-0.1,4.1M1350.7,699.1l-0.1,3.4M1350,686.5l-0.2,12.6M1349.3,674.5l-0.1,12M1351.5,615.7l-0.4,58.8M1345.7,671.9l-1.1,30.7M1342.9,699l-0.6,13.8M1343,681.1l-0.8,17.9M1339.9,701.4l-0.4,6.7M1336.3,712.5l-0.3,3.5M1335.9,706.9l-0.4,5.6M1337.4,701.3l-0.4,5.6M1339.5,686.9l-0.9,14.5M1334.1,701.5l-1.1,13.6M1334.6,686.6l-1.2,14.8M1337.5,680.8l-0.4,6M1340.8,671.7l-0.6,9.3M1343.4,667.4l-0.2,4.4M1332.4,688.4l-0.7,8M1333.1,674.2l-1.4,14.2M1327.8,690.7l-0,0.5M1327.1,689.8l-0.1,0.8M1323,705.6l-0.9,6.8M1324.3,689.4l-2.1,16.1M1326.3,684.4l-0.6,5.2M1329.6,673.8l-1.2,10.8M1332.1,666.6l-0.8,7.4M1339.3,646.6l-1.5,20.5M1317.4,717.2l-0.2,1.2M1317.5,711l-0.9,6.1M1315.3,710.7l-0.4,2.4M1317.9,700.3l-1.5,10.5M1320.8,691.5l-1.2,9M1325.8,645.1l-7,46.2M1332.7,644.1l-0.2,1.9M1323.4,642.8l-6.5,39.7M1328.7,638.6l-0.6,4.9M1338.7,634.2l-0.4,5.5M1314.1,688.2l-1.9,10.6M1323.3,632.2l-9.9,55.9M1331.4,629.8l-0.4,3.6M1312.6,681l-3.3,17.7M1310.9,680.6l-5,25.6M1321.8,628.3l-10.1,52.5M1327.1,626.1l-0.5,3M1305.5,693.3l-0.5,2.7M1307.1,682.4l-2.3,10.8M1304.9,683.1l-1.7,7.7M1302.3,686.4l-0.3,1.2M1295.6,695.2l-0.2,0.6M1297,694.1l-0.4,1.4M1300,685.8l-2.1,8.5M1302,682.4l-0.9,3.7M1303.7,681.7l-0.3,1.1M1306,679.1l-0.6,3M1289.2,711.3l-0.1,0.4M1289.7,706.4l-1.3,4.7M1289.8,702.6l-1,3.6M1292.9,687.6l-4,14.8M1286.6,701.3l-2.2,7.9M1287.5,695.6l-1.6,5.5M1282,702.9l-2.5,8.6M1285.2,694.9l-2.5,8.2M1288.9,686.5l-2.6,8.8M1293.9,676.1l-3,10.9M1300.3,676.2l-0.3,1.5M1282.3,692l-1.7,5.4M1288.9,673l-6,19.2M1304.1,640.6l-9.5,34.1M1276.3,697.8l-0.3,0.9M1276.3,695.3l-0.7,2.3M1279.9,688l-2.5,7.7M1281.9,677.7l-3.3,9.8M1296.5,638.3l-13.1,39.9M1301.7,635l-1.4,4.5M1310.7,633.2l-1,4M1278.4,677l-2.6,7.5M1283.4,660.9l-5.7,15.9M1295.7,628.7l-11.4,32.5M1306.1,621.3l-3,9.9M1317.3,620.4l-0.8,3.7M1334.1,614.6l-1.1,8.6M1343.4,606.3l-0.6,9.1M1278,667.5l-5.7,15.5M1304.3,598l-25.7,69.8M1324.3,600.1l-0.8,3.4M1264.8,697.4l-2,5.2M1277.9,661.3l-13.8,35.8M1303.2,593.8l-26,67.2M1315.9,589.9l-2.3,7.5M1335,590l-0.5,4M1262.9,688.7l-13.2,32.7M1254.1,704.9l-2.4,5.7M1256,698.1l-2.7,6.5M1253.9,697.2l-0.4,0.9M1257.6,691.6l-2.6,6.1M1258.2,686.7l-1.9,4.4M1273.8,655.9l-13.2,31.8M1302.2,590.6l-26.8,66M1246.6,696.1l-2.1,4.6M1248.1,694.7l-0.8,1.8M1250.9,690.7l-2,4.4M1263.5,664.8l-11.8,26.3M1237.5,708l-1,2.1M1240.8,702.8l-2.6,5.6M1252.9,674.9l-13.2,27.4M1237.5,698.2l-0.5,1M1240.1,694.6l-1.9,4M1234.1,700.2l-2.1,4.2M1236.9,693l-3.5,6.8M1246.3,678.3l-7.8,15.5M1227.9,705.2l-0.6,1M1227.8,703.6l-0.7,1.3M1228.8,699.7l-1.8,3.5M1226.6,698.5l-7.4,13.4M1240.5,675.3l-12.8,23.8M1246.1,671.6l-2.7,5.2M1253.4,665.4l-3.9,7.9M1251.6,659l-2.3,4.4M1289.3,596.7l-31.8,65.3M1212.2,717.5l-1.4,2.5M1210.2,716.3l-2.2,3.9M1217.7,705.4l-6.5,11.5M1210.5,708.9l-2.5,4.2M1214.6,703.6l-3.4,5.7M1225.4,688.3l-9.2,16.2M1221.5,686l-13.7,22.8M1232.5,671.7l-9,15.4M1229,669.6l-17.6,29M1278.4,590.9l-47.6,79.7M1286.9,588.1l-3.1,5.8M1293.8,586.8l-1.9,3.8M1301.7,580.4l-3.7,8.4M1320.4,578.1l-2.4,8.2M1239.7,643.8l-9,14.3M1258.2,615.9l-17.9,28.3M1231,654.1l-7.4,11.4M1227.7,655.9l-1.6,2.3M1228.9,652.7l-1.8,2.8M1237.4,642.1l-7.4,11.3M1218.5,661l-0.4,0.7M1222.1,657.1l-3,4.3M1225.2,654l-2.5,3.6M1217.8,658.7l-0.8,1.1M1221.8,651.7l-4.6,6.6M1233,639.2l-9.5,13.7M1251.8,616.1l-16.6,24.6M1212.1,660l-3.6,5M1214,658.6l-1.3,1.8M1211.9,657l-10.1,13.7M1227.7,637.6l-14.7,20.2M1241.3,617.1l-14.6,19.8M1194.2,675.6l-1.6,2.1M1195.5,672.6l-2,2.5M1196.8,669.3l-2,2.7M1194.9,667.8l-7,8.9M1208.9,651.8l-13.1,16.8M1184.9,675.2l-2.2,2.7M1202.4,654.7l-16.8,21M1179.7,669.6l-0.5,0.5M1181.7,666l-2.7,3.1M1184.7,664.7l-1.9,2.2M1184.9,662l-1.5,1.7M1188.9,660.8l-2.2,2.7M1176.7,664.8l-1.3,1.4M1179.9,662.4l-2.6,2.9M1183.7,656.3l-4.7,5.3M1187,657.7l-0.7,0.9M1191.8,657.3l-2.2,2.6M1198.2,653l-4.8,5.7M1179.5,653.8l-1.7,1.9M1181.3,650.7l-2.4,2.5M1184.9,648.9l-2.6,2.8M1187.6,643.7l-3.9,4.1M1193.7,647.4l-0.9,1M1199.9,648.8l-1.9,2.3M1196.4,641.4l-2.2,2.5M1232.8,610.4l-30.2,36.3M1241.3,608.4l-4.3,5.4M1248.6,609.4l-2.1,2.9M1255.3,609.7l-2,3M1152.9,673.9l-1,1M1150.8,672.8l-0.4,0.4M1150.6,671.7l-0.5,0.4M1156.1,668.3l-4.4,4.5M1153.2,665.4l-4.1,4M1172.9,648.3l-18.2,18.5M1161.6,653.9l-12.8,12.6M1157.7,654.7l-1.8,1.7M1159.5,651.8l-2.4,2.3M1163.2,650.3l-2.7,2.5M1163.1,648.1l-1.1,1M1167.1,642.4l-5,4.7M1171.1,644.3l-1.1,1.1M1161,644.1l-0.6,0.5M1161.7,642.3l-1.3,1.2M1165.1,638l-4,3.7M1186,624.2l-18,17M1151.3,647l-1.8,1.6M1153,644.4l-2.2,2M1151.4,642.6l-1.5,1.3M1159.2,637.3l-7,6.2M1163.8,631.5l-5.5,4.8M1156.8,633.6l-1.5,1.4M1159.3,630.5l-3,2.5M1151.2,632.9l-0.8,0.6M1152.1,631.1l-1.4,1.2M1155.4,629.9l-2.5,2.1M1144.8,631.5l-2.3,1.8M1147.4,631l-1.9,1.5M1145.1,628.2l-3.9,3M1151.6,625.3l-5.3,4.3M1155.5,626l-2,1.6M1159.6,626.5l-2.2,1.8M1177.9,615.2l-16.2,13.8M1183.9,617.9l-2,1.8M1182.1,608.3l-3.8,3.2M1183.6,601.2l-4.4,3.5M1187.5,594.7l-5.6,4.4M1116.6,641.3l-2.4,1.7M1122.9,635.5l-6.9,5.1M1143.2,622.1l-19.5,14.5M1124,631.5l-12.1,8.7M1093,650.7l-2,1.4M1096.7,646.9l-4.2,3M1095.1,644.5l-2.6,1.8M1113.1,633.7l-17.2,12M1102.8,636.2l-13.9,9.4M1101.4,634.2l-13.8,9.2M1110.3,629.7l-8.2,5.5M1120.1,625.9l-8.4,5.8M1130.2,623l-8.2,5.7M1136.9,613.4l-9,6.1M1182.3,587.7l-42.3,30.1M1189.3,587.9l-4.4,3.3M1103,628.8l-14.7,9.5M1101.7,626.7l-2.3,1.5M1114.1,620.1l-11.8,7.7M1117.2,616.5l-3.8,2.4M1115.5,613.8l-3.5,2.2M1125.8,609.2l-9.5,6M1115.8,611l-5.6,3.4M1111.8,610.8l-1.5,0.9M1106.6,609.8l-1.8,1.1M1110.5,608.6l-3.5,2M1114,608l-2.9,1.7M1123,604.6l-8.1,4.9M1131.3,602.7l-6.9,4.2M1106.8,605.7l-0.4,0.2M1109,603.5l-2.6,1.5M1115.3,601.4l-5.7,3.2M1110.1,600l-3.3,1.8M1113.1,597.4l-3.4,1.8M1125.7,593l-11.5,6.4M1133.1,595.1l-4.6,2.8M1116.8,592.6l-4.3,2.3M1127.9,585.8l-11.5,6.1M1141.2,584.5l-10.8,6M1173.5,563.2l-33.9,18.3M1186.2,572.5l-5.2,3.3M1189.6,560.3l-8,4.5M1185,551.8l-35.4,18M1190.2,554.4l-2.9,1.6M1129.2,577.9l-10.1,5M1136.8,573.3l-7.9,3.9M1109.4,581.6l-4,1.9M1111.9,581.3l-2.2,1.1M1113.5,579.2l-2.1,1M1135.4,570.4l-21.2,10.2M1148.6,565.8l-12.5,6.1M1137.9,564.9l-23.6,10.9M1132,565.5l-12.6,5.6M1104,574.4l-8.3,3.6M1103.1,572.4l-11.3,4.8M1114.4,568.7l-10.8,4.7M1096.9,571.3l-7.2,3M1095.1,569.6l-9.6,3.9M1095.5,567.8l-1,0.4M1102.2,567.2l-6,2.4M1083.9,566.6l-5.4,2M1100,561.5l-15.8,5.9M1103.9,563.2l-2.8,1.1M1112.2,563.4l-7.1,2.9M1116.7,564.6l-3.4,1.5M1130.4,561.8l-12.6,5.4M1136.3,561.4l-5.1,2.2M1145.6,559.3l-8.5,3.9M1185.3,544.7l-38.2,17.9M1198,544.4l-10.3,5.2M1225.9,577.7l-3.4,3M1247.3,590.7l-3.7,4.4M1222.4,557.3l-3.3,2.3M1246.1,579.2l-2.5,2.7M1106.7,553.6l-32.1,11.3M1188.4,525.2l-81.4,29.1M1118.5,547.2l-29,10.1M1117.9,545.3l-41.9,14.1M1177.6,526.1l-59.4,20.2M1074.1,556.2l-13.6,4.4M1093.3,551l-18.9,6.1M1072.3,554.3l-13.3,4.2M1092.1,547.2l-20.1,6.3M1171.5,524.1l-78.8,25M1056.8,555.2l-11.1,3.3M1056.1,552.8l-7.5,2.2M1071.8,549.5l-15.4,4.5M1070.8,546.1l-27.5,7.7M1083.3,544.3l-12,3.5M1045.6,549.1l-2.7,0.7M1054.8,545.7l-9.4,2.5M1036.1,546.2l-1.6,0.4M1037,547l-0.7,0.1M1037.4,545.3l-0.7,0.2M1036.5,542l-5,1.2M1039.8,542.9l-2.9,0.8M1038.8,538.7l-3.6,0.9M1052.8,537.7l-13.5,3.1M1064.7,538.9l-11,2.8M1081.5,538l-16,4.2M1143.5,524.3l-61.1,16.8M1070.4,526.6l-7.9,1.7M1069.9,524.3l-5.7,1.2M1087.4,521.9l-17.2,3.6M1082.8,519.4l-11.7,2.3M1086.6,517.8l-3.9,0.8M1100,517.3l-13,2.6M1099.2,513l-7.3,1.4M1103,514.5l-3.4,0.6M1100.7,509.6l-0.8,0.1M1102.2,510.1l-1.3,0.2M1103.7,512.1l-1.1,0.2M1105.6,516.2l-1,0.2M1103.9,506.9l-3.5,0.6M1106.1,511.3l-1.4,0.3M1098.1,503.2l-0.3,0.1M1099.4,501.9l-1.4,0.2M1104.7,503.2l-5,0.8M1106.5,507.1l-1.2,0.2M1110.6,502.4l-4.7,0.6M1136.6,506.6l-24.6,4.6M1086.4,498.7l-0.8,0.1M1083.7,495.7l-2.6,0.3M1086.1,496.3l-2.4,0.2M1090.2,497l-4,0.5M1094.9,497.9l-4.5,0.5M1081,492.7l-1.2,0.1M1082.3,493.4l-1.2,0.1M1082.1,490.3l-2.5,0.2M1094.2,490.7l-12,1.1M1096.4,494.1l-1.9,0.2M1082.4,487l-11.3,0.8M1085.8,487.5l-3.3,0.3M1095.6,485.6l-9.9,0.7M1100.9,489.4l-4.9,0.5M1105.8,485.8l-5.2,0.4M1133.4,481.8l-27.7,2M1137.4,493.9l-2.7,0.4M1147.4,507.7l-7.5,1.5M1143.6,478.1l-51.8,2.8M1146.5,492.8l-1.5,0.2M1074.8,478.5l-7.4,0.3M1069.8,476.4l-3,0.1M1074.7,475.4l-4.9,0.1M1081.5,476.7l-6.8,0.2M1097.5,477.6l-16,0.7M1085.1,471.5l-9.1,0.2M1097.3,472l-12.2,0.3M1100.8,474.7l-3.4,0.1M1100.7,469.2l-13.6,0.1M1109.1,471.7l-8.4,0.2M1073.5,465.7l-0.4,0M1078.4,466.7l-4.9,0M1084.7,465l-6.3,-0M1062.7,460.1l-4.2,-0.1M1084.7,461.4l-22.1,-0.4M1109.1,463.5l-24.4,-0.3M1144.9,467.5l-35.8,0.1M1148.3,480l-3,0.2M1074.5,458.1l-9.1,-0.3M1103.3,458.2l-28.7,-1M1148,459l-44.7,-1.7M1154.8,469.4l-6.9,0.1M1058,450.4l-0.4,-0M1061.6,449.7l-3.6,-0.2M1073.5,451.7l-12,-0.7M1083.6,453.4l-10.1,-0.5M1061.5,445.8l-7,-0.5M1066.6,447l-5.2,-0.3M1066.8,443.8l-15.3,-1.2M1075.5,446.1l-8.8,-0.7M1057.5,440.7l-6.9,-0.6M1053.2,437.5l-0.8,-0M1053.6,434.2l-5.1,-0.6M1058,436.3l-4.6,-0.4M1073.5,440l-15.8,-1.5M1074.1,434.1l-15.9,-1.8M1076.3,437.3l-2.5,-0.2M1084.3,442.5l-8.4,-0.8M1087.2,448.1l-3.3,-0.2M1082,432.8l-12.4,-1.5M1070.9,429.1l-2.2,-0.3M1082.4,429.8l-11.4,-1.6M1088.7,432.1l-6.5,-0.8M1140.2,445.4l-52.4,-5.3M1085.1,426.5l-3.8,-0.5M1100.6,429.6l-15.6,-2.2M1075,422.7l-11,-1.7M1070,418.4l-6.1,-1.1M1075.4,420.2l-5.5,-1M1085,423l-9.8,-1.6M1078.2,416.3l-1.3,-0.2M1085.8,418.5l-7.8,-1.4M1101.6,423.6l-16.2,-2.8M1112.1,428.4l-11,-1.8M1086.1,415.5l-3.6,-0.7M1089.7,415.4l-3.5,-0.7M1113.8,419.2l-23.9,-4.8M1142.5,429.1l-29.6,-5.3M1148.6,438.2l-7.4,-1M1140.3,422.3l-29.8,-6.2M1136.2,419.6l-28.5,-6.2M1103.4,410.4l-12.4,-2.8M1087,404.4l-4.6,-1.1M1088.7,403.9l-1.5,-0.3M1093.8,404.2l-4.8,-1.2M1082.2,397.4l-0.3,-0.1M1082.8,395.2l-3,-0.8M1085.3,397.1l-2.8,-0.8M1086.2,393.8l-7.4,-2M1087.9,396l-2.1,-0.6M1090.3,398.9l-3,-0.7M1091.9,393.1l-6.7,-1.9M1093.5,396.7l-2.4,-0.7M1096.2,395l-2.1,-0.6M1097.9,400.3l-2.9,-0.7M1084.2,387.3l-5.2,-1.5M1077.7,381.8l-2.1,-0.7M1084.9,384.9l-7.5,-2.3M1090.1,387.8l-5.6,-1.7M1091.4,383.6l-7.6,-2.4M1101.2,388.9l-10.5,-3.2M1104,395.9l-4.5,-1.3M1052,365.7l-0.7,-0.2M1052.8,363.3l-5,-1.8M1054.5,365.2l-2.1,-0.7M1065.4,370.5l-11.4,-3.8M1107.2,385.8l-42.3,-13.9M1108.4,391.7l-2.9,-0.9M1138.6,409.7l-32.9,-8.7M1141.8,415.7l-4.4,-1M1151.6,421.4l-10.6,-2.4M1157.9,431.2l-8,-1.4M1159.8,450.6l-4.4,-0.4M1109.2,380.5l-46.5,-16.5M1170.4,401.5l-60.9,-21.7M1166.8,426.4l-3.3,-0.7M1168,475.3l-5.2,0.3M1181.3,499.1l-10.3,1.9M1198.2,508.5l-13.8,3.8M1357.7,404.8l1.1,-12.9M1386,414.4l4.3,-6.8M1432.2,429l10.8,-5.1M1440.1,456.8l7.9,-0.8M1424.7,525.3l7,5.7M1406.5,542.4l8.7,12.2M1431.5,444.2l5.8,-1.6M1408.7,526.4l7.5,8.1M1372.5,568.7l1.6,7.8M1323.8,566.5l-3.4,11.6M1252.3,572.7l-6.2,6.5M1211.7,504.9l-13.5,3.6M1251.3,527.2l-24,14.4M1395,478.4l36.6,10.1M1330.1,504.4l-37.9,63.5M1359.6,445.8l12.8,-37.9M1360.8,487l8.2,20.4M1352.6,466.6l-2.4,-1.8M1352.6,466.6l22,-0.6" fill="none" stroke="#333" stroke-width="0.55"/>
<path d="M1350,465.1l-5,-2.9M1348.7,464.3l-6.9,-4M1348.7,464.3l-8.6,-5.1M1349.3,464.6l-5.2,-3.1M1349.9,465l-7.4,-4.5M1349.9,464.9l-0.7,-0.4M1349.9,464.9l-8.6,-5.2M1344,461.3l-4.7,-2.9M1344,461.2l-11.8,-7.3M1342.2,460l-3.7,-2.3M1342.2,460l-16.8,-10.7M1343.4,460.7l-25.2,-16.2M1332.1,453.3l-10.5,-6.8M1332.2,453.3l-8,-5.3M1339.8,458.2l-22.1,-14.6M1327.8,450.1l-14.5,-9.6M1327.8,450l-10.1,-6.8M1332.1,452.7l-20,-13.5M1328.1,449.9l-12.9,-8.8M1328.2,449.8l-26.1,-18M1319.9,443.9l-19.3,-13.4M1320,443.8l-24.1,-16.9M1342.6,459.5l-51.5,-36.4M1342.6,459.5l-42.1,-30.1M1340.4,457.8l-55.4,-39.8M1323.1,445.2l-29.2,-21.2M1323.2,445.1l-28.9,-21.1M1315.4,439.1l-12.9,-9.5M1315.5,439l-25.3,-18.9M1317.4,440.2l-40.3,-30.2M1324.3,445.2l-31.1,-23.6M1307.6,432.3l-22,-16.8M1298.7,425.1l-15.7,-12.1M1297.3,423.7l-18.8,-14.6M1291.1,418.5l-8.1,-6.4M1291.3,418.2l-5,-4M1294.8,420.6l-10.8,-8.6M1321.5,441.7l-52.4,-42.1M1321.6,441.5l-24.5,-19.8M1322.9,442.4l-48.3,-39.4M1314.4,435.2l-44.4,-36.6M1314.6,435l-34.9,-28.9M1301.4,423.8l-27.5,-23M1296.6,419.3l-27.3,-22.9M1292,415l-17.4,-14.8M1292.2,414.8l-18.6,-16M1314,433.3l-36.2,-31.4M1316.5,435.1l-33.9,-29.5M1316.6,435l-45.4,-40M1320.6,438.2l-45.7,-40.4M1324,441l-41.3,-36.9M1324.1,440.9l-46.3,-41.7M1315.1,432.5l-31.8,-28.8M1315.2,432.4l-25.4,-23.3M1308.8,426.2l-46.7,-43.1M1309,426l-28.1,-26.1M1304.9,421.8l-30.8,-28.9M1305,421.6l-33.3,-31.6M1335.4,450.2l-69.3,-66.1M1314.9,430.4l-50.7,-48.8M1303.3,418.8l-25.6,-24.8M1303.5,418.6l-33,-32.3M1303.4,418.1l-23.7,-23.4M1300.7,415.1l-28.9,-28.8M1301,414.9l-44.6,-44.7M1299.1,412.6l-47.6,-48.1M1299.4,412.4l-37.3,-38M1310.5,423.4l-56.3,-57.9M1321.1,434l-64.5,-66.7M1335.6,448.8l-64.7,-67.4M1312.8,424.7l-36.7,-38.6M1312.9,424.5l-44.9,-47.6M1304.3,414.9l-34.8,-37.1M1304.5,414.7l-35,-37.7M1289.9,398.5l-26.8,-29.1M1290.2,398.2l-9.6,-10.5M1297.5,405.8l-20.8,-23M1298.1,405.9l-19.4,-21.6M1298.4,405.7l-23,-25.8M1317.7,427.1l-42.8,-48.5M1309.9,417.9l-28.3,-32.4M1310.1,417.7l-28.3,-32.6M1321.6,430.6l-44.8,-52M1308.3,414.8l-40.3,-47.2M1300.5,405.1l-24.7,-29.1M1300.7,404.9l-32.2,-38.3M1303.6,407.8l-27.4,-32.9M1303.8,407.6l-43.5,-52.6M1296.5,398.2l-40.9,-49.8M1296.8,398l-49,-60.2M1307.9,411.2l-53.2,-66M1313.1,417.3l-55.3,-69.2M1303.6,404.8l-17.1,-21.5M1303.8,404.6l-25.7,-32.7M1332.9,441.3l-56.2,-72.1M1321,425.7l-32.8,-42.4M1321.1,425.6l-31.3,-40.8M1327.5,433.6l-46.9,-61.7M1302.5,400.1l-21.5,-28.5M1302.7,399.9l-14.3,-19.1M1305.2,402.7l-17.6,-23.8M1319.3,421.4l-31.5,-42.9M1340.7,450.3l-50.7,-69.6M1326.4,430.3l-38.1,-52.7M1299.7,392.8l-18.4,-25.8M1300.1,392.6l-25.3,-35.5M1316.3,415l-32.6,-46.2M1313.2,410.2l-28.6,-41.1M1313.5,410.1l-37.1,-53.6M1315,411.9l-30.9,-45.2M1315.3,411.7l-32.4,-47.6M1327,428.6l-46.5,-69M1301.8,390.5l-18.9,-28.2M1302.1,390.3l-20.1,-30.3M1295.3,379.4l-12.1,-18.5M1295.7,379.1l-9.8,-14.9M1301,386.6l-12.2,-18.9M1309,398.3l-17.8,-27.7M1306.1,393.3l-16,-25.3M1306.4,393.1l-10,-16M1309.2,396.9l-10.2,-16.5M1309.5,396.7l-18.1,-29.4M1316.4,407.4l-22.8,-37.3M1316.7,407.2l-25.4,-41.9M1316.5,406.4l-20.4,-34M1304,384.8l-8.1,-13.6M1304.3,384.6l-8.2,-13.9M1311,395.3l-19.8,-34M1322.1,413.8l-26.5,-45.8M1306.3,385.7l-11.1,-19.3M1306.6,385.5l-10.3,-18.2M1309.4,389.7l-9.4,-16.7M1309.7,389.5l-16.9,-30.5M1320.6,408.5l-30.6,-55.6M1336.5,437.2l-37.4,-68.6M1327.5,420.2l-28.2,-52.3M1327.7,420.1l-33.8,-63.3M1328.9,421.9l-31.3,-59.1M1313.1,391.3l-17.3,-33M1310.9,386.2l-15.3,-29.3M1311.2,386.1l-11.2,-21.7M1315.3,393.4l-14.1,-27.8M1312.5,387.1l-16.1,-32M1312.8,386.9l-10,-20.1M1319.7,400l-19.7,-39.9M1320,399.9l-19.3,-39.5M1321.3,401.9l-22.9,-47.3M1317.2,392.7l-11.2,-23.4M1317.5,392.6l-11,-23.2M1321.1,399.5l-18.9,-40.4M1322.1,400.8l-15.2,-32.7M1322.3,400.7l-13.2,-28.9M1329.8,416.4l-26.1,-57.6M1331.5,419.7l-22.2,-49.6M1335,426.9l-26.3,-59.2M1335.1,426.9l-32.6,-74.2M1327,407.8l-19,-43.8M1327.3,407.7l-28.9,-67.2M1324.5,400.6l-23.2,-54.8M1324.8,400.4l-24.6,-58.5M1324.2,398.3l-29.2,-70.4M1324.5,398.2l-26.2,-63.8M1351.4,463.7l-51.4,-126.7M1311.3,363.6l-10.1,-25.1M1304,344l-2.9,-7.4M1303.6,341.4l-2.7,-6.8M1304.1,341.2l-0.3,-0.7M1304.6,341.1l-2.3,-6M1305.7,342.3l-2.9,-7.6M1306.2,342.1l-0.6,-1.6M1307.1,342.9l-0.9,-2.4M1308.7,346l-1.6,-4.4M1308.6,344.2l-0.8,-2.4M1309.1,344l-5,-14.3M1311.9,350.2l-0.3,-0.8M1312.3,350l-4.7,-13.6M1312.8,349.9l-3.9,-11.5M1311.3,343.8l-1.9,-5.6M1311.8,343.6l-3.3,-10M1314.8,351.2l-7.9,-24.1M1316.3,354.2l-6.7,-20.8M1318.3,359l-6.4,-20.1M1316.2,350.7l-3.9,-12.4M1316,348.3l-0.3,-1.1M1315.4,344.8l-3.7,-12.3M1315.4,342.8l-0.3,-1.2M1315.9,342.7l-2.1,-7.3M1317.3,345.6l-1.9,-6.6M1322.5,361.7l-8.2,-28.6M1318.9,347.4l-0.3,-0.9M1319.4,347.3l-2.8,-9.9M1320.1,348.1l-4.4,-16.2M1321.1,349.7l-4.5,-16.5M1319.9,343.3l-0.4,-1.6M1320.4,343.2l-0.4,-1.6M1322.2,348.3l-3.1,-12.1M1320.9,341.1l-1.1,-4.4M1321.4,340.9l-0.8,-3.3M1323.4,346.8l-0.3,-1.1M1324.5,349l-2.3,-9.4M1325.6,351.8l-0.8,-3.5M1324.3,343.7l-1.7,-7.1M1324,340.4l-0.2,-1M1324.5,340.2l-1.9,-8.8M1325.1,340.5l-1.6,-7.4M1325.6,340.4l-0.9,-4.3M1326.2,340.3l-0.2,-0.8M1326.9,341.1l-0.8,-3.6M1326.7,337.6l-1.3,-6.2M1327.2,337.5l-0.9,-4.6M1329,343.8l-1.8,-9.3M1329.9,346l-4.4,-23.4M1330.4,345.9l-1.2,-6.6M1329.8,339.9l-0.4,-2.2M1330.3,339.8l-2.3,-13.1M1330.4,337.3l-1.4,-8.2M1331,337.2l-0.3,-1.4M1331.5,337.2l-1.1,-6.5M1332,337.1l-0.3,-2.2M1333.8,345.3l-0.7,-4.6M1334.3,345.3l-1.7,-11.7M1334.3,341.3l-1.4,-9.4M1334.4,338.8l-0.1,-0.8M1335,338.8l-1.1,-7.7M1335.8,341.4l-0.1,-0.8M1336.3,341.3l-1.7,-13.6M1336.9,341.2l-1,-7.6M1338.4,349.4l-1.1,-8.6M1338.8,349.3l-0.1,-1M1338.2,339.8l-1.5,-13.7M1338.8,339.8l-0.6,-5.5M1340.2,348.1l-0.4,-3.7M1340.6,347.4l-1,-9.5M1341.1,347.4l-0.1,-0.8M1341.7,348.6l-0.1,-0.8M1342.2,348.5l-1.6,-17.3M1342.1,342.3l-1.2,-14.3M1342.6,342.3l-1,-12.8M1342.9,339.4l-0.2,-2.3M1343.4,339.3l-0.5,-6.6M1344.1,341.4l-0.6,-8.4M1344.8,344.9l-0.2,-4M1345.3,344.8l-0,-0.8M1345.8,344.8l-0.6,-11.4M1346.3,345l-0.4,-8.2M1346.7,342.8l-0.4,-9.1M1347.2,342.8l-0.1,-2M1347.1,327.1l-0.2,-4.8M1347.7,327.1l-0.5,-13.8M1348.3,330.2l-0.4,-12.4M1348.9,330.9l-0.1,-3.8M1349.5,330.9l-0.1,-1.5M1350,332.1l-0.1,-4.7M1350.6,336.5l-0,-3.5M1351.1,333.2l-0,-6M1351.7,333.2l-0.1,-6.5M1352.2,333.6l0,-7.2M1352.8,333.6l-0,-15.8M1353.3,335.8l0.1,-8.8M1353.8,335.8l0,-0.8M1354.4,334.7l0.2,-16M1354.9,334.7l0.1,-2.2M1355.4,335.8l0.2,-7.4M1355.8,340.4l0.4,-14M1356.4,340.4l0.3,-12.6M1356.5,352.6l0.7,-20.5M1357.3,343.1l0.6,-16.1M1357.8,343.1l1.3,-32.2M1358.2,345.4l0.8,-16.6M1358.7,345.4l0.8,-15.5M1359.2,345.4l0,-0.8M1359.6,346.8l1.3,-21.7M1358.2,376.8l3.4,-53.5M1359.8,359.1l1.1,-16.9M1361.2,345.3l0.4,-6M1361.7,345.4l0.6,-9M1362,346.8l0.8,-9.7M1362.5,346.8l1,-12.1M1363.1,345.5l0.9,-9.6M1363.6,345.6l1.9,-20.6M1364.9,337.1l0.8,-8.5M1365.5,337.2l1.3,-13.3M1360.9,386.5l6,-57.9M1365.8,344.1l1.9,-17.7M1366.3,344.2l0.2,-1.9M1367.3,340l0.7,-6.5M1367.8,340.1l1.4,-12.2M1368.2,341.2l0.1,-1M1368.7,341.2l0.8,-6.7M1369,342.5l0.1,-0.8M1370.4,336.3l0.8,-5.9M1370.9,336.4l0.7,-4.6M1370,346.7l1.2,-8.3M1371.3,341.4l0.4,-2.7M1372.4,337.1l0.3,-1.9M1373.3,335.3l0.2,-1.3M1373.8,335.4l2,-12.4M1371,355.7l1,-6.1M1373,346.6l1.3,-7.5M1373.5,346.7l0.1,-0.8M1374.4,344.4l0.1,-0.8M1374.9,344.5l2,-11.3M1375.3,345.2l4.2,-22.5M1375,349.4l4.3,-22.5M1376.2,345.4l0.4,-1.7M1378.8,335.3l0.6,-3.2M1381.6,324.3l3.4,-17.1M1382.1,324.4l7.5,-36M1384.5,316.4l1.9,-9.4M1385.1,316.5l1.2,-5.8M1386.7,312.1l1.2,-5.3M1387.8,310.1l3.1,-13.9M1388.4,310.2l1.1,-4.7M1386.5,321.3l4.7,-20.2M1387.9,317.9l4.5,-18.7M1388.5,318.1l1.3,-5M1389.6,316.5l1.2,-5M1390.4,315.9l0.2,-0.9M1391,316l0.5,-1.9M1390.7,319.8l2.9,-11.1M1391.7,318.3l4.6,-17.3M1392.3,318.5l6.4,-23.9M1389.6,330.7l4.1,-14.9M1390.2,330.8l8.5,-30.7M1392.1,326.2l7.6,-27M1392.7,326.3l6.8,-24M1397,313.5l1.6,-5.5M1401,302.3l0.7,-2.3M1401.7,302.4l0.7,-2.6M1404.4,295.7l1.4,-4.5M1405.1,295.9l1.7,-5.5M1405,298.8l5.3,-17M1405.7,299.1l4.3,-13.7M1395.1,334.4l13.3,-41.4M1398.4,326l13.7,-42M1401.8,317.7l12,-36.5M1413.6,284.3l1.2,-3.4M1414.4,284.6l1.2,-3.6M1412.3,292.8l6.7,-19.3M1416.9,282l3.8,-10.8M1417.6,282.3l0.4,-1.1M1418.1,283.4l1.1,-3.1M1417.8,286.5l2.3,-6.3M1419.5,284.2l0.9,-2.4M1420.2,284.4l3.5,-9.4M1418.2,292.2l5.7,-15.2M1418.9,292.5l0.9,-2.4M1420.2,291.2l0.5,-1.4M1420.9,291.5l1.7,-4.4M1421.2,292.8l2.1,-5.2M1421.1,295l1,-2.3M1421.8,295.3l7.7,-18.9M1427,284.6l5.7,-13.9M1427.7,284.9l4.3,-10.2M1384.6,390.2l46.9,-112.2M1426.6,291.8l9.9,-23.5M1427.3,292.1l12.1,-28.3M1435.7,274.7l3.8,-8.9M1436.4,275l5.5,-12.5M1437.3,275.2l10.4,-23.5M1438.1,275.6l3.9,-8.9M1440.7,271.9l2.5,-5.7M1441.5,272.3l2.7,-6M1437.1,283.7l2.2,-4.6M1431.6,297.4l9.9,-21.2M1435,292.1l8.3,-17.5M1435.7,292.4l1.2,-2.4M1436.9,291.7l6.1,-12.7M1437.6,292l0.7,-1.3M1438.9,291.3l2,-4.1M1439.6,291.6l1,-2M1436,300.6l4.1,-8.3M1441.1,292.2l3.4,-6.7M1441.8,292.6l1.8,-3.5M1436,305.6l7.6,-14.8M1440.6,298.3l9.3,-17.8M1443,295.4l2.6,-4.9M1443.7,295.7l7.7,-14.4M1445.1,294.9l6,-11.2M1445.8,295.2l7.6,-13.9M1437.4,312.2l17.5,-31.9M1438,312.5l21.1,-37.9M1438.8,312.6l14.1,-25.2M1448.4,297.1l5.8,-10.4M1449.1,297.5l10.7,-18.8M1421.9,346.2l31.9,-55.4M1407.5,372.1l44.1,-75.8M1441.8,314.6l11.1,-18.9M1445.1,310.4l3.8,-6.3M1448.4,306.4l1.2,-2.1M1449,306.8l2.6,-4.2M1432.9,334.7l15.2,-24.9M1440.7,323.3l7.4,-12M1441.2,323.6l0.9,-1.3M1439.6,327.6l5.8,-9.3M1436.2,334.2l11.8,-18.7M1443.8,323.5l7.4,-11.6M1444.4,323.9l3.3,-5.2M1450.2,316.1l5.9,-9M1450.8,316.5l5.6,-8.6M1454.6,312.1l3.6,-5.4M1455.3,312.5l4,-6.1M1453,317.2l11.9,-17.7M1455.2,315.3l1.6,-2.3M1455.8,315.7l8.9,-13M1462.3,307.6l4.3,-6.2M1463,308l5.5,-7.9M1473.6,294.2l16.3,-23.2M1474.3,294.7l4.1,-5.8M1481.2,286.6l0.9,-1.3M1482.8,285.9l6.3,-8.8M1483.5,286.4l0.6,-0.8M1480.7,291.8l10.7,-14.7M1482.1,291.4l4.5,-6.1M1482.8,292l5.4,-7.3M1481.2,295.5l5.8,-7.6M1481.9,296.1l1.9,-2.6M1483.7,295.1l2.5,-3.3M1484.4,295.6l1.8,-2.2M1470.6,314.9l2.2,-2.9M1482.5,300.9l6.1,-7.7M1483.2,301.5l2.2,-2.9M1481.2,305.3l16,-20M1483.2,304.1l9.2,-11.3M1483.9,304.7l1.3,-1.7M1486.4,302.9l6.4,-7.8M1487.5,303l0.5,-0.6M1488.1,303.6l1.6,-1.9M1487,306.3l4.4,-5.3M1485,309.9l14,-16.6M1485.6,310.5l4.6,-5.3M1476.2,322.7l16.2,-18.8M1483.2,315.8l10,-11.5M1489.2,310.2l1.5,-1.7M1489.8,310.8l7.8,-8.9M1471.7,332.5l23.3,-26.2M1463.2,343l34.2,-38.1M1463.7,343.5l32.1,-35.6M1477.2,329.7l18.3,-20.2M1477.8,330.2l13.5,-14.7M1488.9,319.3l12.8,-13.9M1489.5,319.8l2.1,-2.3M1483.2,327.7l25.8,-27.4M1499.9,311.2l0.7,-0.8M1500.6,311.8l20.7,-21.7M1498.5,315.1l14,-14.5M1511.7,302.8l8,-8.2M1512.4,303.4l8.7,-8.8M1493.4,324l24,-24.3M1502.7,315.8l4.9,-4.9M1503.3,316.4l13.9,-13.8M1512.3,308.7l6.5,-6.4M1513,309.4l2.4,-2.4M1516.9,306.8l13.1,-12.7M1517.6,307.5l3.6,-3.6M1518.8,307.6l2.6,-2.5M1519.4,308.3l3.4,-3.2M1506.3,322l2.6,-2.6M1506.9,322.6l4.6,-4.3M1491.9,337.6l14.1,-13M1492.5,338.1l20.3,-18.7M1482.5,348.2l32.4,-29.4M1508.4,325.8l6.7,-6M1509,326.5l7.6,-6.9M1506,330.3l2,-1.8M1508.9,328.8l1.4,-1.2M1510.6,328.4l2.7,-2.3M1511.2,329.1l0.6,-0.6M1509.4,331.7l7.1,-6.1M1501.6,339.5l7,-6M1502.2,340.1l19,-16.1M1506.2,337.7l16.3,-13.6M1506.7,338.4l16.5,-13.8M1507.4,338.9l16,-13.2M1507.9,339.5l6.9,-5.7M1505,342.9l14,-11.3M1505.5,343.5l3.7,-2.9M1496.5,351.7l21.9,-17.5M1466.4,376.5l51.3,-40.6M1518.8,336.1l12.9,-10.1M1522.8,334.1l6.6,-5.1M1523.4,334.8l8.1,-6.3M1486.7,363.9l48.9,-37.4M1512,345.6l25.3,-19.2M1521.3,339.6l8,-6M1521.8,340.3l6.9,-5.1M1489.6,365.2l37.9,-28M1499.8,358.6l27.1,-19.9M1500.3,359.2l22.4,-16.3M1530.4,338.4l4.1,-3M1530.9,339.1l0.9,-0.6M1530,340.8l4.2,-2.9M1532.8,339.9l1.3,-0.9M1533.3,340.7l2.5,-1.7M1532.7,342.2l7.7,-5.3M1524.2,349.1l13.6,-9.3M1525.7,349.1l0.9,-0.6M1531,346.6l10.7,-7.3M1531.4,347.3l12.8,-8.5M1521.6,354.9l26.6,-17.6M1525.8,353.1l6.1,-4M1526.3,353.8l10.3,-6.7M1510.5,365l22.1,-14.2M1510.9,365.6l12.7,-8.1M1531,353.8l6.7,-4.2M1531.5,354.5l6.1,-3.8M1527.8,357.8l12.4,-7.7M1528.3,358.5l3,-1.9M1530.8,358l9.3,-5.7M1531.2,358.7l5.8,-3.5M1537.4,356l0.7,-0.4M1537.9,356.7l7.1,-4.2M1538.3,357.5l7.9,-4.6M1538.7,358.3l1.6,-1M1541.8,357.5l5.3,-3.1M1542.2,358.3l10,-5.7M1555.3,351.9l9.5,-5.4M1555.8,352.7l2.4,-1.3M1548.7,357.7l5.6,-3.1M1549.6,358.3l4.6,-2.5M1550,359.1l3.3,-1.8M1543.6,363.6l11.9,-6.4M1542.4,365.3l20.2,-10.8M1547.2,363.7l9.3,-4.9M1547.6,364.5l14.1,-7.4M1526.2,376.6l28.4,-14.7M1543.7,368.5l17.2,-8.8M1553.3,364.6l2.4,-1.2M1553.7,365.4l15.9,-8M1563.8,361.4l9.4,-4.6M1564.2,362.3l5.2,-2.5M1564.8,363.1l12,-5.9M1565.2,364l1.6,-0.8M1556.8,369.1l12.9,-6.2M1557.2,369.9l9.3,-4.4M1566.5,366.5l7.8,-3.6M1566.9,367.4l2.7,-1.2M1565.4,369.2l15.1,-7M1565.8,370l1.2,-0.5M1567.7,370.2l17.6,-7.9M1568.1,371.1l3.9,-1.7M1526.5,390.4l55.1,-24.2M1526.8,391.1l39.3,-17M1557.6,378.7l12.8,-5.5M1558,379.6l23.1,-9.8M1560.6,379.5l26.4,-11.1M1575.2,374.4l6.2,-2.6M1583.2,372.2l1.5,-0.6M1583.5,373.1l10.2,-4.1M1579.9,375.7l20.1,-8.1M1582.3,375.8l0.9,-0.3M1582.7,376.7l5.6,-2.2M1582.5,377.9l11.5,-4.5M1583.6,378.6l0.8,-0.4M1583.9,379.5l8.7,-3.3M1580.4,381.9l3,-1.2M1583.5,381.8l8.4,-3.1M1583.8,382.7l7,-2.5M1571.2,388.3l24.3,-8.7M1564.6,391.6l25.7,-9M1572.8,389.8l7.9,-2.8M1573.1,390.7l19,-6.6M1575.6,390.8l5.5,-1.9M1575.9,391.7l16.6,-5.5M1568.7,395.1l28.4,-9.4M1571.2,395.3l20.2,-6.6M1572.8,395.7l9.3,-2.9M1573.8,396.4l15.9,-5M1574.1,397.3l0.7,-0.2M1546,407l27.2,-8.4M1546.2,407.8l31.3,-9.5M1458.4,434.9l105.7,-31.6M1451.6,437.4l100.3,-29.6M1548.1,409.8l11.7,-3.4M1549.2,410.4l1.5,-0.5M1549.4,411.2l12.5,-3.6M1552.5,411.2l0.7,-0.2M1552.7,412l8.6,-2.4M1551.4,413.2l11.1,-3M1556.5,412.7l6.2,-1.6M1562,412.2l7.6,-2M1562.2,413l1.1,-0.2M1560.5,414.4l12,-3M1543.4,419.5l27.4,-6.8M1552.1,418.2l4.5,-1.1M1552.3,419l18.9,-4.5M1552.9,419.7l1,-0.2M1553.1,420.5l16.6,-3.8M1559,420.1l3.3,-0.8M1559.7,420.8l0.7,-0.2M1559.8,421.7l24.2,-5.3M1560,422.5l6.8,-1.5M1555.8,424.3l8.5,-1.8M1557.9,424.7l3.7,-0.8M1558.1,425.5l11.5,-2.3M1558.2,426.4l10.7,-2.1M1558.4,427.2l1,-0.2M1557.7,428.2l5.9,-1.1M1565.9,427.6l14.7,-2.7M1566,428.4l2.5,-0.4M1559.2,430.5l2.7,-0.4M1559.4,431.4l5.6,-1M1551.3,433.6l28.6,-4.8M1549.3,434.7l13.7,-2.2M1550.1,435.4l0.8,-0.1M1560,434.7l2.2,-0.3M1560.1,435.6l8.5,-1.3M1554.3,437.3l8.5,-1.3M1550.6,438.6l18.2,-2.5M1560.7,438.1l15.8,-2.2M1560.8,438.9l15.6,-2M1553,440.8l7.5,-1M1543.8,442.8l36.4,-4.6M1572.9,440.1l15.6,-1.9M1573,441l17.5,-2.1M1582.9,440.8l14.9,-1.7M1583,441.7l10.8,-1.2M1571.8,443.8l1.1,-0.1M1571.8,444.7l16,-1.6M1581.8,444.7l4.9,-0.5M1581.9,445.6l5.8,-0.5M1563.1,448.2l29.7,-2.6M1535.5,451.3l34.1,-2.8M1552.6,450.7l20.2,-1.6M1552.7,451.5l15,-1.1M1552.8,452.4l0.7,-0.1M1557.6,452.9l8.2,-0.6M1561.8,453.4l1.6,-0.1M1561.9,454.3l14,-0.9M1569.8,454.7l10.5,-0.6M1569.8,455.6l4.7,-0.3M1562.3,456.8l6.1,-0.3M1562.4,457.7l15.9,-0.7M1566.9,458.3l15.4,-0.5M1567,459.2l11.1,-0.4M1569.3,460l14.1,-0.4M1572.6,460.8l7.8,-0.2M1572.6,461.7l2.6,-0M1566.5,462.7l3.5,-0M1566.5,463.6l11.9,-0.2M1561.6,464.5l16,-0.1M1555.1,465.4l28.8,-0.2M1555.1,466.2l27.4,-0M1531.1,467l39.5,0.1M1531,467.7l51,0.3M1572.4,468.9l10.4,0.1M1572.4,469.8l16.1,0.2M1564.1,470.5l39.2,0.7M1582.6,471.8l10,0.2M1582.6,472.7l6.6,0.2M1564.4,473.1l16.1,0.5M1560.7,473.8l17.6,0.7M1560.6,474.7l23.5,0.9M1516.3,473.6l65.5,2.9M1551.2,475.9l52.6,2.5M1551.1,476.8l29.9,1.5M1564.5,478.3l14.6,0.8M1564.5,479.2l15.3,0.9M1577.5,480.9l7.1,0.4M1577.4,481.8l12.8,0.8M1565.5,481.8l0.9,0.1M1570.6,483.1l1.9,0.1M1570.5,484l4.2,0.3M1566.8,484.6l3,0.2M1536.5,482.8l47.8,4.2M1536.5,483.5l26.2,2.4M1530.6,483.7l40.9,4M1562.2,487.6l15.9,1.6M1562.1,488.5l11.3,1.2M1565.3,489.7l5.3,0.6M1565.2,490.5l8.8,1M1568.1,491.8l7.3,0.8M1568,492.6l7.6,1M1564.2,493.1l17.8,2.2M1564.8,494l1.1,0.2M1564.7,494.9l14.2,1.9M1557.1,494.7l15.3,2.1M1551.3,494.7l21,3M1565.9,497.7l18.4,2.7M1568.4,499l1.1,0.1M1568.3,499.8l16,2.5M1564.9,500.2l14.6,2.3M1564.8,501.1l1.2,0.2M1565.8,502.1l4.6,0.8M1569.5,503.6l6.2,1.1M1569.3,504.5l2,0.4M1569.9,505.5l4.1,0.8M1569.7,506.4l20.6,3.8M1556.6,504.9l39.4,7.4M1523.8,499.4l60.9,11.7M1583.2,511.8l4.6,0.9M1583,512.8l8.1,1.6M1576.9,512.5l6.8,1.4M1585.3,515.2l2.2,0.5M1585.5,516.2l5.4,1.2M1585.3,517.2l0.8,0.1M1585.1,518.1l10.1,2.3M1582.8,518.6l4.5,1M1553.9,512.9l28.8,6.7M1553.7,513.8l35.2,8.2M1569.3,518.3l19.8,4.8M1581.7,522.3l6.5,1.6M1587,524.6l12.8,3.2M1586.8,525.5l22.1,5.6M1533.1,512.8l36.6,9.4M1532.9,513.5l54.7,14.3M1492.6,503.7l90.8,24M1563.4,523.3l16.6,4.5M1567.7,525.4l20.2,5.5M1587.1,531.7l6.3,1.8M1586.8,532.7l7.1,2M1581,532.1l0.7,0.2M1580.7,533l19,5.5M1580.4,533.9l5.6,1.6M1579.5,534.6l17.7,5.4M1582.3,536.5l10,3.1M1582.1,537.5l2.2,0.6M1579.5,537.7l4.6,1.4M1578.3,538.3l16.3,5.2M1578,539.2l1.4,0.5M1575.5,539.4l19.5,6.4M1581.7,542.5l5.3,1.7M1581.4,543.4l16.9,5.7M1573.9,541.9l23.1,7.9M1585,546.7l7.9,2.8M1584.7,547.7l12.4,4.3M1578.5,546.6l14.8,5.2M1578.2,547.5l26.7,9.6M1590.7,553.1l9.7,3.5M1603.3,558.8l4,1.5M1602.9,559.8l1,0.4M1600.1,559.9l8.2,3.1M1598.6,560.5l10.3,3.9M1598.3,561.5l4.6,1.8M1588.8,559l10,3.9M1588.4,559.9l21.8,8.6M1590.3,561.8l23.1,9.2M1595.2,564.9l17,6.9M1594.8,565.9l6.3,2.6M1593.2,566.4l18.4,7.6M1604.5,572.3l5.8,2.4M1604.1,573.3l5.6,2.4M1605.6,575.2l4.9,2.1M1605.2,576.2l0.8,0.4M1602,576l7.2,3.2M1599.3,576.1l4.8,2.1M1598.9,577.1l7.6,3.4M1595.3,576.7l13.4,6M1594.9,577.7l8.1,3.7M1593,578l6.1,2.8M1595.9,580.5l16.7,7.8M1598.8,583.1l2.6,1.2M1598.3,584.1l5.8,2.8M1577.8,575.4l19.4,9.4M1577.3,576.3l23.5,11.5M1600.1,588.7l13.6,6.7M1599.6,589.7l4.6,2.3M1597.1,589.7l22.8,11.5M1596.6,590.7l1.3,0.6M1594.5,590.9l6.3,3.2M1595,592.4l7.8,4M1594.5,593.4l12.8,6.7M1591.1,592.8l14.6,7.7M1590.6,593.8l0.8,0.5M1594.1,596.9l6.1,3.3M1593.6,597.9l10.1,5.5M1577.6,590.4l14.8,8.2M1543.7,572.8l60.2,33.4M1598.9,604.8l7.1,4M1598.3,605.8l4.8,2.6M1585.6,599.8l6.8,3.9M1585.1,600.8l6.7,3.8M1595.4,608l4.9,2.9M1594.8,609l5,3M1587.6,606.1l12.8,7.6M1575.3,600l24.2,14.5M1577.5,602.6l11.4,6.9M1577,603.5l5.6,3.5M1540.2,582.1l16.4,10.1M1542.4,584.6l10.4,6.4M1542,585.3l1.7,1.1M1528.5,577.9l7.9,5M1528,578.6l16.1,10.2M1527.1,579l13.2,8.5M1526.7,579.7l0.6,0.5M1526.2,580.4l7.7,5.1M1534,586.6l6.5,4.3M1545.7,595.5l7.3,4.9M1545.2,596.3l10.9,7.4M1522.5,582l35.6,24.2M1519.6,581.1l34.9,23.9M1518.3,581.1l41.9,29M1541.6,598.4l9.1,6.3M1541.1,599.2l6.8,4.8M1550.7,607.2l0.7,0.4M1550.2,608l2.4,1.7M1548.1,607.7l16.7,12.1M1550.5,610.7l12.2,8.9M1549.9,611.5l0.7,0.5M1548.6,611.8l3.9,2.8M1534.5,602.4l16,12M1534.9,603.9l7.6,5.7M1534.9,605.1l1.4,1M1534.4,605.8l13.9,10.7M1526.2,600.8l13.2,10.1M1513.8,592.2l29.6,23.1M1497.7,580.6l35.4,27.8M1533.7,610.1l1.3,1M1533.1,610.8l1.8,1.5M1535.6,614l5.3,4.3M1535,614.8l6.4,5.2M1522.3,605.6l4.9,4M1521.9,606.5l19,15.6M1528.1,612.8l9.6,7.9M1527.5,613.5l10.1,8.5M1518.7,607.2l8.5,7.2M1528.7,617l13.3,11.3M1529.3,618.7l2.8,2.4M1528.7,619.5l1.4,1.2M1525.2,617.6l3.3,2.9M1510.4,605.9l32.6,28.7M1535.8,629.5l4.5,4M1535.1,630.3l5.4,4.8M1530.2,627.2l3.4,3M1531.1,629.4l3.4,3M1530.5,630.1l1,1M1530.4,631.4l3.9,3.6M1529.8,632.1l0.5,0.6M1529.1,632.8l0.9,0.9M1519.2,624.8l1.4,1.3M1518.5,625.5l10,9.6M1519.2,627.4l3.1,3M1522.2,631.7l2.6,2.4M1521.5,632.4l5.5,5.3M1520.6,632.8l0.8,0.8M1519.9,633.5l15.2,15.1M1517.6,632.5l14.5,14.6M1522.1,638.5l1.9,1.8M1521.4,639.2l2.6,2.5M1525.2,644.5l3.9,3.9M1524.5,645.2l6.4,6.6M1520,642l3.8,3.8M1516.9,640.1l15.7,16.6M1516.2,640.8l6.9,7.3M1517.6,643.6l10.2,11.1M1522.3,650.2l2.5,2.7M1521.5,650.9l13,14.1M1499.6,628.2l33.8,37.3M1490.1,619l33.9,37.6M1489.5,619.6l41.5,46.5M1440.9,566.2l84.6,95.2M1438.9,564.7l88.7,100.8M1512.7,650.1l22.2,25.3M1512,650.7l13.7,15.9M1491.9,628.9l39.9,46.5M1519.2,662.3l7.4,8.7M1518.4,663l11.1,13.1M1510.1,654.7l20.3,24.2M1527.2,676.8l7,8.5M1526.3,677.5l7.6,9.2M1508,656.8l18.3,22.5M1523.9,678l6.2,7.7M1523,678.7l12.8,15.9M1518.6,674.9l12.9,16.3M1524.4,684.1l1.9,2.3M1525.9,687.8l2.5,3.1M1525,688.5l2.1,2.7M1518.2,681.6l13.7,17.7M1519,684.4l15.2,20M1528.7,699l14.4,19.1M1527.7,699.7l7.6,10.2M1531.2,706.4l7.1,9.5M1533.4,711.4l10.2,13.8M1532.4,712.2l3.9,5.3M1525.1,704.2l10.8,14.9M1527.7,709.9l5.2,7.2M1526.7,710.6l3.8,5.3M1515.4,696.7l17.7,25.1M1514.4,697.3l2.3,3.2M1504.6,685.2l8.3,11.9M1503.7,685.8l0.7,1M1500.8,683.4l8.8,13M1492.5,673.2l20.5,30.2M1504.6,693l4.2,6.2M1503.7,693.6l2.7,4M1498.4,687.6l10.5,15.9M1497.5,688.2l13.9,21.2M1486.7,673.5l19.1,29.6M1485.9,674.1l17,26.5M1464.6,642.6l32.2,50.6M1463.9,643l31.9,50.5M1487.7,682.7l13.1,20.9M1491.4,690.7l6.1,9.7M1492.8,695l3.6,5.8M1493.8,698.8l4.2,6.8M1492.9,699.3l0.5,1M1480.4,680.6l6.5,10.8M1479.5,681.1l15,25.3M1480.4,684.5l10.4,17.9M1487.2,698.4l7.8,13.4M1486.3,699l1.1,1.9M1483.2,695.8l10.1,17.7M1489.3,708.7l1.9,3.3M1488.3,709.3l5.6,10M1480.6,697.8l3.2,5.7M1486.9,711.4l6,10.9M1486.5,713l1.8,3.4M1485.4,713.5l0.6,1M1481.9,709.3l1,1.9M1482.4,712.6l1.4,2.8M1481.4,713.2l3.5,6.7M1481.4,715.7l11.1,21.4M1480.4,716.2l1.2,2.3M1472.5,703.2l9.5,18.6M1479.7,720l1.1,2.1M1478.7,720.5l6.2,12.5M1476.1,717.7l3.5,7.2M1470.4,708.6l16.5,33.9M1469.4,709.1l10.3,21.5M1476.5,726.5l12.2,25.6M1475.4,727l7,14.8M1475.9,730.8l2.4,5.3M1474.8,731.3l8.2,17.8M1481.8,749.4l2.5,5.6M1480.6,749.9l1.2,2.7M1476.5,743.9l4.3,9.7M1470.1,732.4l6.6,14.9M1469,732.9l11.4,26.1M1464.4,725.1l0.4,1M1463.3,725.5l2,4.6M1463.1,728l6.6,15.6M1462,728.4l6.7,15.9M1460.7,728.2l2.4,5.8M1459.6,728.6l5.1,12.4M1456.6,724.3l9,22.2M1454.9,723.2l10.9,27.3M1459.5,737.7l0.7,1.8M1458.4,738.1l1.9,4.9M1456,735.4l7.2,18.6M1449.5,721.4l13.5,35.6M1448.4,721.8l9.6,25.6M1423.2,657l25.9,69.8M1422.5,657.3l27.4,74.9M1438.5,704l6.9,19.3M1438.4,707l4.8,13.4M1437.4,707.3l1.8,5.1M1436.3,707.1l0.7,2M1435.8,709l0.4,1.2M1434.8,709.3l2.6,7.7M1433.7,709.2l5.1,15.4M1432.7,709.6l0.6,1.7M1431.2,708.2l2,6.4M1426.3,696.5l5,15.4M1425.4,696.9l4.7,14.8M1426.9,704.8l3.2,10.3M1425.9,705.1l2.1,6.8M1418.3,683.4l11.7,38.9M1420.4,693.6l4.7,15.9M1420.9,699l5.6,19M1420,699.3l1.3,4.6M1418.3,697l2.9,10.2M1417.4,697.3l0.2,0.7M1409.9,673.8l7.9,28.9M1414.1,692.6l1.8,6.7M1414.7,698.7l3.4,12.8M1413.8,699l1.6,6.3M1408.6,682.9l3.3,12.7M1407.4,682.1l2.1,8M1406.6,682.3l4.7,18.8M1407.4,689.6l2,8.2M1406.5,689.8l0.8,3.3M1407.1,696.4l1.6,6.7M1406.2,696.6l0.2,0.9M1404.9,695.1l0.8,3.8M1401.7,685.6l2,8.7M1400.8,685.8l1.9,8.4M1398.3,678.1l3.6,16.7M1399.1,686.5l0.2,0.8M1398.2,686.7l3.1,14.6M1401.6,707.9l0.7,3.4M1400.6,708.1l0.6,3.1M1397.7,698.2l3.4,17.6M1397.6,703.1l1.1,5.6M1396.7,703.2l1.5,8.3M1397.6,713.8l1.7,9.5M1396.6,714l0.5,2.6M1394.2,706l1.2,7.4M1388.8,680.1l4.7,27.8M1392.4,707.2l2,12.6M1392.5,714.1l0.1,0.8M1391.4,714.2l0.9,5.1M1390.1,712.3l1.3,8.2M1389.1,712.4l0.2,1.1M1387.1,705.4l2.3,16M1386.4,707.5l1.4,9.8M1385.4,707.6l2.3,17.1M1385.3,714.3l1.3,10.1M1384.3,714.5l1,7.6M1382.1,705.1l3.4,27.2M1380.1,696.5l3,25.1M1381.1,713.4l0.3,2.6M1380.1,713.5l1.2,11.2M1379.6,718.9l1.1,10M1378.6,719l1.5,14.2M1377.2,714.8l0.4,4.7M1375.3,706l1.4,14.5M1374.4,706.7l0.1,0.8M1373.4,706.8l1.2,13.4M1371.9,700.3l0.6,8M1371.2,703.4l0.5,7.3M1370.9,712.8l0.6,8.4M1370,714.7l0.1,1.1M1369.1,716.7l0.3,3.9M1368.1,716.7l0.2,3M1366.3,702.8l1.3,23.1M1365.3,702.9l0.5,9.4M1364.1,697.4l1.3,26.9M1363.2,697.5l0.9,21.7M1362.6,706.3l0.2,6.1M1361.8,710.7l0.2,6.7M1360.8,710.8l0.1,4.2M1359.4,698.5l0.4,14.2M1358.5,699.8l0.1,2.2M1357.6,699.8l0.2,13.8M1355.9,657.1l1,59.3M1354.3,593.3l1.5,119M1354.3,660.1l0.4,42.1M1353.6,660.1l0.2,55.3M1352.8,674.5l0,42.5M1351.8,706.6l0,6.6M1350.9,706.6l-0.1,7.9M1349.9,702.5l-0,6.6M1349,699.1l-0.1,7.6M1348.3,686.5l-1.1,56.7M1348.9,624.4l-2.3,95.7M1347.8,640.2l-2.3,81.9M1345.1,702.7l-0.4,14.1M1344.2,702.6l-1.2,32.1M1342.8,712.8l-0.5,11.3M1341.8,712.8l-0.5,11.3M1341.4,698.9l-1.3,28.9M1340,708.1l-1,20.4M1339,708.1l-0.6,10.5M1338.1,707l-1.2,20.5M1336.5,716l-0.6,9.6M1335.5,716l-0,1.1M1334.8,712.4l-1.8,24.6M1333.6,715.2l-0.9,10.8M1332.5,715.1l-0.3,4.3M1332.7,701.3l-0.7,8.1M1332.2,696.5l-1.2,12.8M1331.2,696.4l-0.9,9.5M1331.1,688.3l-1.1,11M1330.5,684.8l-0.7,6.7M1328.9,691.4l-0.1,0.8M1328,691.3l-0.5,4.9M1327.1,691.1l-0.7,6.1M1326.2,690.5l-2.2,18.7M1322.6,712.4l-1.5,12.6M1321.6,712.3l-0.8,6.3M1321.5,705.5l-2.3,17.5M1321.2,700.7l-2.7,19.7M1317.7,718.5l-0.8,6M1316.7,718.4l-0.1,0.8M1315.9,717l-0.6,3.5M1315.4,713.2l-0.8,5.1M1314.4,713.1l-0.7,4.7M1316.9,691l-5.6,35.2M1317.3,682.6l-6.4,39.4M1316.4,682.4l-6.6,39.4M1312.7,698.9l-3,17.7M1311.7,698.8l-4.6,26.3M1312.7,687.9l-6.2,34.6M1309.8,698.8l-4.9,26.3M1308.8,698.6l-4.3,22.8M1306.4,706.3l-6.4,32.8M1305.4,706.2l-2.4,11.9M1317.9,639l-16,79.3M1305.4,696.1l-0.7,3.5M1304.5,695.9l-0.3,1.6M1304.1,693l-0.7,3.5M1303.6,690.9l-2.3,10.9M1302.7,690.7l-2.3,10.6M1302.4,687.7l-2.4,10.7M1301.5,687.5l-0.3,1.5M1298.9,694.6l-1.9,8.3M1297.7,695.7l-1.8,7.6M1296.5,696.3l-1.2,5.1M1295.6,696.1l-0.2,0.8M1294.7,695.6l-4,16.2M1289.6,711.8l-2.5,9.5M1288.6,711.6l-0.3,0.9M1287.7,710.9l-1.6,5.9M1288,705.9l-6.5,24.1M1288,702.1l-3.4,12.3M1284.9,709.4l-0.8,2.9M1283.9,709.1l-0.6,2M1285.2,700.9l-3.2,11.2M1283.5,703.3l-4.7,16M1280,711.6l-3.5,11.6M1279,711.3l-2.4,7.8M1283.6,692.4l-8.1,26.7M1281,697.6l-1.8,6M1280.1,697.3l-2.9,9.3M1285,678.7l-9.3,29.1M1278.4,696l-1.3,4M1276.5,698.9l-3.9,11.9M1275.5,698.6l-0.2,0.7M1274.9,697.4l-0.3,0.9M1277.3,687.1l-5.3,15.8M1285.2,661.6l-15.6,44.8M1276.2,684.6l-5.5,15.8M1275.3,684.3l-4.1,11.6M1277.1,676.5l-5.9,16.4M1279.2,668l-15.5,42.5M1272.7,683.1l-8.7,23.8M1271.9,682.8l-12,31.9M1263.3,702.8l-3.1,8.1M1262.3,702.4l-13.7,36M1263.4,696.9l-12,31M1276.5,660.7l-30.6,77.9M1277,657.2l-34.1,85.9M1250.2,721.6l-6.3,15.8M1249.2,721.2l-8.3,20.3M1252.2,710.8l-4.6,11.3M1251.2,710.4l-3,7.4M1252.6,704.3l-3.8,9.1M1254,698.3l-2.8,6.7M1253.1,697.9l-0.3,0.8M1255.2,690.6l-6.6,15M1297,593l-47.2,107.3M1252.6,691.5l-6.5,14.4M1249.7,695.4l-3.1,7M1248,696.8l-0.9,1.8M1244.9,700.9l-2.3,5M1244,700.4l-7.7,16.7M1238.9,708.7l-0.8,1.9M1237,710.4l-5.4,11.2M1236,709.9l-0.8,1.7M1238.7,701.8l-8,16.5M1238.9,698.9l-2.2,4.5M1237.5,699.4l-8.4,17M1236.5,698.9l-0.3,0.8M1232.5,704.6l-1.8,3.5M1231.5,704.1l-7.2,14.1M1232.7,699.5l-3,5.7M1227.8,706.5l-0.7,1.5M1226.9,706l-2,3.7M1226.4,704.5l-12.2,23.1M1226.1,702.7l-9,16.8M1219.7,712.2l-2.4,4.6M1218.7,711.7l-10.2,18.8M1245.3,661.2l-29.4,53.2M1211.3,720.3l-0.8,1.5M1210.3,719.7l-5.4,9.6M1208.5,720.5l-4.2,7.4M1207.5,719.9l-1.6,2.7M1212,709.8l-9.2,15.8M1208.5,713.4l-2.4,4.2M1207.5,712.8l-11,18.7M1208.3,709.1l-10.6,17.9M1207.4,708.5l-7,11.7M1211.9,698.9l-15,24.8M1210.9,698.3l-8.4,13.8M1269.3,601.6l-73.8,119.5M1263.5,609.6l-64.8,104.1M1240.8,644.5l-34.1,54.3M1231,658.3l-10.3,16.3M1230.3,657.8l-11.3,17.6M1224,665.8l-10.4,16.1M1223.2,665.2l-10.6,16.4M1226.5,658.5l-4.9,7.4M1225.7,658l-1.6,2.4M1226.5,655.1l-1.9,2.9M1223.4,658l-0.6,1M1219.7,661.8l-3.5,5.2M1218.5,661.9l-0.6,0.8M1217.7,661.4l-9.2,13.2M1217.4,660.1l-6.1,8.7M1216.6,659.6l-1.5,2.1M1216.6,657.9l-6.4,8.9M1213.3,660.8l-3,4.3M1208.9,665.3l-6.9,9.5M1208.1,664.7l-6,8.2M1202.2,671l-6.1,8.2M1201.4,670.4l-11.9,15.9M1225.7,636.2l-33.1,44.2M1193,678.1l-0.9,1.1M1192.1,677.4l-5.1,6.7M1192.9,674.6l-6.7,8.8M1194,671.4l-5.5,7.2M1188.4,677l-4.4,5.6M1187.5,676.3l-6.7,8.5M1186.2,676.2l-11.5,14.5M1183.1,678.3l-2.4,3.1M1182.3,677.6l-2.2,2.7M1195.1,660.1l-17.2,21.1M1192.2,662.1l-16.1,19.5M1188.4,665l-23.1,27.9M1184.3,668.3l-0.5,0.6M1183.5,667.6l-3.5,4.2M1179.6,670.5l-6.9,8.2M1178.8,669.8l-0.5,0.6M1178.4,668.6l-0.9,1M1182.2,662.6l-8.2,9.4M1177.9,665.9l-1.9,2.1M1175.8,666.6l-1.1,1.3M1175,665.8l-0.6,0.7M1178.1,660.8l-5.5,6.1M1183.5,653.2l-5.2,5.7M1182.8,652.5l-0.6,0.6M1178.1,656l-2.5,2.8M1177.4,655.3l-25.9,27.9M1178.4,652.7l-22.1,23.6M1182.6,646.8l-32.6,34.5M1188.7,638.8l-42.4,44.7M1152.4,675.3l-2.1,2.2M1151.5,674.5l-5.5,5.8M1150.8,673.6l-0.6,0.5M1150,672.7l-2.5,2.5M1149.5,671.5l-4.3,4.4M1149.5,669.9l-4,3.9M1148.7,669l-9,8.9M1149.2,666.9l-8.7,8.6M1148.4,666l-8.2,8M1156.3,656.8l-16.2,15.7M1155.5,656l-1.7,1.6M1156.5,653.5l-9.3,8.9M1160.9,647.9l-0.9,0.8M1161.2,646.1l-12.4,11.6M1160.8,645l-10.4,9.7M1160.1,644.2l-0.6,0.6M1159.9,642.9l-9.2,8.4M1160.5,641l-4.8,4.3M1149.9,649.1l-5.6,5M1149.2,648.2l-0.6,0.6M1150.2,645.8l-10.1,8.9M1150.2,644.3l-0.9,0.8M1149.5,643.5l-6.8,5.9M1157.4,635.3l-11.9,10.2M1155.6,635.4l-0.6,0.6M1155,634.6l-13.1,11.1M1155.8,632.4l-5.8,5M1153.6,632.9l-3,2.6M1150.7,634l-11.4,9.4M1150,633.1l-1.5,1.3M1150.2,631.6l-3.1,2.6M1146.3,633.4l-8,6.5M1143.3,634.5l-3,2.3M1142.6,633.6l-0.7,0.5M1142,632.6l-11.6,9.2M1141.5,631.6l-9.1,7.2M1140.9,630.8l-13.4,10.3M1172.9,604.8l-55.9,43M1176.3,601l-62.2,47.5M1180.2,596.9l-53,40.1M1124.5,637.6l-9.6,7.2M1114.6,643.5l-5.7,4.2M1113.9,642.5l-2.1,1.6M1115.5,639.9l-12.9,9.4M1112.3,640.7l-10.6,7.7M1111.6,639.7l-25.7,18.5M1091.4,652.6l-1.4,1M1090.6,651.6l-0.6,0.4M1091.9,649.1l-3.2,2.2M1092.8,646.9l-2.5,1.7M1092.1,645.8l-13.6,9.3M1089.3,646.2l-6.4,4.3M1088.5,645.1l-4.1,2.8M1087.9,643.9l-4.4,3M1087.2,642.9l-6.8,4.5M1125.6,616.1l-39.4,25.9M1088.6,638.8l-8.2,5.4M1087.9,637.8l-6.6,4.3M1099.7,628.7l-25.2,16.2M1099,627.7l-1.7,1.1M1112.6,617.7l-3.1,2M1112.3,616.5l-3.4,2.2M1111.7,615.6l-14.7,9M1110.5,614.9l-7.4,4.5M1109.9,613.9l-5,3.1M1110.6,612.2l-1.6,0.9M1110,611.2l-8.5,5.1M1107.5,611.3l-2.1,1.2M1105.1,611.4l-3.9,2.2M1104.5,610.4l-4.4,2.5M1110.2,605.7l-11.6,6.7M1106.7,606.4l-2.4,1.4M1106.1,605.4l-0.7,0.4M1106,604.2l-3.6,2M1107.1,602.3l-3.9,2.1M1106.6,601.3l-4.9,2.6M1109.3,598.5l-3.6,1.9M1112.7,595.4l-8.5,4.6M1112.2,594.4l-6,3.2M1116,591.1l-9.7,5.1M1138,578.4l-35.8,18.7M1177.4,557l-80.7,41.7M1149.8,570.2l-35.2,18M1149.4,569.4l-37.4,18.9M1119.4,583.4l-7.4,3.7M1118.9,582.4l-7.1,3.5M1128.6,576.5l-8.9,4.4M1114.9,582l-10.6,5.2M1110.1,583.1l-2.1,1M1105.6,584l-5.5,2.7M1105.1,583l-7.8,3.7M1110.9,579.1l-13.1,6.1M1114.5,576.2l-11.8,5.5M1114.1,575.3l-18.5,8.4M1119.6,571.6l-21.2,9.6M1119.1,570.7l-14,6.2M1118.9,569.7l-20.8,9.1M1096,578.5l-4.9,2.1M1095.5,577.5l-5.1,2.2M1092,577.7l-3.1,1.3M1091.5,576.7l-18.5,7.8M1106.3,569.3l-19.2,7.9M1089.9,574.9l-15.2,6.2M1089.4,573.8l-9.4,3.8M1085.7,574l-12.5,5.1M1085.3,573l-9.9,3.9M1094.4,568.1l-0.8,0.3M1094,567.1l-5.1,1.9M1093.6,566l-13.5,5.2M1084.5,568.2l-8.6,3.3M1078.7,569.2l-6.5,2.4M1078.3,568l-5,1.9M1199.8,522.4l-130,47.5M1107.3,555.1l-60.2,21.7M1074.8,565.5l-30.5,10.9M1074.4,564.3l-31.3,11M1089.7,557.8l-38,13.2M1089.3,556.7l-48.9,16.8M1076.2,560l-42.6,14.3M1075.8,558.8l-32.1,10.7M1074.7,557.9l-32.6,10.8M1060.7,561.2l-33.4,10.9M1060.3,560l-30.7,9.8M1059.2,559.1l-14.5,4.6M1058.8,557.9l-25.6,7.9M1071.7,552.6l-34.6,10.6M1045.9,559.2l-14.3,4.3M1045.5,557.9l-5.1,1.6M1048.7,555.6l-8.2,2.4M1048.4,554.4l-3.8,1.1M1043.4,554.4l-10.5,3M1043.1,553.2l-10.6,2.9M1066.4,545.4l-39.8,11M1043.1,550.5l-4.7,1.2M1042.8,549.2l-18,4.8M1045.1,547.2l-16.5,4.4M1036.6,548.1l-0.8,0.2M1034.6,547.2l-1.2,0.3M1034.3,545.9l-0.8,0.2M1036.3,544.1l-5.4,1.3M1031.6,543.8l-17.3,4.2M1031.3,542.5l-2.9,0.7M1035.4,540.2l-11.3,2.6M1035.1,538.9l-3.8,0.9M1113.8,520l-92.1,20.5M1105.5,520.8l-71.9,15.7M1062.6,528.9l-31.3,6.7M1062.4,527.7l-6.2,1.3M1064.3,526.1l-9.1,1.9M1064.1,524.9l-7.6,1.6M1071.2,522.3l-10.6,2.1M1071,521.1l-5.8,1.2M1082.5,517.8l-8.9,1.7M1092,514.9l-7.4,1.3M1091.8,513.8l-3.5,0.6M1101,511.1l-5.3,0.9M1100,510.2l-15.3,2.7M1099.8,509.2l-0.8,0.1M1100.5,508l-6.4,1.1M1100.3,507l-5.8,0.9M1100,506l-9,1.4M1098.1,505.2l-9.2,1.4M1098,504.2l-0.8,0.1M1097.8,503.1l-4.3,0.7M1097.7,502.1l-6.6,0.9M1097.8,501l-17.5,2.4M1105.3,499l-26.5,3.5M1090.6,499.8l-2.9,0.4M1085.6,499.4l-0.8,0.1M1085.5,498.3l-15.2,1.8M1083.8,497.4l-11.4,1.3M1081.2,496.5l-18.8,2.1M1081.1,495.4l-1.6,0.2M1081.2,494.3l-10.5,1.1M1079.9,493.3l-1,0.1M1079.8,492.2l-20.2,1.9M1079.7,491.1l-11.3,1M1079.6,490l-4.1,0.3M1082.5,488.6l-3.2,0.3M1071.1,488.4l-13.4,1M1071.1,487.3l-9,0.6M1085.6,485.1l-17.5,1.2M1100.4,483l-42.9,2.8M1105.5,481.7l-41.7,2.5M1091.8,481.5l-23.8,1.3M1091.8,480.4l-45.9,2.4M1081.6,479.8l-19.3,1M1067.4,479.4l-16.5,0.7M1067.4,478.2l-17.1,0.7M1066.8,477.1l-9.8,0.3M1066.8,475.9l-4,0.1M1069.8,474.6l-2.8,0.1M1085.2,473.1l-33.7,0.8M1076,472.2l-19.4,0.4M1076,471.1l-4.6,0.1M1087.2,469.8l-20.2,0.3M1087.1,468.7l-33.4,0.3M1073.5,467.7l-13.6,0.1M1073.1,466.6l-4,-0M1073.1,465.4l-15.6,-0M1073.1,464.3l-0.8,0M1078.4,463.2l-10.7,-0.1M1062.6,461.9l-8,-0.2M1058.5,460.6l-6.2,-0.1M1058.5,459.4l-11.4,-0.3M1065.4,458.4l-7.7,-0.2M1065.4,457.2l-4.6,-0.1M1074.6,456.4l-28.1,-1M1103.4,456.4l-54.2,-2.2M1073.4,454.1l-17.7,-0.8M1061.4,452.3l-8.9,-0.4M1057.6,451l-0.8,-0.1M1057.7,449.8l-9.8,-0.6M1058.1,448.6l-18.1,-1.1M1061.4,447.6l-6.4,-0.4M1054.5,445.9l-7.3,-0.5M1054.6,444.7l-8.3,-0.6M1051.5,443.2l-7.1,-0.5M1051.6,442l-6.7,-0.5M1050.6,440.7l-2.8,-0.2M1050.7,439.5l-7.8,-0.7M1052.3,438.4l-11.4,-1.1M1052.4,437.2l-7.6,-0.8M1052.6,435.9l-0.8,-0M1048.5,434.3l-2.4,-0.3M1048.6,433l-3.9,-0.4M1058.1,432.9l-14.3,-1.7M1058.3,431.7l-5.3,-0.7M1069.5,431.8l-25.1,-3.1M1069.7,430.7l-25.2,-3.2M1068.6,429.4l-0.8,-0.1M1068.7,428.2l-6.3,-0.9M1071.1,427.4l-6.4,-0.9M1084.9,428.2l-23.8,-3.4M1081.2,426.5l-22.3,-3.3M1081.4,425.4l-5.2,-0.8M1063.9,421.6l-3.2,-0.5M1064.1,420.4l-13.3,-2.2M1069.7,420.1l-2.3,-0.4M1063.8,417.9l-1.7,-0.3M1064,416.8l-3.2,-0.6M1077.9,418l-24.8,-4.4M1076.8,416.6l-1,-0.1M1077,415.5l-7.6,-1.4M1082.4,415.4l-15.7,-3M1082.6,414.3l-1.7,-0.4M1086.4,413.9l-16.1,-3.2M1090,413.5l-23.2,-4.7M1110.4,416.6l-36.2,-7.5M1110.6,415.6l-28.1,-5.9M1107.6,413.9l-34.6,-7.4M1107.8,412.9l-41.8,-9.1M1090.9,408.1l-22.7,-5.1M1091.1,407l-13.4,-3M1082.3,403.9l-9.6,-2.3M1082.5,402.8l-27.8,-6.6M1087.4,402.8l-3.5,-0.9M1089.2,402.1l-3.5,-0.9M1086.8,400.3l-13.4,-3.3M1081.8,397.9l-3.9,-1M1082,396.8l-0.7,-0.2M1079.6,395l-10.7,-2.8M1079.9,393.9l-2,-0.6M1078.7,392.3l-11.4,-3M1079,391.2l-2.7,-0.7M1085,391.7l-7,-1.9M1085.3,390.6l-18.3,-5.2M1094.8,392.2l-28.7,-8.3M1078.8,386.4l-3.2,-1M1079.1,385.2l-8.1,-2.4M1077.2,383.4l-17.2,-5.1M1075.4,381.7l-15,-4.6M1075.8,380.5l-3.5,-1M1083.6,381.8l-14.4,-4.6M1084,380.7l-27.5,-8.8M1064.5,373.2l-22.6,-7.4M1053.5,368.3l-15.3,-5.1M1051.1,366.1l-13,-4.3M1051.5,364.9l-0.8,-0.3M1047.6,362.2l-7.5,-2.6M1048,360.9l-11.7,-4M1062.5,364.6l-25.6,-9M1062.9,363.4l-34.7,-12.3M1109.8,379l-74.2,-26.7" fill="none" stroke="#000" stroke-width="0.85"/>
<path d="M1634.3,247.3l3.3,-2.6M1636.1,249.6l1.9,-1.5M1637,250.8l1.6,-1.3M1639.6,254.3l5.7,-4.3M1640.4,255.4l2.4,-1.7M1641.3,256.6l2.9,-2.1M1642.2,257.8l1.4,-1.1M1646.3,263.7l1.8,-1.2M1647.2,264.9l4.3,-3M1648,266.1l3.8,-2.6M1650.4,269.7l3.5,-2.3M1651.2,270.9l2,-1.3M1652.8,273.4l4.8,-3.1M1654.4,275.8l1.8,-1.1M1655.9,278.3l7.1,-4.4M1658.2,282l7.8,-4.7M1658.9,283.3l2.5,-1.5M1660.4,285.8l3.7,-2.2M1661.1,287l3.8,-2.2M1661.9,288.3l1.8,-1.1M1662.6,289.5l4.1,-2.3M1666.1,295.9l4.3,-2.3M1666.8,297.2l2,-1.1M1667.5,298.4l5.7,-3M1668.2,299.7l4.8,-2.5M1669.5,302.3l4.2,-2.1M1670.2,303.6l0.8,-0.4M1671.5,306.2l5,-2.5M1672.2,307.5l5,-2.5M1673.5,310.1l3.6,-1.8M1674.7,312.7l1.2,-0.6M1676.6,316.7l2.1,-1M1677.2,318l1,-0.5M1677.8,319.3l5.1,-2.3M1678.4,320.6l2.5,-1.1M1679.6,323.3l1.5,-0.7M1680.2,324.6l2.7,-1.2M1681.3,327.3l1.8,-0.8M1682.4,330l1.9,-0.8M1683,331.3l3.3,-1.3M1683.5,332.7l5.1,-2.1M1684.1,334l4,-1.6M1685.7,338.1l6,-2.4M1686.2,339.4l5.1,-1.9M1687.2,342.1l1.6,-0.6M1687.7,343.5l3.8,-1.4M1688.7,346.2l3.6,-1.3M1689.2,347.6l2.6,-0.9M1689.7,349l2.5,-0.9M1690.1,350.4l1.1,-0.4M1690.6,351.7l5.4,-1.8M1691.5,354.5l2.9,-0.9M1692,355.9l1.1,-0.4M1692.9,358.6l4.9,-1.5M1693.8,361.4l8.8,-2.7M1694.2,362.8l3.6,-1.1M1694.6,364.2l7,-2.1M1695,365.6l4.1,-1.2M1696.6,371.2l4.5,-1.3M1698.8,379.6l5.4,-1.3M1699.2,381l2,-0.5M1699.5,382.4l1.9,-0.4M1699.9,383.8l3.2,-0.7M1700.2,385.3l7.6,-1.8M1701.2,389.5l4.5,-1M1701.5,390.9l3.3,-0.7M1701.8,392.4l4.9,-1.1M1702.7,396.6l1.9,-0.4M1703,398.1l4.3,-0.9M1703.2,399.5l3.8,-0.7M1704,403.8l2,-0.4M1704.3,405.2l5.2,-0.9M1704.5,406.6l4.1,-0.7M1705.5,412.4l1,-0.2M1705.9,415.2l2.6,-0.3M1706.5,419.6l2.3,-0.3M1706.9,422.5l1.3,-0.2M1707,423.9l2.9,-0.4M1707.2,425.3l4.7,-0.5M1707.4,426.8l5.3,-0.6M1707.8,431.1l6,-0.6M1708,432.6l6.9,-0.7M1708.1,434l8.5,-0.8M1708.2,435.5l6,-0.6M1708.4,436.9l1.9,-0.1M1708.6,439.8l3.9,-0.3M1708.7,441.3l6.6,-0.5M1708.9,444.2l4.8,-0.3M1709.1,447.1l11.5,-0.7M1709.2,450l6.9,-0.4M1709.3,451.4l5.8,-0.2M1709.3,452.9l7.2,-0.3M1709.4,454.3l4.1,-0.1M1709.5,460.1l2.2,-0M1709.6,467.4l1,0M1709.6,470.3l4.4,0.1M1709.5,474.7l2.3,0M1709.5,476.1l6,0.2M1709.4,477.6l3.6,0.1M1709.3,480.5l2.2,0.1M1709.3,481.9l3.1,0.2M1709.1,484.8l1.1,0.1M1709,487.7l7.5,0.5M1708.9,489.2l8.5,0.5M1708.8,490.6l7.4,0.5M1708.6,493.5l6.1,0.5M1708.5,495l4.5,0.3M1708.4,496.4l10.5,0.9M1708.2,497.9l6.3,0.5M1708.1,499.3l5,0.5M1708,500.8l1.9,0.2M1707.8,502.2l4.2,0.5M1707.7,503.7l7.4,0.7M1707.4,506.6l5.7,0.6M1707.2,508l3.4,0.4M1706.7,512.3l4.1,0.6M1706.5,513.8l2.6,0.3M1705.7,519.5l3.6,0.6M1705.4,521l5.4,0.8M1705.2,522.4l7.2,1.2M1705,523.8l2.1,0.4M1704.3,528.1l3,0.6M1704,529.6l4.5,0.8M1703.7,531l2.3,0.4M1702.9,535.3l5.7,1.1M1702.4,538.1l2.7,0.6M1701.5,542.4l3.1,0.7M1701.1,543.8l6.1,1.4M1700.2,548.1l2.3,0.5M1699.8,549.5l2.7,0.6M1699.5,550.9l6.3,1.5M1699.2,552.3l6.4,1.6M1698.4,555.1l3.7,1M1698.1,556.5l2.9,0.8M1697.7,558l5,1.3M1697.3,559.4l4.9,1.3M1696.6,562.2l8.6,2.3M1696.2,563.6l3.9,1.1M1695,567.8l1.2,0.3M1694.6,569.1l4.6,1.4M1694.1,570.5l2.6,0.8M1693.3,573.3l6.5,2.1M1692.8,574.7l5.3,1.7M1691.9,577.5l1.4,0.4M1691,580.2l1.9,0.6M1690.1,583l4.8,1.6M1689.6,584.4l4.5,1.5M1688.7,587.1l7.5,2.7M1687.7,589.8l3.8,1.4M1687.2,591.2l4.7,1.8M1685.6,595.3l3.9,1.5M1684.5,598l4.7,1.8M1684,599.3l4,1.6M1682.4,603.4l3.9,1.6M1681.8,604.7l5.6,2.3M1681.2,606l4.7,2M1679.5,610l4.3,1.9M1678.9,611.4l3.3,1.4M1677.7,614l0.9,0.4M1677.1,615.4l2.1,0.9M1675.9,618l4.5,2.1M1675.3,619.3l2.4,1.2M1672.8,624.5l4,2M1672.1,625.8l6.7,3.4M1671.5,627.1l14.1,7.2M1670.8,628.4l8.7,4.5M1669.5,631l6.4,3.4M1668.8,632.3l2.1,1.1M1666.8,636.2l3.3,1.8M1664,641.3l2.2,1.2M1663.2,642.5l4.5,2.5M1661.8,645.1l3.8,2.1M1661.1,646.3l6.4,3.8M1658.9,650.1l3.3,2M1658.1,651.3l3.1,1.9M1657.3,652.6l2,1.1M1656.6,653.8l2.5,1.5M1655.8,655l4.9,3M1650.3,663.6l8.8,5.8M1649.5,664.8l7.4,4.9M1648.7,666l7.7,5.2M1647.9,667.2l2.5,1.7M1647.1,668.4l5.4,3.7M1646.3,669.6l5.4,3.8M1645.4,670.8l1.8,1.3M1644.6,672l4.4,3.1M1643.8,673.2l3.8,2.7M1639.5,679.1l1.6,1.1M1636.9,682.6l1.8,1.3M1636,683.7l4,3.1M1635.1,684.9l2.8,2.1M1634.2,686l3.5,2.8M1633.3,687.2l1.8,1.4M1632.4,688.3l2.4,1.9M1630.6,690.6l1.6,1.3M1629.7,691.7l1.1,0.9M1628.8,692.8l6.3,5.2M1626.9,695.1l2.7,2.2M1626,696.2l2.6,2.2M1625,697.3l1.4,1.1M1624.1,698.4l4.8,4.1M1623.2,699.5l2.2,2M1621.3,701.7l2.9,2.6M1618.4,705l1.6,1.4M1617.4,706l3.7,3.4M1616.4,707.1l5.9,5.4M1615.4,708.2l3.9,3.6M1610.5,713.5l3.8,3.7M1605.4,718.7l3.3,3.3M1604.4,719.7l0.5,0.6M1603.3,720.7l2.3,2.3M1602.3,721.8l1,1M1601.2,722.8l4.2,4.3M1600.2,723.8l4.7,4.8M1597,726.8l4.8,5.1M1596,727.8l5.6,6M1593.8,729.8l2.3,2.5M1592.8,730.7l1.3,1.5M1591.7,731.7l1.5,1.7M1590.6,732.7l2.7,2.9M1589.5,733.7l2,2.2M1588.4,734.6l1.1,1.2M1586.2,736.5l4.2,4.8M1584,738.4l1.3,1.5M1581.8,740.3l3,3.6M1580.7,741.2l3,3.7M1579.6,742.2l3.2,3.8M1578.5,743.1l1.8,2.2M1576.2,744.9l4.2,5.3M1575.1,745.8l3.3,4.1M1573.9,746.7l2.5,3.2M1572.8,747.6l2.2,2.9M1571.6,748.5l2.9,3.6M1569.3,750.3l3,3.8M1568.2,751.2l1.9,2.5M1567,752l1.7,2.2M1564.7,753.8l4,5.4M1562.3,755.5l3.4,4.6M1561.2,756.3l1.3,2M1560,757.2l2.2,3.1M1558.8,758l1,1.5M1557.6,758.9l0.8,1.2M1556.4,759.7l0.8,1.1M1555.2,760.5l3.5,5M1554,761.4l1.4,2M1551.6,763l1.5,2.2M1550.4,763.8l0.5,0.7M1549.2,764.6l0.9,1.3M1548,765.4l2.6,4.1M1545.5,767l1.4,2.1M1544.3,767.8l2.7,4.2M1543.1,768.5l3,4.8M1541.9,769.3l3.7,6.1M1540.6,770.1l2.2,3.5M1539.4,770.8l1.7,2.9M1534.4,773.8l4.1,7M1533.1,774.6l4.4,7.5M1530.6,776l8.3,14.3M1528.1,777.5l2,3.6M1524.3,779.6l2.9,5.3M1523,780.3l3.3,6.1M1519.2,782.4l0.5,0.9M1517.9,783l1.1,2.1M1516.6,783.7l2.2,4.3M1512.7,785.7l1.2,2.4M1511.4,786.3l0.6,1.1M1508.8,787.6l1.1,2.2M1507.5,788.2l2.9,6.1M1506.2,788.9l3.4,7.2M1504.9,789.5l4.1,8.7M1503.6,790.1l1.7,3.7M1502.2,790.7l3.4,7.4M1500.9,791.3l2.1,4.6M1498.3,792.5l2.8,6.4M1495.6,793.7l2.1,4.8M1491.6,795.4l1.9,4.6M1490.3,796l3.1,7.5M1488.9,796.5l1.8,4.3M1487.6,797.1l2,4.9M1486.2,797.6l2.3,5.7M1483.5,798.7l0.8,2.1M1478.1,800.8l1.9,5.1M1475.4,801.8l1.5,4.2M1472.6,802.8l1.4,3.8M1469.9,803.8l1.7,5M1468.5,804.3l2,5.7M1467.1,804.7l2.7,7.7M1464.4,805.6l1.3,3.9M1460.2,807l1.3,4M1458.9,807.4l0.8,2.9M1454.7,808.7l0.4,1.5M1453.3,809.1l0.3,1.1M1450.5,809.9l0.8,2.9M1449.1,810.3l1.7,5.9M1447.7,810.7l0.3,1M1444.9,811.5l0.2,0.8M1443.5,811.8l0.2,0.8M1442.1,812.2l0.2,0.7M1437.9,813.3l0.7,2.8M1435,814l0.9,3.8M1432.2,814.6l1.2,5.3M1425.1,816.2l0.5,2.4M1420.8,817l0.8,3.8M1416.5,817.8l0.3,1.5M1413.7,818.3l0.1,0.8M1412.2,818.6l0.2,0.7M1407.9,819.3l0.3,1.8M1406.5,819.5l0.5,3.6M1405.1,819.7l0.5,3.5M1402.2,820.1l0.2,1.8M1399.3,820.5l0.1,1.1M1396.4,820.9l0.5,3.6M1395,821.1l0.2,1.9M1393.5,821.2l0.6,4.7M1392.1,821.4l0.3,3.2M1389.2,821.7l0.1,1.4M1386.3,822l0.1,1.4M1376.2,822.8l0.2,3.8M1368.9,823.2l0.1,2.9M1366,823.3l0.1,3.9M1364.5,823.4l0.1,1.6M1363.1,823.4l0,2M1361.6,823.5l0.1,3.5M1357.3,823.6l-0,1.3M1355.8,823.6l0.1,3.3M1352.9,823.6l0,2.3M1351.5,823.6l-0.1,8.9M1350,823.6l-0.1,15M1348.6,823.6l-0.1,4.5M1347.1,823.6l-0.1,5.7M1296.5,819.2l-1.6,9.7M1295,818.9l-2,12.1M1292.2,818.4l-2,11.2M1290.7,818.2l-0.7,4.3M1289.3,817.9l-0.5,3M1287.9,817.7l-0.7,3.4M1286.4,817.4l-0.2,1.2M1282.2,816.6l-1,4.7M1280.7,816.3l-0.2,1.1M1275,815.1l-0.9,4.2M1273.6,814.8l-3.5,15.4M1268,813.4l-0.7,2.8M1266.6,813.1l-0.6,2.3M1265.1,812.7l-0.7,2.9M1260.9,811.6l-1.6,6M1258.1,810.9l-1,3.8M1256.7,810.5l-1.1,3.9M1253.9,809.7l-2,6.9M1251.1,808.9l-0.4,1.6M1249.7,808.5l-0.4,1.5M1245.6,807.2l-0.6,1.8M1244.2,806.7l-1.7,5.3M1241.4,805.8l-0.8,2.6M1240,805.4l-1.5,4.5M1237.3,804.5l-0.7,1.8M1233.2,803l-0.8,2.1M1231.8,802.5l-0.5,1.3M1227.7,801l-0.3,0.8M1222.3,799l-0.7,1.6M1220.9,798.4l-0.5,1.4M1219.6,797.9l-1.1,2.6M1218.2,797.3l-1,2.5M1215.5,796.2l-1,2.4M1211.5,794.5l-2.2,5.2M1210.2,794l-2.7,6.2M1206.2,792.2l-1.7,3.7M1204.9,791.6l-0.6,1.1M1203.5,791l-2.3,5.1M1202.2,790.4l-2,4.3M1200.9,789.8l-1.2,2.5M1199.6,789.1l-2,4.3M1198.3,788.5l-0.8,1.6M1197,787.9l-0.8,1.6M1194.4,786.6l-2.3,4.5M1190.5,784.7l-3.5,6.8M1186.6,782.7l-1.2,2.2M1184,781.3l-2,3.8M1180.2,779.2l-1.1,1.9M1178.9,778.5l-2.2,3.9M1177.6,777.8l-0.9,1.7M1176.4,777.1l-2.2,3.9M1175.1,776.4l-7.6,13.3M1173.9,775.6l-3,5.1M1172.6,774.9l-1.8,3.1M1168.8,772.7l-3.1,5.2M1167.6,771.9l-0.9,1.6M1165.1,770.4l-1.2,2.1M1163.9,769.6l-1.5,2.5" fill="none" stroke="#555" stroke-width="1.1"/>
<path d="M1043.4,288.1L1039.1,285.6L1039.9,284.3L1044.2,286.8L1043.4,288.1ZM1044.9,285.6L1043.4,284.7L1044.1,283.4L1043.5,283.1L1044.2,281.8L1044.2,281.8L1044.9,280.5L1045.2,280.7L1046,279.4L1046.1,279.5L1046.8,278.2L1046.4,278L1047.1,276.7L1049.4,278.1L1047.1,281.8L1044.9,285.6ZM1054.1,270.8L1048.7,267.2L1049.5,266L1053.6,268.7L1054.4,267.5L1053.5,266.9L1054.3,265.7L1051.6,263.8L1052.4,262.6L1052.2,262.4L1053,261.2L1054.9,262.5L1055.8,261.3L1052,258.7L1052.8,257.5L1054.8,258.9L1055.7,257.6L1056.4,258.1L1057.2,256.9L1051.4,252.8L1052.3,251.6L1059.2,256.5L1060,255.3L1060,255.3L1060.8,254.1L1060.7,254L1061.6,252.8L1061.9,253.1L1062.8,251.9L1065.7,254.1L1064,256.4L1061.5,260L1059,263.5L1056.5,267.1L1054.1,270.8ZM1066.6,252.9L1061.4,249L1062.3,247.9L1064,249.1L1064.9,247.9L1064.5,247.6L1065.3,246.5L1067.7,248.3L1068.6,247.1L1067.2,246L1068.1,244.8L1069.7,246.1L1070.6,245L1069.8,244.3L1070.7,243.1L1071.2,243.6L1072.1,242.4L1071.7,242.1L1072.6,241L1072.3,240.7L1073.3,239.6L1075.5,241.5L1074.6,242.6L1071.9,246L1069.2,249.4L1066.6,252.9ZM1076.5,240.3L1073.9,238.2L1074.8,237.1L1077.4,239.2L1076.5,240.3ZM1079.2,237L1074.4,232.9L1075.4,231.8L1073.9,230.5L1074.8,229.4L1081.1,234.8L1079.2,237ZM1082.1,233.7L1076.9,229.2L1077.9,228.1L1078.8,228.9L1079.8,227.8L1078.5,226.7L1079.5,225.6L1079.3,225.3L1080.2,224.2L1071.8,216.7L1072.8,215.6L1086.9,228.2L1084.9,230.4L1082.1,233.7ZM1088.8,226L1080.4,218.4L1081.4,217.3L1086,221.5L1087,220.4L1089,222.2L1090,221.2L1089.5,220.7L1090.5,219.7L1079.7,209.4L1080.7,208.3L1089.4,216.6L1090.4,215.5L1090.2,215.3L1091.3,214.2L1092.4,215.4L1093.5,214.3L1093.3,214.1L1094.3,213.1L1090.6,209.5L1091.7,208.4L1093.3,210L1094.3,208.9L1091.9,206.5L1092.9,205.4L1098.2,210.8L1099.3,209.7L1095.5,205.9L1096.6,204.9L1098.1,206.4L1099.2,205.4L1101.2,207.5L1102.3,206.5L1103,207.2L1104,206.2L1102.1,204.2L1103.2,203.2L1105.5,205.7L1106.6,204.7L1108.2,206.4L1107.1,207.4L1104,210.4L1100.9,213.4L1097.8,216.5L1094.8,219.7L1091.8,222.8L1088.8,226ZM1109.3,205.4L1104.1,199.9L1105.2,198.9L1103.9,197.4L1105,196.4L1107.5,199.2L1108.6,198.2L1110,199.7L1111.1,198.7L1108,195.3L1109.1,194.3L1110.4,195.7L1111.5,194.7L1113,196.5L1114.1,195.5L1109.8,190.5L1110.9,189.6L1110.7,189.4L1111.9,188.4L1111.2,187.6L1112.3,186.6L1115.5,190.3L1116.6,189.4L1115.7,188.3L1116.9,187.3L1122.3,193.8L1119,196.6L1115.7,199.5L1112.5,202.4L1109.3,205.4ZM1123.4,192.9L1115.9,183.9L1117,182.9L1120.8,187.5L1122,186.5L1118,181.6L1119.1,180.7L1124,186.7L1125.2,185.8L1124.5,185L1125.7,184L1126.6,185.2L1127.8,184.3L1126.8,183.1L1127.9,182.1L1126.9,180.8L1128,179.9L1130,182.4L1131.2,181.5L1127.1,176.2L1128.3,175.3L1130.2,177.8L1131.3,176.9L1130.9,176.3L1132.1,175.4L1132,175.2L1133.1,174.3L1134.4,176L1135.6,175.2L1135.6,175.1L1136.8,174.3L1140.6,179.4L1137.1,182L1133.6,184.7L1130.2,187.4L1126.8,190.1L1123.4,192.9ZM1141.7,178.5L1129.7,162.1L1131,161.2L1133.5,164.7L1134.7,163.8L1139,169.7L1140.2,168.8L1141.8,171.1L1143,170.3L1142.8,170L1144.1,169.2L1144.8,170.2L1146,169.3L1145.5,168.7L1146.7,167.9L1150,172.6L1148.8,173.5L1145.3,176L1141.7,178.5ZM1152.4,171L1149.7,166.9L1150.9,166.1L1150.4,165.4L1151.6,164.5L1152,165.1L1153.2,164.3L1152.4,163.1L1153.7,162.3L1155.8,165.6L1157.1,164.8L1155,161.6L1156.3,160.8L1155.6,159.9L1156.9,159.1L1160.9,165.4L1159.7,166.2L1156.1,168.6L1152.4,171ZM1162.2,164.6L1157.7,157.6L1159,156.8L1159.8,158.1L1161,157.3L1161,157.2L1162.2,156.4L1160.3,153.2L1161.6,152.5L1159.4,148.9L1160.7,148.2L1163.4,152.6L1164.7,151.8L1166.5,154.9L1167.8,154.2L1168.1,154.7L1169.4,154L1169.3,153.7L1170.5,153L1167.5,147.7L1168.8,147L1174.6,157.1L1173.4,157.9L1169.6,160.1L1165.9,162.3L1162.2,164.6ZM1179.7,154.3L1174.8,145.5L1176.1,144.8L1176.6,145.6L1177.9,144.8L1176.7,142.7L1178,142L1181.2,147.9L1182.5,147.2L1183,148.1L1184.3,147.4L1180.4,140.1L1181.7,139.4L1184.9,145.4L1186.2,144.7L1186.4,145.1L1187.7,144.5L1187.2,143.5L1188.6,142.9L1188,141.8L1189.3,141.1L1192.5,147.5L1191.2,148.1L1187.4,150.1L1183.5,152.2L1179.7,154.3ZM1193.8,146.8L1189.1,137.2L1190.4,136.5L1192.2,140.1L1193.5,139.5L1191.6,135.6L1192.9,134.9L1193.6,136.4L1195,135.7L1196.3,138.5L1197.6,137.8L1200.4,143.7L1197.8,144.9L1193.8,146.8ZM1201.7,143.1L1198.5,136.1L1199.8,135.5L1200,136L1201.4,135.4L1200.4,133.3L1201.8,132.7L1202.3,133.8L1203.6,133.2L1204,134L1205.4,133.4L1206.8,136.6L1208.1,136L1207.5,134.6L1208.9,134L1209.8,136.2L1211.1,135.6L1209.7,132.2L1211,131.6L1210.6,130.6L1212,130L1212.7,131.8L1214.1,131.2L1213.7,130.2L1215,129.6L1212.9,124.4L1214.3,123.9L1216.7,129.8L1218.1,129.3L1217.6,128.1L1219,127.6L1220.9,132.4L1222.3,131.9L1223.1,133.9L1221.7,134.5L1217.7,136.1L1213.7,137.7L1209.6,139.5L1205.7,141.2L1201.7,143.1ZM1224.4,133.4L1222.4,128L1223.7,127.5L1222.1,123.3L1223.5,122.7L1223.7,123.2L1225.1,122.7L1226.4,126.1L1227.8,125.6L1227.1,123.7L1228.5,123.2L1230.1,127.6L1231.5,127.1L1230.7,125L1232.1,124.5L1230.9,121.1L1232.3,120.6L1231.8,119.2L1233.2,118.7L1233.1,118.2L1234.5,117.7L1235,119.3L1236.4,118.8L1236.5,119L1237.9,118.5L1237.5,117.3L1238.9,116.9L1239.2,117.8L1240.6,117.3L1243.6,126.6L1240.9,127.5L1236.7,128.9L1232.6,130.4L1228.5,131.9L1224.4,133.4ZM1245,126.2L1241.8,116.1L1243.2,115.6L1244.4,119.3L1245.8,118.9L1245.3,117.2L1246.7,116.8L1242.3,102L1243.7,101.6L1248.4,117.1L1249.8,116.7L1251.2,121.3L1252.6,120.9L1252,118.9L1253.4,118.5L1253.1,117.6L1254.6,117.2L1253.8,114.4L1255.2,114L1257.6,122.5L1253.4,123.7L1249.2,124.9L1245,126.2ZM1259,122.1L1257.3,116L1258.7,115.7L1259.1,117L1260.5,116.6L1259.2,111.6L1260.7,111.2L1260.6,111.1L1262.1,110.7L1261.8,109.8L1263.3,109.4L1263.7,111L1265.1,110.7L1264.6,108.5L1266.1,108.2L1267.1,112.4L1268.5,112L1268.9,113.4L1270.3,113.1L1269,107.6L1270.5,107.3L1270.7,108.3L1272.2,107.9L1273.6,114.4L1275,114.1L1270.4,93L1271.9,92.7L1276,111.5L1277.4,111.2L1276.6,107.1L1278,106.8L1278.9,111L1280.4,110.7L1278.5,101.4L1280,101.1L1281,106.5L1282.5,106.2L1282.8,107.5L1284.2,107.2L1285.4,113.2L1286.8,113L1286.8,113L1288.3,112.8L1288.1,111.7L1289.5,111.4L1288.7,107L1290.2,106.7L1290.4,107.8L1291.8,107.5L1292.1,109.1L1293.5,108.8L1293,105.8L1294.5,105.5L1295.2,109.7L1296.6,109.4L1296.6,109.4L1298.1,109.1L1297.1,102.8L1298.6,102.6L1298.8,103.8L1300.2,103.5L1300.7,106.6L1302.1,106.4L1302.4,108.4L1303.9,108.2L1304.5,112.9L1301.6,113.3L1297.3,113.9L1293,114.6L1288.7,115.4L1284.4,116.2L1280.2,117L1275.9,117.9L1271.6,118.9L1267.4,119.9L1263.2,121L1259,122.1ZM1306,112.7L1304.6,102.2L1306.1,102L1306.8,108.2L1308.3,108L1307.2,99.1L1308.7,98.9L1309,101.7L1310.5,101.5L1310.9,104.7L1312.4,104.5L1312.3,103.6L1313.7,103.4L1314.1,107.1L1315.6,106.9L1315.3,104.2L1316.8,104.1L1317.5,111.3L1314.6,111.6L1310.3,112.1L1306,112.7ZM1319,111.2L1318.2,103.6L1319.7,103.5L1319.7,102.9L1321.1,102.8L1321.1,102.4L1322.6,102.3L1322.7,103.6L1324.2,103.5L1324.6,108.2L1326,108.1L1325.8,104.8L1327.2,104.7L1327.2,104.4L1328.7,104.3L1328.4,99.2L1329.9,99.1L1330.1,103.7L1331.6,103.7L1331.6,103.3L1333.1,103.2L1333,102.2L1334.5,102.2L1334.6,103.4L1336.1,103.4L1336.2,105.6L1337.6,105.5L1337.6,105.8L1339.1,105.8L1339,102.4L1340.5,102.4L1340.5,102L1341.9,101.9L1342.2,109.8L1340.7,109.8L1336.4,110L1332,110.2L1327.6,110.5L1323.3,110.8L1319,111.2ZM1352.3,109.6L1352.3,101.5L1353.8,101.5L1353.8,103.1L1355.3,103.1L1355.3,96.2L1356.9,96.2L1356.8,100.5L1358.3,100.5L1358.3,99.9L1359.8,100L1359.7,103.9L1361.2,103.9L1361.2,104.9L1362.6,104.9L1362.5,109.7L1361.1,109.7L1356.7,109.6L1352.3,109.6ZM1364,109.8L1364.1,105.7L1365.6,105.7L1365.7,102.1L1367.2,102.2L1367.2,102.5L1368.6,102.6L1368.8,99.3L1370.3,99.4L1370.4,97.9L1371.9,97.9L1371.2,110.1L1368.3,109.9L1364,109.8ZM1372.7,110.2L1373.4,98.2L1374.9,98.3L1374.4,106L1375.9,106.1L1375.8,106.8L1377.3,106.8L1377.3,105.8L1378.8,105.9L1379.3,98.8L1380.8,98.9L1380.6,101.7L1382.1,101.8L1382.1,101.9L1383.6,102.1L1382.8,110.9L1381.4,110.8L1377,110.4L1372.7,110.2ZM1384.3,111L1384.7,106.7L1386.1,106.8L1387,97L1388.5,97.2L1387.6,106.5L1389.1,106.6L1389.8,99.6L1391.3,99.8L1390.4,108.3L1391.9,108.5L1391.5,111.7L1388.6,111.4L1384.3,111ZM1393,111.9L1393.6,106.4L1395,106.6L1394.9,108.1L1396.3,108.3L1396.8,104.7L1398.2,104.9L1398.5,103L1400,103.2L1399.5,106.6L1401,106.8L1400.7,108.9L1402.1,109.1L1403.1,102.4L1404.6,102.6L1404.1,105.9L1405.6,106.1L1406,103.4L1407.4,103.6L1407.3,104.6L1408.8,104.9L1408.4,107.3L1409.8,107.5L1409.8,107.9L1411.2,108.2L1411.1,108.9L1412.6,109.2L1413.7,102.2L1415.2,102.5L1414.2,108.2L1415.7,108.4L1416.8,101.9L1418.3,102.2L1417.3,108.1L1418.7,108.4L1419.9,102L1421.4,102.3L1420.9,104.6L1422.4,104.9L1421.9,107.5L1423.4,107.7L1422.4,112.5L1423.9,112.8L1424.2,111.3L1425.6,111.6L1426.6,106.7L1428.1,107L1427.1,111.6L1428.6,111.9L1428.9,110.6L1430.3,110.9L1431,107.8L1432.4,108.1L1433.7,102.5L1435.2,102.8L1434.4,106.1L1435.9,106.4L1435.9,106.6L1437.3,106.9L1435.9,113L1437.3,113.3L1438.2,109.6L1439.7,110L1439.9,108.9L1441.4,109.3L1440.6,112.7L1442,113.1L1442.2,112.2L1443.7,112.6L1443.5,113.2L1444.9,113.6L1444.3,115.9L1445.7,116.3L1444.3,121.6L1440.1,120.5L1435.9,119.4L1431.6,118.5L1427.4,117.5L1423.1,116.6L1418.8,115.8L1414.5,115L1410.2,114.3L1405.9,113.6L1401.6,113L1397.3,112.4L1393,111.9ZM1445.7,122L1447.4,116L1448.8,116.4L1449,115.6L1450.4,116L1451,114L1452.4,114.4L1452.1,115.4L1453.6,115.8L1452.7,118.7L1454.1,119.1L1455.8,113.3L1457.3,113.8L1457.9,111.6L1459.4,112L1456.8,120.6L1458.2,121L1460,115L1461.5,115.4L1461.2,116.3L1462.6,116.7L1461.5,120.3L1462.9,120.8L1464.1,117.1L1465.5,117.5L1464.2,121.7L1465.6,122.1L1468,114.8L1469.4,115.2L1468.1,119.3L1469.5,119.8L1469.1,121L1470.5,121.5L1471.3,118.9L1472.7,119.4L1475.7,111L1477.1,111.5L1473.5,121.8L1474.9,122.3L1475.9,119.5L1477.3,120L1477.2,120.2L1478.6,120.7L1474.8,131.2L1470.7,129.7L1466.6,128.3L1462.5,126.9L1458.3,125.6L1454.1,124.3L1449.9,123.1L1445.7,122ZM1476.2,131.7L1478.6,125.2L1480,125.7L1479.3,127.4L1480.7,127.9L1481.9,124.8L1483.3,125.4L1484.9,121.3L1486.3,121.8L1484.4,126.6L1485.8,127.2L1485.8,127L1487.2,127.5L1487.1,127.7L1488.5,128.3L1489.3,126.4L1490.7,127L1491.5,124.8L1492.9,125.4L1492.3,126.9L1493.7,127.4L1494.2,126.1L1495.6,126.7L1494.6,129.1L1496,129.7L1497,127.2L1498.4,127.8L1495.8,133.9L1497.2,134.4L1497,134.9L1498.3,135.5L1500,131.6L1501.4,132.2L1501.4,132.1L1502.8,132.8L1503.1,132L1504.5,132.6L1503.8,134.1L1505.2,134.7L1506.3,132.2L1507.7,132.8L1508.4,131.3L1509.7,132L1509.1,133.4L1510.4,134L1507.9,139.3L1509.3,139.9L1509.4,139.6L1510.8,140.2L1511.1,139.6L1512.4,140.2L1514,137L1515.3,137.6L1514.2,139.8L1515.6,140.5L1512.2,147.3L1508.3,145.3L1504.3,143.5L1500.4,141.6L1496.4,139.8L1492.4,138.1L1488.4,136.4L1484.3,134.8L1480.3,133.2L1476.2,131.7ZM1513.5,147.9L1517.7,139.5L1519.1,140.2L1518.2,141.8L1519.6,142.5L1519.9,141.8L1521.3,142.5L1519.4,146L1520.7,146.7L1521.1,145.9L1522.4,146.6L1523.3,145L1524.6,145.6L1521.2,151.9L1517.4,149.9L1513.5,147.9ZM1522.5,152.6L1530.1,138.6L1531.4,139.3L1536.2,130.7L1537.5,131.4L1535.4,135.3L1536.7,136.1L1532.5,143.7L1533.8,144.5L1534.6,143L1535.9,143.7L1534.6,146.1L1535.9,146.8L1533.8,150.5L1535,151.3L1537.9,146.3L1539.2,147.1L1541.4,143.3L1542.7,144.1L1540,148.7L1541.3,149.4L1550.9,133.3L1552.3,134.1L1543.1,149.3L1544.4,150.1L1542.7,152.9L1544,153.7L1551.4,141.6L1552.7,142.4L1551.5,144.5L1552.8,145.3L1541.4,163.6L1537.6,161.3L1533.9,159.1L1530.1,156.9L1526.3,154.7L1522.5,152.6ZM1542.6,164.4L1552.8,148.2L1554.1,149L1557.1,144.2L1558.4,145L1553,153.5L1554.3,154.3L1557.4,149.5L1558.7,150.3L1554.7,156.5L1555.9,157.3L1558.1,154L1559.3,154.9L1576.9,128.5L1578.2,129.4L1564.9,149.3L1566.2,150.2L1564,153.4L1565.3,154.3L1569,148.7L1570.3,149.6L1564.8,157.7L1566.1,158.5L1572.1,149.9L1573.4,150.8L1570.8,154.4L1572.1,155.3L1567.6,161.7L1568.8,162.6L1569.9,161.1L1571.1,162L1568.4,165.7L1569.7,166.6L1573.6,161.1L1574.8,162L1581.9,152.4L1583.1,153.4L1577.6,160.9L1578.9,161.8L1576.2,165.3L1577.4,166.3L1575.8,168.4L1577.1,169.3L1585.5,158.1L1586.8,159.1L1587.3,158.4L1588.5,159.3L1580.7,169.5L1581.9,170.5L1589.2,161L1590.5,162L1587.1,166.3L1588.3,167.3L1581.8,175.5L1583,176.4L1583.8,175.5L1585,176.4L1587.2,173.6L1588.4,174.6L1584.5,179.4L1585.7,180.3L1585.2,180.9L1586.4,181.9L1597.5,168.4L1598.7,169.4L1592,177.4L1593.2,178.3L1581.4,192.5L1578,189.8L1574.6,187L1571.2,184.3L1567.7,181.7L1564.2,179.1L1560.7,176.5L1557.1,174L1553.5,171.5L1549.9,169.1L1546.3,166.7L1542.6,164.4ZM1582.5,193.5L1587.6,187.4L1588.7,188.3L1583.6,194.4L1582.5,193.5ZM1584.7,195.3L1592.7,186L1593.9,186.9L1591.3,189.9L1592.4,190.9L1590.9,192.6L1592.1,193.6L1594.4,190.9L1595.5,191.9L1595.6,191.7L1596.8,192.7L1595,194.7L1596.1,195.7L1593.3,198.8L1594.4,199.8L1598,195.8L1599.1,196.8L1599,197L1600.1,198L1602.7,195.1L1603.8,196.1L1603,197L1604.1,198L1601.9,200.3L1603,201.3L1603.2,201.2L1604.2,202.2L1603.7,202.8L1604.7,203.9L1603.1,205.5L1604.2,206.5L1609.1,201.4L1610.2,202.5L1605.2,207.6L1606.3,208.6L1606.2,208.7L1607.2,209.7L1607.5,209.5L1608.5,210.5L1610.7,208.3L1611.8,209.4L1613.6,207.6L1614.7,208.6L1611.9,211.4L1612.9,212.4L1616.9,208.5L1618,209.6L1615.5,212L1616.6,213L1614.4,215.1L1615.5,216.2L1624.2,207.8L1625.2,209L1619.1,214.7L1620.2,215.8L1617.3,218.4L1618.4,219.5L1619,218.9L1620,220L1628.2,212.5L1629.2,213.6L1626.7,215.9L1627.7,217L1623.1,221.2L1624.1,222.3L1625.7,220.9L1626.7,222L1625.8,222.8L1626.7,223.9L1629.3,221.7L1630.2,222.8L1628.5,224.3L1629.5,225.5L1627,227.7L1628,228.8L1633,224.5L1634,225.6L1629.8,229.2L1630.7,230.3L1629.7,231.2L1630.6,232.3L1633.7,229.8L1634.6,230.9L1635.6,230.1L1636.5,231.3L1637.8,230.2L1638.8,231.4L1634.4,235L1635.3,236.2L1640.2,232.2L1641.2,233.3L1635.3,238.1L1636.2,239.3L1642.7,234.1L1643.6,235.2L1638.7,239.2L1639.6,240.3L1638.5,241.2L1639.4,242.4L1633.9,246.7L1633,245.6L1630.2,242.2L1627.5,238.8L1624.7,235.5L1621.8,232.2L1618.9,228.9L1616,225.7L1613.1,222.5L1610.1,219.3L1607,216.2L1603.9,213.1L1600.8,210L1597.7,207L1594.5,204L1591.3,201.1L1588,198.2L1584.7,195.3ZM1346.4,823.5L1346.2,834.7L1344.7,834.6L1344.7,833.5L1343.2,833.5L1343.1,836.6L1341.6,836.6L1341.8,831.6L1340.3,831.6L1340.4,828.8L1338.9,828.7L1338.9,829.6L1337.4,829.5L1337.3,830.9L1335.9,830.8L1335.7,834.9L1334.2,834.8L1334.6,826L1333.1,825.9L1332.9,831.2L1331.4,831.2L1331.4,830.9L1329.9,830.8L1330.4,822.9L1333.3,823.1L1337.7,823.3L1342,823.4L1346.4,823.5ZM1323.2,822.4L1322.8,827L1321.3,826.9L1320.7,834.3L1319.2,834.1L1319.6,829.4L1318.1,829.3L1318.8,822L1323.2,822.4ZM1317.4,821.9L1316,836L1314.5,835.8L1314.5,835.2L1313,835L1313,834.8L1311.5,834.6L1313,821.4L1317.4,821.9ZM1311.6,821.2L1310.3,832.4L1308.8,832.3L1309.3,827.7L1307.9,827.5L1307.9,827.2L1306.4,827L1306.5,826.3L1305.1,826.1L1305.2,825.4L1303.7,825.2L1303.9,823.9L1302.4,823.7L1302.1,826.1L1300.6,825.9L1301,823.6L1299.5,823.4L1300.1,819.7L1302.9,820.1L1307.3,820.7L1311.6,821.2ZM1298.6,819.5L1297,829.7L1295.6,829.5L1297.2,819.3L1298.6,819.5ZM1162,768.5L1161.6,769.2L1160.3,768.5L1160.8,767.7L1162,768.5ZM1159.6,766.9L1158.5,768.7L1157.2,767.9L1157.1,768.1L1155.9,767.3L1157.1,765.3L1159.6,766.9ZM1155.9,764.5L1154.9,766L1153.7,765.2L1154.7,763.7L1155.9,764.5ZM1153.5,762.9L1151.3,766.2L1150.1,765.3L1149.4,766.4L1148.2,765.5L1148.6,765L1147.4,764.1L1145.6,766.8L1144.4,765.9L1146.2,763.3L1145,762.4L1144.3,763.4L1143.1,762.5L1143.6,761.8L1142.4,761L1141.8,761.9L1140.6,761L1140.4,761.2L1139.3,760.3L1138.4,761.5L1137.2,760.6L1138.6,758.6L1137.5,757.8L1137.7,757.4L1136.6,756.5L1136.6,756.4L1135.5,755.5L1136.6,754L1135.4,753.1L1132.2,757.4L1131,756.5L1131.5,755.9L1130.3,755L1131.9,753L1130.7,752.1L1133.5,748.5L1135.8,750.2L1139.3,752.9L1142.8,755.4L1146.3,758L1149.9,760.5L1153.5,762.9ZM1132.3,747.6L1128.3,752.8L1127.1,751.9L1127.5,751.3L1126.4,750.4L1127.7,748.8L1126.5,747.8L1125.9,748.6L1124.7,747.7L1126.1,746L1125,745.1L1123.8,746.6L1122.6,745.7L1123.8,744.2L1122.6,743.3L1120.5,745.9L1119.3,745L1122.4,741.4L1121.3,740.4L1120.5,741.3L1119.4,740.3L1117.3,742.8L1116.2,741.9L1118.1,739.7L1116.9,738.7L1114.7,741.3L1113.6,740.4L1114.2,739.6L1113.1,738.7L1114.3,737.3L1113.2,736.3L1104.2,746.4L1103.1,745.4L1110,737.7L1108.9,736.7L1107.7,738L1106.6,737L1110.9,732.3L1109.8,731.3L1111.3,729.7L1112.4,730.7L1115.6,733.6L1118.9,736.5L1122.2,739.3L1125.6,742.1L1128.9,744.8L1132.3,747.6ZM1110.2,728.7L1104,735.4L1102.9,734.4L1106.2,730.9L1105.2,729.9L1108.1,726.7L1110.2,728.7ZM1107,725.7L1105.3,727.5L1104.3,726.5L1103.4,727.4L1102.4,726.4L1104.9,723.7L1107,725.7ZM1103.9,722.7L1099.2,727.5L1098.2,726.5L1100.1,724.5L1099.1,723.5L1098.1,724.4L1097.1,723.4L1098.2,722.2L1097.2,721.2L1097.5,720.9L1096.4,719.9L1097.1,719.2L1096.1,718.2L1096.7,717.6L1095.6,716.5L1096.7,715.5L1097.7,716.6L1100.8,719.7L1103.9,722.7ZM1094.7,713.4L1091.8,716.2L1090.8,715.1L1093.7,712.4L1094.7,713.4ZM1092.7,711.3L1087.8,715.9L1086.8,714.8L1084.9,716.6L1083.9,715.5L1087.2,712.4L1086.2,711.3L1089.7,708.1L1092.7,711.3ZM1088.7,707.1L1086.3,709.3L1085.3,708.2L1086.1,707.5L1085.1,706.4L1084.8,706.7L1083.8,705.6L1081.1,708L1080.1,706.9L1082.3,704.9L1081.4,703.8L1083.9,701.6L1085.8,703.8L1088.7,707.1ZM1082,699.4L1077.9,702.9L1077,701.8L1077.4,701.4L1076.5,700.3L1076.1,700.6L1075.1,699.5L1079.2,696.1L1082,699.4ZM1078.2,695L1075.5,697.3L1074.5,696.2L1072.9,697.5L1072,696.4L1076.4,692.8L1078.2,695ZM1071.8,687.1L1068.7,689.6L1067.8,688.4L1067.1,688.9L1066.2,687.8L1066.4,687.6L1065.6,686.4L1066.1,685.9L1065.2,684.8L1066.8,683.6L1065.9,682.5L1067.4,681.3L1069.2,683.6L1071.8,687.1ZM1065.7,679L1060.3,682.9L1059.4,681.7L1060.7,680.8L1059.9,679.6L1060.9,678.9L1060,677.7L1052.6,683L1051.7,681.8L1055.5,679.1L1054.6,677.9L1057.9,675.6L1057,674.4L1060.6,671.9L1063.1,675.5L1065.7,679ZM1058.9,669.5L1055.7,671.7L1054.9,670.5L1058.1,668.3L1058.9,669.5ZM1057.2,667.1L1054,669.4L1053.1,668.1L1053.7,667.8L1052.9,666.6L1052.9,666.5L1052.1,665.3L1053.5,664.4L1052.7,663.1L1052.1,663.5L1051.3,662.3L1048.5,664.2L1047.7,662.9L1050.2,661.3L1049.4,660.1L1048.6,660.6L1047.8,659.3L1050.9,657.4L1052.4,659.9L1054.8,663.5L1057.2,667.1ZM1050.1,656.2L1042.7,660.8L1041.9,659.5L1042.3,659.3L1041.5,658L1042.3,657.5L1041.6,656.3L1044,654.8L1043.3,653.5L1044.4,652.8L1043.6,651.6L1046.3,650L1047.8,652.5L1050.1,656.2ZM1045.6,648.7L1042.9,650.3L1042.1,649.1L1036.1,652.6L1035.4,651.3L1025.1,657.3L1024.4,655.9L1034,650.4L1033.2,649.1L1037,646.9L1036.3,645.6L1036.4,645.6L1035.7,644.3L1039.5,642.1L1038.8,640.9L1036.6,642.1L1035.8,640.8L1033,642.4L1032.3,641.1L1039.1,637.4L1041.2,641.2L1043.4,645L1045.6,648.7ZM1038.4,636.1L1035.9,637.4L1035.2,636.2L1030.3,638.8L1029.6,637.4L1034.4,634.9L1033.7,633.6L1030.8,635.1L1030.1,633.8L1030.5,633.6L1029.8,632.3L1033.1,630.7L1032.4,629.4L1028.6,631.3L1027.9,630L1031.6,628.1L1030.9,626.8L1031.1,626.7L1030.5,625.4L1029.5,625.9L1028.8,624.6L1030.3,623.9L1029.6,622.6L1027,623.8L1026.4,622.5L1022.2,624.5L1021.6,623.1L1025.8,621.1L1025.2,619.8L1024.9,620L1024.2,618.6L1023.6,618.9L1023,617.6L1023.9,617.2L1023.3,615.8L1021.7,616.5L1021.1,615.2L1026.8,612.6L1028.6,616.6L1030.5,620.5L1032.4,624.5L1034.4,628.4L1036.4,632.2L1038.4,636.1ZM1026.2,611.3L1021.4,613.4L1020.8,612.1L1020.1,612.4L1019.5,611L1021.4,610.2L1020.8,608.9L1019,609.7L1018.4,608.3L1020.3,607.5L1019.7,606.2L1023.4,604.6L1024.5,607.3L1026.2,611.3ZM1022.8,603.3L1018,605.3L1017.4,603.9L1013,605.7L1012.5,604.3L1017.2,602.4L1016.7,601L1014.6,601.9L1014,600.5L1012,601.3L1011.5,599.9L1010.9,600.1L1010.4,598.7L1010.2,598.8L1009.7,597.4L1010.9,596.9L1010.4,595.5L1010.8,595.4L1010.3,594L1018,591.1L1019.6,595.2L1021.2,599.2L1022.8,603.3ZM1013.2,577.4L1009.7,578.5L1009.2,577.1L1007.1,577.8L1006.6,576.4L1012.3,574.6L1013.2,577.4ZM1011.9,573.2L1005.9,575.1L1005.5,573.7L1007,573.2L1006.6,571.8L1004.5,572.4L1004.1,571L1004.2,571L1003.8,569.6L1010.2,567.7L1010.6,569.1L1011.9,573.2ZM1009.8,566.3L1004.7,567.7L1004.3,566.3L1009.4,564.9L1009.8,566.3ZM1009,563.5L1003.4,565.1L1003,563.6L1004.5,563.2L1004.1,561.8L1004.8,561.6L1004.4,560.2L1002.1,560.8L1001.8,559.4L998,560.4L997.6,558.9L999.5,558.4L999.1,557L1000.1,556.7L999.8,555.3L1006.4,553.6L1006.7,555.1L1007.8,559.3L1009,563.5ZM1006,552.2L999.3,553.9L999,552.4L996.1,553.1L995.7,551.7L1001.5,550.3L1001.2,548.9L997.6,549.7L997.3,548.3L999.4,547.8L999,546.4L1000.3,546.1L1000,544.6L1004,543.7L1005,548L1006,552.2ZM1003.4,540.9L998.8,541.9L998.5,540.4L994.3,541.3L994,539.8L1002.8,538.1L1003.4,540.9ZM1002.3,535.2L997,536.2L996.8,534.8L995,535.1L994.8,533.6L996.7,533.3L996.4,531.8L994.9,532.1L994.6,530.7L993.2,530.9L992.9,529.5L989.4,530.1L989.1,528.6L1000.7,526.6L1001.4,530.9L1002.3,535.2ZM1000.4,525.2L992.7,526.5L992.4,525L995.6,524.5L995.3,523.1L993.2,523.4L993,521.9L984,523.3L983.8,521.8L990.9,520.7L990.6,519.3L994.6,518.7L994.4,517.2L991.6,517.6L991.4,516.2L998.9,515.1L999.1,516.6L999.8,520.9L1000.4,525.2ZM998.7,513.7L993.5,514.4L993.3,512.9L986.9,513.8L986.7,512.3L995.3,511.2L995.1,509.7L996,509.6L995.8,508.2L998,507.9L998.2,509.4L998.7,513.7ZM997.8,506.5L993.3,507L993.2,505.5L997.7,505L997.8,506.5ZM997,497.8L987.7,498.6L987.6,497.1L989.5,497L989.3,495.5L996.7,494.9L997,497.8ZM996.2,487.6L988.8,488.1L988.7,486.6L989.7,486.6L989.6,485.1L996.1,484.7L996.2,487.6ZM996,483.3L990.2,483.6L990.1,482.1L985.3,482.3L985.2,480.8L991.1,480.6L991.1,479.1L990.8,479.1L990.8,477.6L992.5,477.6L992.4,476.1L990.1,476.2L990,474.7L992.2,474.7L992.2,473.2L995.7,473.1L995.7,474.6L995.8,478.9L996,483.3ZM995.6,470.2L990.8,470.3L990.8,468.8L990.8,468.8L990.8,467.3L995.6,467.3L995.6,470.2ZM995.6,464.4L992.2,464.4L992.2,462.9L992.1,462.9L992.1,461.4L993.3,461.5L993.3,460L992.2,460L992.2,458.5L992.2,458.5L992.3,457L992.8,457.1L992.8,455.6L984.7,455.3L984.7,453.8L986.9,453.9L987,452.4L988.7,452.5L988.8,451L986.6,450.9L986.7,449.4L988.7,449.5L988.8,448L991.3,448.2L991.4,446.7L989.1,446.6L989.2,445.1L996.2,445.5L996.1,447L995.9,451.3L995.8,455.7L995.7,460L995.6,464.4ZM996.5,441.2L993.1,440.9L993.2,439.5L990.5,439.3L990.6,437.8L986.3,437.4L986.4,435.9L996.8,436.8L996.5,441.2ZM997,435.4L987.5,434.5L987.6,433L984.5,432.8L984.6,431.3L994.3,432.2L994.5,430.7L994.4,430.7L994.5,429.3L991.2,428.9L991.3,427.4L997.7,428.1L997.4,431L997,435.4ZM997.8,426.7L994,426.3L994.2,424.8L992.1,424.6L992.3,423.1L996,423.5L996.2,422.1L994.2,421.8L994.4,420.4L993.3,420.2L993.5,418.8L995.5,419L995.7,417.6L992.4,417.1L992.6,415.7L995.2,416L995.4,414.6L996.4,414.7L996.6,413.3L997.4,413.4L997.6,412L993.9,411.4L994.2,409.9L991.9,409.6L992.1,408.1L993.2,408.3L993.4,406.8L995.8,407.2L996.1,405.8L1000.7,406.5L1000.2,409.4L999.5,413.7L998.9,418L998.4,422.4L997.8,426.7ZM1000.9,405.1L998.8,404.7L999.1,403.3L997.2,403L997.5,401.5L993.4,400.8L993.7,399.3L996.4,399.8L996.7,398.4L997.6,398.6L997.9,397.1L997.3,397L997.6,395.5L994.2,394.9L994.5,393.4L998.5,394.2L998.8,392.8L999.5,392.9L999.8,391.5L1003.4,392.3L1002.5,396.5L1001.7,400.8L1000.9,405.1ZM1003.7,390.8L999,389.8L999.3,388.4L998.3,388.2L998.6,386.7L1002.3,387.5L1002.6,386.1L1004.7,386.6L1003.7,390.8ZM1005,385.2L996.9,383.3L997.3,381.8L1001.2,382.8L1001.6,381.3L1000.4,381.1L1000.8,379.6L1001.2,379.7L1001.6,378.3L1006.4,379.5L1006,380.9L1005,385.2ZM1006.7,378.1L1000.3,376.5L1000.6,375L999.2,374.6L999.6,373.2L1004.3,374.5L1004.7,373L1007.8,373.9L1006.7,378.1ZM1008.2,372.5L1005.5,371.8L1005.9,370.3L1008.6,371.1L1008.2,372.5ZM1009,369.7L1006.8,369.1L1007.2,367.7L1003.2,366.5L1003.6,365.1L1007.8,366.3L1008.2,364.9L1003.2,363.4L1003.6,362L1005.8,362.6L1006.2,361.2L1006.1,361.2L1006.5,359.8L1011.5,361.3L1010.2,365.5L1009,369.7ZM1011.9,359.9L1008.2,358.8L1008.7,357.4L1012.3,358.6L1011.9,359.9ZM1015.6,348.9L1009.1,346.6L1009.6,345.2L1016,347.5L1015.6,348.9Z" fill="#7a7a7a" stroke="#454545" stroke-width="0.55"/>
<path d="M1045.3,284.9L960.8,234.9M1096.7,217.7L1074.7,196.3M1134.8,183.8L1117.9,161.9M1229.3,131.6L1187.2,17.1M1245.8,125.9L1215.6,29.3M1280.8,116.9L1270,64.3M1290.6,115L1271.7,7.8M1371.9,110.1L1374.1,68.8M1457.6,125.4L1471.6,79.9M1521.3,152L1567,66.8M1532.2,158.1L1607,29.5M1536.5,160.6L1603.6,48.8M1544.4,165.5L1602.1,74.9M1548.1,167.9L1644.7,20.3M1551.2,169.9L1629.7,52.7M1553.8,171.7L1601.3,102M1570.9,184.1L1593.4,155M1609,218.2L1625.5,202.1M1668.7,300.7L1690.4,289.2M1708.8,442.3L1727.1,441.1M1705,523.7L1729.2,527.6M1404.8,819.8L1407,834.9M1338.3,823.3L1337.5,843.2M1313.4,821.4L1309.9,853.5M1001.5,531L980.3,534.9M996.5,441.1L972,439.3M1539.1,162.2L1587.2,83.7M1542.3,164.2L1603.4,66.7M1528.4,155.9L1558.6,102.5M1525.7,154.4L1562.9,87.3M1540.7,163.2L1577.1,104.5M1544.3,165.5L1598.5,80.3M1551.5,170.2L1617.2,72.3M1549.2,168.6L1613.2,71.7M1518.7,150.6L1554.9,81.9M1557.6,174.3L1611.1,98.1M1555.9,173.1L1583.1,133.7M1537.8,161.4L1568.5,110.8M1541,163.4L1586.8,89.6M1518,150.2L1544.3,100.1M1529.7,156.6L1587,56.2M1550.3,169.3L1579,126.2M1551.6,170.2L1579.5,128.6M1544.1,165.3L1570.4,123.9M1517.5,150L1569.2,50.8" fill="none" stroke="#555" stroke-width="0.9"/>
<path d="M1036.9,284.4A364.5,364.5 0 1 1 1010,342.2" fill="none" stroke="#444" stroke-width="0.9" stroke-dasharray="3.4 2.8"/>
<path d="M1030.4,280.6A372.0,372.0 0 1 1 1002.9,339.7" fill="none" stroke="#444" stroke-width="0.9" stroke-dasharray="3.4 2.8"/>
<path d="M1010.5,269.1A395.0,395.0 0 1 1 981.3,331.8" fill="none" stroke="#444" stroke-width="0.9" stroke-dasharray="3.4 2.8"/>
<path d="M977.2,249.9A433.5,433.5 0 1 1 945.1,318.7" fill="none" stroke="#444" stroke-width="0.9" stroke-dasharray="3.4 2.8"/>
<text x="958.8" y="290.3" text-anchor="middle" font-size="14" fill="#222" stroke="#222">50</text>
<text x="991.0" y="308.7" text-anchor="middle" font-size="14" fill="#222" stroke="#222">25</text>
<text x="1010.8" y="320.0" text-anchor="middle" font-size="14" fill="#222" stroke="#222">10</text>
<text x="1026.6" y="325.7" text-anchor="middle" font-size="14" fill="#222" stroke="#222">5</text>
<text x="934.2" y="105.8" font-size="13.1" font-weight="bold" fill="#4a4a4a" stroke="#4a4a4a" style="stroke:none">Tree scale: 0.1</text>
<path d="M1034.5,102.3H1054.5M1034.5,99.2V105.5M1054.5,99.2V105.5M1044.3,102.3V104" stroke="#444" stroke-width="1" fill="none"/>
<rect x="1817.5" y="118.8" width="190" height="359.2" fill="#fff" stroke="#e6e6e6" stroke-width="1"/>
<text x="1823.3" y="135.9" font-size="15.8" font-weight="bold" fill="#111" stroke="#111">Phylum</text>
<line x1="1821" y1="145.5" x2="1997" y2="145.5" stroke="#aaa" stroke-width="1"/>
<rect x="1823.5" y="153.7" width="21.5" height="21.5" fill="#8294b0" stroke="#333" stroke-width="0.9"/>
<text x="1856.5" y="169.2" font-size="16.1" fill="#111" stroke="#111">Proteobacteria</text>
<rect x="1823.5" y="186.4" width="21.5" height="21.5" fill="#578890" stroke="#333" stroke-width="0.9"/>
<text x="1856.5" y="201.9" font-size="16.1" fill="#111" stroke="#111">Nitrospirota</text>
<rect x="1823.5" y="219.1" width="21.5" height="21.5" fill="#a1c1c6" stroke="#333" stroke-width="0.9"/>
<text x="1856.5" y="234.6" font-size="16.1" fill="#111" stroke="#111">Acidobacteriota</text>
<rect x="1823.5" y="251.8" width="21.5" height="21.5" fill="#d8c68f" stroke="#333" stroke-width="0.9"/>
<text x="1856.5" y="267.3" font-size="16.1" fill="#111" stroke="#111">Planctomycetota</text>
<rect x="1823.5" y="284.5" width="21.5" height="21.5" fill="#f0b881" stroke="#333" stroke-width="0.9"/>
<text x="1856.5" y="300.0" font-size="16.1" fill="#111" stroke="#111">Gemmatimonadota</text>
<rect x="1823.5" y="317.1" width="21.5" height="21.5" fill="#d9d2e8" stroke="#333" stroke-width="0.9"/>
<text x="1856.5" y="332.6" font-size="16.1" fill="#111" stroke="#111">Bacteroidota</text>
<rect x="1823.5" y="349.8" width="21.5" height="21.5" fill="#cf9cb9" stroke="#333" stroke-width="0.9"/>
<text x="1856.5" y="365.3" font-size="16.1" fill="#111" stroke="#111">Firmicutes</text>
<rect x="1823.5" y="382.5" width="21.5" height="21.5" fill="#e89698" stroke="#333" stroke-width="0.9"/>
<text x="1856.5" y="398.0" font-size="16.1" fill="#111" stroke="#111">Cyanobacteriota</text>
<rect x="1823.5" y="415.2" width="21.5" height="21.5" fill="#b5d6a6" stroke="#333" stroke-width="0.9"/>
<text x="1856.5" y="430.7" font-size="16.1" fill="#111" stroke="#111">Chloroflexota</text>
<rect x="1823.5" y="447.9" width="21.5" height="21.5" fill="#f0cbbb" stroke="#333" stroke-width="0.9"/>
<text x="1856.5" y="463.4" font-size="16.1" fill="#111" stroke="#111">Actinobacteriota</text>
<text x="955.2" y="32.6" font-size="45.2" fill="#0a0a0a" stroke="#0a0a0a">c</text>
</svg></body></html>
